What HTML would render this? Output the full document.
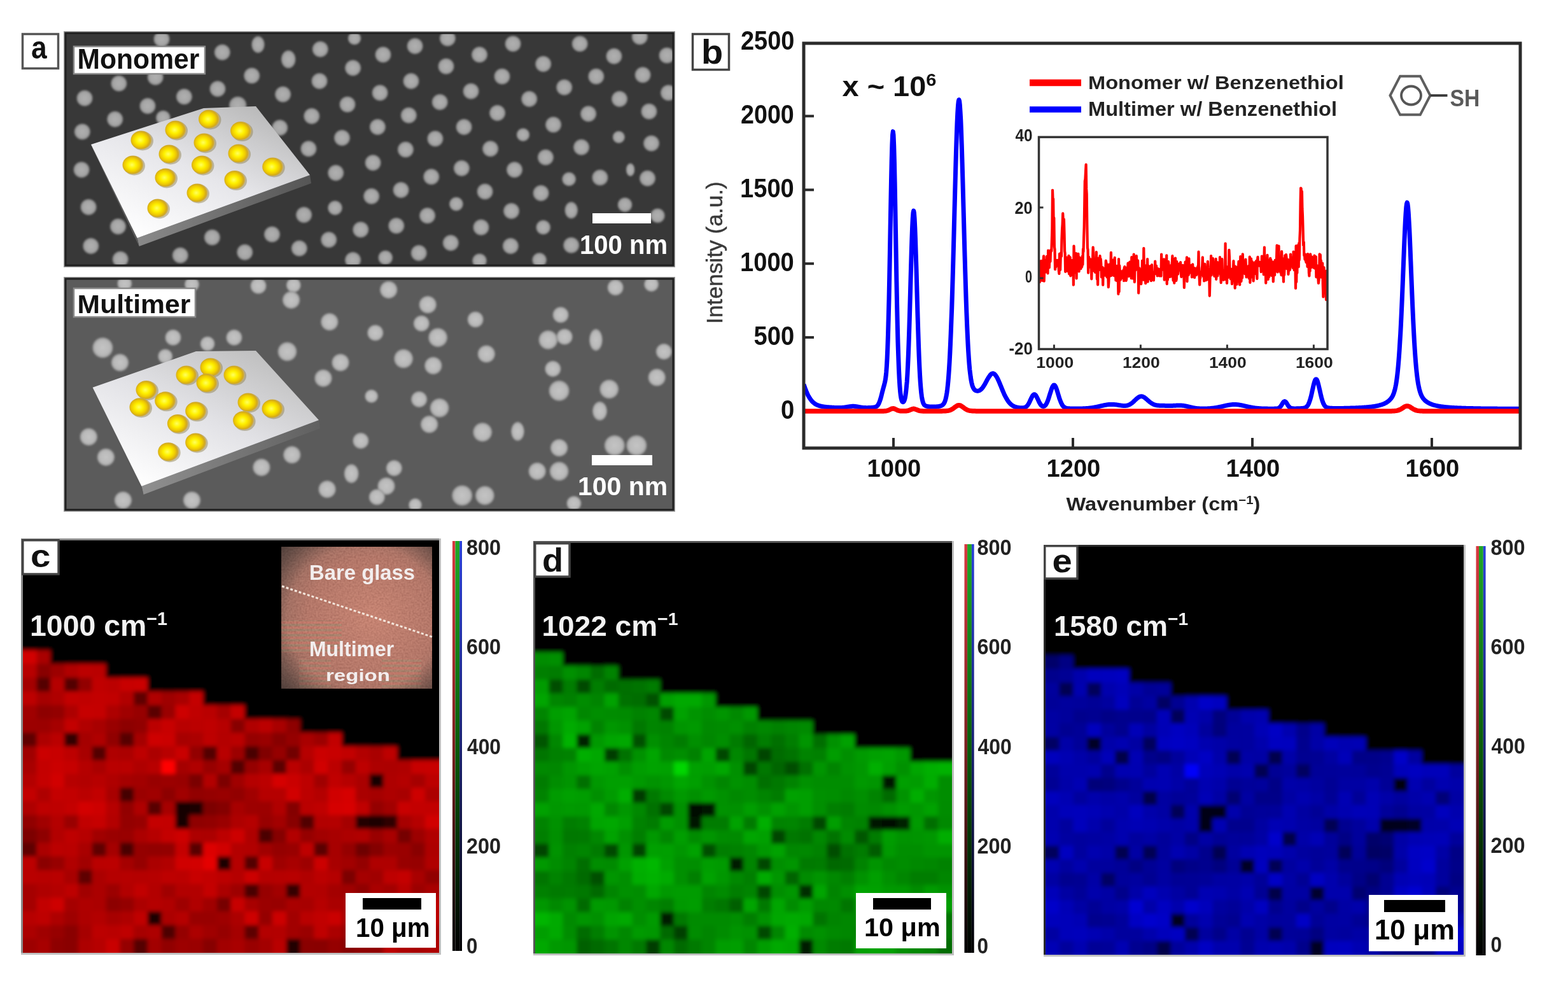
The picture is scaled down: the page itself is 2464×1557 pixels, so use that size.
<!DOCTYPE html>
<html><head><meta charset="utf-8"><title>Figure</title>
<style>html,body{margin:0;padding:0;background:#fff;} svg{display:block;} text{font-family:"Liberation Sans", Arial, sans-serif;}</style>
</head><body>
<svg width="2464" height="1557" viewBox="0 0 2464 1557">
<defs>
<filter id="blur1" x="-5%" y="-5%" width="110%" height="110%"><feGaussianBlur stdDeviation="1.6"/></filter>
<filter id="blur2" x="0" y="0" width="100%" height="100%"><feGaussianBlur stdDeviation="3"/></filter>
<radialGradient id="dotA"><stop offset="0" stop-color="#b0b0b0"/><stop offset="0.7" stop-color="#a4a4a4"/><stop offset="0.9" stop-color="#808080"/><stop offset="1" stop-color="#383838" stop-opacity="0"/></radialGradient>
<radialGradient id="dotB"><stop offset="0" stop-color="#c4c4c4"/><stop offset="0.7" stop-color="#b8b8b8"/><stop offset="0.9" stop-color="#969696"/><stop offset="1" stop-color="#5b5b5b" stop-opacity="0"/></radialGradient>
<radialGradient id="gold" cx="0.45" cy="0.5" r="0.55"><stop offset="0" stop-color="#ffff60"/><stop offset="0.35" stop-color="#fff200"/><stop offset="0.65" stop-color="#f0cc00"/><stop offset="0.85" stop-color="#d0a820"/><stop offset="1" stop-color="#c8b070"/></radialGradient>
<linearGradient id="plateA" x1="0.15" y1="0.95" x2="0.85" y2="0.05"><stop offset="0" stop-color="#ffffff"/><stop offset="0.5" stop-color="#e6e6ea"/><stop offset="1" stop-color="#b8b8b8"/></linearGradient>
<linearGradient id="plateB" x1="0.15" y1="0.95" x2="0.85" y2="0.05"><stop offset="0" stop-color="#ffffff"/><stop offset="0.5" stop-color="#e2e2e6"/><stop offset="1" stop-color="#bdbdbd"/></linearGradient>
<linearGradient id="sideA" x1="0" y1="0" x2="1" y2="0"><stop offset="0" stop-color="#8a8a8a"/><stop offset="1" stop-color="#555"/></linearGradient>
<linearGradient id="sideB" x1="0" y1="0" x2="1" y2="0"><stop offset="0" stop-color="#909090"/><stop offset="1" stop-color="#606060"/></linearGradient>
<linearGradient id="cbR" x1="0" y1="1" x2="0" y2="0"><stop offset="0" stop-color="#000"/><stop offset="0.5" stop-color="#7a2020"/><stop offset="1" stop-color="#d83840"/></linearGradient>
<linearGradient id="cbG" x1="0" y1="1" x2="0" y2="0"><stop offset="0" stop-color="#000"/><stop offset="0.5" stop-color="#0a5a0a"/><stop offset="1" stop-color="#20a828"/></linearGradient>
<linearGradient id="cbB" x1="0" y1="1" x2="0" y2="0"><stop offset="0" stop-color="#000"/><stop offset="0.5" stop-color="#182070"/><stop offset="1" stop-color="#2840d8"/></linearGradient>
<radialGradient id="photo" cx="0.6" cy="0.5" r="0.7"><stop offset="0" stop-color="#c47864"/><stop offset="0.6" stop-color="#aa6656"/><stop offset="1" stop-color="#7c5448"/></radialGradient>
<radialGradient id="vign" cx="0.55" cy="0.5" r="0.75"><stop offset="0.68" stop-color="#202020" stop-opacity="0"/><stop offset="1" stop-color="#202020" stop-opacity="0.6"/></radialGradient>
<pattern id="stripes" width="8" height="8" patternUnits="userSpaceOnUse"><rect width="8" height="4" fill="#c86858"/><rect y="4" width="8" height="4" fill="#8c8060"/></pattern>
<filter id="grain" x="0" y="0" width="100%" height="100%"><feTurbulence type="fractalNoise" baseFrequency="0.35" numOctaves="1" seed="5" result="n"/><feColorMatrix in="n" type="matrix" values="0.9 0 0 0 0.15  0.6 0 0 0 0.05  0.5 0 0 0 0.05  0 0 0 0 1"/></filter>
</defs>
<rect width="2464" height="1557" fill="#fff"/>
<rect x="35.5" y="53.5" width="56" height="54" fill="#fff" stroke="#555" stroke-width="3.5"/>
<text id="t_lab_a" x="49.0" y="92.0" font-size="50.0" font-weight="bold" fill="#111"  textLength="24.7" lengthAdjust="spacingAndGlyphs">a</text>
<g>
<rect x="100" y="49" width="961" height="371" fill="#9a9a9a"/>
<rect x="102" y="51" width="957" height="367" fill="#383838"/>
<svg x="102" y="51" width="957" height="367" overflow="hidden"><g transform="translate(-102,-51)" filter="url(#blur1)">
<ellipse cx="602.0" cy="85.9" rx="13.5" ry="13.5" fill="url(#dotA)"/>
<ellipse cx="652.1" cy="72.4" rx="13.5" ry="13.5" fill="url(#dotA)"/>
<ellipse cx="703.4" cy="60.2" rx="13.5" ry="13.5" fill="url(#dotA)"/>
<ellipse cx="753.5" cy="85.9" rx="13.5" ry="13.5" fill="url(#dotA)"/>
<ellipse cx="806.1" cy="68.8" rx="13.5" ry="13.5" fill="url(#dotA)"/>
<ellipse cx="853.7" cy="100.5" rx="13.5" ry="13.5" fill="url(#dotA)"/>
<ellipse cx="911.2" cy="68.8" rx="13.5" ry="13.5" fill="url(#dotA)"/>
<ellipse cx="964.9" cy="88.3" rx="13.5" ry="13.5" fill="url(#dotA)"/>
<ellipse cx="1005.3" cy="57.8" rx="13.5" ry="13.5" fill="url(#dotA)"/>
<ellipse cx="1048.0" cy="87.1" rx="13.5" ry="13.5" fill="url(#dotA)"/>
<ellipse cx="701.0" cy="104.2" rx="13.5" ry="13.5" fill="url(#dotA)"/>
<ellipse cx="646.0" cy="127.4" rx="13.5" ry="13.5" fill="url(#dotA)"/>
<ellipse cx="789.0" cy="120.1" rx="13.5" ry="13.5" fill="url(#dotA)"/>
<ellipse cx="936.8" cy="120.1" rx="13.5" ry="13.5" fill="url(#dotA)"/>
<ellipse cx="1010.1" cy="117.7" rx="13.5" ry="13.5" fill="url(#dotA)"/>
<ellipse cx="597.1" cy="145.8" rx="13.5" ry="13.5" fill="url(#dotA)"/>
<ellipse cx="740.1" cy="143.3" rx="13.5" ry="13.5" fill="url(#dotA)"/>
<ellipse cx="886.7" cy="137.2" rx="13.5" ry="13.5" fill="url(#dotA)"/>
<ellipse cx="973.5" cy="155.5" rx="13.5" ry="13.5" fill="url(#dotA)"/>
<ellipse cx="1050.5" cy="145.8" rx="13.5" ry="13.5" fill="url(#dotA)"/>
<ellipse cx="691.2" cy="160.4" rx="13.5" ry="13.5" fill="url(#dotA)"/>
<ellipse cx="831.7" cy="155.5" rx="13.5" ry="13.5" fill="url(#dotA)"/>
<ellipse cx="642.3" cy="181.2" rx="13.5" ry="13.5" fill="url(#dotA)"/>
<ellipse cx="781.6" cy="177.5" rx="13.5" ry="13.5" fill="url(#dotA)"/>
<ellipse cx="924.6" cy="178.8" rx="13.5" ry="13.5" fill="url(#dotA)"/>
<ellipse cx="1019.9" cy="175.1" rx="13.5" ry="13.5" fill="url(#dotA)"/>
<ellipse cx="593.4" cy="199.5" rx="13.5" ry="13.5" fill="url(#dotA)"/>
<ellipse cx="729.1" cy="199.5" rx="13.5" ry="13.5" fill="url(#dotA)"/>
<ellipse cx="869.6" cy="195.9" rx="13.5" ry="13.5" fill="url(#dotA)"/>
<ellipse cx="822.0" cy="211.7" rx="11.0" ry="11.0" fill="url(#dotA)"/>
<ellipse cx="972.3" cy="215.4" rx="10.3" ry="10.3" fill="url(#dotA)"/>
<ellipse cx="683.9" cy="217.9" rx="13.5" ry="13.5" fill="url(#dotA)"/>
<ellipse cx="770.6" cy="233.7" rx="13.5" ry="13.5" fill="url(#dotA)"/>
<ellipse cx="913.6" cy="231.3" rx="13.5" ry="13.5" fill="url(#dotA)"/>
<ellipse cx="1023.6" cy="225.2" rx="13.5" ry="13.5" fill="url(#dotA)"/>
<ellipse cx="637.4" cy="235.0" rx="13.5" ry="13.5" fill="url(#dotA)"/>
<ellipse cx="586.1" cy="255.7" rx="13.5" ry="13.5" fill="url(#dotA)"/>
<ellipse cx="725.4" cy="264.3" rx="13.5" ry="13.5" fill="url(#dotA)"/>
<ellipse cx="857.4" cy="247.2" rx="13.5" ry="13.5" fill="url(#dotA)"/>
<ellipse cx="808.5" cy="266.7" rx="13.5" ry="13.5" fill="url(#dotA)"/>
<ellipse cx="990.6" cy="266.7" rx="7.3" ry="11.0" fill="url(#dotA)"/>
<ellipse cx="677.8" cy="277.7" rx="13.5" ry="13.5" fill="url(#dotA)"/>
<ellipse cx="894.1" cy="281.4" rx="11.7" ry="11.7" fill="url(#dotA)"/>
<ellipse cx="942.9" cy="279.0" rx="13.5" ry="13.5" fill="url(#dotA)"/>
<ellipse cx="1017.5" cy="280.2" rx="13.5" ry="13.5" fill="url(#dotA)"/>
<ellipse cx="630.1" cy="298.5" rx="13.5" ry="13.5" fill="url(#dotA)"/>
<ellipse cx="762.1" cy="301.0" rx="13.5" ry="13.5" fill="url(#dotA)"/>
<ellipse cx="850.1" cy="303.4" rx="13.5" ry="13.5" fill="url(#dotA)"/>
<ellipse cx="583.7" cy="308.3" rx="13.5" ry="13.5" fill="url(#dotA)"/>
<ellipse cx="716.9" cy="320.5" rx="11.7" ry="11.7" fill="url(#dotA)"/>
<ellipse cx="803.6" cy="331.5" rx="13.5" ry="13.5" fill="url(#dotA)"/>
<ellipse cx="897.7" cy="330.3" rx="11.0" ry="14.2" fill="url(#dotA)"/>
<ellipse cx="982.0" cy="321.7" rx="12.2" ry="12.2" fill="url(#dotA)"/>
<ellipse cx="671.6" cy="338.8" rx="13.5" ry="13.5" fill="url(#dotA)"/>
<ellipse cx="1033.4" cy="338.8" rx="12.2" ry="12.2" fill="url(#dotA)"/>
<ellipse cx="622.8" cy="354.7" rx="13.5" ry="13.5" fill="url(#dotA)"/>
<ellipse cx="756.0" cy="357.2" rx="13.5" ry="13.5" fill="url(#dotA)"/>
<ellipse cx="853.7" cy="357.2" rx="12.2" ry="12.2" fill="url(#dotA)"/>
<ellipse cx="708.3" cy="381.6" rx="13.5" ry="13.5" fill="url(#dotA)"/>
<ellipse cx="802.4" cy="386.5" rx="13.5" ry="13.5" fill="url(#dotA)"/>
<ellipse cx="897.7" cy="385.3" rx="13.5" ry="13.5" fill="url(#dotA)"/>
<ellipse cx="658.2" cy="397.5" rx="13.5" ry="13.5" fill="url(#dotA)"/>
<ellipse cx="605.7" cy="404.8" rx="12.2" ry="12.2" fill="url(#dotA)"/>
<ellipse cx="753.5" cy="409.7" rx="12.2" ry="12.2" fill="url(#dotA)"/>
<ellipse cx="847.6" cy="408.5" rx="12.2" ry="12.2" fill="url(#dotA)"/>
<ellipse cx="254.0" cy="61.4" rx="13.5" ry="13.5" fill="url(#dotA)"/>
<ellipse cx="349.3" cy="82.2" rx="13.5" ry="13.5" fill="url(#dotA)"/>
<ellipse cx="405.5" cy="70.0" rx="11.0" ry="14.2" fill="url(#dotA)"/>
<ellipse cx="453.2" cy="93.2" rx="12.2" ry="15.2" fill="url(#dotA)"/>
<ellipse cx="503.3" cy="77.3" rx="13.5" ry="13.5" fill="url(#dotA)"/>
<ellipse cx="557.0" cy="60.2" rx="11.0" ry="11.0" fill="url(#dotA)"/>
<ellipse cx="554.6" cy="106.7" rx="13.5" ry="13.5" fill="url(#dotA)"/>
<ellipse cx="186.8" cy="131.1" rx="13.5" ry="13.5" fill="url(#dotA)"/>
<ellipse cx="244.2" cy="121.3" rx="13.5" ry="13.5" fill="url(#dotA)"/>
<ellipse cx="342.0" cy="139.6" rx="13.5" ry="13.5" fill="url(#dotA)"/>
<ellipse cx="395.7" cy="118.9" rx="13.5" ry="13.5" fill="url(#dotA)"/>
<ellipse cx="502.0" cy="127.4" rx="13.5" ry="13.5" fill="url(#dotA)"/>
<ellipse cx="133.0" cy="154.3" rx="13.5" ry="13.5" fill="url(#dotA)"/>
<ellipse cx="289.4" cy="151.9" rx="13.5" ry="13.5" fill="url(#dotA)"/>
<ellipse cx="232.0" cy="166.5" rx="13.5" ry="13.5" fill="url(#dotA)"/>
<ellipse cx="444.6" cy="148.2" rx="13.5" ry="13.5" fill="url(#dotA)"/>
<ellipse cx="546.0" cy="164.1" rx="13.5" ry="13.5" fill="url(#dotA)"/>
<ellipse cx="180.7" cy="187.3" rx="13.5" ry="13.5" fill="url(#dotA)"/>
<ellipse cx="489.8" cy="182.4" rx="13.5" ry="13.5" fill="url(#dotA)"/>
<ellipse cx="129.3" cy="206.9" rx="13.5" ry="13.5" fill="url(#dotA)"/>
<ellipse cx="439.7" cy="200.7" rx="13.5" ry="13.5" fill="url(#dotA)"/>
<ellipse cx="537.5" cy="216.6" rx="13.5" ry="13.5" fill="url(#dotA)"/>
<ellipse cx="484.9" cy="233.7" rx="13.5" ry="13.5" fill="url(#dotA)"/>
<ellipse cx="128.1" cy="266.7" rx="13.5" ry="13.5" fill="url(#dotA)"/>
<ellipse cx="527.7" cy="271.6" rx="13.5" ry="13.5" fill="url(#dotA)"/>
<ellipse cx="139.1" cy="325.4" rx="13.5" ry="13.5" fill="url(#dotA)"/>
<ellipse cx="526.5" cy="326.6" rx="12.2" ry="12.2" fill="url(#dotA)"/>
<ellipse cx="477.6" cy="337.6" rx="13.5" ry="13.5" fill="url(#dotA)"/>
<ellipse cx="185.5" cy="355.9" rx="13.5" ry="13.5" fill="url(#dotA)"/>
<ellipse cx="566.8" cy="360.8" rx="13.5" ry="13.5" fill="url(#dotA)"/>
<ellipse cx="142.8" cy="386.5" rx="13.5" ry="13.5" fill="url(#dotA)"/>
<ellipse cx="333.4" cy="373.0" rx="13.5" ry="13.5" fill="url(#dotA)"/>
<ellipse cx="427.5" cy="368.2" rx="13.5" ry="13.5" fill="url(#dotA)"/>
<ellipse cx="516.7" cy="376.7" rx="13.5" ry="13.5" fill="url(#dotA)"/>
<ellipse cx="189.2" cy="407.3" rx="13.5" ry="13.5" fill="url(#dotA)"/>
<ellipse cx="283.3" cy="401.2" rx="13.5" ry="13.5" fill="url(#dotA)"/>
<ellipse cx="384.7" cy="396.3" rx="13.5" ry="13.5" fill="url(#dotA)"/>
<ellipse cx="470.3" cy="390.2" rx="13.5" ry="13.5" fill="url(#dotA)"/>
<ellipse cx="554.6" cy="408.5" rx="13.5" ry="13.5" fill="url(#dotA)"/>
<ellipse cx="373.7" cy="165.3" rx="14.7" ry="14.7" fill="url(#dotA)"/>
<ellipse cx="256.4" cy="184.9" rx="12.2" ry="12.2" fill="url(#dotA)"/>
</g></svg>
<rect x="103" y="52" width="955" height="365" fill="none" stroke="#1e1e1e" stroke-width="3"/>
</g>
<polygon points="215.6,374 487,275 489,288 218.6,387" fill="url(#sideA)"/>
<polygon points="143,227 215.6,374 218.6,387 144,230" fill="#5a5a5a"/>
<polygon points="143,227 320,170 402,167 487,275 215.6,374" fill="url(#plateA)"/>
<ellipse cx="224.0" cy="221.5" rx="17" ry="15" fill="#8a7a40" opacity="0.45"/>
<ellipse cx="222.0" cy="220.0" rx="16.5" ry="14.5" fill="url(#gold)"/>
<ellipse cx="278.0" cy="205.5" rx="17" ry="15" fill="#8a7a40" opacity="0.45"/>
<ellipse cx="276.0" cy="204.0" rx="16.5" ry="14.5" fill="url(#gold)"/>
<ellipse cx="330.5" cy="188.5" rx="17" ry="15" fill="#8a7a40" opacity="0.45"/>
<ellipse cx="328.5" cy="187.0" rx="16.5" ry="14.5" fill="url(#gold)"/>
<ellipse cx="380.6" cy="207.1" rx="17" ry="15" fill="#8a7a40" opacity="0.45"/>
<ellipse cx="378.6" cy="205.6" rx="16.5" ry="14.5" fill="url(#gold)"/>
<ellipse cx="268.0" cy="243.5" rx="17" ry="15" fill="#8a7a40" opacity="0.45"/>
<ellipse cx="266.0" cy="242.0" rx="16.5" ry="14.5" fill="url(#gold)"/>
<ellipse cx="323.0" cy="225.5" rx="17" ry="15" fill="#8a7a40" opacity="0.45"/>
<ellipse cx="321.0" cy="224.0" rx="16.5" ry="14.5" fill="url(#gold)"/>
<ellipse cx="377.0" cy="242.5" rx="17" ry="15" fill="#8a7a40" opacity="0.45"/>
<ellipse cx="375.0" cy="241.0" rx="16.5" ry="14.5" fill="url(#gold)"/>
<ellipse cx="211.0" cy="260.5" rx="17" ry="15" fill="#8a7a40" opacity="0.45"/>
<ellipse cx="209.0" cy="259.0" rx="16.5" ry="14.5" fill="url(#gold)"/>
<ellipse cx="319.5" cy="260.5" rx="17" ry="15" fill="#8a7a40" opacity="0.45"/>
<ellipse cx="317.5" cy="259.0" rx="16.5" ry="14.5" fill="url(#gold)"/>
<ellipse cx="430.7" cy="263.5" rx="17" ry="15" fill="#8a7a40" opacity="0.45"/>
<ellipse cx="428.7" cy="262.0" rx="16.5" ry="14.5" fill="url(#gold)"/>
<ellipse cx="262.0" cy="280.5" rx="17" ry="15" fill="#8a7a40" opacity="0.45"/>
<ellipse cx="260.0" cy="279.0" rx="16.5" ry="14.5" fill="url(#gold)"/>
<ellipse cx="371.0" cy="284.1" rx="17" ry="15" fill="#8a7a40" opacity="0.45"/>
<ellipse cx="369.0" cy="282.6" rx="16.5" ry="14.5" fill="url(#gold)"/>
<ellipse cx="312.0" cy="304.5" rx="17" ry="15" fill="#8a7a40" opacity="0.45"/>
<ellipse cx="310.0" cy="303.0" rx="16.5" ry="14.5" fill="url(#gold)"/>
<ellipse cx="250.0" cy="328.5" rx="17" ry="15" fill="#8a7a40" opacity="0.45"/>
<ellipse cx="248.0" cy="327.0" rx="16.5" ry="14.5" fill="url(#gold)"/>
<rect x="116" y="73" width="206" height="43" fill="#fff" stroke="#8a8a8a" stroke-width="2.5"/>
<text id="t_monomer" x="121.5" y="108.0" font-size="44.7" font-weight="bold" fill="#111"  textLength="191.9" lengthAdjust="spacingAndGlyphs">Monomer</text>
<rect x="931" y="335" width="92" height="16" fill="#fff"/>
<text id="t_nm1" x="911.0" y="399.0" font-size="42.3" font-weight="bold" fill="#fff"  textLength="138.2" lengthAdjust="spacingAndGlyphs">100 nm</text>
<g>
<rect x="100" y="435" width="961" height="369" fill="#9a9a9a"/>
<rect x="102" y="437" width="957" height="365" fill="#5b5b5b"/>
<svg x="102" y="437" width="957" height="365" overflow="hidden"><g transform="translate(-102,-437)" filter="url(#blur1)">
<ellipse cx="610.7" cy="455.3" rx="14.7" ry="14.7" fill="url(#dotB)"/>
<ellipse cx="672.2" cy="478.7" rx="14.7" ry="14.7" fill="url(#dotB)"/>
<ellipse cx="662.3" cy="508.2" rx="13.5" ry="13.5" fill="url(#dotB)"/>
<ellipse cx="589.8" cy="522.9" rx="13.5" ry="13.5" fill="url(#dotB)"/>
<ellipse cx="688.1" cy="530.3" rx="16.0" ry="16.0" fill="url(#dotB)"/>
<ellipse cx="747.1" cy="502.0" rx="13.5" ry="13.5" fill="url(#dotB)"/>
<ellipse cx="764.3" cy="556.1" rx="14.7" ry="14.7" fill="url(#dotB)"/>
<ellipse cx="634.1" cy="563.5" rx="16.0" ry="16.0" fill="url(#dotB)"/>
<ellipse cx="680.8" cy="574.5" rx="14.7" ry="14.7" fill="url(#dotB)"/>
<ellipse cx="881.1" cy="494.7" rx="13.5" ry="13.5" fill="url(#dotB)"/>
<ellipse cx="861.4" cy="534.0" rx="16.0" ry="16.0" fill="url(#dotB)"/>
<ellipse cx="887.2" cy="529.1" rx="13.5" ry="13.5" fill="url(#dotB)"/>
<ellipse cx="936.4" cy="534.0" rx="11.1" ry="18.4" fill="url(#dotB)"/>
<ellipse cx="1043.3" cy="552.4" rx="13.5" ry="13.5" fill="url(#dotB)"/>
<ellipse cx="868.8" cy="579.5" rx="13.5" ry="13.5" fill="url(#dotB)"/>
<ellipse cx="878.6" cy="613.9" rx="17.2" ry="17.2" fill="url(#dotB)"/>
<ellipse cx="1032.2" cy="593.0" rx="14.7" ry="14.7" fill="url(#dotB)"/>
<ellipse cx="957.2" cy="611.4" rx="16.0" ry="16.0" fill="url(#dotB)"/>
<ellipse cx="942.5" cy="645.8" rx="12.3" ry="16.0" fill="url(#dotB)"/>
<ellipse cx="583.7" cy="622.5" rx="11.1" ry="11.1" fill="url(#dotB)"/>
<ellipse cx="658.6" cy="627.4" rx="13.5" ry="13.5" fill="url(#dotB)"/>
<ellipse cx="690.6" cy="640.9" rx="16.0" ry="16.0" fill="url(#dotB)"/>
<ellipse cx="674.6" cy="666.7" rx="14.7" ry="14.7" fill="url(#dotB)"/>
<ellipse cx="758.2" cy="679.0" rx="16.0" ry="16.0" fill="url(#dotB)"/>
<ellipse cx="813.5" cy="677.8" rx="11.1" ry="16.0" fill="url(#dotB)"/>
<ellipse cx="967.1" cy="451.7" rx="13.5" ry="13.5" fill="url(#dotB)"/>
<ellipse cx="1023.6" cy="446.7" rx="12.3" ry="12.3" fill="url(#dotB)"/>
<ellipse cx="878.6" cy="703.6" rx="14.7" ry="14.7" fill="url(#dotB)"/>
<ellipse cx="965.8" cy="699.9" rx="17.2" ry="17.2" fill="url(#dotB)"/>
<ellipse cx="1000.3" cy="699.9" rx="17.2" ry="17.2" fill="url(#dotB)"/>
<ellipse cx="844.2" cy="740.4" rx="14.7" ry="14.7" fill="url(#dotB)"/>
<ellipse cx="878.6" cy="740.4" rx="16.0" ry="16.0" fill="url(#dotB)"/>
<ellipse cx="619.3" cy="735.5" rx="13.5" ry="13.5" fill="url(#dotB)"/>
<ellipse cx="607.0" cy="763.8" rx="14.7" ry="14.7" fill="url(#dotB)"/>
<ellipse cx="592.3" cy="781.0" rx="13.5" ry="13.5" fill="url(#dotB)"/>
<ellipse cx="726.2" cy="778.5" rx="17.2" ry="17.2" fill="url(#dotB)"/>
<ellipse cx="761.9" cy="778.5" rx="16.0" ry="16.0" fill="url(#dotB)"/>
<ellipse cx="652.5" cy="793.3" rx="11.1" ry="11.1" fill="url(#dotB)"/>
<ellipse cx="901.9" cy="790.8" rx="12.3" ry="12.3" fill="url(#dotB)"/>
<ellipse cx="195.8" cy="445.5" rx="12.3" ry="12.3" fill="url(#dotB)"/>
<ellipse cx="301.5" cy="446.7" rx="12.3" ry="12.3" fill="url(#dotB)"/>
<ellipse cx="406.0" cy="449.2" rx="13.5" ry="13.5" fill="url(#dotB)"/>
<ellipse cx="461.3" cy="448.0" rx="12.3" ry="12.3" fill="url(#dotB)"/>
<ellipse cx="457.6" cy="471.3" rx="14.7" ry="14.7" fill="url(#dotB)"/>
<ellipse cx="517.8" cy="505.7" rx="14.7" ry="14.7" fill="url(#dotB)"/>
<ellipse cx="161.4" cy="546.3" rx="17.2" ry="17.2" fill="url(#dotB)"/>
<ellipse cx="188.5" cy="569.6" rx="14.7" ry="14.7" fill="url(#dotB)"/>
<ellipse cx="272.0" cy="530.3" rx="13.5" ry="13.5" fill="url(#dotB)"/>
<ellipse cx="451.4" cy="552.4" rx="16.0" ry="16.0" fill="url(#dotB)"/>
<ellipse cx="535.0" cy="569.6" rx="14.7" ry="14.7" fill="url(#dotB)"/>
<ellipse cx="508.0" cy="594.2" rx="14.7" ry="14.7" fill="url(#dotB)"/>
<ellipse cx="139.3" cy="686.4" rx="14.7" ry="14.7" fill="url(#dotB)"/>
<ellipse cx="166.4" cy="718.3" rx="14.7" ry="14.7" fill="url(#dotB)"/>
<ellipse cx="458.8" cy="714.6" rx="14.7" ry="14.7" fill="url(#dotB)"/>
<ellipse cx="410.9" cy="734.3" rx="14.7" ry="14.7" fill="url(#dotB)"/>
<ellipse cx="552.2" cy="744.1" rx="12.3" ry="16.0" fill="url(#dotB)"/>
<ellipse cx="566.9" cy="692.5" rx="13.5" ry="13.5" fill="url(#dotB)"/>
<ellipse cx="514.1" cy="768.7" rx="14.7" ry="14.7" fill="url(#dotB)"/>
<ellipse cx="193.4" cy="785.9" rx="14.7" ry="14.7" fill="url(#dotB)"/>
<ellipse cx="301.5" cy="785.9" rx="14.7" ry="14.7" fill="url(#dotB)"/>
<ellipse cx="326.1" cy="540.1" rx="12.3" ry="12.3" fill="url(#dotB)"/>
<ellipse cx="367.9" cy="530.3" rx="13.5" ry="13.5" fill="url(#dotB)"/>
<ellipse cx="259.7" cy="559.8" rx="12.3" ry="12.3" fill="url(#dotB)"/>
</g></svg>
<rect x="103" y="438" width="955" height="363" fill="none" stroke="#1e1e1e" stroke-width="3"/>
</g>
<polygon points="222.5,764 501,660 503,673 225.5,777" fill="url(#sideB)"/>
<polygon points="145.6,608.8 222.5,764 225.5,777 146.6,611.8" fill="#5a5a5a"/>
<polygon points="145.6,608.8 308,552 402,551 501,660 222.5,764" fill="url(#plateB)"/>
<ellipse cx="232.0" cy="614.1" rx="17" ry="15" fill="#8a7a40" opacity="0.45"/>
<ellipse cx="230.0" cy="612.6" rx="16.5" ry="14.5" fill="url(#gold)"/>
<ellipse cx="222.0" cy="641.2" rx="17" ry="15" fill="#8a7a40" opacity="0.45"/>
<ellipse cx="220.0" cy="639.7" rx="16.5" ry="14.5" fill="url(#gold)"/>
<ellipse cx="261.7" cy="631.3" rx="17" ry="15" fill="#8a7a40" opacity="0.45"/>
<ellipse cx="259.7" cy="629.8" rx="16.5" ry="14.5" fill="url(#gold)"/>
<ellipse cx="295.0" cy="590.5" rx="17" ry="15" fill="#8a7a40" opacity="0.45"/>
<ellipse cx="293.0" cy="589.0" rx="16.5" ry="14.5" fill="url(#gold)"/>
<ellipse cx="333.0" cy="578.5" rx="17" ry="15" fill="#8a7a40" opacity="0.45"/>
<ellipse cx="331.0" cy="577.0" rx="16.5" ry="14.5" fill="url(#gold)"/>
<ellipse cx="327.0" cy="603.1" rx="17" ry="15" fill="#8a7a40" opacity="0.45"/>
<ellipse cx="325.0" cy="601.6" rx="16.5" ry="14.5" fill="url(#gold)"/>
<ellipse cx="370.0" cy="590.5" rx="17" ry="15" fill="#8a7a40" opacity="0.45"/>
<ellipse cx="368.0" cy="589.0" rx="16.5" ry="14.5" fill="url(#gold)"/>
<ellipse cx="309.7" cy="647.3" rx="17" ry="15" fill="#8a7a40" opacity="0.45"/>
<ellipse cx="307.7" cy="645.8" rx="16.5" ry="14.5" fill="url(#gold)"/>
<ellipse cx="281.4" cy="667.0" rx="17" ry="15" fill="#8a7a40" opacity="0.45"/>
<ellipse cx="279.4" cy="665.5" rx="16.5" ry="14.5" fill="url(#gold)"/>
<ellipse cx="392.0" cy="633.5" rx="17" ry="15" fill="#8a7a40" opacity="0.45"/>
<ellipse cx="390.0" cy="632.0" rx="16.5" ry="14.5" fill="url(#gold)"/>
<ellipse cx="430.0" cy="643.5" rx="17" ry="15" fill="#8a7a40" opacity="0.45"/>
<ellipse cx="428.0" cy="642.0" rx="16.5" ry="14.5" fill="url(#gold)"/>
<ellipse cx="384.6" cy="662.1" rx="17" ry="15" fill="#8a7a40" opacity="0.45"/>
<ellipse cx="382.6" cy="660.6" rx="16.5" ry="14.5" fill="url(#gold)"/>
<ellipse cx="309.7" cy="696.5" rx="17" ry="15" fill="#8a7a40" opacity="0.45"/>
<ellipse cx="307.7" cy="695.0" rx="16.5" ry="14.5" fill="url(#gold)"/>
<ellipse cx="266.7" cy="711.2" rx="17" ry="15" fill="#8a7a40" opacity="0.45"/>
<ellipse cx="264.7" cy="709.7" rx="16.5" ry="14.5" fill="url(#gold)"/>
<rect x="116" y="453" width="191" height="45" fill="#fff" stroke="#8a8a8a" stroke-width="2.5"/>
<text id="t_multimer" x="121.6" y="491.5" font-size="40.7" font-weight="bold" fill="#111"  textLength="177.8" lengthAdjust="spacingAndGlyphs">Multimer</text>
<rect x="930" y="715" width="95" height="16" fill="#fff"/>
<text id="t_nm2" x="908.0" y="778.0" font-size="41.0" font-weight="bold" fill="#fff"  textLength="141.3" lengthAdjust="spacingAndGlyphs">100 nm</text>
<rect x="1088.5" y="53.5" width="57" height="56" fill="#fff" stroke="#444" stroke-width="3.5"/>
<text id="t_lab_b" x="1102.0" y="100.0" font-size="52.8" font-weight="bold" fill="#111"  textLength="34.2" lengthAdjust="spacingAndGlyphs">b</text>
<clipPath id="clipB"><rect x="1263" y="68" width="1126" height="636"/></clipPath>
<g clip-path="url(#clipB)">
<path d="M1263.0,603.7 L1263.7,605.9 L1264.4,607.9 L1265.1,609.9 L1265.8,611.8 L1266.5,613.6 L1267.2,615.4 L1267.9,617.0 L1268.6,618.6 L1269.3,620.1 L1270.0,621.5 L1270.8,622.8 L1271.5,624.0 L1272.2,625.2 L1272.9,626.3 L1273.6,627.3 L1274.3,628.2 L1275.0,629.1 L1275.7,630.0 L1276.4,630.7 L1277.1,631.5 L1277.8,632.1 L1278.5,632.7 L1279.2,633.3 L1279.9,633.9 L1280.6,634.3 L1281.3,634.8 L1282.0,635.2 L1282.7,635.6 L1283.4,635.9 L1284.2,636.3 L1284.9,636.6 L1285.6,636.9 L1286.3,637.1 L1287.0,637.3 L1287.7,637.6 L1288.4,637.8 L1289.1,637.9 L1289.8,638.1 L1290.5,638.3 L1291.2,638.4 L1291.9,638.6 L1292.6,638.7 L1293.3,638.8 L1294.0,638.9 L1294.7,639.0 L1295.4,639.1 L1296.1,639.2 L1296.8,639.3 L1297.5,639.4 L1298.2,639.5 L1299.0,639.5 L1299.7,639.6 L1300.4,639.7 L1301.1,639.7 L1301.8,639.8 L1302.5,639.8 L1303.2,639.9 L1303.9,639.9 L1304.6,640.0 L1305.3,640.0 L1306.0,640.1 L1306.7,640.1 L1307.4,640.2 L1308.1,640.2 L1308.8,640.3 L1309.5,640.3 L1310.2,640.3 L1310.9,640.4 L1311.6,640.4 L1312.3,640.4 L1313.1,640.4 L1313.8,640.5 L1314.5,640.5 L1315.2,640.5 L1315.9,640.5 L1316.6,640.5 L1317.3,640.5 L1318.0,640.5 L1318.7,640.5 L1319.4,640.5 L1320.1,640.5 L1320.8,640.5 L1321.5,640.5 L1322.2,640.4 L1322.9,640.4 L1323.6,640.4 L1324.3,640.3 L1325.0,640.2 L1325.7,640.2 L1326.5,640.1 L1327.2,640.0 L1327.9,639.9 L1328.6,639.8 L1329.3,639.7 L1330.0,639.6 L1330.7,639.5 L1331.4,639.3 L1332.1,639.2 L1332.8,639.1 L1333.5,639.0 L1334.2,638.9 L1334.9,638.8 L1335.6,638.7 L1336.3,638.6 L1337.0,638.5 L1337.7,638.4 L1338.4,638.4 L1339.1,638.3 L1339.8,638.3 L1340.5,638.3 L1341.3,638.3 L1342.0,638.3 L1342.7,638.4 L1343.4,638.4 L1344.1,638.5 L1344.8,638.6 L1345.5,638.7 L1346.2,638.8 L1346.9,638.9 L1347.6,639.0 L1348.3,639.2 L1349.0,639.3 L1349.7,639.4 L1350.4,639.5 L1351.1,639.7 L1351.8,639.8 L1352.5,639.9 L1353.2,640.0 L1353.9,640.1 L1354.7,640.2 L1355.4,640.3 L1356.1,640.4 L1356.8,640.4 L1357.5,640.5 L1358.2,640.5 L1358.9,640.6 L1359.6,640.6 L1360.3,640.6 L1361.0,640.6 L1361.7,640.7 L1362.4,640.7 L1363.1,640.7 L1363.8,640.6 L1364.5,640.6 L1365.2,640.6 L1365.9,640.6 L1366.6,640.6 L1367.3,640.5 L1368.0,640.5 L1368.8,640.4 L1369.5,640.4 L1370.2,640.3 L1370.9,640.3 L1371.6,640.2 L1372.3,640.1 L1373.0,640.0 L1373.7,639.9 L1374.4,639.8 L1375.1,639.6 L1375.8,639.4 L1376.5,639.1 L1377.2,638.7 L1377.9,638.2 L1378.6,637.6 L1379.3,636.8 L1380.0,635.8 L1380.7,634.5 L1381.4,633.1 L1382.1,631.3 L1382.8,629.3 L1383.6,627.0 L1384.3,624.5 L1385.0,621.8 L1385.7,619.0 L1386.4,616.2 L1387.1,613.5 L1387.8,610.8 L1388.5,608.3 L1389.2,605.8 L1389.9,603.2 L1390.6,600.3 L1391.3,596.7 L1392.0,591.8 L1392.7,585.1 L1393.4,575.7 L1394.1,563.2 L1394.8,546.7 L1395.5,525.8 L1396.2,500.3 L1397.0,470.1 L1397.7,435.9 L1398.4,398.6 L1399.1,359.6 L1399.8,320.8 L1400.5,284.2 L1401.2,252.4 L1401.9,227.6 L1402.6,211.8 L1403.3,206.6 L1404.0,212.3 L1404.7,228.5 L1405.4,253.8 L1406.1,286.3 L1406.8,323.7 L1407.5,363.6 L1408.2,403.8 L1408.9,442.7 L1409.6,478.6 L1410.3,510.7 L1411.0,538.4 L1411.8,561.6 L1412.5,580.4 L1413.2,595.2 L1413.9,606.5 L1414.6,615.0 L1415.3,621.1 L1416.0,625.4 L1416.7,628.3 L1417.4,630.2 L1418.1,631.3 L1418.8,631.7 L1419.5,631.6 L1420.2,630.9 L1420.9,629.6 L1421.6,627.6 L1422.3,624.8 L1423.0,620.8 L1423.7,615.5 L1424.4,608.5 L1425.2,599.7 L1425.9,588.7 L1426.6,575.3 L1427.3,559.5 L1428.0,541.1 L1428.7,520.3 L1429.4,497.4 L1430.1,473.0 L1430.8,447.7 L1431.5,422.4 L1432.2,398.2 L1432.9,376.2 L1433.6,357.5 L1434.3,343.1 L1435.0,334.2 L1435.7,331.1 L1436.4,334.2 L1437.1,343.3 L1437.8,357.7 L1438.5,376.5 L1439.2,398.6 L1440.0,422.9 L1440.7,448.3 L1441.4,473.6 L1442.1,498.2 L1442.8,521.1 L1443.5,542.0 L1444.2,560.5 L1444.9,576.5 L1445.6,590.0 L1446.3,601.2 L1447.0,610.1 L1447.7,617.3 L1448.4,622.8 L1449.1,627.0 L1449.8,630.1 L1450.5,632.4 L1451.2,634.1 L1451.9,635.4 L1452.6,636.3 L1453.3,636.9 L1454.1,637.4 L1454.8,637.7 L1455.5,638.0 L1456.2,638.2 L1456.9,638.4 L1457.6,638.5 L1458.3,638.6 L1459.0,638.7 L1459.7,638.8 L1460.4,638.9 L1461.1,638.9 L1461.8,639.0 L1462.5,639.0 L1463.2,639.0 L1463.9,639.1 L1464.6,639.1 L1465.3,639.1 L1466.0,639.1 L1466.7,639.1 L1467.5,639.1 L1468.2,639.1 L1468.9,639.0 L1469.6,639.0 L1470.3,639.0 L1471.0,638.9 L1471.7,638.9 L1472.4,638.8 L1473.1,638.8 L1473.8,638.7 L1474.5,638.6 L1475.2,638.5 L1475.9,638.4 L1476.6,638.2 L1477.3,638.1 L1478.0,637.9 L1478.7,637.6 L1479.4,637.3 L1480.1,637.0 L1480.8,636.5 L1481.5,635.9 L1482.3,635.2 L1483.0,634.3 L1483.7,633.2 L1484.4,631.7 L1485.1,629.9 L1485.8,627.7 L1486.5,624.9 L1487.2,621.5 L1487.9,617.3 L1488.6,612.2 L1489.3,606.1 L1490.0,598.9 L1490.7,590.3 L1491.4,580.3 L1492.1,568.8 L1492.8,555.5 L1493.5,540.4 L1494.2,523.6 L1494.9,504.9 L1495.7,484.3 L1496.4,462.1 L1497.1,438.3 L1497.8,413.2 L1498.5,387.0 L1499.2,360.1 L1499.9,332.9 L1500.6,305.8 L1501.3,279.5 L1502.0,254.4 L1502.7,231.0 L1503.4,210.0 L1504.1,191.9 L1504.8,177.1 L1505.5,166.1 L1506.2,159.3 L1506.9,156.7 L1507.6,158.6 L1508.3,164.7 L1509.0,174.9 L1509.8,189.0 L1510.5,206.4 L1511.2,226.6 L1511.9,249.2 L1512.6,273.5 L1513.3,299.1 L1514.0,325.3 L1514.7,351.7 L1515.4,377.8 L1516.1,403.1 L1516.8,427.4 L1517.5,450.4 L1518.2,471.8 L1518.9,491.5 L1519.6,509.3 L1520.3,525.4 L1521.0,539.7 L1521.7,552.2 L1522.4,563.0 L1523.1,572.4 L1523.8,580.3 L1524.6,586.9 L1525.3,592.4 L1526.0,597.0 L1526.7,600.7 L1527.4,603.7 L1528.1,606.2 L1528.8,608.1 L1529.5,609.6 L1530.2,610.8 L1530.9,611.8 L1531.6,612.5 L1532.3,613.1 L1533.0,613.5 L1533.7,613.8 L1534.4,614.0 L1535.1,614.1 L1535.8,614.2 L1536.5,614.2 L1537.2,614.1 L1538.0,613.9 L1538.7,613.7 L1539.4,613.4 L1540.1,613.0 L1540.8,612.5 L1541.5,611.9 L1542.2,611.2 L1542.9,610.5 L1543.6,609.7 L1544.3,608.8 L1545.0,607.8 L1545.7,606.7 L1546.4,605.6 L1547.1,604.4 L1547.8,603.2 L1548.5,602.0 L1549.2,600.7 L1549.9,599.4 L1550.6,598.0 L1551.3,596.7 L1552.0,595.5 L1552.8,594.2 L1553.5,593.0 L1554.2,591.9 L1554.9,590.9 L1555.6,589.9 L1556.3,589.0 L1557.0,588.3 L1557.7,587.7 L1558.4,587.2 L1559.1,586.9 L1559.8,586.8 L1560.5,586.7 L1561.2,586.9 L1561.9,587.2 L1562.6,587.6 L1563.3,588.3 L1564.0,589.0 L1564.7,589.9 L1565.4,590.9 L1566.2,592.1 L1566.9,593.4 L1567.6,594.7 L1568.3,596.2 L1569.0,597.7 L1569.7,599.3 L1570.4,600.9 L1571.1,602.6 L1571.8,604.3 L1572.5,606.0 L1573.2,607.7 L1573.9,609.5 L1574.6,611.2 L1575.3,612.9 L1576.0,614.6 L1576.7,616.2 L1577.4,617.8 L1578.1,619.4 L1578.8,620.9 L1579.5,622.3 L1580.2,623.7 L1581.0,625.0 L1581.7,626.3 L1582.4,627.5 L1583.1,628.6 L1583.8,629.7 L1584.5,630.7 L1585.2,631.6 L1585.9,632.5 L1586.6,633.3 L1587.3,634.0 L1588.0,634.7 L1588.7,635.4 L1589.4,636.0 L1590.1,636.5 L1590.8,637.0 L1591.5,637.4 L1592.2,637.8 L1592.9,638.2 L1593.6,638.5 L1594.3,638.8 L1595.1,639.1 L1595.8,639.4 L1596.5,639.6 L1597.2,639.8 L1597.9,639.9 L1598.6,640.1 L1599.3,640.2 L1600.0,640.4 L1600.7,640.5 L1601.4,640.5 L1602.1,640.6 L1602.8,640.7 L1603.5,640.7 L1604.2,640.8 L1604.9,640.8 L1605.6,640.8 L1606.3,640.8 L1607.0,640.8 L1607.7,640.7 L1608.5,640.6 L1609.2,640.5 L1609.9,640.3 L1610.6,640.1 L1611.3,639.8 L1612.0,639.4 L1612.7,638.9 L1613.4,638.3 L1614.1,637.5 L1614.8,636.7 L1615.5,635.7 L1616.2,634.6 L1616.9,633.4 L1617.6,632.0 L1618.3,630.6 L1619.0,629.1 L1619.7,627.6 L1620.4,626.0 L1621.1,624.6 L1621.8,623.2 L1622.5,622.0 L1623.3,621.0 L1624.0,620.3 L1624.7,619.8 L1625.4,619.7 L1626.1,619.8 L1626.8,620.3 L1627.5,621.0 L1628.2,622.0 L1628.9,623.2 L1629.6,624.6 L1630.3,626.1 L1631.0,627.6 L1631.7,629.1 L1632.4,630.6 L1633.1,632.0 L1633.8,633.3 L1634.5,634.5 L1635.2,635.6 L1635.9,636.5 L1636.7,637.2 L1637.4,637.8 L1638.1,638.2 L1638.8,638.4 L1639.5,638.5 L1640.2,638.4 L1640.9,638.2 L1641.6,637.8 L1642.3,637.2 L1643.0,636.4 L1643.7,635.4 L1644.4,634.3 L1645.1,632.9 L1645.8,631.3 L1646.5,629.6 L1647.2,627.7 L1647.9,625.6 L1648.6,623.4 L1649.3,621.1 L1650.0,618.8 L1650.8,616.4 L1651.5,614.2 L1652.2,612.0 L1652.9,610.0 L1653.6,608.3 L1654.3,606.9 L1655.0,605.9 L1655.7,605.2 L1656.4,605.0 L1657.1,605.2 L1657.8,605.9 L1658.5,607.0 L1659.2,608.4 L1659.9,610.1 L1660.6,612.1 L1661.3,614.3 L1662.0,616.6 L1662.7,618.9 L1663.4,621.3 L1664.1,623.6 L1664.8,625.9 L1665.6,628.0 L1666.3,629.9 L1667.0,631.7 L1667.7,633.3 L1668.4,634.7 L1669.1,636.0 L1669.8,637.1 L1670.5,638.0 L1671.2,638.7 L1671.9,639.4 L1672.6,639.9 L1673.3,640.3 L1674.0,640.7 L1674.7,641.0 L1675.4,641.2 L1676.1,641.4 L1676.8,641.5 L1677.5,641.6 L1678.2,641.7 L1679.0,641.8 L1679.7,641.8 L1680.4,641.8 L1681.1,641.9 L1681.8,641.9 L1682.5,641.9 L1683.2,641.9 L1683.9,642.0 L1684.6,642.0 L1685.3,642.0 L1686.0,642.0 L1686.7,642.0 L1687.4,642.0 L1688.1,642.0 L1688.8,642.0 L1689.5,642.0 L1690.2,642.0 L1690.9,642.0 L1691.6,642.0 L1692.3,642.0 L1693.0,642.0 L1693.8,642.0 L1694.5,642.0 L1695.2,642.0 L1695.9,642.0 L1696.6,642.0 L1697.3,642.0 L1698.0,642.0 L1698.7,642.0 L1699.4,641.9 L1700.1,641.9 L1700.8,641.9 L1701.5,641.9 L1702.2,641.8 L1702.9,641.8 L1703.6,641.8 L1704.3,641.8 L1705.0,641.7 L1705.7,641.7 L1706.4,641.6 L1707.2,641.6 L1707.9,641.5 L1708.6,641.5 L1709.3,641.4 L1710.0,641.4 L1710.7,641.3 L1711.4,641.2 L1712.1,641.1 L1712.8,641.1 L1713.5,641.0 L1714.2,640.9 L1714.9,640.8 L1715.6,640.7 L1716.3,640.6 L1717.0,640.5 L1717.7,640.4 L1718.4,640.3 L1719.1,640.1 L1719.8,640.0 L1720.5,639.9 L1721.2,639.7 L1722.0,639.6 L1722.7,639.5 L1723.4,639.3 L1724.1,639.2 L1724.8,639.0 L1725.5,638.9 L1726.2,638.7 L1726.9,638.6 L1727.6,638.4 L1728.3,638.2 L1729.0,638.1 L1729.7,637.9 L1730.4,637.7 L1731.1,637.6 L1731.8,637.4 L1732.5,637.3 L1733.2,637.1 L1733.9,637.0 L1734.6,636.8 L1735.3,636.7 L1736.1,636.5 L1736.8,636.4 L1737.5,636.3 L1738.2,636.1 L1738.9,636.0 L1739.6,635.9 L1740.3,635.8 L1741.0,635.7 L1741.7,635.6 L1742.4,635.6 L1743.1,635.5 L1743.8,635.5 L1744.5,635.4 L1745.2,635.4 L1745.9,635.4 L1746.6,635.4 L1747.3,635.4 L1748.0,635.4 L1748.7,635.4 L1749.5,635.4 L1750.2,635.5 L1750.9,635.5 L1751.6,635.6 L1752.3,635.7 L1753.0,635.7 L1753.7,635.8 L1754.4,635.9 L1755.1,636.0 L1755.8,636.1 L1756.5,636.2 L1757.2,636.4 L1757.9,636.5 L1758.6,636.6 L1759.3,636.7 L1760.0,636.8 L1760.7,636.9 L1761.4,637.0 L1762.1,637.1 L1762.8,637.2 L1763.5,637.3 L1764.3,637.4 L1765.0,637.5 L1765.7,637.5 L1766.4,637.5 L1767.1,637.6 L1767.8,637.5 L1768.5,637.5 L1769.2,637.4 L1769.9,637.3 L1770.6,637.2 L1771.3,637.1 L1772.0,636.9 L1772.7,636.7 L1773.4,636.4 L1774.1,636.1 L1774.8,635.8 L1775.5,635.4 L1776.2,635.0 L1776.9,634.5 L1777.7,634.0 L1778.4,633.5 L1779.1,633.0 L1779.8,632.4 L1780.5,631.8 L1781.2,631.1 L1781.9,630.5 L1782.6,629.8 L1783.3,629.1 L1784.0,628.4 L1784.7,627.8 L1785.4,627.1 L1786.1,626.5 L1786.8,625.9 L1787.5,625.3 L1788.2,624.8 L1788.9,624.3 L1789.6,623.9 L1790.3,623.5 L1791.0,623.2 L1791.8,623.0 L1792.5,622.9 L1793.2,622.8 L1793.9,622.8 L1794.6,622.9 L1795.3,623.0 L1796.0,623.3 L1796.7,623.6 L1797.4,623.9 L1798.1,624.4 L1798.8,624.8 L1799.5,625.3 L1800.2,625.9 L1800.9,626.5 L1801.6,627.1 L1802.3,627.7 L1803.0,628.3 L1803.7,629.0 L1804.4,629.6 L1805.1,630.2 L1805.8,630.8 L1806.6,631.4 L1807.3,632.0 L1808.0,632.5 L1808.7,633.0 L1809.4,633.5 L1810.1,633.9 L1810.8,634.3 L1811.5,634.7 L1812.2,635.1 L1812.9,635.4 L1813.6,635.7 L1814.3,635.9 L1815.0,636.1 L1815.7,636.3 L1816.4,636.5 L1817.1,636.6 L1817.8,636.8 L1818.5,636.9 L1819.2,637.0 L1820.0,637.0 L1820.7,637.1 L1821.4,637.1 L1822.1,637.2 L1822.8,637.2 L1823.5,637.2 L1824.2,637.2 L1824.9,637.3 L1825.6,637.3 L1826.3,637.3 L1827.0,637.3 L1827.7,637.3 L1828.4,637.3 L1829.1,637.3 L1829.8,637.3 L1830.5,637.4 L1831.2,637.4 L1831.9,637.4 L1832.6,637.4 L1833.3,637.4 L1834.0,637.4 L1834.8,637.4 L1835.5,637.4 L1836.2,637.5 L1836.9,637.5 L1837.6,637.5 L1838.3,637.5 L1839.0,637.5 L1839.7,637.5 L1840.4,637.4 L1841.1,637.4 L1841.8,637.4 L1842.5,637.4 L1843.2,637.4 L1843.9,637.3 L1844.6,637.3 L1845.3,637.3 L1846.0,637.2 L1846.7,637.2 L1847.4,637.2 L1848.2,637.1 L1848.9,637.1 L1849.6,637.1 L1850.3,637.0 L1851.0,637.0 L1851.7,637.0 L1852.4,637.0 L1853.1,637.0 L1853.8,637.0 L1854.5,637.0 L1855.2,637.0 L1855.9,637.0 L1856.6,637.0 L1857.3,637.1 L1858.0,637.2 L1858.7,637.2 L1859.4,637.3 L1860.1,637.4 L1860.8,637.5 L1861.5,637.7 L1862.2,637.8 L1863.0,637.9 L1863.7,638.1 L1864.4,638.2 L1865.1,638.4 L1865.8,638.5 L1866.5,638.7 L1867.2,638.9 L1867.9,639.1 L1868.6,639.2 L1869.3,639.4 L1870.0,639.6 L1870.7,639.7 L1871.4,639.9 L1872.1,640.1 L1872.8,640.2 L1873.5,640.4 L1874.2,640.5 L1874.9,640.7 L1875.6,640.8 L1876.3,640.9 L1877.1,641.0 L1877.8,641.2 L1878.5,641.3 L1879.2,641.4 L1879.9,641.4 L1880.6,641.5 L1881.3,641.6 L1882.0,641.7 L1882.7,641.7 L1883.4,641.8 L1884.1,641.8 L1884.8,641.9 L1885.5,641.9 L1886.2,641.9 L1886.9,642.0 L1887.6,642.0 L1888.3,642.0 L1889.0,642.0 L1889.7,642.0 L1890.5,642.0 L1891.2,642.0 L1891.9,642.0 L1892.6,642.0 L1893.3,642.0 L1894.0,642.0 L1894.7,642.0 L1895.4,642.0 L1896.1,641.9 L1896.8,641.9 L1897.5,641.9 L1898.2,641.8 L1898.9,641.8 L1899.6,641.8 L1900.3,641.7 L1901.0,641.7 L1901.7,641.6 L1902.4,641.5 L1903.1,641.5 L1903.8,641.4 L1904.5,641.3 L1905.3,641.3 L1906.0,641.2 L1906.7,641.1 L1907.4,641.0 L1908.1,640.9 L1908.8,640.8 L1909.5,640.7 L1910.2,640.6 L1910.9,640.5 L1911.6,640.4 L1912.3,640.3 L1913.0,640.1 L1913.7,640.0 L1914.4,639.9 L1915.1,639.7 L1915.8,639.6 L1916.5,639.4 L1917.2,639.3 L1917.9,639.1 L1918.7,639.0 L1919.4,638.8 L1920.1,638.7 L1920.8,638.5 L1921.5,638.3 L1922.2,638.2 L1922.9,638.0 L1923.6,637.9 L1924.3,637.7 L1925.0,637.5 L1925.7,637.4 L1926.4,637.2 L1927.1,637.1 L1927.8,636.9 L1928.5,636.8 L1929.2,636.6 L1929.9,636.5 L1930.6,636.4 L1931.3,636.3 L1932.0,636.1 L1932.8,636.0 L1933.5,635.9 L1934.2,635.9 L1934.9,635.8 L1935.6,635.7 L1936.3,635.6 L1937.0,635.6 L1937.7,635.6 L1938.4,635.5 L1939.1,635.5 L1939.8,635.5 L1940.5,635.5 L1941.2,635.5 L1941.9,635.6 L1942.6,635.6 L1943.3,635.6 L1944.0,635.7 L1944.7,635.8 L1945.4,635.8 L1946.1,635.9 L1946.8,636.0 L1947.6,636.1 L1948.3,636.3 L1949.0,636.4 L1949.7,636.5 L1950.4,636.6 L1951.1,636.8 L1951.8,636.9 L1952.5,637.1 L1953.2,637.2 L1953.9,637.4 L1954.6,637.5 L1955.3,637.7 L1956.0,637.8 L1956.7,638.0 L1957.4,638.2 L1958.1,638.3 L1958.8,638.5 L1959.5,638.6 L1960.2,638.8 L1960.9,639.0 L1961.7,639.1 L1962.4,639.3 L1963.1,639.4 L1963.8,639.6 L1964.5,639.7 L1965.2,639.8 L1965.9,640.0 L1966.6,640.1 L1967.3,640.2 L1968.0,640.3 L1968.7,640.5 L1969.4,640.6 L1970.1,640.7 L1970.8,640.8 L1971.5,640.9 L1972.2,641.0 L1972.9,641.1 L1973.6,641.2 L1974.3,641.2 L1975.0,641.3 L1975.8,641.4 L1976.5,641.4 L1977.2,641.5 L1977.9,641.6 L1978.6,641.6 L1979.3,641.7 L1980.0,641.7 L1980.7,641.8 L1981.4,641.8 L1982.1,641.9 L1982.8,641.9 L1983.5,641.9 L1984.2,642.0 L1984.9,642.0 L1985.6,642.0 L1986.3,642.0 L1987.0,642.1 L1987.7,642.1 L1988.4,642.1 L1989.2,642.1 L1989.9,642.1 L1990.6,642.1 L1991.3,642.1 L1992.0,642.1 L1992.7,642.2 L1993.4,642.2 L1994.1,642.2 L1994.8,642.2 L1995.5,642.2 L1996.2,642.2 L1996.9,642.2 L1997.6,642.2 L1998.3,642.2 L1999.0,642.2 L1999.7,642.2 L2000.4,642.2 L2001.1,642.2 L2001.8,642.2 L2002.5,642.1 L2003.2,642.1 L2004.0,642.1 L2004.7,642.1 L2005.4,642.0 L2006.1,642.0 L2006.8,641.9 L2007.5,641.8 L2008.2,641.6 L2008.9,641.4 L2009.6,641.0 L2010.3,640.6 L2011.0,640.0 L2011.7,639.3 L2012.4,638.5 L2013.1,637.5 L2013.8,636.4 L2014.5,635.3 L2015.2,634.1 L2015.9,633.0 L2016.6,632.0 L2017.3,631.3 L2018.1,630.8 L2018.8,630.6 L2019.5,630.8 L2020.2,631.3 L2020.9,632.0 L2021.6,633.0 L2022.3,634.1 L2023.0,635.2 L2023.7,636.4 L2024.4,637.4 L2025.1,638.4 L2025.8,639.2 L2026.5,639.9 L2027.2,640.5 L2027.9,640.9 L2028.6,641.2 L2029.3,641.4 L2030.0,641.6 L2030.7,641.7 L2031.4,641.8 L2032.2,641.8 L2032.9,641.9 L2033.6,641.9 L2034.3,641.9 L2035.0,641.9 L2035.7,641.9 L2036.4,641.9 L2037.1,641.9 L2037.8,641.8 L2038.5,641.8 L2039.2,641.8 L2039.9,641.8 L2040.6,641.8 L2041.3,641.8 L2042.0,641.7 L2042.7,641.7 L2043.4,641.7 L2044.1,641.6 L2044.8,641.6 L2045.5,641.6 L2046.3,641.5 L2047.0,641.4 L2047.7,641.4 L2048.4,641.2 L2049.1,641.1 L2049.8,640.9 L2050.5,640.7 L2051.2,640.4 L2051.9,640.1 L2052.6,639.6 L2053.3,639.0 L2054.0,638.3 L2054.7,637.4 L2055.4,636.4 L2056.1,635.1 L2056.8,633.5 L2057.5,631.7 L2058.2,629.7 L2058.9,627.4 L2059.7,624.8 L2060.4,622.0 L2061.1,619.0 L2061.8,615.8 L2062.5,612.6 L2063.2,609.4 L2063.9,606.3 L2064.6,603.4 L2065.3,600.9 L2066.0,598.7 L2066.7,597.1 L2067.4,596.1 L2068.1,595.7 L2068.8,596.1 L2069.5,597.1 L2070.2,598.7 L2070.9,600.8 L2071.6,603.4 L2072.3,606.3 L2073.0,609.3 L2073.8,612.5 L2074.5,615.7 L2075.2,618.9 L2075.9,621.9 L2076.6,624.7 L2077.3,627.2 L2078.0,629.6 L2078.7,631.6 L2079.4,633.4 L2080.1,634.9 L2080.8,636.2 L2081.5,637.3 L2082.2,638.1 L2082.9,638.8 L2083.6,639.4 L2084.3,639.9 L2085.0,640.2 L2085.7,640.5 L2086.4,640.7 L2087.1,640.8 L2087.8,641.0 L2088.6,641.1 L2089.3,641.1 L2090.0,641.2 L2090.7,641.2 L2091.4,641.3 L2092.1,641.3 L2092.8,641.3 L2093.5,641.4 L2094.2,641.4 L2094.9,641.4 L2095.6,641.4 L2096.3,641.4 L2097.0,641.4 L2097.7,641.4 L2098.4,641.4 L2099.1,641.4 L2099.8,641.4 L2100.5,641.4 L2101.2,641.4 L2101.9,641.4 L2102.7,641.4 L2103.4,641.4 L2104.1,641.4 L2104.8,641.4 L2105.5,641.4 L2106.2,641.4 L2106.9,641.4 L2107.6,641.4 L2108.3,641.4 L2109.0,641.4 L2109.7,641.4 L2110.4,641.4 L2111.1,641.4 L2111.8,641.4 L2112.5,641.3 L2113.2,641.3 L2113.9,641.3 L2114.6,641.3 L2115.3,641.3 L2116.1,641.3 L2116.8,641.3 L2117.5,641.2 L2118.2,641.2 L2118.9,641.2 L2119.6,641.2 L2120.3,641.2 L2121.0,641.2 L2121.7,641.1 L2122.4,641.1 L2123.1,641.1 L2123.8,641.1 L2124.5,641.1 L2125.2,641.0 L2125.9,641.0 L2126.6,641.0 L2127.3,641.0 L2128.0,640.9 L2128.7,640.9 L2129.4,640.9 L2130.2,640.9 L2130.9,640.8 L2131.6,640.8 L2132.3,640.8 L2133.0,640.7 L2133.7,640.7 L2134.4,640.7 L2135.1,640.6 L2135.8,640.6 L2136.5,640.6 L2137.2,640.5 L2137.9,640.5 L2138.6,640.5 L2139.3,640.4 L2140.0,640.4 L2140.7,640.3 L2141.4,640.3 L2142.1,640.2 L2142.8,640.2 L2143.5,640.1 L2144.2,640.1 L2145.0,640.0 L2145.7,640.0 L2146.4,639.9 L2147.1,639.9 L2147.8,639.8 L2148.5,639.8 L2149.2,639.7 L2149.9,639.6 L2150.6,639.6 L2151.3,639.5 L2152.0,639.4 L2152.7,639.3 L2153.4,639.3 L2154.1,639.2 L2154.8,639.1 L2155.5,639.0 L2156.2,638.9 L2156.9,638.8 L2157.6,638.7 L2158.3,638.6 L2159.1,638.5 L2159.8,638.4 L2160.5,638.3 L2161.2,638.2 L2161.9,638.0 L2162.6,637.9 L2163.3,637.8 L2164.0,637.6 L2164.7,637.5 L2165.4,637.3 L2166.1,637.2 L2166.8,637.0 L2167.5,636.8 L2168.2,636.6 L2168.9,636.4 L2169.6,636.2 L2170.3,636.0 L2171.0,635.8 L2171.7,635.6 L2172.4,635.3 L2173.2,635.0 L2173.9,634.8 L2174.6,634.5 L2175.3,634.2 L2176.0,633.8 L2176.7,633.5 L2177.4,633.1 L2178.1,632.8 L2178.8,632.3 L2179.5,631.9 L2180.2,631.4 L2180.9,630.9 L2181.6,630.4 L2182.3,629.8 L2183.0,629.2 L2183.7,628.5 L2184.4,627.8 L2185.1,627.0 L2185.8,626.1 L2186.6,625.2 L2187.3,624.1 L2188.0,622.9 L2188.7,621.5 L2189.4,620.0 L2190.1,618.2 L2190.8,616.1 L2191.5,613.8 L2192.2,611.1 L2192.9,607.9 L2193.6,604.3 L2194.3,600.1 L2195.0,595.3 L2195.7,589.7 L2196.4,583.3 L2197.1,576.1 L2197.8,567.9 L2198.5,558.7 L2199.2,548.4 L2199.9,537.0 L2200.7,524.4 L2201.4,510.8 L2202.1,496.1 L2202.8,480.4 L2203.5,463.9 L2204.2,446.7 L2204.9,429.0 L2205.6,411.1 L2206.3,393.5 L2207.0,376.4 L2207.7,360.6 L2208.4,346.4 L2209.1,334.6 L2209.8,325.7 L2210.5,320.1 L2211.2,318.2 L2211.9,320.1 L2212.6,325.7 L2213.3,334.6 L2214.0,346.4 L2214.8,360.6 L2215.5,376.5 L2216.2,393.5 L2216.9,411.1 L2217.6,429.0 L2218.3,446.7 L2219.0,463.9 L2219.7,480.4 L2220.4,496.1 L2221.1,510.8 L2221.8,524.4 L2222.5,537.0 L2223.2,548.4 L2223.9,558.7 L2224.6,567.9 L2225.3,576.1 L2226.0,583.3 L2226.7,589.7 L2227.4,595.3 L2228.1,600.1 L2228.8,604.3 L2229.6,607.9 L2230.3,611.1 L2231.0,613.8 L2231.7,616.2 L2232.4,618.2 L2233.1,620.0 L2233.8,621.5 L2234.5,622.9 L2235.2,624.1 L2235.9,625.2 L2236.6,626.2 L2237.3,627.0 L2238.0,627.8 L2238.7,628.6 L2239.4,629.2 L2240.1,629.9 L2240.8,630.4 L2241.5,631.0 L2242.2,631.5 L2242.9,631.9 L2243.7,632.4 L2244.4,632.8 L2245.1,633.2 L2245.8,633.5 L2246.5,633.9 L2247.2,634.2 L2247.9,634.5 L2248.6,634.8 L2249.3,635.1 L2250.0,635.3 L2250.7,635.6 L2251.4,635.8 L2252.1,636.1 L2252.8,636.3 L2253.5,636.5 L2254.2,636.7 L2254.9,636.9 L2255.6,637.0 L2256.3,637.2 L2257.1,637.4 L2257.8,637.5 L2258.5,637.7 L2259.2,637.8 L2259.9,638.0 L2260.6,638.1 L2261.3,638.2 L2262.0,638.3 L2262.7,638.4 L2263.4,638.6 L2264.1,638.7 L2264.8,638.8 L2265.5,638.9 L2266.2,639.0 L2266.9,639.1 L2267.6,639.1 L2268.3,639.2 L2269.0,639.3 L2269.7,639.4 L2270.4,639.5 L2271.2,639.5 L2271.9,639.6 L2272.6,639.7 L2273.3,639.8 L2274.0,639.8 L2274.7,639.9 L2275.4,639.9 L2276.1,640.0 L2276.8,640.1 L2277.5,640.1 L2278.2,640.2 L2278.9,640.2 L2279.6,640.3 L2280.3,640.3 L2281.0,640.4 L2281.7,640.4 L2282.4,640.5 L2283.1,640.5 L2283.8,640.5 L2284.5,640.6 L2285.2,640.6 L2286.0,640.7 L2286.7,640.7 L2287.4,640.7 L2288.1,640.8 L2288.8,640.8 L2289.5,640.8 L2290.2,640.9 L2290.9,640.9 L2291.6,640.9 L2292.3,641.0 L2293.0,641.0 L2293.7,641.0 L2294.4,641.1 L2295.1,641.1 L2295.8,641.1 L2296.5,641.1 L2297.2,641.2 L2297.9,641.2 L2298.6,641.2 L2299.3,641.2 L2300.1,641.3 L2300.8,641.3 L2301.5,641.3 L2302.2,641.3 L2302.9,641.3 L2303.6,641.4 L2304.3,641.4 L2305.0,641.4 L2305.7,641.4 L2306.4,641.4 L2307.1,641.5 L2307.8,641.5 L2308.5,641.5 L2309.2,641.5 L2309.9,641.5 L2310.6,641.6 L2311.3,641.6 L2312.0,641.6 L2312.7,641.6 L2313.4,641.6 L2314.2,641.6 L2314.9,641.6 L2315.6,641.7 L2316.3,641.7 L2317.0,641.7 L2317.7,641.7 L2318.4,641.7 L2319.1,641.7 L2319.8,641.7 L2320.5,641.8 L2321.2,641.8 L2321.9,641.8 L2322.6,641.8 L2323.3,641.8 L2324.0,641.8 L2324.7,641.8 L2325.4,641.8 L2326.1,641.8 L2326.8,641.9 L2327.6,641.9 L2328.3,641.9 L2329.0,641.9 L2329.7,641.9 L2330.4,641.9 L2331.1,641.9 L2331.8,641.9 L2332.5,641.9 L2333.2,641.9 L2333.9,642.0 L2334.6,642.0 L2335.3,642.0 L2336.0,642.0 L2336.7,642.0 L2337.4,642.0 L2338.1,642.0 L2338.8,642.0 L2339.5,642.0 L2340.2,642.0 L2340.9,642.0 L2341.7,642.0 L2342.4,642.1 L2343.1,642.1 L2343.8,642.1 L2344.5,642.1 L2345.2,642.1 L2345.9,642.1 L2346.6,642.1 L2347.3,642.1 L2348.0,642.1 L2348.7,642.1 L2349.4,642.1 L2350.1,642.1 L2350.8,642.1 L2351.5,642.1 L2352.2,642.1 L2352.9,642.1 L2353.6,642.2 L2354.3,642.2 L2355.0,642.2 L2355.8,642.2 L2356.5,642.2 L2357.2,642.2 L2357.9,642.2 L2358.6,642.2 L2359.3,642.2 L2360.0,642.2 L2360.7,642.2 L2361.4,642.2 L2362.1,642.2 L2362.8,642.2 L2363.5,642.2 L2364.2,642.2 L2364.9,642.2 L2365.6,642.2 L2366.3,642.2 L2367.0,642.3 L2367.7,642.3 L2368.4,642.3 L2369.1,642.3 L2369.8,642.3 L2370.6,642.3 L2371.3,642.3 L2372.0,642.3 L2372.7,642.3 L2373.4,642.3 L2374.1,642.3 L2374.8,642.3 L2375.5,642.3 L2376.2,642.3 L2376.9,642.3 L2377.6,642.3 L2378.3,642.3 L2379.0,642.3 L2379.7,642.3 L2380.4,642.3 L2381.1,642.3 L2381.8,642.3 L2382.5,642.3 L2383.2,642.3 L2383.9,642.3 L2384.7,642.3 L2385.4,642.3 L2386.1,642.3 L2386.8,642.4 L2387.5,642.4 L2388.2,642.4 L2388.9,642.4 L2389.6,642.4 L2390.3,642.4 L2391.0,642.4" fill="none" stroke="#0000ff" stroke-width="7" stroke-linejoin="round"/>
<path d="M1263.0,646.0 L1264.4,646.0 L1265.8,646.0 L1267.2,646.0 L1268.6,646.0 L1270.0,646.0 L1271.5,646.0 L1272.9,646.0 L1274.3,646.0 L1275.7,646.0 L1277.1,646.0 L1278.5,646.0 L1279.9,646.0 L1281.3,646.0 L1282.7,646.0 L1284.2,646.0 L1285.6,646.0 L1287.0,646.0 L1288.4,646.0 L1289.8,646.0 L1291.2,646.0 L1292.6,646.0 L1294.0,646.0 L1295.4,646.0 L1296.8,646.0 L1298.2,646.0 L1299.7,646.0 L1301.1,646.0 L1302.5,646.0 L1303.9,646.0 L1305.3,646.0 L1306.7,646.0 L1308.1,646.0 L1309.5,646.0 L1310.9,646.0 L1312.3,646.0 L1313.8,646.0 L1315.2,646.0 L1316.6,646.0 L1318.0,646.0 L1319.4,646.0 L1320.8,646.0 L1322.2,646.0 L1323.6,646.0 L1325.0,646.0 L1326.5,646.0 L1327.9,646.0 L1329.3,646.0 L1330.7,646.0 L1332.1,646.0 L1333.5,646.0 L1334.9,646.0 L1336.3,646.0 L1337.7,646.0 L1339.1,646.0 L1340.5,646.0 L1342.0,646.0 L1343.4,646.0 L1344.8,646.0 L1346.2,646.0 L1347.6,646.0 L1349.0,646.0 L1350.4,646.0 L1351.8,646.0 L1353.2,646.0 L1354.7,646.0 L1356.1,646.0 L1357.5,646.0 L1358.9,646.0 L1360.3,646.0 L1361.7,646.0 L1363.1,646.0 L1364.5,646.0 L1365.9,646.0 L1367.3,646.0 L1368.8,646.0 L1370.2,646.0 L1371.6,646.0 L1373.0,646.0 L1374.4,646.0 L1375.8,646.0 L1377.2,646.0 L1378.6,646.0 L1380.0,646.0 L1381.4,645.9 L1382.8,645.9 L1384.3,645.9 L1385.7,645.9 L1387.1,645.9 L1388.5,645.9 L1389.9,645.8 L1391.3,645.7 L1392.7,645.5 L1394.1,645.2 L1395.5,644.8 L1397.0,644.2 L1398.4,643.5 L1399.8,642.8 L1401.2,642.2 L1402.6,641.9 L1404.0,641.8 L1405.4,642.2 L1406.8,642.8 L1408.2,643.5 L1409.6,644.2 L1411.0,644.8 L1412.5,645.2 L1413.9,645.5 L1415.3,645.7 L1416.7,645.8 L1418.1,645.8 L1419.5,645.8 L1420.9,645.8 L1422.3,645.8 L1423.7,645.7 L1425.2,645.5 L1426.6,645.3 L1428.0,644.9 L1429.4,644.4 L1430.8,643.8 L1432.2,643.2 L1433.6,642.6 L1435.0,642.3 L1436.4,642.3 L1437.8,642.6 L1439.2,643.2 L1440.7,643.8 L1442.1,644.4 L1443.5,644.9 L1444.9,645.3 L1446.3,645.6 L1447.7,645.7 L1449.1,645.8 L1450.5,645.9 L1451.9,645.9 L1453.3,645.9 L1454.8,645.9 L1456.2,645.9 L1457.6,645.9 L1459.0,645.9 L1460.4,645.9 L1461.8,645.9 L1463.2,645.9 L1464.6,645.9 L1466.0,645.9 L1467.5,645.9 L1468.9,645.9 L1470.3,645.9 L1471.7,645.9 L1473.1,645.9 L1474.5,645.9 L1475.9,645.9 L1477.3,645.9 L1478.7,645.9 L1480.1,645.9 L1481.5,645.8 L1483.0,645.8 L1484.4,645.8 L1485.8,645.7 L1487.2,645.6 L1488.6,645.4 L1490.0,645.2 L1491.4,644.9 L1492.8,644.5 L1494.2,643.9 L1495.7,643.2 L1497.1,642.3 L1498.5,641.4 L1499.9,640.3 L1501.3,639.2 L1502.7,638.3 L1504.1,637.4 L1505.5,636.9 L1506.9,636.7 L1508.3,636.9 L1509.8,637.4 L1511.2,638.3 L1512.6,639.2 L1514.0,640.3 L1515.4,641.4 L1516.8,642.3 L1518.2,643.2 L1519.6,643.9 L1521.0,644.5 L1522.4,644.9 L1523.8,645.2 L1525.3,645.4 L1526.7,645.6 L1528.1,645.7 L1529.5,645.8 L1530.9,645.8 L1532.3,645.8 L1533.7,645.9 L1535.1,645.9 L1536.5,645.9 L1538.0,645.9 L1539.4,645.9 L1540.8,645.9 L1542.2,645.9 L1543.6,645.9 L1545.0,645.9 L1546.4,645.9 L1547.8,645.9 L1549.2,645.9 L1550.6,645.9 L1552.0,646.0 L1553.5,646.0 L1554.9,646.0 L1556.3,646.0 L1557.7,646.0 L1559.1,646.0 L1560.5,646.0 L1561.9,646.0 L1563.3,646.0 L1564.7,646.0 L1566.2,646.0 L1567.6,646.0 L1569.0,646.0 L1570.4,646.0 L1571.8,646.0 L1573.2,646.0 L1574.6,646.0 L1576.0,646.0 L1577.4,646.0 L1578.8,646.0 L1580.2,646.0 L1581.7,646.0 L1583.1,646.0 L1584.5,646.0 L1585.9,646.0 L1587.3,646.0 L1588.7,646.0 L1590.1,646.0 L1591.5,646.0 L1592.9,646.0 L1594.3,646.0 L1595.8,646.0 L1597.2,646.0 L1598.6,646.0 L1600.0,646.0 L1601.4,646.0 L1602.8,646.0 L1604.2,646.0 L1605.6,646.0 L1607.0,646.0 L1608.5,646.0 L1609.9,646.0 L1611.3,646.0 L1612.7,646.0 L1614.1,646.0 L1615.5,646.0 L1616.9,646.0 L1618.3,646.0 L1619.7,646.0 L1621.1,646.0 L1622.5,646.0 L1624.0,646.0 L1625.4,646.0 L1626.8,646.0 L1628.2,646.0 L1629.6,646.0 L1631.0,646.0 L1632.4,646.0 L1633.8,646.0 L1635.2,646.0 L1636.7,646.0 L1638.1,646.0 L1639.5,646.0 L1640.9,646.0 L1642.3,646.0 L1643.7,646.0 L1645.1,646.0 L1646.5,646.0 L1647.9,646.0 L1649.3,646.0 L1650.8,646.0 L1652.2,646.0 L1653.6,646.0 L1655.0,646.0 L1656.4,646.0 L1657.8,646.0 L1659.2,646.0 L1660.6,646.0 L1662.0,646.0 L1663.4,646.0 L1664.8,646.0 L1666.3,646.0 L1667.7,646.0 L1669.1,646.0 L1670.5,646.0 L1671.9,646.0 L1673.3,646.0 L1674.7,646.0 L1676.1,646.0 L1677.5,646.0 L1679.0,646.0 L1680.4,646.0 L1681.8,646.0 L1683.2,646.0 L1684.6,646.0 L1686.0,646.0 L1687.4,646.0 L1688.8,646.0 L1690.2,646.0 L1691.6,646.0 L1693.0,646.0 L1694.5,646.0 L1695.9,646.0 L1697.3,646.0 L1698.7,646.0 L1700.1,646.0 L1701.5,646.0 L1702.9,646.0 L1704.3,646.0 L1705.7,646.0 L1707.2,646.0 L1708.6,646.0 L1710.0,646.0 L1711.4,646.0 L1712.8,646.0 L1714.2,646.0 L1715.6,646.0 L1717.0,646.0 L1718.4,646.0 L1719.8,646.0 L1721.2,646.0 L1722.7,646.0 L1724.1,646.0 L1725.5,646.0 L1726.9,646.0 L1728.3,646.0 L1729.7,646.0 L1731.1,646.0 L1732.5,646.0 L1733.9,646.0 L1735.3,646.0 L1736.8,646.0 L1738.2,646.0 L1739.6,646.0 L1741.0,646.0 L1742.4,646.0 L1743.8,646.0 L1745.2,646.0 L1746.6,646.0 L1748.0,646.0 L1749.5,646.0 L1750.9,646.0 L1752.3,646.0 L1753.7,646.0 L1755.1,646.0 L1756.5,646.0 L1757.9,646.0 L1759.3,646.0 L1760.7,646.0 L1762.1,646.0 L1763.5,646.0 L1765.0,646.0 L1766.4,646.0 L1767.8,646.0 L1769.2,646.0 L1770.6,646.0 L1772.0,646.0 L1773.4,646.0 L1774.8,646.0 L1776.2,646.0 L1777.7,646.0 L1779.1,646.0 L1780.5,646.0 L1781.9,646.0 L1783.3,646.0 L1784.7,646.0 L1786.1,646.0 L1787.5,646.0 L1788.9,646.0 L1790.3,646.0 L1791.8,646.0 L1793.2,646.0 L1794.6,646.0 L1796.0,646.0 L1797.4,646.0 L1798.8,646.0 L1800.2,646.0 L1801.6,646.0 L1803.0,646.0 L1804.4,646.0 L1805.8,646.0 L1807.3,646.0 L1808.7,646.0 L1810.1,646.0 L1811.5,646.0 L1812.9,646.0 L1814.3,646.0 L1815.7,646.0 L1817.1,646.0 L1818.5,646.0 L1820.0,646.0 L1821.4,646.0 L1822.8,646.0 L1824.2,646.0 L1825.6,646.0 L1827.0,646.0 L1828.4,646.0 L1829.8,646.0 L1831.2,646.0 L1832.6,646.0 L1834.0,646.0 L1835.5,646.0 L1836.9,646.0 L1838.3,646.0 L1839.7,646.0 L1841.1,646.0 L1842.5,646.0 L1843.9,646.0 L1845.3,646.0 L1846.7,646.0 L1848.2,646.0 L1849.6,646.0 L1851.0,646.0 L1852.4,646.0 L1853.8,646.0 L1855.2,646.0 L1856.6,646.0 L1858.0,646.0 L1859.4,646.0 L1860.8,646.0 L1862.2,646.0 L1863.7,646.0 L1865.1,646.0 L1866.5,646.0 L1867.9,646.0 L1869.3,646.0 L1870.7,646.0 L1872.1,646.0 L1873.5,646.0 L1874.9,646.0 L1876.3,646.0 L1877.8,646.0 L1879.2,646.0 L1880.6,646.0 L1882.0,646.0 L1883.4,646.0 L1884.8,646.0 L1886.2,646.0 L1887.6,646.0 L1889.0,646.0 L1890.5,646.0 L1891.9,646.0 L1893.3,646.0 L1894.7,646.0 L1896.1,646.0 L1897.5,646.0 L1898.9,646.0 L1900.3,646.0 L1901.7,646.0 L1903.1,646.0 L1904.5,646.0 L1906.0,646.0 L1907.4,646.0 L1908.8,646.0 L1910.2,646.0 L1911.6,646.0 L1913.0,646.0 L1914.4,646.0 L1915.8,646.0 L1917.2,646.0 L1918.7,646.0 L1920.1,646.0 L1921.5,646.0 L1922.9,646.0 L1924.3,646.0 L1925.7,646.0 L1927.1,646.0 L1928.5,646.0 L1929.9,646.0 L1931.3,646.0 L1932.8,646.0 L1934.2,646.0 L1935.6,646.0 L1937.0,646.0 L1938.4,646.0 L1939.8,646.0 L1941.2,646.0 L1942.6,646.0 L1944.0,646.0 L1945.4,646.0 L1946.8,646.0 L1948.3,646.0 L1949.7,646.0 L1951.1,646.0 L1952.5,646.0 L1953.9,646.0 L1955.3,646.0 L1956.7,646.0 L1958.1,646.0 L1959.5,646.0 L1960.9,646.0 L1962.4,646.0 L1963.8,646.0 L1965.2,646.0 L1966.6,646.0 L1968.0,646.0 L1969.4,646.0 L1970.8,646.0 L1972.2,646.0 L1973.6,646.0 L1975.0,646.0 L1976.5,646.0 L1977.9,646.0 L1979.3,646.0 L1980.7,646.0 L1982.1,646.0 L1983.5,646.0 L1984.9,646.0 L1986.3,646.0 L1987.7,646.0 L1989.2,646.0 L1990.6,646.0 L1992.0,646.0 L1993.4,646.0 L1994.8,646.0 L1996.2,646.0 L1997.6,646.0 L1999.0,646.0 L2000.4,646.0 L2001.8,646.0 L2003.2,646.0 L2004.7,646.0 L2006.1,646.0 L2007.5,646.0 L2008.9,646.0 L2010.3,646.0 L2011.7,646.0 L2013.1,646.0 L2014.5,646.0 L2015.9,646.0 L2017.3,646.0 L2018.8,646.0 L2020.2,646.0 L2021.6,646.0 L2023.0,646.0 L2024.4,646.0 L2025.8,646.0 L2027.2,646.0 L2028.6,646.0 L2030.0,646.0 L2031.4,646.0 L2032.9,646.0 L2034.3,646.0 L2035.7,646.0 L2037.1,646.0 L2038.5,646.0 L2039.9,646.0 L2041.3,646.0 L2042.7,646.0 L2044.1,646.0 L2045.5,646.0 L2047.0,646.0 L2048.4,646.0 L2049.8,646.0 L2051.2,646.0 L2052.6,646.0 L2054.0,646.0 L2055.4,646.0 L2056.8,646.0 L2058.2,646.0 L2059.7,646.0 L2061.1,646.0 L2062.5,646.0 L2063.9,646.0 L2065.3,646.0 L2066.7,646.0 L2068.1,646.0 L2069.5,646.0 L2070.9,646.0 L2072.3,646.0 L2073.8,646.0 L2075.2,646.0 L2076.6,646.0 L2078.0,646.0 L2079.4,646.0 L2080.8,646.0 L2082.2,646.0 L2083.6,646.0 L2085.0,646.0 L2086.4,646.0 L2087.8,646.0 L2089.3,646.0 L2090.7,646.0 L2092.1,646.0 L2093.5,646.0 L2094.9,646.0 L2096.3,646.0 L2097.7,646.0 L2099.1,646.0 L2100.5,646.0 L2101.9,646.0 L2103.4,646.0 L2104.8,646.0 L2106.2,646.0 L2107.6,646.0 L2109.0,646.0 L2110.4,646.0 L2111.8,646.0 L2113.2,646.0 L2114.6,646.0 L2116.1,646.0 L2117.5,646.0 L2118.9,646.0 L2120.3,646.0 L2121.7,646.0 L2123.1,646.0 L2124.5,646.0 L2125.9,646.0 L2127.3,646.0 L2128.7,646.0 L2130.2,646.0 L2131.6,646.0 L2133.0,646.0 L2134.4,646.0 L2135.8,646.0 L2137.2,646.0 L2138.6,646.0 L2140.0,646.0 L2141.4,646.0 L2142.8,646.0 L2144.2,646.0 L2145.7,646.0 L2147.1,646.0 L2148.5,646.0 L2149.9,646.0 L2151.3,646.0 L2152.7,646.0 L2154.1,646.0 L2155.5,646.0 L2156.9,646.0 L2158.3,646.0 L2159.8,646.0 L2161.2,646.0 L2162.6,646.0 L2164.0,646.0 L2165.4,646.0 L2166.8,646.0 L2168.2,646.0 L2169.6,646.0 L2171.0,645.9 L2172.4,645.9 L2173.9,645.9 L2175.3,645.9 L2176.7,645.9 L2178.1,645.9 L2179.5,645.9 L2180.9,645.9 L2182.3,645.9 L2183.7,645.9 L2185.1,645.9 L2186.6,645.9 L2188.0,645.8 L2189.4,645.8 L2190.8,645.7 L2192.2,645.6 L2193.6,645.4 L2195.0,645.2 L2196.4,644.9 L2197.8,644.4 L2199.2,643.9 L2200.7,643.2 L2202.1,642.4 L2203.5,641.5 L2204.9,640.6 L2206.3,639.6 L2207.7,638.8 L2209.1,638.3 L2210.5,637.9 L2211.9,637.9 L2213.3,638.3 L2214.8,638.8 L2216.2,639.6 L2217.6,640.6 L2219.0,641.5 L2220.4,642.4 L2221.8,643.2 L2223.2,643.9 L2224.6,644.4 L2226.0,644.9 L2227.4,645.2 L2228.8,645.4 L2230.3,645.6 L2231.7,645.7 L2233.1,645.8 L2234.5,645.8 L2235.9,645.9 L2237.3,645.9 L2238.7,645.9 L2240.1,645.9 L2241.5,645.9 L2242.9,645.9 L2244.4,645.9 L2245.8,645.9 L2247.2,645.9 L2248.6,645.9 L2250.0,645.9 L2251.4,645.9 L2252.8,646.0 L2254.2,646.0 L2255.6,646.0 L2257.1,646.0 L2258.5,646.0 L2259.9,646.0 L2261.3,646.0 L2262.7,646.0 L2264.1,646.0 L2265.5,646.0 L2266.9,646.0 L2268.3,646.0 L2269.7,646.0 L2271.2,646.0 L2272.6,646.0 L2274.0,646.0 L2275.4,646.0 L2276.8,646.0 L2278.2,646.0 L2279.6,646.0 L2281.0,646.0 L2282.4,646.0 L2283.8,646.0 L2285.2,646.0 L2286.7,646.0 L2288.1,646.0 L2289.5,646.0 L2290.9,646.0 L2292.3,646.0 L2293.7,646.0 L2295.1,646.0 L2296.5,646.0 L2297.9,646.0 L2299.3,646.0 L2300.8,646.0 L2302.2,646.0 L2303.6,646.0 L2305.0,646.0 L2306.4,646.0 L2307.8,646.0 L2309.2,646.0 L2310.6,646.0 L2312.0,646.0 L2313.4,646.0 L2314.9,646.0 L2316.3,646.0 L2317.7,646.0 L2319.1,646.0 L2320.5,646.0 L2321.9,646.0 L2323.3,646.0 L2324.7,646.0 L2326.1,646.0 L2327.6,646.0 L2329.0,646.0 L2330.4,646.0 L2331.8,646.0 L2333.2,646.0 L2334.6,646.0 L2336.0,646.0 L2337.4,646.0 L2338.8,646.0 L2340.2,646.0 L2341.7,646.0 L2343.1,646.0 L2344.5,646.0 L2345.9,646.0 L2347.3,646.0 L2348.7,646.0 L2350.1,646.0 L2351.5,646.0 L2352.9,646.0 L2354.3,646.0 L2355.8,646.0 L2357.2,646.0 L2358.6,646.0 L2360.0,646.0 L2361.4,646.0 L2362.8,646.0 L2364.2,646.0 L2365.6,646.0 L2367.0,646.0 L2368.4,646.0 L2369.8,646.0 L2371.3,646.0 L2372.7,646.0 L2374.1,646.0 L2375.5,646.0 L2376.9,646.0 L2378.3,646.0 L2379.7,646.0 L2381.1,646.0 L2382.5,646.0 L2383.9,646.0 L2385.4,646.0 L2386.8,646.0 L2388.2,646.0 L2389.6,646.0 L2391.0,646.0" fill="none" stroke="#ff0000" stroke-width="7.5" stroke-linejoin="round"/>
</g>
<rect x="1263" y="68" width="1126" height="636" fill="none" stroke="#2a2a2a" stroke-width="5"/>
<line x1="1263" y1="530.1" x2="1279" y2="530.1" stroke="#2a2a2a" stroke-width="4"/>
<line x1="1263" y1="414.2" x2="1279" y2="414.2" stroke="#2a2a2a" stroke-width="4"/>
<line x1="1263" y1="298.3" x2="1279" y2="298.3" stroke="#2a2a2a" stroke-width="4"/>
<line x1="1263" y1="182.4" x2="1279" y2="182.4" stroke="#2a2a2a" stroke-width="4"/>
<text id="t_yt0" x="1227.0" y="657.5" font-size="42.8" font-weight="bold" fill="#111"  textLength="21.3" lengthAdjust="spacingAndGlyphs">0</text>
<text id="t_yt500" x="1184.5" y="541.6" font-size="42.7" font-weight="bold" fill="#111"  textLength="63.7" lengthAdjust="spacingAndGlyphs">500</text>
<text id="t_yt1000" x="1163.0" y="425.7" font-size="42.7" font-weight="bold" fill="#111"  textLength="84.8" lengthAdjust="spacingAndGlyphs">1000</text>
<text id="t_yt1500" x="1163.0" y="309.8" font-size="42.7" font-weight="bold" fill="#111"  textLength="84.8" lengthAdjust="spacingAndGlyphs">1500</text>
<text id="t_yt2000" x="1164.0" y="193.9" font-size="42.7" font-weight="bold" fill="#111"  textLength="83.8" lengthAdjust="spacingAndGlyphs">2000</text>
<text id="t_yt2500" x="1164.0" y="78.0" font-size="41.7" font-weight="bold" fill="#111"  textLength="84.5" lengthAdjust="spacingAndGlyphs">2500</text>
<line x1="1404.0" y1="704" x2="1404.0" y2="688" stroke="#2a2a2a" stroke-width="4"/>
<text id="t_xt1000" x="1362.5" y="748.5" font-size="39.1" font-weight="bold" fill="#111"  textLength="84.8" lengthAdjust="spacingAndGlyphs">1000</text>
<line x1="1686.0" y1="704" x2="1686.0" y2="688" stroke="#2a2a2a" stroke-width="4"/>
<text id="t_xt1200" x="1644.5" y="748.5" font-size="39.1" font-weight="bold" fill="#111"  textLength="84.8" lengthAdjust="spacingAndGlyphs">1200</text>
<line x1="1968.0" y1="704" x2="1968.0" y2="688" stroke="#2a2a2a" stroke-width="4"/>
<text id="t_xt1400" x="1926.5" y="748.5" font-size="39.1" font-weight="bold" fill="#111"  textLength="84.8" lengthAdjust="spacingAndGlyphs">1400</text>
<line x1="2250.0" y1="704" x2="2250.0" y2="688" stroke="#2a2a2a" stroke-width="4"/>
<text id="t_xt1600" x="2208.5" y="748.5" font-size="39.1" font-weight="bold" fill="#111"  textLength="84.8" lengthAdjust="spacingAndGlyphs">1600</text>
<text id="t_wavenumber" x="1675.5" y="802.0" font-size="29.3" font-weight="bold" fill="#222"  textLength="304.8" lengthAdjust="spacingAndGlyphs">Wavenumber (cm<tspan dy="-10.5" font-size="18.2">−1</tspan><tspan dy="10.5">)</tspan></text>
<text transform="translate(1135,397) rotate(-90)" font-size="35.3" font-weight="normal" fill="#3a3a3a" stroke="#3a3a3a" stroke-width="0.5" text-anchor="middle">Intensity (a.u.)</text>
<text id="t_xsix" x="1323.5" y="150.5" font-size="44.3" font-weight="bold" fill="#111"  textLength="148.0" lengthAdjust="spacingAndGlyphs">x ~ 10<tspan dy="-15.9" font-size="27.4">6</tspan></text>
<line x1="1618" y1="130" x2="1699" y2="130" stroke="#ff0000" stroke-width="10.5"/>
<line x1="1618" y1="172" x2="1699" y2="172" stroke="#0000ff" stroke-width="9.5"/>
<text id="t_leg1" x="1710.0" y="140.0" font-size="30.0" font-weight="bold" fill="#222"  textLength="401.8" lengthAdjust="spacingAndGlyphs">Monomer w/ Benzenethiol</text>
<text id="t_leg2" x="1710.0" y="182.0" font-size="32.1" font-weight="bold" fill="#222"  textLength="391.1" lengthAdjust="spacingAndGlyphs">Multimer w/ Benzenethiol</text>
<polygon points="2247.5,150.0 2231.8,180.3 2200.2,180.3 2184.5,150.0 2200.2,119.7 2231.8,119.7" fill="none" stroke="#5e5e5e" stroke-width="4"/>
<ellipse cx="2217.5" cy="150" rx="15.5" ry="14.5" fill="none" stroke="#555" stroke-width="3.8"/>
<line x1="2247.5" y1="150" x2="2274.5" y2="150" stroke="#3a3a3a" stroke-width="3.8"/>
<text id="t_sh" x="2278.5" y="166.5" font-size="37.3" font-weight="bold" fill="#5a5a5a"  textLength="46.8" lengthAdjust="spacingAndGlyphs">SH</text>
<rect x="1632.5" y="215.4" width="453.5" height="333.1" fill="#fff"/>
<clipPath id="clipI"><rect x="1632.5" y="215.4" width="453.5" height="333.1"/></clipPath>
<path d="M1632.6,418.7 L1633.2,410.1 L1633.8,443.2 L1634.3,418.2 L1634.9,411.4 L1635.5,413.7 L1636.1,410.2 L1636.6,410.2 L1637.2,425.6 L1637.8,440.8 L1638.4,412.3 L1639.0,411.4 L1639.5,409.6 L1640.1,402.4 L1640.7,441.7 L1641.3,416.9 L1641.8,413.6 L1642.4,427.9 L1643.0,415.6 L1643.6,408.6 L1644.2,419.6 L1644.7,403.2 L1645.3,418.9 L1645.9,418.2 L1646.5,429.5 L1647.1,393.7 L1647.6,402.7 L1648.2,408.5 L1648.8,420.5 L1649.4,406.0 L1649.9,409.7 L1650.5,410.8 L1651.1,393.0 L1651.7,395.2 L1652.3,394.2 L1652.8,379.8 L1653.4,358.8 L1654.0,298.8 L1654.6,315.8 L1655.1,312.4 L1655.7,351.8 L1656.3,342.4 L1656.9,387.7 L1657.5,391.8 L1658.0,423.2 L1658.6,416.9 L1659.2,419.4 L1659.8,408.9 L1660.3,415.6 L1660.9,416.3 L1661.5,416.2 L1662.1,408.9 L1662.7,417.4 L1663.2,409.8 L1663.8,425.2 L1664.4,430.0 L1665.0,398.8 L1665.5,419.6 L1666.1,424.0 L1666.7,404.6 L1667.3,397.0 L1667.9,402.6 L1668.4,377.1 L1669.0,361.5 L1669.6,352.5 L1670.2,335.3 L1670.7,345.4 L1671.3,356.4 L1671.9,344.5 L1672.5,366.4 L1673.1,394.6 L1673.6,398.0 L1674.2,427.0 L1674.8,410.8 L1675.4,404.3 L1676.0,417.9 L1676.5,414.6 L1677.1,424.5 L1677.7,407.7 L1678.3,426.4 L1678.8,413.0 L1679.4,401.8 L1680.0,430.3 L1680.6,428.3 L1681.2,414.8 L1681.7,404.3 L1682.3,433.5 L1682.9,414.8 L1683.5,422.8 L1684.0,414.3 L1684.6,409.2 L1685.2,432.2 L1685.8,411.1 L1686.4,413.1 L1686.9,447.6 L1687.5,386.6 L1688.1,401.5 L1688.7,407.3 L1689.2,415.6 L1689.8,428.2 L1690.4,425.4 L1691.0,398.2 L1691.6,437.4 L1692.1,399.9 L1692.7,411.0 L1693.3,410.9 L1693.9,402.8 L1694.4,398.8 L1695.0,423.6 L1695.6,426.4 L1696.2,404.4 L1696.8,419.9 L1697.3,413.0 L1697.9,406.7 L1698.5,422.1 L1699.1,419.0 L1699.6,405.4 L1700.2,419.1 L1700.8,402.6 L1701.4,415.8 L1702.0,391.4 L1702.5,395.3 L1703.1,374.0 L1703.7,356.1 L1704.3,316.1 L1704.8,284.5 L1705.4,281.5 L1706.0,269.8 L1706.6,258.5 L1707.2,296.9 L1707.7,304.9 L1708.3,352.8 L1708.9,389.5 L1709.5,392.2 L1710.1,428.6 L1710.6,405.1 L1711.2,403.9 L1711.8,416.5 L1712.4,410.9 L1712.9,419.6 L1713.5,407.3 L1714.1,411.3 L1714.7,410.0 L1715.3,438.3 L1715.8,418.5 L1716.4,420.5 L1717.0,410.1 L1717.6,388.5 L1718.1,394.5 L1718.7,416.8 L1719.3,425.6 L1719.9,416.5 L1720.5,416.0 L1721.0,427.8 L1721.6,415.7 L1722.2,424.5 L1722.8,396.0 L1723.3,413.0 L1723.9,438.4 L1724.5,420.4 L1725.1,447.3 L1725.7,414.2 L1726.2,411.0 L1726.8,405.6 L1727.4,422.5 L1728.0,423.7 L1728.5,402.2 L1729.1,414.2 L1729.7,406.9 L1730.3,414.8 L1730.9,435.5 L1731.4,422.9 L1732.0,426.4 L1732.6,420.0 L1733.2,447.7 L1733.7,421.6 L1734.3,433.2 L1734.9,427.3 L1735.5,428.4 L1736.1,430.7 L1736.6,432.6 L1737.2,428.1 L1737.8,409.7 L1738.4,413.1 L1739.0,420.2 L1739.5,435.4 L1740.1,415.7 L1740.7,427.0 L1741.3,433.3 L1741.8,451.2 L1742.4,442.0 L1743.0,415.7 L1743.6,430.2 L1744.2,433.8 L1744.7,432.1 L1745.3,424.2 L1745.9,396.9 L1746.5,432.9 L1747.0,416.5 L1747.6,410.3 L1748.2,428.8 L1748.8,409.9 L1749.4,408.6 L1749.9,414.8 L1750.5,433.2 L1751.1,420.1 L1751.7,404.9 L1752.2,431.6 L1752.8,422.7 L1753.4,440.5 L1754.0,434.9 L1754.6,425.5 L1755.1,417.9 L1755.7,441.5 L1756.3,429.9 L1756.9,438.4 L1757.4,461.9 L1758.0,407.0 L1758.6,458.2 L1759.2,417.4 L1759.8,426.8 L1760.3,425.8 L1760.9,439.6 L1761.5,426.1 L1762.1,426.6 L1762.6,434.3 L1763.2,426.8 L1763.8,433.3 L1764.4,436.8 L1765.0,425.5 L1765.5,424.2 L1766.1,441.2 L1766.7,420.8 L1767.3,419.1 L1767.9,427.5 L1768.4,426.6 L1769.0,433.9 L1769.6,440.9 L1770.2,438.2 L1770.7,427.2 L1771.3,420.1 L1771.9,430.5 L1772.5,413.7 L1773.1,424.5 L1773.6,434.2 L1774.2,423.1 L1774.8,422.3 L1775.4,411.7 L1775.9,420.2 L1776.5,427.6 L1777.1,412.8 L1777.7,437.2 L1778.3,404.1 L1778.8,425.7 L1779.4,427.5 L1780.0,437.3 L1780.6,430.7 L1781.1,417.3 L1781.7,399.6 L1782.3,428.6 L1782.9,443.2 L1783.5,411.6 L1784.0,425.1 L1784.6,424.0 L1785.2,408.4 L1785.8,402.1 L1786.3,423.1 L1786.9,418.4 L1787.5,412.8 L1788.1,409.3 L1788.7,425.6 L1789.2,460.4 L1789.8,433.7 L1790.4,421.3 L1791.0,432.4 L1791.5,435.2 L1792.1,428.6 L1792.7,430.8 L1793.3,446.2 L1793.9,426.0 L1794.4,435.2 L1795.0,409.6 L1795.6,425.6 L1796.2,419.0 L1796.8,439.6 L1797.3,390.1 L1797.9,426.1 L1798.5,433.5 L1799.1,440.4 L1799.6,425.7 L1800.2,445.2 L1800.8,429.5 L1801.4,417.2 L1802.0,432.5 L1802.5,433.6 L1803.1,407.0 L1803.7,442.7 L1804.3,417.4 L1804.8,430.2 L1805.4,425.6 L1806.0,438.2 L1806.6,428.1 L1807.2,424.8 L1807.7,419.6 L1808.3,418.0 L1808.9,441.2 L1809.5,428.6 L1810.0,416.1 L1810.6,431.7 L1811.2,433.4 L1811.8,437.2 L1812.4,438.9 L1812.9,440.4 L1813.5,428.1 L1814.1,427.2 L1814.7,426.8 L1815.2,410.5 L1815.8,430.0 L1816.4,425.1 L1817.0,417.6 L1817.6,426.7 L1818.1,423.7 L1818.7,433.4 L1819.3,421.8 L1819.9,425.5 L1820.4,423.0 L1821.0,428.9 L1821.6,432.6 L1822.2,433.4 L1822.8,426.1 L1823.3,422.5 L1823.9,433.2 L1824.5,433.5 L1825.1,399.6 L1825.7,424.0 L1826.2,414.5 L1826.8,419.2 L1827.4,417.1 L1828.0,423.6 L1828.5,423.1 L1829.1,407.4 L1829.7,439.6 L1830.3,416.9 L1830.9,430.0 L1831.4,426.0 L1832.0,428.7 L1832.6,432.9 L1833.2,401.3 L1833.7,446.1 L1834.3,414.8 L1834.9,439.7 L1835.5,412.9 L1836.1,411.1 L1836.6,416.8 L1837.2,435.2 L1837.8,422.6 L1838.4,431.6 L1838.9,432.1 L1839.5,434.7 L1840.1,417.2 L1840.7,424.5 L1841.3,422.1 L1841.8,413.0 L1842.4,402.2 L1843.0,428.5 L1843.6,440.6 L1844.1,406.9 L1844.7,417.6 L1845.3,444.7 L1845.9,421.8 L1846.5,423.5 L1847.0,405.5 L1847.6,423.7 L1848.2,440.9 L1848.8,438.4 L1849.3,411.1 L1849.9,425.7 L1850.5,415.8 L1851.1,430.6 L1851.7,423.6 L1852.2,422.9 L1852.8,414.7 L1853.4,423.1 L1854.0,420.6 L1854.6,424.6 L1855.1,412.2 L1855.7,424.2 L1856.3,435.0 L1856.9,426.1 L1857.4,417.3 L1858.0,425.1 L1858.6,416.9 L1859.2,418.1 L1859.8,422.5 L1860.3,428.9 L1860.9,451.9 L1861.5,416.9 L1862.1,426.0 L1862.6,411.6 L1863.2,421.2 L1863.8,414.0 L1864.4,419.8 L1865.0,404.3 L1865.5,442.1 L1866.1,421.2 L1866.7,420.1 L1867.3,409.0 L1867.8,432.0 L1868.4,406.4 L1869.0,429.0 L1869.6,416.9 L1870.2,419.3 L1870.7,420.3 L1871.3,422.3 L1871.9,427.9 L1872.5,416.6 L1873.0,435.4 L1873.6,430.1 L1874.2,415.3 L1874.8,426.1 L1875.4,425.5 L1875.9,424.7 L1876.5,421.0 L1877.1,436.1 L1877.7,424.9 L1878.2,424.3 L1878.8,421.9 L1879.4,428.5 L1880.0,432.1 L1880.6,426.1 L1881.1,421.1 L1881.7,428.3 L1882.3,418.7 L1882.9,427.4 L1883.5,395.7 L1884.0,427.8 L1884.6,434.7 L1885.2,447.5 L1885.8,437.0 L1886.3,436.5 L1886.9,428.9 L1887.5,427.2 L1888.1,429.9 L1888.7,421.0 L1889.2,417.8 L1889.8,404.3 L1890.4,430.7 L1891.0,434.4 L1891.5,414.7 L1892.1,441.5 L1892.7,425.8 L1893.3,414.9 L1893.9,425.5 L1894.4,425.1 L1895.0,440.5 L1895.6,420.8 L1896.2,421.7 L1896.7,436.3 L1897.3,439.1 L1897.9,410.9 L1898.5,420.2 L1899.1,424.4 L1899.6,426.7 L1900.2,430.3 L1900.8,464.8 L1901.4,441.8 L1901.9,423.0 L1902.5,432.6 L1903.1,402.1 L1903.7,432.5 L1904.3,422.2 L1904.8,427.6 L1905.4,413.1 L1906.0,406.0 L1906.6,417.8 L1907.1,415.6 L1907.7,427.0 L1908.3,433.9 L1908.9,431.8 L1909.5,432.7 L1910.0,423.6 L1910.6,406.9 L1911.2,438.8 L1911.8,422.0 L1912.4,426.1 L1912.9,412.1 L1913.5,433.3 L1914.1,418.1 L1914.7,428.1 L1915.2,421.9 L1915.8,416.9 L1916.4,428.3 L1917.0,404.0 L1917.6,430.7 L1918.1,427.9 L1918.7,444.2 L1919.3,434.0 L1919.9,414.9 L1920.4,407.2 L1921.0,427.8 L1921.6,437.1 L1922.2,428.3 L1922.8,439.8 L1923.3,434.9 L1923.9,429.7 L1924.5,424.7 L1925.1,428.4 L1925.6,382.5 L1926.2,439.2 L1926.8,433.0 L1927.4,425.7 L1928.0,444.9 L1928.5,426.1 L1929.1,419.0 L1929.7,436.2 L1930.3,434.2 L1930.8,421.5 L1931.4,392.8 L1932.0,404.5 L1932.6,425.0 L1933.2,426.5 L1933.7,438.1 L1934.3,425.5 L1934.9,422.8 L1935.5,433.1 L1936.0,446.1 L1936.6,437.1 L1937.2,429.8 L1937.8,427.4 L1938.4,410.1 L1938.9,424.5 L1939.5,427.2 L1940.1,426.9 L1940.7,452.6 L1941.3,418.7 L1941.8,432.7 L1942.4,437.5 L1943.0,438.4 L1943.6,446.7 L1944.1,421.8 L1944.7,442.4 L1945.3,419.0 L1945.9,422.2 L1946.5,410.8 L1947.0,424.3 L1947.6,423.8 L1948.2,447.5 L1948.8,420.8 L1949.3,403.0 L1949.9,424.8 L1950.5,441.9 L1951.1,429.4 L1951.7,428.5 L1952.2,436.5 L1952.8,399.4 L1953.4,420.2 L1954.0,410.1 L1954.5,416.2 L1955.1,412.7 L1955.7,411.3 L1956.3,430.2 L1956.9,418.2 L1957.4,407.6 L1958.0,419.8 L1958.6,435.4 L1959.2,432.7 L1959.7,424.4 L1960.3,427.6 L1960.9,428.2 L1961.5,424.0 L1962.1,417.8 L1962.6,437.3 L1963.2,433.4 L1963.8,403.5 L1964.4,443.9 L1964.9,422.9 L1965.5,435.9 L1966.1,406.6 L1966.7,425.3 L1967.3,416.0 L1967.8,411.2 L1968.4,413.2 L1969.0,429.5 L1969.6,441.5 L1970.2,432.0 L1970.7,416.3 L1971.3,420.8 L1971.9,424.2 L1972.5,411.8 L1973.0,429.9 L1973.6,420.9 L1974.2,409.8 L1974.8,421.7 L1975.4,437.9 L1975.9,409.8 L1976.5,403.9 L1977.1,415.7 L1977.7,410.9 L1978.2,412.6 L1978.8,412.4 L1979.4,417.7 L1980.0,412.1 L1980.6,417.1 L1981.1,415.3 L1981.7,427.1 L1982.3,421.4 L1982.9,402.6 L1983.4,423.0 L1984.0,411.3 L1984.6,413.5 L1985.2,421.1 L1985.8,431.5 L1986.3,413.7 L1986.9,388.7 L1987.5,426.6 L1988.1,416.2 L1988.6,410.7 L1989.2,444.6 L1989.8,432.0 L1990.4,412.6 L1991.0,416.3 L1991.5,400.9 L1992.1,425.1 L1992.7,439.0 L1993.3,427.4 L1993.8,415.3 L1994.4,434.9 L1995.0,408.5 L1995.6,417.7 L1996.2,405.9 L1996.7,431.5 L1997.3,408.4 L1997.9,428.1 L1998.5,433.0 L1999.1,414.0 L1999.6,417.4 L2000.2,411.5 L2000.8,442.5 L2001.4,428.9 L2001.9,422.7 L2002.5,429.7 L2003.1,432.2 L2003.7,408.8 L2004.3,418.4 L2004.8,415.4 L2005.4,421.4 L2006.0,407.2 L2006.6,385.6 L2007.1,426.8 L2007.7,427.3 L2008.3,418.8 L2008.9,404.4 L2009.5,386.6 L2010.0,415.8 L2010.6,410.8 L2011.2,416.3 L2011.8,425.5 L2012.3,428.1 L2012.9,424.7 L2013.5,432.1 L2014.1,395.2 L2014.7,414.2 L2015.2,432.7 L2015.8,409.8 L2016.4,425.6 L2017.0,442.6 L2017.5,406.4 L2018.1,431.8 L2018.7,418.4 L2019.3,401.3 L2019.9,407.6 L2020.4,416.4 L2021.0,400.1 L2021.6,405.0 L2022.2,422.2 L2022.7,414.0 L2023.3,410.9 L2023.9,407.7 L2024.5,430.9 L2025.1,421.9 L2025.6,409.8 L2026.2,418.7 L2026.8,424.3 L2027.4,421.8 L2028.0,399.5 L2028.5,418.9 L2029.1,418.4 L2029.7,410.3 L2030.3,413.0 L2030.8,415.2 L2031.4,404.3 L2032.0,421.1 L2032.6,395.6 L2033.2,419.3 L2033.7,424.2 L2034.3,420.0 L2034.9,413.6 L2035.5,421.3 L2036.0,453.0 L2036.6,386.4 L2037.2,442.9 L2037.8,401.5 L2038.4,428.8 L2038.9,385.8 L2039.5,410.1 L2040.1,412.6 L2040.7,419.1 L2041.2,382.2 L2041.8,408.4 L2042.4,375.4 L2043.0,362.0 L2043.6,317.3 L2044.1,295.5 L2044.7,296.4 L2045.3,316.2 L2045.9,300.8 L2046.4,327.2 L2047.0,339.6 L2047.6,361.4 L2048.2,385.5 L2048.8,380.6 L2049.3,401.2 L2049.9,398.5 L2050.5,407.6 L2051.1,403.2 L2051.6,400.3 L2052.2,411.1 L2052.8,412.4 L2053.4,406.5 L2054.0,399.6 L2054.5,418.9 L2055.1,399.1 L2055.7,414.8 L2056.3,405.0 L2056.9,428.8 L2057.4,433.5 L2058.0,412.8 L2058.6,426.0 L2059.2,399.3 L2059.7,407.7 L2060.3,418.0 L2060.9,420.0 L2061.5,403.7 L2062.1,408.4 L2062.6,416.0 L2063.2,414.0 L2063.8,409.7 L2064.4,420.7 L2064.9,417.5 L2065.5,401.6 L2066.1,407.0 L2066.7,421.9 L2067.3,406.1 L2067.8,403.4 L2068.4,435.3 L2069.0,419.2 L2069.6,417.3 L2070.1,419.7 L2070.7,427.1 L2071.3,436.0 L2071.9,444.9 L2072.5,439.4 L2073.0,434.5 L2073.6,399.4 L2074.2,410.2 L2074.8,400.3 L2075.3,415.6 L2075.9,409.4 L2076.5,435.6 L2077.1,425.1 L2077.7,431.2 L2078.2,413.7 L2078.8,447.6 L2079.4,466.5 L2080.0,434.9 L2080.5,420.3 L2081.1,437.8 L2081.7,446.2 L2082.3,433.1 L2082.9,433.0 L2083.4,451.7 L2084.0,471.0 L2084.6,425.7 L2085.2,446.7 L2085.8,430.6" fill="none" stroke="#ff0000" stroke-width="4.2" stroke-linejoin="round" clip-path="url(#clipI)"/>
<rect x="1632.5" y="215.4" width="453.5" height="333.1" fill="none" stroke="#333" stroke-width="3.5"/>
<text id="t_iy40" x="1595.5" y="221.8" font-size="27.6" font-weight="bold" fill="#222"  textLength="27.0" lengthAdjust="spacingAndGlyphs">40</text>
<line x1="1632.5" y1="326.0" x2="1639.5" y2="326.0" stroke="#333" stroke-width="3"/>
<text id="t_iy20" x="1594.5" y="335.8" font-size="27.6" font-weight="bold" fill="#222"  textLength="28.0" lengthAdjust="spacingAndGlyphs">20</text>
<line x1="1632.5" y1="437.0" x2="1639.5" y2="437.0" stroke="#333" stroke-width="3"/>
<text id="t_iy0" x="1611.0" y="443.5" font-size="27.6" font-weight="bold" fill="#222"  textLength="11.0" lengthAdjust="spacingAndGlyphs">0</text>
<text id="t_iy-20" x="1585.5" y="556.6" font-size="27.6" font-weight="bold" fill="#222"  textLength="37.4" lengthAdjust="spacingAndGlyphs">-20</text>
<line x1="1656.4" y1="548.5" x2="1656.4" y2="541.5" stroke="#333" stroke-width="3"/>
<text id="t_ix1000" x="1628.3" y="577.5" font-size="23.8" font-weight="bold" fill="#222"  textLength="58.8" lengthAdjust="spacingAndGlyphs">1000</text>
<line x1="1792.4" y1="548.5" x2="1792.4" y2="541.5" stroke="#333" stroke-width="3"/>
<text id="t_ix1200" x="1763.9" y="577.5" font-size="23.8" font-weight="bold" fill="#222"  textLength="58.8" lengthAdjust="spacingAndGlyphs">1200</text>
<line x1="1928.4" y1="548.5" x2="1928.4" y2="541.5" stroke="#333" stroke-width="3"/>
<text id="t_ix1400" x="1899.9" y="577.5" font-size="23.8" font-weight="bold" fill="#222"  textLength="58.8" lengthAdjust="spacingAndGlyphs">1400</text>
<line x1="2064.4" y1="548.5" x2="2064.4" y2="541.5" stroke="#333" stroke-width="3"/>
<text id="t_ix1600" x="2035.9" y="577.5" font-size="23.8" font-weight="bold" fill="#222"  textLength="58.8" lengthAdjust="spacingAndGlyphs">1600</text>
<rect x="33" y="846" width="660" height="654" fill="#c0c0c0"/>
<rect x="33" y="846" width="657" height="651" fill="#8a8a8a"/>
<rect x="36" y="849" width="654" height="648" fill="#000"/>
<svg x="36" y="849" width="654" height="648" overflow="hidden"><g filter="url(#blur2)">
<rect x="-22.1" y="-21.9" width="22.4" height="22.2" fill="#000"/>
<rect x="-0.3" y="-21.9" width="22.4" height="22.2" fill="#000"/>
<rect x="21.5" y="-21.9" width="22.4" height="22.2" fill="#000"/>
<rect x="43.3" y="-21.9" width="22.4" height="22.2" fill="#000"/>
<rect x="65.1" y="-21.9" width="22.4" height="22.2" fill="#000"/>
<rect x="86.9" y="-21.9" width="22.4" height="22.2" fill="#000"/>
<rect x="108.7" y="-21.9" width="22.4" height="22.2" fill="#000"/>
<rect x="130.5" y="-21.9" width="22.4" height="22.2" fill="#000"/>
<rect x="152.3" y="-21.9" width="22.4" height="22.2" fill="#000"/>
<rect x="174.1" y="-21.9" width="22.4" height="22.2" fill="#000"/>
<rect x="195.9" y="-21.9" width="22.4" height="22.2" fill="#000"/>
<rect x="217.7" y="-21.9" width="22.4" height="22.2" fill="#000"/>
<rect x="239.5" y="-21.9" width="22.4" height="22.2" fill="#000"/>
<rect x="261.3" y="-21.9" width="22.4" height="22.2" fill="#000"/>
<rect x="283.1" y="-21.9" width="22.4" height="22.2" fill="#000"/>
<rect x="304.9" y="-21.9" width="22.4" height="22.2" fill="#000"/>
<rect x="326.7" y="-21.9" width="22.4" height="22.2" fill="#000"/>
<rect x="348.5" y="-21.9" width="22.4" height="22.2" fill="#000"/>
<rect x="370.3" y="-21.9" width="22.4" height="22.2" fill="#000"/>
<rect x="392.1" y="-21.9" width="22.4" height="22.2" fill="#000"/>
<rect x="413.9" y="-21.9" width="22.4" height="22.2" fill="#000"/>
<rect x="435.7" y="-21.9" width="22.4" height="22.2" fill="#000"/>
<rect x="457.5" y="-21.9" width="22.4" height="22.2" fill="#000"/>
<rect x="479.3" y="-21.9" width="22.4" height="22.2" fill="#000"/>
<rect x="501.1" y="-21.9" width="22.4" height="22.2" fill="#000"/>
<rect x="522.9" y="-21.9" width="22.4" height="22.2" fill="#000"/>
<rect x="544.7" y="-21.9" width="22.4" height="22.2" fill="#000"/>
<rect x="566.5" y="-21.9" width="22.4" height="22.2" fill="#000"/>
<rect x="588.3" y="-21.9" width="22.4" height="22.2" fill="#000"/>
<rect x="610.1" y="-21.9" width="22.4" height="22.2" fill="#000"/>
<rect x="631.9" y="-21.9" width="22.4" height="22.2" fill="#000"/>
<rect x="653.7" y="-21.9" width="22.4" height="22.2" fill="#000"/>
<rect x="-22.1" y="-0.3" width="22.4" height="22.2" fill="#000"/>
<rect x="-0.3" y="-0.3" width="22.4" height="22.2" fill="#000"/>
<rect x="21.5" y="-0.3" width="22.4" height="22.2" fill="#000"/>
<rect x="43.3" y="-0.3" width="22.4" height="22.2" fill="#000"/>
<rect x="65.1" y="-0.3" width="22.4" height="22.2" fill="#000"/>
<rect x="86.9" y="-0.3" width="22.4" height="22.2" fill="#000"/>
<rect x="108.7" y="-0.3" width="22.4" height="22.2" fill="#000"/>
<rect x="130.5" y="-0.3" width="22.4" height="22.2" fill="#000"/>
<rect x="152.3" y="-0.3" width="22.4" height="22.2" fill="#000"/>
<rect x="174.1" y="-0.3" width="22.4" height="22.2" fill="#000"/>
<rect x="195.9" y="-0.3" width="22.4" height="22.2" fill="#000"/>
<rect x="217.7" y="-0.3" width="22.4" height="22.2" fill="#000"/>
<rect x="239.5" y="-0.3" width="22.4" height="22.2" fill="#000"/>
<rect x="261.3" y="-0.3" width="22.4" height="22.2" fill="#000"/>
<rect x="283.1" y="-0.3" width="22.4" height="22.2" fill="#000"/>
<rect x="304.9" y="-0.3" width="22.4" height="22.2" fill="#000"/>
<rect x="326.7" y="-0.3" width="22.4" height="22.2" fill="#000"/>
<rect x="348.5" y="-0.3" width="22.4" height="22.2" fill="#000"/>
<rect x="370.3" y="-0.3" width="22.4" height="22.2" fill="#000"/>
<rect x="392.1" y="-0.3" width="22.4" height="22.2" fill="#000"/>
<rect x="413.9" y="-0.3" width="22.4" height="22.2" fill="#000"/>
<rect x="435.7" y="-0.3" width="22.4" height="22.2" fill="#000"/>
<rect x="457.5" y="-0.3" width="22.4" height="22.2" fill="#000"/>
<rect x="479.3" y="-0.3" width="22.4" height="22.2" fill="#000"/>
<rect x="501.1" y="-0.3" width="22.4" height="22.2" fill="#000"/>
<rect x="522.9" y="-0.3" width="22.4" height="22.2" fill="#000"/>
<rect x="544.7" y="-0.3" width="22.4" height="22.2" fill="#000"/>
<rect x="566.5" y="-0.3" width="22.4" height="22.2" fill="#000"/>
<rect x="588.3" y="-0.3" width="22.4" height="22.2" fill="#000"/>
<rect x="610.1" y="-0.3" width="22.4" height="22.2" fill="#000"/>
<rect x="631.9" y="-0.3" width="22.4" height="22.2" fill="#000"/>
<rect x="653.7" y="-0.3" width="22.4" height="22.2" fill="#000"/>
<rect x="-22.1" y="21.3" width="22.4" height="22.2" fill="#000"/>
<rect x="-0.3" y="21.3" width="22.4" height="22.2" fill="#000"/>
<rect x="21.5" y="21.3" width="22.4" height="22.2" fill="#000"/>
<rect x="43.3" y="21.3" width="22.4" height="22.2" fill="#000"/>
<rect x="65.1" y="21.3" width="22.4" height="22.2" fill="#000"/>
<rect x="86.9" y="21.3" width="22.4" height="22.2" fill="#000"/>
<rect x="108.7" y="21.3" width="22.4" height="22.2" fill="#000"/>
<rect x="130.5" y="21.3" width="22.4" height="22.2" fill="#000"/>
<rect x="152.3" y="21.3" width="22.4" height="22.2" fill="#000"/>
<rect x="174.1" y="21.3" width="22.4" height="22.2" fill="#000"/>
<rect x="195.9" y="21.3" width="22.4" height="22.2" fill="#000"/>
<rect x="217.7" y="21.3" width="22.4" height="22.2" fill="#000"/>
<rect x="239.5" y="21.3" width="22.4" height="22.2" fill="#000"/>
<rect x="261.3" y="21.3" width="22.4" height="22.2" fill="#000"/>
<rect x="283.1" y="21.3" width="22.4" height="22.2" fill="#000"/>
<rect x="304.9" y="21.3" width="22.4" height="22.2" fill="#000"/>
<rect x="326.7" y="21.3" width="22.4" height="22.2" fill="#000"/>
<rect x="348.5" y="21.3" width="22.4" height="22.2" fill="#000"/>
<rect x="370.3" y="21.3" width="22.4" height="22.2" fill="#000"/>
<rect x="392.1" y="21.3" width="22.4" height="22.2" fill="#000"/>
<rect x="413.9" y="21.3" width="22.4" height="22.2" fill="#000"/>
<rect x="435.7" y="21.3" width="22.4" height="22.2" fill="#000"/>
<rect x="457.5" y="21.3" width="22.4" height="22.2" fill="#000"/>
<rect x="479.3" y="21.3" width="22.4" height="22.2" fill="#000"/>
<rect x="501.1" y="21.3" width="22.4" height="22.2" fill="#000"/>
<rect x="522.9" y="21.3" width="22.4" height="22.2" fill="#000"/>
<rect x="544.7" y="21.3" width="22.4" height="22.2" fill="#000"/>
<rect x="566.5" y="21.3" width="22.4" height="22.2" fill="#000"/>
<rect x="588.3" y="21.3" width="22.4" height="22.2" fill="#000"/>
<rect x="610.1" y="21.3" width="22.4" height="22.2" fill="#000"/>
<rect x="631.9" y="21.3" width="22.4" height="22.2" fill="#000"/>
<rect x="653.7" y="21.3" width="22.4" height="22.2" fill="#000"/>
<rect x="-22.1" y="42.9" width="22.4" height="22.2" fill="#000"/>
<rect x="-0.3" y="42.9" width="22.4" height="22.2" fill="#000"/>
<rect x="21.5" y="42.9" width="22.4" height="22.2" fill="#000"/>
<rect x="43.3" y="42.9" width="22.4" height="22.2" fill="#000"/>
<rect x="65.1" y="42.9" width="22.4" height="22.2" fill="#000"/>
<rect x="86.9" y="42.9" width="22.4" height="22.2" fill="#000"/>
<rect x="108.7" y="42.9" width="22.4" height="22.2" fill="#000"/>
<rect x="130.5" y="42.9" width="22.4" height="22.2" fill="#000"/>
<rect x="152.3" y="42.9" width="22.4" height="22.2" fill="#000"/>
<rect x="174.1" y="42.9" width="22.4" height="22.2" fill="#000"/>
<rect x="195.9" y="42.9" width="22.4" height="22.2" fill="#000"/>
<rect x="217.7" y="42.9" width="22.4" height="22.2" fill="#000"/>
<rect x="239.5" y="42.9" width="22.4" height="22.2" fill="#000"/>
<rect x="261.3" y="42.9" width="22.4" height="22.2" fill="#000"/>
<rect x="283.1" y="42.9" width="22.4" height="22.2" fill="#000"/>
<rect x="304.9" y="42.9" width="22.4" height="22.2" fill="#000"/>
<rect x="326.7" y="42.9" width="22.4" height="22.2" fill="#000"/>
<rect x="348.5" y="42.9" width="22.4" height="22.2" fill="#000"/>
<rect x="370.3" y="42.9" width="22.4" height="22.2" fill="#000"/>
<rect x="392.1" y="42.9" width="22.4" height="22.2" fill="#000"/>
<rect x="413.9" y="42.9" width="22.4" height="22.2" fill="#000"/>
<rect x="435.7" y="42.9" width="22.4" height="22.2" fill="#000"/>
<rect x="457.5" y="42.9" width="22.4" height="22.2" fill="#000"/>
<rect x="479.3" y="42.9" width="22.4" height="22.2" fill="#000"/>
<rect x="501.1" y="42.9" width="22.4" height="22.2" fill="#000"/>
<rect x="522.9" y="42.9" width="22.4" height="22.2" fill="#000"/>
<rect x="544.7" y="42.9" width="22.4" height="22.2" fill="#000"/>
<rect x="566.5" y="42.9" width="22.4" height="22.2" fill="#000"/>
<rect x="588.3" y="42.9" width="22.4" height="22.2" fill="#000"/>
<rect x="610.1" y="42.9" width="22.4" height="22.2" fill="#000"/>
<rect x="631.9" y="42.9" width="22.4" height="22.2" fill="#000"/>
<rect x="653.7" y="42.9" width="22.4" height="22.2" fill="#000"/>
<rect x="-22.1" y="64.5" width="22.4" height="22.2" fill="#000"/>
<rect x="-0.3" y="64.5" width="22.4" height="22.2" fill="#000"/>
<rect x="21.5" y="64.5" width="22.4" height="22.2" fill="#000"/>
<rect x="43.3" y="64.5" width="22.4" height="22.2" fill="#000"/>
<rect x="65.1" y="64.5" width="22.4" height="22.2" fill="#000"/>
<rect x="86.9" y="64.5" width="22.4" height="22.2" fill="#000"/>
<rect x="108.7" y="64.5" width="22.4" height="22.2" fill="#000"/>
<rect x="130.5" y="64.5" width="22.4" height="22.2" fill="#000"/>
<rect x="152.3" y="64.5" width="22.4" height="22.2" fill="#000"/>
<rect x="174.1" y="64.5" width="22.4" height="22.2" fill="#000"/>
<rect x="195.9" y="64.5" width="22.4" height="22.2" fill="#000"/>
<rect x="217.7" y="64.5" width="22.4" height="22.2" fill="#000"/>
<rect x="239.5" y="64.5" width="22.4" height="22.2" fill="#000"/>
<rect x="261.3" y="64.5" width="22.4" height="22.2" fill="#000"/>
<rect x="283.1" y="64.5" width="22.4" height="22.2" fill="#000"/>
<rect x="304.9" y="64.5" width="22.4" height="22.2" fill="#000"/>
<rect x="326.7" y="64.5" width="22.4" height="22.2" fill="#000"/>
<rect x="348.5" y="64.5" width="22.4" height="22.2" fill="#000"/>
<rect x="370.3" y="64.5" width="22.4" height="22.2" fill="#000"/>
<rect x="392.1" y="64.5" width="22.4" height="22.2" fill="#000"/>
<rect x="413.9" y="64.5" width="22.4" height="22.2" fill="#000"/>
<rect x="435.7" y="64.5" width="22.4" height="22.2" fill="#000"/>
<rect x="457.5" y="64.5" width="22.4" height="22.2" fill="#000"/>
<rect x="479.3" y="64.5" width="22.4" height="22.2" fill="#000"/>
<rect x="501.1" y="64.5" width="22.4" height="22.2" fill="#000"/>
<rect x="522.9" y="64.5" width="22.4" height="22.2" fill="#000"/>
<rect x="544.7" y="64.5" width="22.4" height="22.2" fill="#000"/>
<rect x="566.5" y="64.5" width="22.4" height="22.2" fill="#000"/>
<rect x="588.3" y="64.5" width="22.4" height="22.2" fill="#000"/>
<rect x="610.1" y="64.5" width="22.4" height="22.2" fill="#000"/>
<rect x="631.9" y="64.5" width="22.4" height="22.2" fill="#000"/>
<rect x="653.7" y="64.5" width="22.4" height="22.2" fill="#000"/>
<rect x="-22.1" y="86.1" width="22.4" height="22.2" fill="#000"/>
<rect x="-0.3" y="86.1" width="22.4" height="22.2" fill="#000"/>
<rect x="21.5" y="86.1" width="22.4" height="22.2" fill="#000"/>
<rect x="43.3" y="86.1" width="22.4" height="22.2" fill="#000"/>
<rect x="65.1" y="86.1" width="22.4" height="22.2" fill="#000"/>
<rect x="86.9" y="86.1" width="22.4" height="22.2" fill="#000"/>
<rect x="108.7" y="86.1" width="22.4" height="22.2" fill="#000"/>
<rect x="130.5" y="86.1" width="22.4" height="22.2" fill="#000"/>
<rect x="152.3" y="86.1" width="22.4" height="22.2" fill="#000"/>
<rect x="174.1" y="86.1" width="22.4" height="22.2" fill="#000"/>
<rect x="195.9" y="86.1" width="22.4" height="22.2" fill="#000"/>
<rect x="217.7" y="86.1" width="22.4" height="22.2" fill="#000"/>
<rect x="239.5" y="86.1" width="22.4" height="22.2" fill="#000"/>
<rect x="261.3" y="86.1" width="22.4" height="22.2" fill="#000"/>
<rect x="283.1" y="86.1" width="22.4" height="22.2" fill="#000"/>
<rect x="304.9" y="86.1" width="22.4" height="22.2" fill="#000"/>
<rect x="326.7" y="86.1" width="22.4" height="22.2" fill="#000"/>
<rect x="348.5" y="86.1" width="22.4" height="22.2" fill="#000"/>
<rect x="370.3" y="86.1" width="22.4" height="22.2" fill="#000"/>
<rect x="392.1" y="86.1" width="22.4" height="22.2" fill="#000"/>
<rect x="413.9" y="86.1" width="22.4" height="22.2" fill="#000"/>
<rect x="435.7" y="86.1" width="22.4" height="22.2" fill="#000"/>
<rect x="457.5" y="86.1" width="22.4" height="22.2" fill="#000"/>
<rect x="479.3" y="86.1" width="22.4" height="22.2" fill="#000"/>
<rect x="501.1" y="86.1" width="22.4" height="22.2" fill="#000"/>
<rect x="522.9" y="86.1" width="22.4" height="22.2" fill="#000"/>
<rect x="544.7" y="86.1" width="22.4" height="22.2" fill="#000"/>
<rect x="566.5" y="86.1" width="22.4" height="22.2" fill="#000"/>
<rect x="588.3" y="86.1" width="22.4" height="22.2" fill="#000"/>
<rect x="610.1" y="86.1" width="22.4" height="22.2" fill="#000"/>
<rect x="631.9" y="86.1" width="22.4" height="22.2" fill="#000"/>
<rect x="653.7" y="86.1" width="22.4" height="22.2" fill="#000"/>
<rect x="-22.1" y="107.7" width="22.4" height="22.2" fill="#000"/>
<rect x="-0.3" y="107.7" width="22.4" height="22.2" fill="#000"/>
<rect x="21.5" y="107.7" width="22.4" height="22.2" fill="#000"/>
<rect x="43.3" y="107.7" width="22.4" height="22.2" fill="#000"/>
<rect x="65.1" y="107.7" width="22.4" height="22.2" fill="#000"/>
<rect x="86.9" y="107.7" width="22.4" height="22.2" fill="#000"/>
<rect x="108.7" y="107.7" width="22.4" height="22.2" fill="#000"/>
<rect x="130.5" y="107.7" width="22.4" height="22.2" fill="#000"/>
<rect x="152.3" y="107.7" width="22.4" height="22.2" fill="#000"/>
<rect x="174.1" y="107.7" width="22.4" height="22.2" fill="#000"/>
<rect x="195.9" y="107.7" width="22.4" height="22.2" fill="#000"/>
<rect x="217.7" y="107.7" width="22.4" height="22.2" fill="#000"/>
<rect x="239.5" y="107.7" width="22.4" height="22.2" fill="#000"/>
<rect x="261.3" y="107.7" width="22.4" height="22.2" fill="#000"/>
<rect x="283.1" y="107.7" width="22.4" height="22.2" fill="#000"/>
<rect x="304.9" y="107.7" width="22.4" height="22.2" fill="#000"/>
<rect x="326.7" y="107.7" width="22.4" height="22.2" fill="#000"/>
<rect x="348.5" y="107.7" width="22.4" height="22.2" fill="#000"/>
<rect x="370.3" y="107.7" width="22.4" height="22.2" fill="#000"/>
<rect x="392.1" y="107.7" width="22.4" height="22.2" fill="#000"/>
<rect x="413.9" y="107.7" width="22.4" height="22.2" fill="#000"/>
<rect x="435.7" y="107.7" width="22.4" height="22.2" fill="#000"/>
<rect x="457.5" y="107.7" width="22.4" height="22.2" fill="#000"/>
<rect x="479.3" y="107.7" width="22.4" height="22.2" fill="#000"/>
<rect x="501.1" y="107.7" width="22.4" height="22.2" fill="#000"/>
<rect x="522.9" y="107.7" width="22.4" height="22.2" fill="#000"/>
<rect x="544.7" y="107.7" width="22.4" height="22.2" fill="#000"/>
<rect x="566.5" y="107.7" width="22.4" height="22.2" fill="#000"/>
<rect x="588.3" y="107.7" width="22.4" height="22.2" fill="#000"/>
<rect x="610.1" y="107.7" width="22.4" height="22.2" fill="#000"/>
<rect x="631.9" y="107.7" width="22.4" height="22.2" fill="#000"/>
<rect x="653.7" y="107.7" width="22.4" height="22.2" fill="#000"/>
<rect x="-22.1" y="129.3" width="22.4" height="22.2" fill="#000"/>
<rect x="-0.3" y="129.3" width="22.4" height="22.2" fill="#000"/>
<rect x="21.5" y="129.3" width="22.4" height="22.2" fill="#000"/>
<rect x="43.3" y="129.3" width="22.4" height="22.2" fill="#000"/>
<rect x="65.1" y="129.3" width="22.4" height="22.2" fill="#000"/>
<rect x="86.9" y="129.3" width="22.4" height="22.2" fill="#000"/>
<rect x="108.7" y="129.3" width="22.4" height="22.2" fill="#000"/>
<rect x="130.5" y="129.3" width="22.4" height="22.2" fill="#000"/>
<rect x="152.3" y="129.3" width="22.4" height="22.2" fill="#000"/>
<rect x="174.1" y="129.3" width="22.4" height="22.2" fill="#000"/>
<rect x="195.9" y="129.3" width="22.4" height="22.2" fill="#000"/>
<rect x="217.7" y="129.3" width="22.4" height="22.2" fill="#000"/>
<rect x="239.5" y="129.3" width="22.4" height="22.2" fill="#000"/>
<rect x="261.3" y="129.3" width="22.4" height="22.2" fill="#000"/>
<rect x="283.1" y="129.3" width="22.4" height="22.2" fill="#000"/>
<rect x="304.9" y="129.3" width="22.4" height="22.2" fill="#000"/>
<rect x="326.7" y="129.3" width="22.4" height="22.2" fill="#000"/>
<rect x="348.5" y="129.3" width="22.4" height="22.2" fill="#000"/>
<rect x="370.3" y="129.3" width="22.4" height="22.2" fill="#000"/>
<rect x="392.1" y="129.3" width="22.4" height="22.2" fill="#000"/>
<rect x="413.9" y="129.3" width="22.4" height="22.2" fill="#000"/>
<rect x="435.7" y="129.3" width="22.4" height="22.2" fill="#000"/>
<rect x="457.5" y="129.3" width="22.4" height="22.2" fill="#000"/>
<rect x="479.3" y="129.3" width="22.4" height="22.2" fill="#000"/>
<rect x="501.1" y="129.3" width="22.4" height="22.2" fill="#000"/>
<rect x="522.9" y="129.3" width="22.4" height="22.2" fill="#000"/>
<rect x="544.7" y="129.3" width="22.4" height="22.2" fill="#000"/>
<rect x="566.5" y="129.3" width="22.4" height="22.2" fill="#000"/>
<rect x="588.3" y="129.3" width="22.4" height="22.2" fill="#000"/>
<rect x="610.1" y="129.3" width="22.4" height="22.2" fill="#000"/>
<rect x="631.9" y="129.3" width="22.4" height="22.2" fill="#000"/>
<rect x="653.7" y="129.3" width="22.4" height="22.2" fill="#000"/>
<rect x="-22.1" y="150.9" width="22.4" height="22.2" fill="#000"/>
<rect x="-0.3" y="150.9" width="22.4" height="22.2" fill="#000"/>
<rect x="21.5" y="150.9" width="22.4" height="22.2" fill="#000"/>
<rect x="43.3" y="150.9" width="22.4" height="22.2" fill="#000"/>
<rect x="65.1" y="150.9" width="22.4" height="22.2" fill="#000"/>
<rect x="86.9" y="150.9" width="22.4" height="22.2" fill="#000"/>
<rect x="108.7" y="150.9" width="22.4" height="22.2" fill="#000"/>
<rect x="130.5" y="150.9" width="22.4" height="22.2" fill="#000"/>
<rect x="152.3" y="150.9" width="22.4" height="22.2" fill="#000"/>
<rect x="174.1" y="150.9" width="22.4" height="22.2" fill="#000"/>
<rect x="195.9" y="150.9" width="22.4" height="22.2" fill="#000"/>
<rect x="217.7" y="150.9" width="22.4" height="22.2" fill="#000"/>
<rect x="239.5" y="150.9" width="22.4" height="22.2" fill="#000"/>
<rect x="261.3" y="150.9" width="22.4" height="22.2" fill="#000"/>
<rect x="283.1" y="150.9" width="22.4" height="22.2" fill="#000"/>
<rect x="304.9" y="150.9" width="22.4" height="22.2" fill="#000"/>
<rect x="326.7" y="150.9" width="22.4" height="22.2" fill="#000"/>
<rect x="348.5" y="150.9" width="22.4" height="22.2" fill="#000"/>
<rect x="370.3" y="150.9" width="22.4" height="22.2" fill="#000"/>
<rect x="392.1" y="150.9" width="22.4" height="22.2" fill="#000"/>
<rect x="413.9" y="150.9" width="22.4" height="22.2" fill="#000"/>
<rect x="435.7" y="150.9" width="22.4" height="22.2" fill="#000"/>
<rect x="457.5" y="150.9" width="22.4" height="22.2" fill="#000"/>
<rect x="479.3" y="150.9" width="22.4" height="22.2" fill="#000"/>
<rect x="501.1" y="150.9" width="22.4" height="22.2" fill="#000"/>
<rect x="522.9" y="150.9" width="22.4" height="22.2" fill="#000"/>
<rect x="544.7" y="150.9" width="22.4" height="22.2" fill="#000"/>
<rect x="566.5" y="150.9" width="22.4" height="22.2" fill="#000"/>
<rect x="588.3" y="150.9" width="22.4" height="22.2" fill="#000"/>
<rect x="610.1" y="150.9" width="22.4" height="22.2" fill="#000"/>
<rect x="631.9" y="150.9" width="22.4" height="22.2" fill="#000"/>
<rect x="653.7" y="150.9" width="22.4" height="22.2" fill="#000"/>
<rect x="-22.1" y="172.5" width="22.4" height="22.2" fill="rgb(209,0,0)"/>
<rect x="-0.3" y="172.5" width="22.4" height="22.2" fill="rgb(209,0,0)"/>
<rect x="21.5" y="172.5" width="22.4" height="22.2" fill="rgb(169,0,0)"/>
<rect x="43.3" y="172.5" width="22.4" height="22.2" fill="#000"/>
<rect x="65.1" y="172.5" width="22.4" height="22.2" fill="#000"/>
<rect x="86.9" y="172.5" width="22.4" height="22.2" fill="#000"/>
<rect x="108.7" y="172.5" width="22.4" height="22.2" fill="#000"/>
<rect x="130.5" y="172.5" width="22.4" height="22.2" fill="#000"/>
<rect x="152.3" y="172.5" width="22.4" height="22.2" fill="#000"/>
<rect x="174.1" y="172.5" width="22.4" height="22.2" fill="#000"/>
<rect x="195.9" y="172.5" width="22.4" height="22.2" fill="#000"/>
<rect x="217.7" y="172.5" width="22.4" height="22.2" fill="#000"/>
<rect x="239.5" y="172.5" width="22.4" height="22.2" fill="#000"/>
<rect x="261.3" y="172.5" width="22.4" height="22.2" fill="#000"/>
<rect x="283.1" y="172.5" width="22.4" height="22.2" fill="#000"/>
<rect x="304.9" y="172.5" width="22.4" height="22.2" fill="#000"/>
<rect x="326.7" y="172.5" width="22.4" height="22.2" fill="#000"/>
<rect x="348.5" y="172.5" width="22.4" height="22.2" fill="#000"/>
<rect x="370.3" y="172.5" width="22.4" height="22.2" fill="#000"/>
<rect x="392.1" y="172.5" width="22.4" height="22.2" fill="#000"/>
<rect x="413.9" y="172.5" width="22.4" height="22.2" fill="#000"/>
<rect x="435.7" y="172.5" width="22.4" height="22.2" fill="#000"/>
<rect x="457.5" y="172.5" width="22.4" height="22.2" fill="#000"/>
<rect x="479.3" y="172.5" width="22.4" height="22.2" fill="#000"/>
<rect x="501.1" y="172.5" width="22.4" height="22.2" fill="#000"/>
<rect x="522.9" y="172.5" width="22.4" height="22.2" fill="#000"/>
<rect x="544.7" y="172.5" width="22.4" height="22.2" fill="#000"/>
<rect x="566.5" y="172.5" width="22.4" height="22.2" fill="#000"/>
<rect x="588.3" y="172.5" width="22.4" height="22.2" fill="#000"/>
<rect x="610.1" y="172.5" width="22.4" height="22.2" fill="#000"/>
<rect x="631.9" y="172.5" width="22.4" height="22.2" fill="#000"/>
<rect x="653.7" y="172.5" width="22.4" height="22.2" fill="#000"/>
<rect x="-22.1" y="194.1" width="22.4" height="22.2" fill="rgb(184,0,0)"/>
<rect x="-0.3" y="194.1" width="22.4" height="22.2" fill="rgb(184,0,0)"/>
<rect x="21.5" y="194.1" width="22.4" height="22.2" fill="rgb(137,0,0)"/>
<rect x="43.3" y="194.1" width="22.4" height="22.2" fill="rgb(156,0,0)"/>
<rect x="65.1" y="194.1" width="22.4" height="22.2" fill="rgb(176,0,0)"/>
<rect x="86.9" y="194.1" width="22.4" height="22.2" fill="rgb(187,0,0)"/>
<rect x="108.7" y="194.1" width="22.4" height="22.2" fill="rgb(185,0,0)"/>
<rect x="130.5" y="194.1" width="22.4" height="22.2" fill="#000"/>
<rect x="152.3" y="194.1" width="22.4" height="22.2" fill="#000"/>
<rect x="174.1" y="194.1" width="22.4" height="22.2" fill="#000"/>
<rect x="195.9" y="194.1" width="22.4" height="22.2" fill="#000"/>
<rect x="217.7" y="194.1" width="22.4" height="22.2" fill="#000"/>
<rect x="239.5" y="194.1" width="22.4" height="22.2" fill="#000"/>
<rect x="261.3" y="194.1" width="22.4" height="22.2" fill="#000"/>
<rect x="283.1" y="194.1" width="22.4" height="22.2" fill="#000"/>
<rect x="304.9" y="194.1" width="22.4" height="22.2" fill="#000"/>
<rect x="326.7" y="194.1" width="22.4" height="22.2" fill="#000"/>
<rect x="348.5" y="194.1" width="22.4" height="22.2" fill="#000"/>
<rect x="370.3" y="194.1" width="22.4" height="22.2" fill="#000"/>
<rect x="392.1" y="194.1" width="22.4" height="22.2" fill="#000"/>
<rect x="413.9" y="194.1" width="22.4" height="22.2" fill="#000"/>
<rect x="435.7" y="194.1" width="22.4" height="22.2" fill="#000"/>
<rect x="457.5" y="194.1" width="22.4" height="22.2" fill="#000"/>
<rect x="479.3" y="194.1" width="22.4" height="22.2" fill="#000"/>
<rect x="501.1" y="194.1" width="22.4" height="22.2" fill="#000"/>
<rect x="522.9" y="194.1" width="22.4" height="22.2" fill="#000"/>
<rect x="544.7" y="194.1" width="22.4" height="22.2" fill="#000"/>
<rect x="566.5" y="194.1" width="22.4" height="22.2" fill="#000"/>
<rect x="588.3" y="194.1" width="22.4" height="22.2" fill="#000"/>
<rect x="610.1" y="194.1" width="22.4" height="22.2" fill="#000"/>
<rect x="631.9" y="194.1" width="22.4" height="22.2" fill="#000"/>
<rect x="653.7" y="194.1" width="22.4" height="22.2" fill="#000"/>
<rect x="-22.1" y="215.7" width="22.4" height="22.2" fill="rgb(164,0,0)"/>
<rect x="-0.3" y="215.7" width="22.4" height="22.2" fill="rgb(164,0,0)"/>
<rect x="21.5" y="215.7" width="22.4" height="22.2" fill="rgb(84,0,0)"/>
<rect x="43.3" y="215.7" width="22.4" height="22.2" fill="rgb(181,0,0)"/>
<rect x="65.1" y="215.7" width="22.4" height="22.2" fill="rgb(83,0,0)"/>
<rect x="86.9" y="215.7" width="22.4" height="22.2" fill="rgb(146,0,0)"/>
<rect x="108.7" y="215.7" width="22.4" height="22.2" fill="rgb(192,0,0)"/>
<rect x="130.5" y="215.7" width="22.4" height="22.2" fill="rgb(187,0,0)"/>
<rect x="152.3" y="215.7" width="22.4" height="22.2" fill="rgb(200,0,0)"/>
<rect x="174.1" y="215.7" width="22.4" height="22.2" fill="rgb(202,0,0)"/>
<rect x="195.9" y="215.7" width="22.4" height="22.2" fill="#000"/>
<rect x="217.7" y="215.7" width="22.4" height="22.2" fill="#000"/>
<rect x="239.5" y="215.7" width="22.4" height="22.2" fill="#000"/>
<rect x="261.3" y="215.7" width="22.4" height="22.2" fill="#000"/>
<rect x="283.1" y="215.7" width="22.4" height="22.2" fill="#000"/>
<rect x="304.9" y="215.7" width="22.4" height="22.2" fill="#000"/>
<rect x="326.7" y="215.7" width="22.4" height="22.2" fill="#000"/>
<rect x="348.5" y="215.7" width="22.4" height="22.2" fill="#000"/>
<rect x="370.3" y="215.7" width="22.4" height="22.2" fill="#000"/>
<rect x="392.1" y="215.7" width="22.4" height="22.2" fill="#000"/>
<rect x="413.9" y="215.7" width="22.4" height="22.2" fill="#000"/>
<rect x="435.7" y="215.7" width="22.4" height="22.2" fill="#000"/>
<rect x="457.5" y="215.7" width="22.4" height="22.2" fill="#000"/>
<rect x="479.3" y="215.7" width="22.4" height="22.2" fill="#000"/>
<rect x="501.1" y="215.7" width="22.4" height="22.2" fill="#000"/>
<rect x="522.9" y="215.7" width="22.4" height="22.2" fill="#000"/>
<rect x="544.7" y="215.7" width="22.4" height="22.2" fill="#000"/>
<rect x="566.5" y="215.7" width="22.4" height="22.2" fill="#000"/>
<rect x="588.3" y="215.7" width="22.4" height="22.2" fill="#000"/>
<rect x="610.1" y="215.7" width="22.4" height="22.2" fill="#000"/>
<rect x="631.9" y="215.7" width="22.4" height="22.2" fill="#000"/>
<rect x="653.7" y="215.7" width="22.4" height="22.2" fill="#000"/>
<rect x="-22.1" y="237.3" width="22.4" height="22.2" fill="rgb(189,0,0)"/>
<rect x="-0.3" y="237.3" width="22.4" height="22.2" fill="rgb(189,0,0)"/>
<rect x="21.5" y="237.3" width="22.4" height="22.2" fill="rgb(166,0,0)"/>
<rect x="43.3" y="237.3" width="22.4" height="22.2" fill="rgb(175,0,0)"/>
<rect x="65.1" y="237.3" width="22.4" height="22.2" fill="rgb(194,0,0)"/>
<rect x="86.9" y="237.3" width="22.4" height="22.2" fill="rgb(192,0,0)"/>
<rect x="108.7" y="237.3" width="22.4" height="22.2" fill="rgb(195,0,0)"/>
<rect x="130.5" y="237.3" width="22.4" height="22.2" fill="rgb(193,0,0)"/>
<rect x="152.3" y="237.3" width="22.4" height="22.2" fill="rgb(177,0,0)"/>
<rect x="174.1" y="237.3" width="22.4" height="22.2" fill="rgb(95,0,0)"/>
<rect x="195.9" y="237.3" width="22.4" height="22.2" fill="rgb(175,0,0)"/>
<rect x="217.7" y="237.3" width="22.4" height="22.2" fill="rgb(159,0,0)"/>
<rect x="239.5" y="237.3" width="22.4" height="22.2" fill="rgb(169,0,0)"/>
<rect x="261.3" y="237.3" width="22.4" height="22.2" fill="rgb(196,0,0)"/>
<rect x="283.1" y="237.3" width="22.4" height="22.2" fill="#000"/>
<rect x="304.9" y="237.3" width="22.4" height="22.2" fill="#000"/>
<rect x="326.7" y="237.3" width="22.4" height="22.2" fill="#000"/>
<rect x="348.5" y="237.3" width="22.4" height="22.2" fill="#000"/>
<rect x="370.3" y="237.3" width="22.4" height="22.2" fill="#000"/>
<rect x="392.1" y="237.3" width="22.4" height="22.2" fill="#000"/>
<rect x="413.9" y="237.3" width="22.4" height="22.2" fill="#000"/>
<rect x="435.7" y="237.3" width="22.4" height="22.2" fill="#000"/>
<rect x="457.5" y="237.3" width="22.4" height="22.2" fill="#000"/>
<rect x="479.3" y="237.3" width="22.4" height="22.2" fill="#000"/>
<rect x="501.1" y="237.3" width="22.4" height="22.2" fill="#000"/>
<rect x="522.9" y="237.3" width="22.4" height="22.2" fill="#000"/>
<rect x="544.7" y="237.3" width="22.4" height="22.2" fill="#000"/>
<rect x="566.5" y="237.3" width="22.4" height="22.2" fill="#000"/>
<rect x="588.3" y="237.3" width="22.4" height="22.2" fill="#000"/>
<rect x="610.1" y="237.3" width="22.4" height="22.2" fill="#000"/>
<rect x="631.9" y="237.3" width="22.4" height="22.2" fill="#000"/>
<rect x="653.7" y="237.3" width="22.4" height="22.2" fill="#000"/>
<rect x="-22.1" y="258.9" width="22.4" height="22.2" fill="rgb(160,0,0)"/>
<rect x="-0.3" y="258.9" width="22.4" height="22.2" fill="rgb(160,0,0)"/>
<rect x="21.5" y="258.9" width="22.4" height="22.2" fill="rgb(142,0,0)"/>
<rect x="43.3" y="258.9" width="22.4" height="22.2" fill="rgb(147,0,0)"/>
<rect x="65.1" y="258.9" width="22.4" height="22.2" fill="rgb(173,0,0)"/>
<rect x="86.9" y="258.9" width="22.4" height="22.2" fill="rgb(198,0,0)"/>
<rect x="108.7" y="258.9" width="22.4" height="22.2" fill="rgb(196,0,0)"/>
<rect x="130.5" y="258.9" width="22.4" height="22.2" fill="rgb(173,0,0)"/>
<rect x="152.3" y="258.9" width="22.4" height="22.2" fill="rgb(160,0,0)"/>
<rect x="174.1" y="258.9" width="22.4" height="22.2" fill="rgb(151,0,0)"/>
<rect x="195.9" y="258.9" width="22.4" height="22.2" fill="rgb(90,0,0)"/>
<rect x="217.7" y="258.9" width="22.4" height="22.2" fill="rgb(154,0,0)"/>
<rect x="239.5" y="258.9" width="22.4" height="22.2" fill="rgb(205,0,0)"/>
<rect x="261.3" y="258.9" width="22.4" height="22.2" fill="rgb(192,0,0)"/>
<rect x="283.1" y="258.9" width="22.4" height="22.2" fill="rgb(185,0,0)"/>
<rect x="304.9" y="258.9" width="22.4" height="22.2" fill="rgb(165,0,0)"/>
<rect x="326.7" y="258.9" width="22.4" height="22.2" fill="rgb(196,0,0)"/>
<rect x="348.5" y="258.9" width="22.4" height="22.2" fill="#000"/>
<rect x="370.3" y="258.9" width="22.4" height="22.2" fill="#000"/>
<rect x="392.1" y="258.9" width="22.4" height="22.2" fill="#000"/>
<rect x="413.9" y="258.9" width="22.4" height="22.2" fill="#000"/>
<rect x="435.7" y="258.9" width="22.4" height="22.2" fill="#000"/>
<rect x="457.5" y="258.9" width="22.4" height="22.2" fill="#000"/>
<rect x="479.3" y="258.9" width="22.4" height="22.2" fill="#000"/>
<rect x="501.1" y="258.9" width="22.4" height="22.2" fill="#000"/>
<rect x="522.9" y="258.9" width="22.4" height="22.2" fill="#000"/>
<rect x="544.7" y="258.9" width="22.4" height="22.2" fill="#000"/>
<rect x="566.5" y="258.9" width="22.4" height="22.2" fill="#000"/>
<rect x="588.3" y="258.9" width="22.4" height="22.2" fill="#000"/>
<rect x="610.1" y="258.9" width="22.4" height="22.2" fill="#000"/>
<rect x="631.9" y="258.9" width="22.4" height="22.2" fill="#000"/>
<rect x="653.7" y="258.9" width="22.4" height="22.2" fill="#000"/>
<rect x="-22.1" y="280.5" width="22.4" height="22.2" fill="rgb(156,0,0)"/>
<rect x="-0.3" y="280.5" width="22.4" height="22.2" fill="rgb(156,0,0)"/>
<rect x="21.5" y="280.5" width="22.4" height="22.2" fill="rgb(155,0,0)"/>
<rect x="43.3" y="280.5" width="22.4" height="22.2" fill="rgb(166,0,0)"/>
<rect x="65.1" y="280.5" width="22.4" height="22.2" fill="rgb(195,0,0)"/>
<rect x="86.9" y="280.5" width="22.4" height="22.2" fill="rgb(177,0,0)"/>
<rect x="108.7" y="280.5" width="22.4" height="22.2" fill="rgb(168,0,0)"/>
<rect x="130.5" y="280.5" width="22.4" height="22.2" fill="rgb(153,0,0)"/>
<rect x="152.3" y="280.5" width="22.4" height="22.2" fill="rgb(141,0,0)"/>
<rect x="174.1" y="280.5" width="22.4" height="22.2" fill="rgb(146,0,0)"/>
<rect x="195.9" y="280.5" width="22.4" height="22.2" fill="rgb(187,0,0)"/>
<rect x="217.7" y="280.5" width="22.4" height="22.2" fill="rgb(199,0,0)"/>
<rect x="239.5" y="280.5" width="22.4" height="22.2" fill="rgb(184,0,0)"/>
<rect x="261.3" y="280.5" width="22.4" height="22.2" fill="rgb(187,0,0)"/>
<rect x="283.1" y="280.5" width="22.4" height="22.2" fill="rgb(191,0,0)"/>
<rect x="304.9" y="280.5" width="22.4" height="22.2" fill="rgb(182,0,0)"/>
<rect x="326.7" y="280.5" width="22.4" height="22.2" fill="rgb(135,0,0)"/>
<rect x="348.5" y="280.5" width="22.4" height="22.2" fill="rgb(176,0,0)"/>
<rect x="370.3" y="280.5" width="22.4" height="22.2" fill="rgb(187,0,0)"/>
<rect x="392.1" y="280.5" width="22.4" height="22.2" fill="rgb(169,0,0)"/>
<rect x="413.9" y="280.5" width="22.4" height="22.2" fill="rgb(142,0,0)"/>
<rect x="435.7" y="280.5" width="22.4" height="22.2" fill="#000"/>
<rect x="457.5" y="280.5" width="22.4" height="22.2" fill="#000"/>
<rect x="479.3" y="280.5" width="22.4" height="22.2" fill="#000"/>
<rect x="501.1" y="280.5" width="22.4" height="22.2" fill="#000"/>
<rect x="522.9" y="280.5" width="22.4" height="22.2" fill="#000"/>
<rect x="544.7" y="280.5" width="22.4" height="22.2" fill="#000"/>
<rect x="566.5" y="280.5" width="22.4" height="22.2" fill="#000"/>
<rect x="588.3" y="280.5" width="22.4" height="22.2" fill="#000"/>
<rect x="610.1" y="280.5" width="22.4" height="22.2" fill="#000"/>
<rect x="631.9" y="280.5" width="22.4" height="22.2" fill="#000"/>
<rect x="653.7" y="280.5" width="22.4" height="22.2" fill="#000"/>
<rect x="-22.1" y="302.1" width="22.4" height="22.2" fill="rgb(95,0,0)"/>
<rect x="-0.3" y="302.1" width="22.4" height="22.2" fill="rgb(95,0,0)"/>
<rect x="21.5" y="302.1" width="22.4" height="22.2" fill="rgb(173,0,0)"/>
<rect x="43.3" y="302.1" width="22.4" height="22.2" fill="rgb(186,0,0)"/>
<rect x="65.1" y="302.1" width="22.4" height="22.2" fill="rgb(49,0,0)"/>
<rect x="86.9" y="302.1" width="22.4" height="22.2" fill="rgb(165,0,0)"/>
<rect x="108.7" y="302.1" width="22.4" height="22.2" fill="rgb(175,0,0)"/>
<rect x="130.5" y="302.1" width="22.4" height="22.2" fill="rgb(145,0,0)"/>
<rect x="152.3" y="302.1" width="22.4" height="22.2" fill="rgb(87,0,0)"/>
<rect x="174.1" y="302.1" width="22.4" height="22.2" fill="rgb(165,0,0)"/>
<rect x="195.9" y="302.1" width="22.4" height="22.2" fill="rgb(206,0,0)"/>
<rect x="217.7" y="302.1" width="22.4" height="22.2" fill="rgb(203,0,0)"/>
<rect x="239.5" y="302.1" width="22.4" height="22.2" fill="rgb(167,0,0)"/>
<rect x="261.3" y="302.1" width="22.4" height="22.2" fill="rgb(171,0,0)"/>
<rect x="283.1" y="302.1" width="22.4" height="22.2" fill="rgb(190,0,0)"/>
<rect x="304.9" y="302.1" width="22.4" height="22.2" fill="rgb(180,0,0)"/>
<rect x="326.7" y="302.1" width="22.4" height="22.2" fill="rgb(185,0,0)"/>
<rect x="348.5" y="302.1" width="22.4" height="22.2" fill="rgb(149,0,0)"/>
<rect x="370.3" y="302.1" width="22.4" height="22.2" fill="rgb(154,0,0)"/>
<rect x="392.1" y="302.1" width="22.4" height="22.2" fill="rgb(135,0,0)"/>
<rect x="413.9" y="302.1" width="22.4" height="22.2" fill="rgb(149,0,0)"/>
<rect x="435.7" y="302.1" width="22.4" height="22.2" fill="rgb(169,0,0)"/>
<rect x="457.5" y="302.1" width="22.4" height="22.2" fill="rgb(156,0,0)"/>
<rect x="479.3" y="302.1" width="22.4" height="22.2" fill="rgb(194,0,0)"/>
<rect x="501.1" y="302.1" width="22.4" height="22.2" fill="#000"/>
<rect x="522.9" y="302.1" width="22.4" height="22.2" fill="#000"/>
<rect x="544.7" y="302.1" width="22.4" height="22.2" fill="#000"/>
<rect x="566.5" y="302.1" width="22.4" height="22.2" fill="#000"/>
<rect x="588.3" y="302.1" width="22.4" height="22.2" fill="#000"/>
<rect x="610.1" y="302.1" width="22.4" height="22.2" fill="#000"/>
<rect x="631.9" y="302.1" width="22.4" height="22.2" fill="#000"/>
<rect x="653.7" y="302.1" width="22.4" height="22.2" fill="#000"/>
<rect x="-22.1" y="323.7" width="22.4" height="22.2" fill="rgb(160,0,0)"/>
<rect x="-0.3" y="323.7" width="22.4" height="22.2" fill="rgb(160,0,0)"/>
<rect x="21.5" y="323.7" width="22.4" height="22.2" fill="rgb(203,0,0)"/>
<rect x="43.3" y="323.7" width="22.4" height="22.2" fill="rgb(200,0,0)"/>
<rect x="65.1" y="323.7" width="22.4" height="22.2" fill="rgb(189,0,0)"/>
<rect x="86.9" y="323.7" width="22.4" height="22.2" fill="rgb(168,0,0)"/>
<rect x="108.7" y="323.7" width="22.4" height="22.2" fill="rgb(82,0,0)"/>
<rect x="130.5" y="323.7" width="22.4" height="22.2" fill="rgb(175,0,0)"/>
<rect x="152.3" y="323.7" width="22.4" height="22.2" fill="rgb(171,0,0)"/>
<rect x="174.1" y="323.7" width="22.4" height="22.2" fill="rgb(189,0,0)"/>
<rect x="195.9" y="323.7" width="22.4" height="22.2" fill="rgb(172,0,0)"/>
<rect x="217.7" y="323.7" width="22.4" height="22.2" fill="rgb(184,0,0)"/>
<rect x="239.5" y="323.7" width="22.4" height="22.2" fill="rgb(201,0,0)"/>
<rect x="261.3" y="323.7" width="22.4" height="22.2" fill="rgb(147,0,0)"/>
<rect x="283.1" y="323.7" width="22.4" height="22.2" fill="rgb(83,0,0)"/>
<rect x="304.9" y="323.7" width="22.4" height="22.2" fill="rgb(184,0,0)"/>
<rect x="326.7" y="323.7" width="22.4" height="22.2" fill="rgb(156,0,0)"/>
<rect x="348.5" y="323.7" width="22.4" height="22.2" fill="rgb(74,0,0)"/>
<rect x="370.3" y="323.7" width="22.4" height="22.2" fill="rgb(129,0,0)"/>
<rect x="392.1" y="323.7" width="22.4" height="22.2" fill="rgb(150,0,0)"/>
<rect x="413.9" y="323.7" width="22.4" height="22.2" fill="rgb(114,0,0)"/>
<rect x="435.7" y="323.7" width="22.4" height="22.2" fill="rgb(182,0,0)"/>
<rect x="457.5" y="323.7" width="22.4" height="22.2" fill="rgb(203,0,0)"/>
<rect x="479.3" y="323.7" width="22.4" height="22.2" fill="rgb(200,0,0)"/>
<rect x="501.1" y="323.7" width="22.4" height="22.2" fill="rgb(194,0,0)"/>
<rect x="522.9" y="323.7" width="22.4" height="22.2" fill="rgb(178,0,0)"/>
<rect x="544.7" y="323.7" width="22.4" height="22.2" fill="rgb(169,0,0)"/>
<rect x="566.5" y="323.7" width="22.4" height="22.2" fill="rgb(189,0,0)"/>
<rect x="588.3" y="323.7" width="22.4" height="22.2" fill="#000"/>
<rect x="610.1" y="323.7" width="22.4" height="22.2" fill="#000"/>
<rect x="631.9" y="323.7" width="22.4" height="22.2" fill="#000"/>
<rect x="653.7" y="323.7" width="22.4" height="22.2" fill="#000"/>
<rect x="-22.1" y="345.3" width="22.4" height="22.2" fill="rgb(168,0,0)"/>
<rect x="-0.3" y="345.3" width="22.4" height="22.2" fill="rgb(168,0,0)"/>
<rect x="21.5" y="345.3" width="22.4" height="22.2" fill="rgb(196,0,0)"/>
<rect x="43.3" y="345.3" width="22.4" height="22.2" fill="rgb(203,0,0)"/>
<rect x="65.1" y="345.3" width="22.4" height="22.2" fill="rgb(198,0,0)"/>
<rect x="86.9" y="345.3" width="22.4" height="22.2" fill="rgb(181,0,0)"/>
<rect x="108.7" y="345.3" width="22.4" height="22.2" fill="rgb(169,0,0)"/>
<rect x="130.5" y="345.3" width="22.4" height="22.2" fill="rgb(185,0,0)"/>
<rect x="152.3" y="345.3" width="22.4" height="22.2" fill="rgb(185,0,0)"/>
<rect x="174.1" y="345.3" width="22.4" height="22.2" fill="rgb(175,0,0)"/>
<rect x="195.9" y="345.3" width="22.4" height="22.2" fill="rgb(184,0,0)"/>
<rect x="217.7" y="345.3" width="22.4" height="22.2" fill="rgb(255,0,0)"/>
<rect x="239.5" y="345.3" width="22.4" height="22.2" fill="rgb(165,0,0)"/>
<rect x="261.3" y="345.3" width="22.4" height="22.2" fill="rgb(176,0,0)"/>
<rect x="283.1" y="345.3" width="22.4" height="22.2" fill="rgb(152,0,0)"/>
<rect x="304.9" y="345.3" width="22.4" height="22.2" fill="rgb(166,0,0)"/>
<rect x="326.7" y="345.3" width="22.4" height="22.2" fill="rgb(82,0,0)"/>
<rect x="348.5" y="345.3" width="22.4" height="22.2" fill="rgb(150,0,0)"/>
<rect x="370.3" y="345.3" width="22.4" height="22.2" fill="rgb(167,0,0)"/>
<rect x="392.1" y="345.3" width="22.4" height="22.2" fill="rgb(92,0,0)"/>
<rect x="413.9" y="345.3" width="22.4" height="22.2" fill="rgb(186,0,0)"/>
<rect x="435.7" y="345.3" width="22.4" height="22.2" fill="rgb(171,0,0)"/>
<rect x="457.5" y="345.3" width="22.4" height="22.2" fill="rgb(209,0,0)"/>
<rect x="479.3" y="345.3" width="22.4" height="22.2" fill="rgb(187,0,0)"/>
<rect x="501.1" y="345.3" width="22.4" height="22.2" fill="rgb(149,0,0)"/>
<rect x="522.9" y="345.3" width="22.4" height="22.2" fill="rgb(189,0,0)"/>
<rect x="544.7" y="345.3" width="22.4" height="22.2" fill="rgb(173,0,0)"/>
<rect x="566.5" y="345.3" width="22.4" height="22.2" fill="rgb(172,0,0)"/>
<rect x="588.3" y="345.3" width="22.4" height="22.2" fill="rgb(175,0,0)"/>
<rect x="610.1" y="345.3" width="22.4" height="22.2" fill="rgb(199,0,0)"/>
<rect x="631.9" y="345.3" width="22.4" height="22.2" fill="rgb(200,0,0)"/>
<rect x="653.7" y="345.3" width="22.4" height="22.2" fill="rgb(200,0,0)"/>
<rect x="-22.1" y="366.9" width="22.4" height="22.2" fill="rgb(179,0,0)"/>
<rect x="-0.3" y="366.9" width="22.4" height="22.2" fill="rgb(179,0,0)"/>
<rect x="21.5" y="366.9" width="22.4" height="22.2" fill="rgb(197,0,0)"/>
<rect x="43.3" y="366.9" width="22.4" height="22.2" fill="rgb(209,0,0)"/>
<rect x="65.1" y="366.9" width="22.4" height="22.2" fill="rgb(182,0,0)"/>
<rect x="86.9" y="366.9" width="22.4" height="22.2" fill="rgb(178,0,0)"/>
<rect x="108.7" y="366.9" width="22.4" height="22.2" fill="rgb(183,0,0)"/>
<rect x="130.5" y="366.9" width="22.4" height="22.2" fill="rgb(175,0,0)"/>
<rect x="152.3" y="366.9" width="22.4" height="22.2" fill="rgb(165,0,0)"/>
<rect x="174.1" y="366.9" width="22.4" height="22.2" fill="rgb(162,0,0)"/>
<rect x="195.9" y="366.9" width="22.4" height="22.2" fill="rgb(152,0,0)"/>
<rect x="217.7" y="366.9" width="22.4" height="22.2" fill="rgb(155,0,0)"/>
<rect x="239.5" y="366.9" width="22.4" height="22.2" fill="rgb(152,0,0)"/>
<rect x="261.3" y="366.9" width="22.4" height="22.2" fill="rgb(122,0,0)"/>
<rect x="283.1" y="366.9" width="22.4" height="22.2" fill="rgb(178,0,0)"/>
<rect x="304.9" y="366.9" width="22.4" height="22.2" fill="rgb(125,0,0)"/>
<rect x="326.7" y="366.9" width="22.4" height="22.2" fill="rgb(160,0,0)"/>
<rect x="348.5" y="366.9" width="22.4" height="22.2" fill="rgb(181,0,0)"/>
<rect x="370.3" y="366.9" width="22.4" height="22.2" fill="rgb(187,0,0)"/>
<rect x="392.1" y="366.9" width="22.4" height="22.2" fill="rgb(213,0,0)"/>
<rect x="413.9" y="366.9" width="22.4" height="22.2" fill="rgb(202,0,0)"/>
<rect x="435.7" y="366.9" width="22.4" height="22.2" fill="rgb(189,0,0)"/>
<rect x="457.5" y="366.9" width="22.4" height="22.2" fill="rgb(160,0,0)"/>
<rect x="479.3" y="366.9" width="22.4" height="22.2" fill="rgb(192,0,0)"/>
<rect x="501.1" y="366.9" width="22.4" height="22.2" fill="rgb(182,0,0)"/>
<rect x="522.9" y="366.9" width="22.4" height="22.2" fill="rgb(170,0,0)"/>
<rect x="544.7" y="366.9" width="22.4" height="22.2" fill="rgb(18,0,0)"/>
<rect x="566.5" y="366.9" width="22.4" height="22.2" fill="rgb(174,0,0)"/>
<rect x="588.3" y="366.9" width="22.4" height="22.2" fill="rgb(180,0,0)"/>
<rect x="610.1" y="366.9" width="22.4" height="22.2" fill="rgb(165,0,0)"/>
<rect x="631.9" y="366.9" width="22.4" height="22.2" fill="rgb(188,0,0)"/>
<rect x="653.7" y="366.9" width="22.4" height="22.2" fill="rgb(188,0,0)"/>
<rect x="-22.1" y="388.5" width="22.4" height="22.2" fill="rgb(195,0,0)"/>
<rect x="-0.3" y="388.5" width="22.4" height="22.2" fill="rgb(195,0,0)"/>
<rect x="21.5" y="388.5" width="22.4" height="22.2" fill="rgb(174,0,0)"/>
<rect x="43.3" y="388.5" width="22.4" height="22.2" fill="rgb(196,0,0)"/>
<rect x="65.1" y="388.5" width="22.4" height="22.2" fill="rgb(194,0,0)"/>
<rect x="86.9" y="388.5" width="22.4" height="22.2" fill="rgb(186,0,0)"/>
<rect x="108.7" y="388.5" width="22.4" height="22.2" fill="rgb(194,0,0)"/>
<rect x="130.5" y="388.5" width="22.4" height="22.2" fill="rgb(168,0,0)"/>
<rect x="152.3" y="388.5" width="22.4" height="22.2" fill="rgb(69,0,0)"/>
<rect x="174.1" y="388.5" width="22.4" height="22.2" fill="rgb(155,0,0)"/>
<rect x="195.9" y="388.5" width="22.4" height="22.2" fill="rgb(160,0,0)"/>
<rect x="217.7" y="388.5" width="22.4" height="22.2" fill="rgb(141,0,0)"/>
<rect x="239.5" y="388.5" width="22.4" height="22.2" fill="rgb(161,0,0)"/>
<rect x="261.3" y="388.5" width="22.4" height="22.2" fill="rgb(146,0,0)"/>
<rect x="283.1" y="388.5" width="22.4" height="22.2" fill="rgb(149,0,0)"/>
<rect x="304.9" y="388.5" width="22.4" height="22.2" fill="rgb(153,0,0)"/>
<rect x="326.7" y="388.5" width="22.4" height="22.2" fill="rgb(146,0,0)"/>
<rect x="348.5" y="388.5" width="22.4" height="22.2" fill="rgb(161,0,0)"/>
<rect x="370.3" y="388.5" width="22.4" height="22.2" fill="rgb(182,0,0)"/>
<rect x="392.1" y="388.5" width="22.4" height="22.2" fill="rgb(181,0,0)"/>
<rect x="413.9" y="388.5" width="22.4" height="22.2" fill="rgb(209,0,0)"/>
<rect x="435.7" y="388.5" width="22.4" height="22.2" fill="rgb(188,0,0)"/>
<rect x="457.5" y="388.5" width="22.4" height="22.2" fill="rgb(180,0,0)"/>
<rect x="479.3" y="388.5" width="22.4" height="22.2" fill="rgb(208,0,0)"/>
<rect x="501.1" y="388.5" width="22.4" height="22.2" fill="rgb(214,0,0)"/>
<rect x="522.9" y="388.5" width="22.4" height="22.2" fill="rgb(170,0,0)"/>
<rect x="544.7" y="388.5" width="22.4" height="22.2" fill="rgb(165,0,0)"/>
<rect x="566.5" y="388.5" width="22.4" height="22.2" fill="rgb(173,0,0)"/>
<rect x="588.3" y="388.5" width="22.4" height="22.2" fill="rgb(168,0,0)"/>
<rect x="610.1" y="388.5" width="22.4" height="22.2" fill="rgb(205,0,0)"/>
<rect x="631.9" y="388.5" width="22.4" height="22.2" fill="rgb(172,0,0)"/>
<rect x="653.7" y="388.5" width="22.4" height="22.2" fill="rgb(172,0,0)"/>
<rect x="-22.1" y="410.1" width="22.4" height="22.2" fill="rgb(174,0,0)"/>
<rect x="-0.3" y="410.1" width="22.4" height="22.2" fill="rgb(174,0,0)"/>
<rect x="21.5" y="410.1" width="22.4" height="22.2" fill="rgb(190,0,0)"/>
<rect x="43.3" y="410.1" width="22.4" height="22.2" fill="rgb(190,0,0)"/>
<rect x="65.1" y="410.1" width="22.4" height="22.2" fill="rgb(196,0,0)"/>
<rect x="86.9" y="410.1" width="22.4" height="22.2" fill="rgb(211,0,0)"/>
<rect x="108.7" y="410.1" width="22.4" height="22.2" fill="rgb(205,0,0)"/>
<rect x="130.5" y="410.1" width="22.4" height="22.2" fill="rgb(182,0,0)"/>
<rect x="152.3" y="410.1" width="22.4" height="22.2" fill="rgb(146,0,0)"/>
<rect x="174.1" y="410.1" width="22.4" height="22.2" fill="rgb(175,0,0)"/>
<rect x="195.9" y="410.1" width="22.4" height="22.2" fill="rgb(89,0,0)"/>
<rect x="217.7" y="410.1" width="22.4" height="22.2" fill="rgb(166,0,0)"/>
<rect x="239.5" y="410.1" width="22.4" height="22.2" fill="rgb(21,0,0)"/>
<rect x="261.3" y="410.1" width="22.4" height="22.2" fill="rgb(28,0,0)"/>
<rect x="283.1" y="410.1" width="22.4" height="22.2" fill="rgb(125,0,0)"/>
<rect x="304.9" y="410.1" width="22.4" height="22.2" fill="rgb(133,0,0)"/>
<rect x="326.7" y="410.1" width="22.4" height="22.2" fill="rgb(167,0,0)"/>
<rect x="348.5" y="410.1" width="22.4" height="22.2" fill="rgb(157,0,0)"/>
<rect x="370.3" y="410.1" width="22.4" height="22.2" fill="rgb(156,0,0)"/>
<rect x="392.1" y="410.1" width="22.4" height="22.2" fill="rgb(176,0,0)"/>
<rect x="413.9" y="410.1" width="22.4" height="22.2" fill="rgb(132,0,0)"/>
<rect x="435.7" y="410.1" width="22.4" height="22.2" fill="rgb(186,0,0)"/>
<rect x="457.5" y="410.1" width="22.4" height="22.2" fill="rgb(191,0,0)"/>
<rect x="479.3" y="410.1" width="22.4" height="22.2" fill="rgb(213,0,0)"/>
<rect x="501.1" y="410.1" width="22.4" height="22.2" fill="rgb(216,0,0)"/>
<rect x="522.9" y="410.1" width="22.4" height="22.2" fill="rgb(192,0,0)"/>
<rect x="544.7" y="410.1" width="22.4" height="22.2" fill="rgb(148,0,0)"/>
<rect x="566.5" y="410.1" width="22.4" height="22.2" fill="rgb(162,0,0)"/>
<rect x="588.3" y="410.1" width="22.4" height="22.2" fill="rgb(200,0,0)"/>
<rect x="610.1" y="410.1" width="22.4" height="22.2" fill="rgb(195,0,0)"/>
<rect x="631.9" y="410.1" width="22.4" height="22.2" fill="rgb(194,0,0)"/>
<rect x="653.7" y="410.1" width="22.4" height="22.2" fill="rgb(194,0,0)"/>
<rect x="-22.1" y="431.7" width="22.4" height="22.2" fill="rgb(145,0,0)"/>
<rect x="-0.3" y="431.7" width="22.4" height="22.2" fill="rgb(145,0,0)"/>
<rect x="21.5" y="431.7" width="22.4" height="22.2" fill="rgb(161,0,0)"/>
<rect x="43.3" y="431.7" width="22.4" height="22.2" fill="rgb(180,0,0)"/>
<rect x="65.1" y="431.7" width="22.4" height="22.2" fill="rgb(153,0,0)"/>
<rect x="86.9" y="431.7" width="22.4" height="22.2" fill="rgb(193,0,0)"/>
<rect x="108.7" y="431.7" width="22.4" height="22.2" fill="rgb(198,0,0)"/>
<rect x="130.5" y="431.7" width="22.4" height="22.2" fill="rgb(179,0,0)"/>
<rect x="152.3" y="431.7" width="22.4" height="22.2" fill="rgb(148,0,0)"/>
<rect x="174.1" y="431.7" width="22.4" height="22.2" fill="rgb(152,0,0)"/>
<rect x="195.9" y="431.7" width="22.4" height="22.2" fill="rgb(196,0,0)"/>
<rect x="217.7" y="431.7" width="22.4" height="22.2" fill="rgb(195,0,0)"/>
<rect x="239.5" y="431.7" width="22.4" height="22.2" fill="rgb(20,0,0)"/>
<rect x="261.3" y="431.7" width="22.4" height="22.2" fill="rgb(143,0,0)"/>
<rect x="283.1" y="431.7" width="22.4" height="22.2" fill="rgb(146,0,0)"/>
<rect x="304.9" y="431.7" width="22.4" height="22.2" fill="rgb(154,0,0)"/>
<rect x="326.7" y="431.7" width="22.4" height="22.2" fill="rgb(174,0,0)"/>
<rect x="348.5" y="431.7" width="22.4" height="22.2" fill="rgb(181,0,0)"/>
<rect x="370.3" y="431.7" width="22.4" height="22.2" fill="rgb(152,0,0)"/>
<rect x="392.1" y="431.7" width="22.4" height="22.2" fill="rgb(163,0,0)"/>
<rect x="413.9" y="431.7" width="22.4" height="22.2" fill="rgb(136,0,0)"/>
<rect x="435.7" y="431.7" width="22.4" height="22.2" fill="rgb(81,0,0)"/>
<rect x="457.5" y="431.7" width="22.4" height="22.2" fill="rgb(178,0,0)"/>
<rect x="479.3" y="431.7" width="22.4" height="22.2" fill="rgb(180,0,0)"/>
<rect x="501.1" y="431.7" width="22.4" height="22.2" fill="rgb(164,0,0)"/>
<rect x="522.9" y="431.7" width="22.4" height="22.2" fill="rgb(33,0,0)"/>
<rect x="544.7" y="431.7" width="22.4" height="22.2" fill="rgb(26,0,0)"/>
<rect x="566.5" y="431.7" width="22.4" height="22.2" fill="rgb(45,0,0)"/>
<rect x="588.3" y="431.7" width="22.4" height="22.2" fill="rgb(167,0,0)"/>
<rect x="610.1" y="431.7" width="22.4" height="22.2" fill="rgb(181,0,0)"/>
<rect x="631.9" y="431.7" width="22.4" height="22.2" fill="rgb(209,0,0)"/>
<rect x="653.7" y="431.7" width="22.4" height="22.2" fill="rgb(209,0,0)"/>
<rect x="-22.1" y="453.3" width="22.4" height="22.2" fill="rgb(125,0,0)"/>
<rect x="-0.3" y="453.3" width="22.4" height="22.2" fill="rgb(125,0,0)"/>
<rect x="21.5" y="453.3" width="22.4" height="22.2" fill="rgb(142,0,0)"/>
<rect x="43.3" y="453.3" width="22.4" height="22.2" fill="rgb(178,0,0)"/>
<rect x="65.1" y="453.3" width="22.4" height="22.2" fill="rgb(190,0,0)"/>
<rect x="86.9" y="453.3" width="22.4" height="22.2" fill="rgb(182,0,0)"/>
<rect x="108.7" y="453.3" width="22.4" height="22.2" fill="rgb(161,0,0)"/>
<rect x="130.5" y="453.3" width="22.4" height="22.2" fill="rgb(154,0,0)"/>
<rect x="152.3" y="453.3" width="22.4" height="22.2" fill="rgb(153,0,0)"/>
<rect x="174.1" y="453.3" width="22.4" height="22.2" fill="rgb(172,0,0)"/>
<rect x="195.9" y="453.3" width="22.4" height="22.2" fill="rgb(182,0,0)"/>
<rect x="217.7" y="453.3" width="22.4" height="22.2" fill="rgb(196,0,0)"/>
<rect x="239.5" y="453.3" width="22.4" height="22.2" fill="rgb(205,0,0)"/>
<rect x="261.3" y="453.3" width="22.4" height="22.2" fill="rgb(173,0,0)"/>
<rect x="283.1" y="453.3" width="22.4" height="22.2" fill="rgb(172,0,0)"/>
<rect x="304.9" y="453.3" width="22.4" height="22.2" fill="rgb(188,0,0)"/>
<rect x="326.7" y="453.3" width="22.4" height="22.2" fill="rgb(205,0,0)"/>
<rect x="348.5" y="453.3" width="22.4" height="22.2" fill="rgb(174,0,0)"/>
<rect x="370.3" y="453.3" width="22.4" height="22.2" fill="rgb(76,0,0)"/>
<rect x="392.1" y="453.3" width="22.4" height="22.2" fill="rgb(134,0,0)"/>
<rect x="413.9" y="453.3" width="22.4" height="22.2" fill="rgb(178,0,0)"/>
<rect x="435.7" y="453.3" width="22.4" height="22.2" fill="rgb(150,0,0)"/>
<rect x="457.5" y="453.3" width="22.4" height="22.2" fill="rgb(162,0,0)"/>
<rect x="479.3" y="453.3" width="22.4" height="22.2" fill="rgb(168,0,0)"/>
<rect x="501.1" y="453.3" width="22.4" height="22.2" fill="rgb(173,0,0)"/>
<rect x="522.9" y="453.3" width="22.4" height="22.2" fill="rgb(177,0,0)"/>
<rect x="544.7" y="453.3" width="22.4" height="22.2" fill="rgb(154,0,0)"/>
<rect x="566.5" y="453.3" width="22.4" height="22.2" fill="rgb(169,0,0)"/>
<rect x="588.3" y="453.3" width="22.4" height="22.2" fill="rgb(118,0,0)"/>
<rect x="610.1" y="453.3" width="22.4" height="22.2" fill="rgb(156,0,0)"/>
<rect x="631.9" y="453.3" width="22.4" height="22.2" fill="rgb(176,0,0)"/>
<rect x="653.7" y="453.3" width="22.4" height="22.2" fill="rgb(176,0,0)"/>
<rect x="-22.1" y="474.9" width="22.4" height="22.2" fill="rgb(94,0,0)"/>
<rect x="-0.3" y="474.9" width="22.4" height="22.2" fill="rgb(94,0,0)"/>
<rect x="21.5" y="474.9" width="22.4" height="22.2" fill="rgb(171,0,0)"/>
<rect x="43.3" y="474.9" width="22.4" height="22.2" fill="rgb(187,0,0)"/>
<rect x="65.1" y="474.9" width="22.4" height="22.2" fill="rgb(186,0,0)"/>
<rect x="86.9" y="474.9" width="22.4" height="22.2" fill="rgb(169,0,0)"/>
<rect x="108.7" y="474.9" width="22.4" height="22.2" fill="rgb(94,0,0)"/>
<rect x="130.5" y="474.9" width="22.4" height="22.2" fill="rgb(165,0,0)"/>
<rect x="152.3" y="474.9" width="22.4" height="22.2" fill="rgb(74,0,0)"/>
<rect x="174.1" y="474.9" width="22.4" height="22.2" fill="rgb(149,0,0)"/>
<rect x="195.9" y="474.9" width="22.4" height="22.2" fill="rgb(146,0,0)"/>
<rect x="217.7" y="474.9" width="22.4" height="22.2" fill="rgb(147,0,0)"/>
<rect x="239.5" y="474.9" width="22.4" height="22.2" fill="rgb(196,0,0)"/>
<rect x="261.3" y="474.9" width="22.4" height="22.2" fill="rgb(89,0,0)"/>
<rect x="283.1" y="474.9" width="22.4" height="22.2" fill="rgb(221,0,0)"/>
<rect x="304.9" y="474.9" width="22.4" height="22.2" fill="rgb(208,0,0)"/>
<rect x="326.7" y="474.9" width="22.4" height="22.2" fill="rgb(179,0,0)"/>
<rect x="348.5" y="474.9" width="22.4" height="22.2" fill="rgb(177,0,0)"/>
<rect x="370.3" y="474.9" width="22.4" height="22.2" fill="rgb(160,0,0)"/>
<rect x="392.1" y="474.9" width="22.4" height="22.2" fill="rgb(149,0,0)"/>
<rect x="413.9" y="474.9" width="22.4" height="22.2" fill="rgb(153,0,0)"/>
<rect x="435.7" y="474.9" width="22.4" height="22.2" fill="rgb(190,0,0)"/>
<rect x="457.5" y="474.9" width="22.4" height="22.2" fill="rgb(90,0,0)"/>
<rect x="479.3" y="474.9" width="22.4" height="22.2" fill="rgb(167,0,0)"/>
<rect x="501.1" y="474.9" width="22.4" height="22.2" fill="rgb(149,0,0)"/>
<rect x="522.9" y="474.9" width="22.4" height="22.2" fill="rgb(110,0,0)"/>
<rect x="544.7" y="474.9" width="22.4" height="22.2" fill="rgb(132,0,0)"/>
<rect x="566.5" y="474.9" width="22.4" height="22.2" fill="rgb(155,0,0)"/>
<rect x="588.3" y="474.9" width="22.4" height="22.2" fill="rgb(154,0,0)"/>
<rect x="610.1" y="474.9" width="22.4" height="22.2" fill="rgb(137,0,0)"/>
<rect x="631.9" y="474.9" width="22.4" height="22.2" fill="rgb(173,0,0)"/>
<rect x="653.7" y="474.9" width="22.4" height="22.2" fill="rgb(173,0,0)"/>
<rect x="-22.1" y="496.5" width="22.4" height="22.2" fill="rgb(188,0,0)"/>
<rect x="-0.3" y="496.5" width="22.4" height="22.2" fill="rgb(188,0,0)"/>
<rect x="21.5" y="496.5" width="22.4" height="22.2" fill="rgb(139,0,0)"/>
<rect x="43.3" y="496.5" width="22.4" height="22.2" fill="rgb(151,0,0)"/>
<rect x="65.1" y="496.5" width="22.4" height="22.2" fill="rgb(177,0,0)"/>
<rect x="86.9" y="496.5" width="22.4" height="22.2" fill="rgb(161,0,0)"/>
<rect x="108.7" y="496.5" width="22.4" height="22.2" fill="rgb(186,0,0)"/>
<rect x="130.5" y="496.5" width="22.4" height="22.2" fill="rgb(187,0,0)"/>
<rect x="152.3" y="496.5" width="22.4" height="22.2" fill="rgb(165,0,0)"/>
<rect x="174.1" y="496.5" width="22.4" height="22.2" fill="rgb(150,0,0)"/>
<rect x="195.9" y="496.5" width="22.4" height="22.2" fill="rgb(171,0,0)"/>
<rect x="217.7" y="496.5" width="22.4" height="22.2" fill="rgb(177,0,0)"/>
<rect x="239.5" y="496.5" width="22.4" height="22.2" fill="rgb(208,0,0)"/>
<rect x="261.3" y="496.5" width="22.4" height="22.2" fill="rgb(210,0,0)"/>
<rect x="283.1" y="496.5" width="22.4" height="22.2" fill="rgb(229,0,0)"/>
<rect x="304.9" y="496.5" width="22.4" height="22.2" fill="rgb(31,0,0)"/>
<rect x="326.7" y="496.5" width="22.4" height="22.2" fill="rgb(181,0,0)"/>
<rect x="348.5" y="496.5" width="22.4" height="22.2" fill="rgb(83,0,0)"/>
<rect x="370.3" y="496.5" width="22.4" height="22.2" fill="rgb(199,0,0)"/>
<rect x="392.1" y="496.5" width="22.4" height="22.2" fill="rgb(159,0,0)"/>
<rect x="413.9" y="496.5" width="22.4" height="22.2" fill="rgb(168,0,0)"/>
<rect x="435.7" y="496.5" width="22.4" height="22.2" fill="rgb(157,0,0)"/>
<rect x="457.5" y="496.5" width="22.4" height="22.2" fill="rgb(204,0,0)"/>
<rect x="479.3" y="496.5" width="22.4" height="22.2" fill="rgb(168,0,0)"/>
<rect x="501.1" y="496.5" width="22.4" height="22.2" fill="rgb(162,0,0)"/>
<rect x="522.9" y="496.5" width="22.4" height="22.2" fill="rgb(148,0,0)"/>
<rect x="544.7" y="496.5" width="22.4" height="22.2" fill="rgb(175,0,0)"/>
<rect x="566.5" y="496.5" width="22.4" height="22.2" fill="rgb(175,0,0)"/>
<rect x="588.3" y="496.5" width="22.4" height="22.2" fill="rgb(152,0,0)"/>
<rect x="610.1" y="496.5" width="22.4" height="22.2" fill="rgb(150,0,0)"/>
<rect x="631.9" y="496.5" width="22.4" height="22.2" fill="rgb(176,0,0)"/>
<rect x="653.7" y="496.5" width="22.4" height="22.2" fill="rgb(176,0,0)"/>
<rect x="-22.1" y="518.1" width="22.4" height="22.2" fill="rgb(185,0,0)"/>
<rect x="-0.3" y="518.1" width="22.4" height="22.2" fill="rgb(185,0,0)"/>
<rect x="21.5" y="518.1" width="22.4" height="22.2" fill="rgb(183,0,0)"/>
<rect x="43.3" y="518.1" width="22.4" height="22.2" fill="rgb(185,0,0)"/>
<rect x="65.1" y="518.1" width="22.4" height="22.2" fill="rgb(168,0,0)"/>
<rect x="86.9" y="518.1" width="22.4" height="22.2" fill="rgb(95,0,0)"/>
<rect x="108.7" y="518.1" width="22.4" height="22.2" fill="rgb(171,0,0)"/>
<rect x="130.5" y="518.1" width="22.4" height="22.2" fill="rgb(181,0,0)"/>
<rect x="152.3" y="518.1" width="22.4" height="22.2" fill="rgb(182,0,0)"/>
<rect x="174.1" y="518.1" width="22.4" height="22.2" fill="rgb(181,0,0)"/>
<rect x="195.9" y="518.1" width="22.4" height="22.2" fill="rgb(182,0,0)"/>
<rect x="217.7" y="518.1" width="22.4" height="22.2" fill="rgb(189,0,0)"/>
<rect x="239.5" y="518.1" width="22.4" height="22.2" fill="rgb(187,0,0)"/>
<rect x="261.3" y="518.1" width="22.4" height="22.2" fill="rgb(200,0,0)"/>
<rect x="283.1" y="518.1" width="22.4" height="22.2" fill="rgb(195,0,0)"/>
<rect x="304.9" y="518.1" width="22.4" height="22.2" fill="rgb(187,0,0)"/>
<rect x="326.7" y="518.1" width="22.4" height="22.2" fill="rgb(181,0,0)"/>
<rect x="348.5" y="518.1" width="22.4" height="22.2" fill="rgb(204,0,0)"/>
<rect x="370.3" y="518.1" width="22.4" height="22.2" fill="rgb(181,0,0)"/>
<rect x="392.1" y="518.1" width="22.4" height="22.2" fill="rgb(182,0,0)"/>
<rect x="413.9" y="518.1" width="22.4" height="22.2" fill="rgb(184,0,0)"/>
<rect x="435.7" y="518.1" width="22.4" height="22.2" fill="rgb(176,0,0)"/>
<rect x="457.5" y="518.1" width="22.4" height="22.2" fill="rgb(187,0,0)"/>
<rect x="479.3" y="518.1" width="22.4" height="22.2" fill="rgb(181,0,0)"/>
<rect x="501.1" y="518.1" width="22.4" height="22.2" fill="rgb(123,0,0)"/>
<rect x="522.9" y="518.1" width="22.4" height="22.2" fill="rgb(165,0,0)"/>
<rect x="544.7" y="518.1" width="22.4" height="22.2" fill="rgb(160,0,0)"/>
<rect x="566.5" y="518.1" width="22.4" height="22.2" fill="rgb(190,0,0)"/>
<rect x="588.3" y="518.1" width="22.4" height="22.2" fill="rgb(196,0,0)"/>
<rect x="610.1" y="518.1" width="22.4" height="22.2" fill="rgb(168,0,0)"/>
<rect x="631.9" y="518.1" width="22.4" height="22.2" fill="rgb(145,0,0)"/>
<rect x="653.7" y="518.1" width="22.4" height="22.2" fill="rgb(145,0,0)"/>
<rect x="-22.1" y="539.7" width="22.4" height="22.2" fill="rgb(165,0,0)"/>
<rect x="-0.3" y="539.7" width="22.4" height="22.2" fill="rgb(165,0,0)"/>
<rect x="21.5" y="539.7" width="22.4" height="22.2" fill="rgb(175,0,0)"/>
<rect x="43.3" y="539.7" width="22.4" height="22.2" fill="rgb(180,0,0)"/>
<rect x="65.1" y="539.7" width="22.4" height="22.2" fill="rgb(189,0,0)"/>
<rect x="86.9" y="539.7" width="22.4" height="22.2" fill="rgb(161,0,0)"/>
<rect x="108.7" y="539.7" width="22.4" height="22.2" fill="rgb(171,0,0)"/>
<rect x="130.5" y="539.7" width="22.4" height="22.2" fill="rgb(156,0,0)"/>
<rect x="152.3" y="539.7" width="22.4" height="22.2" fill="rgb(178,0,0)"/>
<rect x="174.1" y="539.7" width="22.4" height="22.2" fill="rgb(193,0,0)"/>
<rect x="195.9" y="539.7" width="22.4" height="22.2" fill="rgb(179,0,0)"/>
<rect x="217.7" y="539.7" width="22.4" height="22.2" fill="rgb(160,0,0)"/>
<rect x="239.5" y="539.7" width="22.4" height="22.2" fill="rgb(178,0,0)"/>
<rect x="261.3" y="539.7" width="22.4" height="22.2" fill="rgb(178,0,0)"/>
<rect x="283.1" y="539.7" width="22.4" height="22.2" fill="rgb(196,0,0)"/>
<rect x="304.9" y="539.7" width="22.4" height="22.2" fill="rgb(171,0,0)"/>
<rect x="326.7" y="539.7" width="22.4" height="22.2" fill="rgb(157,0,0)"/>
<rect x="348.5" y="539.7" width="22.4" height="22.2" fill="rgb(73,0,0)"/>
<rect x="370.3" y="539.7" width="22.4" height="22.2" fill="rgb(151,0,0)"/>
<rect x="392.1" y="539.7" width="22.4" height="22.2" fill="rgb(162,0,0)"/>
<rect x="413.9" y="539.7" width="22.4" height="22.2" fill="rgb(52,0,0)"/>
<rect x="435.7" y="539.7" width="22.4" height="22.2" fill="rgb(178,0,0)"/>
<rect x="457.5" y="539.7" width="22.4" height="22.2" fill="rgb(177,0,0)"/>
<rect x="479.3" y="539.7" width="22.4" height="22.2" fill="rgb(164,0,0)"/>
<rect x="501.1" y="539.7" width="22.4" height="22.2" fill="rgb(159,0,0)"/>
<rect x="522.9" y="539.7" width="22.4" height="22.2" fill="rgb(144,0,0)"/>
<rect x="544.7" y="539.7" width="22.4" height="22.2" fill="rgb(169,0,0)"/>
<rect x="566.5" y="539.7" width="22.4" height="22.2" fill="rgb(163,0,0)"/>
<rect x="588.3" y="539.7" width="22.4" height="22.2" fill="rgb(185,0,0)"/>
<rect x="610.1" y="539.7" width="22.4" height="22.2" fill="rgb(156,0,0)"/>
<rect x="631.9" y="539.7" width="22.4" height="22.2" fill="rgb(169,0,0)"/>
<rect x="653.7" y="539.7" width="22.4" height="22.2" fill="rgb(169,0,0)"/>
<rect x="-22.1" y="561.3" width="22.4" height="22.2" fill="rgb(165,0,0)"/>
<rect x="-0.3" y="561.3" width="22.4" height="22.2" fill="rgb(165,0,0)"/>
<rect x="21.5" y="561.3" width="22.4" height="22.2" fill="rgb(194,0,0)"/>
<rect x="43.3" y="561.3" width="22.4" height="22.2" fill="rgb(206,0,0)"/>
<rect x="65.1" y="561.3" width="22.4" height="22.2" fill="rgb(165,0,0)"/>
<rect x="86.9" y="561.3" width="22.4" height="22.2" fill="rgb(174,0,0)"/>
<rect x="108.7" y="561.3" width="22.4" height="22.2" fill="rgb(171,0,0)"/>
<rect x="130.5" y="561.3" width="22.4" height="22.2" fill="rgb(141,0,0)"/>
<rect x="152.3" y="561.3" width="22.4" height="22.2" fill="rgb(148,0,0)"/>
<rect x="174.1" y="561.3" width="22.4" height="22.2" fill="rgb(172,0,0)"/>
<rect x="195.9" y="561.3" width="22.4" height="22.2" fill="rgb(181,0,0)"/>
<rect x="217.7" y="561.3" width="22.4" height="22.2" fill="rgb(176,0,0)"/>
<rect x="239.5" y="561.3" width="22.4" height="22.2" fill="rgb(158,0,0)"/>
<rect x="261.3" y="561.3" width="22.4" height="22.2" fill="rgb(176,0,0)"/>
<rect x="283.1" y="561.3" width="22.4" height="22.2" fill="rgb(160,0,0)"/>
<rect x="304.9" y="561.3" width="22.4" height="22.2" fill="rgb(119,0,0)"/>
<rect x="326.7" y="561.3" width="22.4" height="22.2" fill="rgb(199,0,0)"/>
<rect x="348.5" y="561.3" width="22.4" height="22.2" fill="rgb(168,0,0)"/>
<rect x="370.3" y="561.3" width="22.4" height="22.2" fill="rgb(155,0,0)"/>
<rect x="392.1" y="561.3" width="22.4" height="22.2" fill="rgb(152,0,0)"/>
<rect x="413.9" y="561.3" width="22.4" height="22.2" fill="rgb(169,0,0)"/>
<rect x="435.7" y="561.3" width="22.4" height="22.2" fill="rgb(167,0,0)"/>
<rect x="457.5" y="561.3" width="22.4" height="22.2" fill="rgb(182,0,0)"/>
<rect x="479.3" y="561.3" width="22.4" height="22.2" fill="rgb(170,0,0)"/>
<rect x="501.1" y="561.3" width="22.4" height="22.2" fill="rgb(168,0,0)"/>
<rect x="522.9" y="561.3" width="22.4" height="22.2" fill="rgb(141,0,0)"/>
<rect x="544.7" y="561.3" width="22.4" height="22.2" fill="rgb(142,0,0)"/>
<rect x="566.5" y="561.3" width="22.4" height="22.2" fill="rgb(158,0,0)"/>
<rect x="588.3" y="561.3" width="22.4" height="22.2" fill="rgb(160,0,0)"/>
<rect x="610.1" y="561.3" width="22.4" height="22.2" fill="rgb(191,0,0)"/>
<rect x="631.9" y="561.3" width="22.4" height="22.2" fill="rgb(188,0,0)"/>
<rect x="653.7" y="561.3" width="22.4" height="22.2" fill="rgb(188,0,0)"/>
<rect x="-22.1" y="582.9" width="22.4" height="22.2" fill="rgb(183,0,0)"/>
<rect x="-0.3" y="582.9" width="22.4" height="22.2" fill="rgb(183,0,0)"/>
<rect x="21.5" y="582.9" width="22.4" height="22.2" fill="rgb(190,0,0)"/>
<rect x="43.3" y="582.9" width="22.4" height="22.2" fill="rgb(173,0,0)"/>
<rect x="65.1" y="582.9" width="22.4" height="22.2" fill="rgb(158,0,0)"/>
<rect x="86.9" y="582.9" width="22.4" height="22.2" fill="rgb(173,0,0)"/>
<rect x="108.7" y="582.9" width="22.4" height="22.2" fill="rgb(179,0,0)"/>
<rect x="130.5" y="582.9" width="22.4" height="22.2" fill="rgb(167,0,0)"/>
<rect x="152.3" y="582.9" width="22.4" height="22.2" fill="rgb(174,0,0)"/>
<rect x="174.1" y="582.9" width="22.4" height="22.2" fill="rgb(192,0,0)"/>
<rect x="195.9" y="582.9" width="22.4" height="22.2" fill="rgb(31,0,0)"/>
<rect x="217.7" y="582.9" width="22.4" height="22.2" fill="rgb(172,0,0)"/>
<rect x="239.5" y="582.9" width="22.4" height="22.2" fill="rgb(181,0,0)"/>
<rect x="261.3" y="582.9" width="22.4" height="22.2" fill="rgb(152,0,0)"/>
<rect x="283.1" y="582.9" width="22.4" height="22.2" fill="rgb(152,0,0)"/>
<rect x="304.9" y="582.9" width="22.4" height="22.2" fill="rgb(158,0,0)"/>
<rect x="326.7" y="582.9" width="22.4" height="22.2" fill="rgb(172,0,0)"/>
<rect x="348.5" y="582.9" width="22.4" height="22.2" fill="rgb(206,0,0)"/>
<rect x="370.3" y="582.9" width="22.4" height="22.2" fill="rgb(149,0,0)"/>
<rect x="392.1" y="582.9" width="22.4" height="22.2" fill="rgb(204,0,0)"/>
<rect x="413.9" y="582.9" width="22.4" height="22.2" fill="rgb(162,0,0)"/>
<rect x="435.7" y="582.9" width="22.4" height="22.2" fill="rgb(185,0,0)"/>
<rect x="457.5" y="582.9" width="22.4" height="22.2" fill="rgb(193,0,0)"/>
<rect x="479.3" y="582.9" width="22.4" height="22.2" fill="rgb(202,0,0)"/>
<rect x="501.1" y="582.9" width="22.4" height="22.2" fill="rgb(168,0,0)"/>
<rect x="522.9" y="582.9" width="22.4" height="22.2" fill="rgb(165,0,0)"/>
<rect x="544.7" y="582.9" width="22.4" height="22.2" fill="rgb(142,0,0)"/>
<rect x="566.5" y="582.9" width="22.4" height="22.2" fill="rgb(152,0,0)"/>
<rect x="588.3" y="582.9" width="22.4" height="22.2" fill="rgb(172,0,0)"/>
<rect x="610.1" y="582.9" width="22.4" height="22.2" fill="rgb(160,0,0)"/>
<rect x="631.9" y="582.9" width="22.4" height="22.2" fill="rgb(187,0,0)"/>
<rect x="653.7" y="582.9" width="22.4" height="22.2" fill="rgb(187,0,0)"/>
<rect x="-22.1" y="604.5" width="22.4" height="22.2" fill="rgb(172,0,0)"/>
<rect x="-0.3" y="604.5" width="22.4" height="22.2" fill="rgb(172,0,0)"/>
<rect x="21.5" y="604.5" width="22.4" height="22.2" fill="rgb(160,0,0)"/>
<rect x="43.3" y="604.5" width="22.4" height="22.2" fill="rgb(151,0,0)"/>
<rect x="65.1" y="604.5" width="22.4" height="22.2" fill="rgb(138,0,0)"/>
<rect x="86.9" y="604.5" width="22.4" height="22.2" fill="rgb(166,0,0)"/>
<rect x="108.7" y="604.5" width="22.4" height="22.2" fill="rgb(188,0,0)"/>
<rect x="130.5" y="604.5" width="22.4" height="22.2" fill="rgb(185,0,0)"/>
<rect x="152.3" y="604.5" width="22.4" height="22.2" fill="rgb(191,0,0)"/>
<rect x="174.1" y="604.5" width="22.4" height="22.2" fill="rgb(167,0,0)"/>
<rect x="195.9" y="604.5" width="22.4" height="22.2" fill="rgb(173,0,0)"/>
<rect x="217.7" y="604.5" width="22.4" height="22.2" fill="rgb(78,0,0)"/>
<rect x="239.5" y="604.5" width="22.4" height="22.2" fill="rgb(149,0,0)"/>
<rect x="261.3" y="604.5" width="22.4" height="22.2" fill="rgb(172,0,0)"/>
<rect x="283.1" y="604.5" width="22.4" height="22.2" fill="rgb(160,0,0)"/>
<rect x="304.9" y="604.5" width="22.4" height="22.2" fill="rgb(150,0,0)"/>
<rect x="326.7" y="604.5" width="22.4" height="22.2" fill="rgb(165,0,0)"/>
<rect x="348.5" y="604.5" width="22.4" height="22.2" fill="rgb(93,0,0)"/>
<rect x="370.3" y="604.5" width="22.4" height="22.2" fill="rgb(179,0,0)"/>
<rect x="392.1" y="604.5" width="22.4" height="22.2" fill="rgb(179,0,0)"/>
<rect x="413.9" y="604.5" width="22.4" height="22.2" fill="rgb(162,0,0)"/>
<rect x="435.7" y="604.5" width="22.4" height="22.2" fill="rgb(154,0,0)"/>
<rect x="457.5" y="604.5" width="22.4" height="22.2" fill="rgb(191,0,0)"/>
<rect x="479.3" y="604.5" width="22.4" height="22.2" fill="rgb(171,0,0)"/>
<rect x="501.1" y="604.5" width="22.4" height="22.2" fill="rgb(152,0,0)"/>
<rect x="522.9" y="604.5" width="22.4" height="22.2" fill="rgb(149,0,0)"/>
<rect x="544.7" y="604.5" width="22.4" height="22.2" fill="rgb(167,0,0)"/>
<rect x="566.5" y="604.5" width="22.4" height="22.2" fill="rgb(162,0,0)"/>
<rect x="588.3" y="604.5" width="22.4" height="22.2" fill="rgb(166,0,0)"/>
<rect x="610.1" y="604.5" width="22.4" height="22.2" fill="rgb(164,0,0)"/>
<rect x="631.9" y="604.5" width="22.4" height="22.2" fill="rgb(169,0,0)"/>
<rect x="653.7" y="604.5" width="22.4" height="22.2" fill="rgb(169,0,0)"/>
<rect x="-22.1" y="626.1" width="22.4" height="22.2" fill="rgb(157,0,0)"/>
<rect x="-0.3" y="626.1" width="22.4" height="22.2" fill="rgb(157,0,0)"/>
<rect x="21.5" y="626.1" width="22.4" height="22.2" fill="rgb(167,0,0)"/>
<rect x="43.3" y="626.1" width="22.4" height="22.2" fill="rgb(142,0,0)"/>
<rect x="65.1" y="626.1" width="22.4" height="22.2" fill="rgb(138,0,0)"/>
<rect x="86.9" y="626.1" width="22.4" height="22.2" fill="rgb(173,0,0)"/>
<rect x="108.7" y="626.1" width="22.4" height="22.2" fill="rgb(182,0,0)"/>
<rect x="130.5" y="626.1" width="22.4" height="22.2" fill="rgb(201,0,0)"/>
<rect x="152.3" y="626.1" width="22.4" height="22.2" fill="rgb(149,0,0)"/>
<rect x="174.1" y="626.1" width="22.4" height="22.2" fill="rgb(84,0,0)"/>
<rect x="195.9" y="626.1" width="22.4" height="22.2" fill="rgb(162,0,0)"/>
<rect x="217.7" y="626.1" width="22.4" height="22.2" fill="rgb(145,0,0)"/>
<rect x="239.5" y="626.1" width="22.4" height="22.2" fill="rgb(157,0,0)"/>
<rect x="261.3" y="626.1" width="22.4" height="22.2" fill="rgb(154,0,0)"/>
<rect x="283.1" y="626.1" width="22.4" height="22.2" fill="rgb(135,0,0)"/>
<rect x="304.9" y="626.1" width="22.4" height="22.2" fill="rgb(162,0,0)"/>
<rect x="326.7" y="626.1" width="22.4" height="22.2" fill="rgb(169,0,0)"/>
<rect x="348.5" y="626.1" width="22.4" height="22.2" fill="rgb(153,0,0)"/>
<rect x="370.3" y="626.1" width="22.4" height="22.2" fill="rgb(163,0,0)"/>
<rect x="392.1" y="626.1" width="22.4" height="22.2" fill="rgb(185,0,0)"/>
<rect x="413.9" y="626.1" width="22.4" height="22.2" fill="rgb(32,0,0)"/>
<rect x="435.7" y="626.1" width="22.4" height="22.2" fill="rgb(138,0,0)"/>
<rect x="457.5" y="626.1" width="22.4" height="22.2" fill="rgb(137,0,0)"/>
<rect x="479.3" y="626.1" width="22.4" height="22.2" fill="rgb(149,0,0)"/>
<rect x="501.1" y="626.1" width="22.4" height="22.2" fill="rgb(135,0,0)"/>
<rect x="522.9" y="626.1" width="22.4" height="22.2" fill="rgb(143,0,0)"/>
<rect x="544.7" y="626.1" width="22.4" height="22.2" fill="rgb(144,0,0)"/>
<rect x="566.5" y="626.1" width="22.4" height="22.2" fill="rgb(188,0,0)"/>
<rect x="588.3" y="626.1" width="22.4" height="22.2" fill="rgb(173,0,0)"/>
<rect x="610.1" y="626.1" width="22.4" height="22.2" fill="rgb(168,0,0)"/>
<rect x="631.9" y="626.1" width="22.4" height="22.2" fill="rgb(174,0,0)"/>
<rect x="653.7" y="626.1" width="22.4" height="22.2" fill="rgb(174,0,0)"/>
<rect x="-22.1" y="647.7" width="22.4" height="22.2" fill="rgb(157,0,0)"/>
<rect x="-0.3" y="647.7" width="22.4" height="22.2" fill="rgb(157,0,0)"/>
<rect x="21.5" y="647.7" width="22.4" height="22.2" fill="rgb(167,0,0)"/>
<rect x="43.3" y="647.7" width="22.4" height="22.2" fill="rgb(142,0,0)"/>
<rect x="65.1" y="647.7" width="22.4" height="22.2" fill="rgb(138,0,0)"/>
<rect x="86.9" y="647.7" width="22.4" height="22.2" fill="rgb(173,0,0)"/>
<rect x="108.7" y="647.7" width="22.4" height="22.2" fill="rgb(182,0,0)"/>
<rect x="130.5" y="647.7" width="22.4" height="22.2" fill="rgb(201,0,0)"/>
<rect x="152.3" y="647.7" width="22.4" height="22.2" fill="rgb(149,0,0)"/>
<rect x="174.1" y="647.7" width="22.4" height="22.2" fill="rgb(84,0,0)"/>
<rect x="195.9" y="647.7" width="22.4" height="22.2" fill="rgb(162,0,0)"/>
<rect x="217.7" y="647.7" width="22.4" height="22.2" fill="rgb(145,0,0)"/>
<rect x="239.5" y="647.7" width="22.4" height="22.2" fill="rgb(157,0,0)"/>
<rect x="261.3" y="647.7" width="22.4" height="22.2" fill="rgb(154,0,0)"/>
<rect x="283.1" y="647.7" width="22.4" height="22.2" fill="rgb(135,0,0)"/>
<rect x="304.9" y="647.7" width="22.4" height="22.2" fill="rgb(162,0,0)"/>
<rect x="326.7" y="647.7" width="22.4" height="22.2" fill="rgb(169,0,0)"/>
<rect x="348.5" y="647.7" width="22.4" height="22.2" fill="rgb(153,0,0)"/>
<rect x="370.3" y="647.7" width="22.4" height="22.2" fill="rgb(163,0,0)"/>
<rect x="392.1" y="647.7" width="22.4" height="22.2" fill="rgb(185,0,0)"/>
<rect x="413.9" y="647.7" width="22.4" height="22.2" fill="rgb(32,0,0)"/>
<rect x="435.7" y="647.7" width="22.4" height="22.2" fill="rgb(138,0,0)"/>
<rect x="457.5" y="647.7" width="22.4" height="22.2" fill="rgb(137,0,0)"/>
<rect x="479.3" y="647.7" width="22.4" height="22.2" fill="rgb(149,0,0)"/>
<rect x="501.1" y="647.7" width="22.4" height="22.2" fill="rgb(135,0,0)"/>
<rect x="522.9" y="647.7" width="22.4" height="22.2" fill="rgb(143,0,0)"/>
<rect x="544.7" y="647.7" width="22.4" height="22.2" fill="rgb(144,0,0)"/>
<rect x="566.5" y="647.7" width="22.4" height="22.2" fill="rgb(188,0,0)"/>
<rect x="588.3" y="647.7" width="22.4" height="22.2" fill="rgb(173,0,0)"/>
<rect x="610.1" y="647.7" width="22.4" height="22.2" fill="rgb(168,0,0)"/>
<rect x="631.9" y="647.7" width="22.4" height="22.2" fill="rgb(174,0,0)"/>
<rect x="653.7" y="647.7" width="22.4" height="22.2" fill="rgb(174,0,0)"/>
</g></svg>
<rect x="35.75" y="848.75" width="56.25" height="53.25" fill="#fff" stroke="#444" stroke-width="3.5"/>
<text id="t_lab_c" x="48.0" y="890.5" font-size="50.5" font-weight="bold" fill="#111"  textLength="31.4" lengthAdjust="spacingAndGlyphs">c</text>
<text id="t_wn_c" x="47.0" y="999.0" font-size="46.7" font-weight="bold" fill="#f2f2f2"  textLength="216.1" lengthAdjust="spacingAndGlyphs">1000 cm<tspan dy="-16.8" font-size="28.9">−1</tspan></text>
<rect x="543" y="1403" width="142" height="86" fill="#fff"/>
<rect x="570" y="1411" width="92" height="18" fill="#000"/>
<text id="t_sb_c" x="559.0" y="1471.5" font-size="42.2" font-weight="bold" fill="#000"  textLength="116.6" lengthAdjust="spacingAndGlyphs">10 μm</text>
<rect x="711.0" y="850" width="4.5" height="644" fill="url(#cbR)"/>
<rect x="715.5" y="850" width="6.8" height="644" fill="url(#cbG)"/>
<rect x="722.2" y="850" width="3.8" height="644" fill="url(#cbB)"/>
<text id="t_cb_c0" x="733.0" y="1497.5" font-size="34.3" font-weight="bold" fill="#222"  textLength="17.4" lengthAdjust="spacingAndGlyphs">0</text>
<text id="t_cb_c200" x="733.0" y="1341.0" font-size="34.3" font-weight="bold" fill="#222"  textLength="54.0" lengthAdjust="spacingAndGlyphs">200</text>
<text id="t_cb_c400" x="734.0" y="1184.6" font-size="34.3" font-weight="bold" fill="#222"  textLength="53.0" lengthAdjust="spacingAndGlyphs">400</text>
<text id="t_cb_c600" x="733.0" y="1028.2" font-size="34.3" font-weight="bold" fill="#222"  textLength="54.0" lengthAdjust="spacingAndGlyphs">600</text>
<text id="t_cb_c800" x="733.0" y="871.7" font-size="34.3" font-weight="bold" fill="#222"  textLength="54.0" lengthAdjust="spacingAndGlyphs">800</text>
<rect x="442" y="859" width="237" height="223" fill="url(#photo)"/>
<rect x="442" y="975" width="95" height="50" fill="url(#stripes)" opacity="0.55"/>
<rect x="600" y="1035" width="62" height="45" fill="url(#stripes)" opacity="0.5"/>
<rect x="470" y="1035" width="50" height="45" fill="url(#stripes)" opacity="0.45"/>
<rect x="442" y="859" width="237" height="223" filter="url(#grain)" opacity="0.3"/>
<rect x="442" y="859" width="237" height="223" fill="url(#vign)"/>
<line x1="443" y1="921" x2="680" y2="1001" stroke="#f4e6dc" stroke-width="3" stroke-dasharray="4,3"/>
<text id="t_bare" x="486.0" y="911.0" font-size="32.9" font-weight="bold" fill="#f3eeee"  textLength="166.1" lengthAdjust="spacingAndGlyphs">Bare glass</text>
<text id="t_multi_in" x="486.0" y="1031.0" font-size="32.9" font-weight="bold" fill="#f3eeee"  textLength="133.1" lengthAdjust="spacingAndGlyphs">Multimer</text>
<text id="t_region" x="512.0" y="1069.5" font-size="26.4" font-weight="bold" fill="#f3eeee"  textLength="101.0" lengthAdjust="spacingAndGlyphs">region</text>
<rect x="838" y="850" width="661" height="651" fill="#c0c0c0"/>
<rect x="838" y="850" width="658" height="648" fill="#555555"/>
<rect x="841" y="853" width="655" height="645" fill="#000"/>
<svg x="841" y="853" width="655" height="645" overflow="hidden"><g filter="url(#blur2)">
<rect x="-22.1" y="-21.8" width="22.4" height="22.1" fill="#000"/>
<rect x="-0.3" y="-21.8" width="22.4" height="22.1" fill="#000"/>
<rect x="21.5" y="-21.8" width="22.4" height="22.1" fill="#000"/>
<rect x="43.4" y="-21.8" width="22.4" height="22.1" fill="#000"/>
<rect x="65.2" y="-21.8" width="22.4" height="22.1" fill="#000"/>
<rect x="87.0" y="-21.8" width="22.4" height="22.1" fill="#000"/>
<rect x="108.9" y="-21.8" width="22.4" height="22.1" fill="#000"/>
<rect x="130.7" y="-21.8" width="22.4" height="22.1" fill="#000"/>
<rect x="152.5" y="-21.8" width="22.4" height="22.1" fill="#000"/>
<rect x="174.4" y="-21.8" width="22.4" height="22.1" fill="#000"/>
<rect x="196.2" y="-21.8" width="22.4" height="22.1" fill="#000"/>
<rect x="218.0" y="-21.8" width="22.4" height="22.1" fill="#000"/>
<rect x="239.9" y="-21.8" width="22.4" height="22.1" fill="#000"/>
<rect x="261.7" y="-21.8" width="22.4" height="22.1" fill="#000"/>
<rect x="283.5" y="-21.8" width="22.4" height="22.1" fill="#000"/>
<rect x="305.4" y="-21.8" width="22.4" height="22.1" fill="#000"/>
<rect x="327.2" y="-21.8" width="22.4" height="22.1" fill="#000"/>
<rect x="349.0" y="-21.8" width="22.4" height="22.1" fill="#000"/>
<rect x="370.9" y="-21.8" width="22.4" height="22.1" fill="#000"/>
<rect x="392.7" y="-21.8" width="22.4" height="22.1" fill="#000"/>
<rect x="414.5" y="-21.8" width="22.4" height="22.1" fill="#000"/>
<rect x="436.4" y="-21.8" width="22.4" height="22.1" fill="#000"/>
<rect x="458.2" y="-21.8" width="22.4" height="22.1" fill="#000"/>
<rect x="480.0" y="-21.8" width="22.4" height="22.1" fill="#000"/>
<rect x="501.9" y="-21.8" width="22.4" height="22.1" fill="#000"/>
<rect x="523.7" y="-21.8" width="22.4" height="22.1" fill="#000"/>
<rect x="545.5" y="-21.8" width="22.4" height="22.1" fill="#000"/>
<rect x="567.4" y="-21.8" width="22.4" height="22.1" fill="#000"/>
<rect x="589.2" y="-21.8" width="22.4" height="22.1" fill="#000"/>
<rect x="611.0" y="-21.8" width="22.4" height="22.1" fill="#000"/>
<rect x="632.9" y="-21.8" width="22.4" height="22.1" fill="#000"/>
<rect x="654.7" y="-21.8" width="22.4" height="22.1" fill="#000"/>
<rect x="-22.1" y="-0.3" width="22.4" height="22.1" fill="#000"/>
<rect x="-0.3" y="-0.3" width="22.4" height="22.1" fill="#000"/>
<rect x="21.5" y="-0.3" width="22.4" height="22.1" fill="#000"/>
<rect x="43.4" y="-0.3" width="22.4" height="22.1" fill="#000"/>
<rect x="65.2" y="-0.3" width="22.4" height="22.1" fill="#000"/>
<rect x="87.0" y="-0.3" width="22.4" height="22.1" fill="#000"/>
<rect x="108.9" y="-0.3" width="22.4" height="22.1" fill="#000"/>
<rect x="130.7" y="-0.3" width="22.4" height="22.1" fill="#000"/>
<rect x="152.5" y="-0.3" width="22.4" height="22.1" fill="#000"/>
<rect x="174.4" y="-0.3" width="22.4" height="22.1" fill="#000"/>
<rect x="196.2" y="-0.3" width="22.4" height="22.1" fill="#000"/>
<rect x="218.0" y="-0.3" width="22.4" height="22.1" fill="#000"/>
<rect x="239.9" y="-0.3" width="22.4" height="22.1" fill="#000"/>
<rect x="261.7" y="-0.3" width="22.4" height="22.1" fill="#000"/>
<rect x="283.5" y="-0.3" width="22.4" height="22.1" fill="#000"/>
<rect x="305.4" y="-0.3" width="22.4" height="22.1" fill="#000"/>
<rect x="327.2" y="-0.3" width="22.4" height="22.1" fill="#000"/>
<rect x="349.0" y="-0.3" width="22.4" height="22.1" fill="#000"/>
<rect x="370.9" y="-0.3" width="22.4" height="22.1" fill="#000"/>
<rect x="392.7" y="-0.3" width="22.4" height="22.1" fill="#000"/>
<rect x="414.5" y="-0.3" width="22.4" height="22.1" fill="#000"/>
<rect x="436.4" y="-0.3" width="22.4" height="22.1" fill="#000"/>
<rect x="458.2" y="-0.3" width="22.4" height="22.1" fill="#000"/>
<rect x="480.0" y="-0.3" width="22.4" height="22.1" fill="#000"/>
<rect x="501.9" y="-0.3" width="22.4" height="22.1" fill="#000"/>
<rect x="523.7" y="-0.3" width="22.4" height="22.1" fill="#000"/>
<rect x="545.5" y="-0.3" width="22.4" height="22.1" fill="#000"/>
<rect x="567.4" y="-0.3" width="22.4" height="22.1" fill="#000"/>
<rect x="589.2" y="-0.3" width="22.4" height="22.1" fill="#000"/>
<rect x="611.0" y="-0.3" width="22.4" height="22.1" fill="#000"/>
<rect x="632.9" y="-0.3" width="22.4" height="22.1" fill="#000"/>
<rect x="654.7" y="-0.3" width="22.4" height="22.1" fill="#000"/>
<rect x="-22.1" y="21.2" width="22.4" height="22.1" fill="#000"/>
<rect x="-0.3" y="21.2" width="22.4" height="22.1" fill="#000"/>
<rect x="21.5" y="21.2" width="22.4" height="22.1" fill="#000"/>
<rect x="43.4" y="21.2" width="22.4" height="22.1" fill="#000"/>
<rect x="65.2" y="21.2" width="22.4" height="22.1" fill="#000"/>
<rect x="87.0" y="21.2" width="22.4" height="22.1" fill="#000"/>
<rect x="108.9" y="21.2" width="22.4" height="22.1" fill="#000"/>
<rect x="130.7" y="21.2" width="22.4" height="22.1" fill="#000"/>
<rect x="152.5" y="21.2" width="22.4" height="22.1" fill="#000"/>
<rect x="174.4" y="21.2" width="22.4" height="22.1" fill="#000"/>
<rect x="196.2" y="21.2" width="22.4" height="22.1" fill="#000"/>
<rect x="218.0" y="21.2" width="22.4" height="22.1" fill="#000"/>
<rect x="239.9" y="21.2" width="22.4" height="22.1" fill="#000"/>
<rect x="261.7" y="21.2" width="22.4" height="22.1" fill="#000"/>
<rect x="283.5" y="21.2" width="22.4" height="22.1" fill="#000"/>
<rect x="305.4" y="21.2" width="22.4" height="22.1" fill="#000"/>
<rect x="327.2" y="21.2" width="22.4" height="22.1" fill="#000"/>
<rect x="349.0" y="21.2" width="22.4" height="22.1" fill="#000"/>
<rect x="370.9" y="21.2" width="22.4" height="22.1" fill="#000"/>
<rect x="392.7" y="21.2" width="22.4" height="22.1" fill="#000"/>
<rect x="414.5" y="21.2" width="22.4" height="22.1" fill="#000"/>
<rect x="436.4" y="21.2" width="22.4" height="22.1" fill="#000"/>
<rect x="458.2" y="21.2" width="22.4" height="22.1" fill="#000"/>
<rect x="480.0" y="21.2" width="22.4" height="22.1" fill="#000"/>
<rect x="501.9" y="21.2" width="22.4" height="22.1" fill="#000"/>
<rect x="523.7" y="21.2" width="22.4" height="22.1" fill="#000"/>
<rect x="545.5" y="21.2" width="22.4" height="22.1" fill="#000"/>
<rect x="567.4" y="21.2" width="22.4" height="22.1" fill="#000"/>
<rect x="589.2" y="21.2" width="22.4" height="22.1" fill="#000"/>
<rect x="611.0" y="21.2" width="22.4" height="22.1" fill="#000"/>
<rect x="632.9" y="21.2" width="22.4" height="22.1" fill="#000"/>
<rect x="654.7" y="21.2" width="22.4" height="22.1" fill="#000"/>
<rect x="-22.1" y="42.7" width="22.4" height="22.1" fill="#000"/>
<rect x="-0.3" y="42.7" width="22.4" height="22.1" fill="#000"/>
<rect x="21.5" y="42.7" width="22.4" height="22.1" fill="#000"/>
<rect x="43.4" y="42.7" width="22.4" height="22.1" fill="#000"/>
<rect x="65.2" y="42.7" width="22.4" height="22.1" fill="#000"/>
<rect x="87.0" y="42.7" width="22.4" height="22.1" fill="#000"/>
<rect x="108.9" y="42.7" width="22.4" height="22.1" fill="#000"/>
<rect x="130.7" y="42.7" width="22.4" height="22.1" fill="#000"/>
<rect x="152.5" y="42.7" width="22.4" height="22.1" fill="#000"/>
<rect x="174.4" y="42.7" width="22.4" height="22.1" fill="#000"/>
<rect x="196.2" y="42.7" width="22.4" height="22.1" fill="#000"/>
<rect x="218.0" y="42.7" width="22.4" height="22.1" fill="#000"/>
<rect x="239.9" y="42.7" width="22.4" height="22.1" fill="#000"/>
<rect x="261.7" y="42.7" width="22.4" height="22.1" fill="#000"/>
<rect x="283.5" y="42.7" width="22.4" height="22.1" fill="#000"/>
<rect x="305.4" y="42.7" width="22.4" height="22.1" fill="#000"/>
<rect x="327.2" y="42.7" width="22.4" height="22.1" fill="#000"/>
<rect x="349.0" y="42.7" width="22.4" height="22.1" fill="#000"/>
<rect x="370.9" y="42.7" width="22.4" height="22.1" fill="#000"/>
<rect x="392.7" y="42.7" width="22.4" height="22.1" fill="#000"/>
<rect x="414.5" y="42.7" width="22.4" height="22.1" fill="#000"/>
<rect x="436.4" y="42.7" width="22.4" height="22.1" fill="#000"/>
<rect x="458.2" y="42.7" width="22.4" height="22.1" fill="#000"/>
<rect x="480.0" y="42.7" width="22.4" height="22.1" fill="#000"/>
<rect x="501.9" y="42.7" width="22.4" height="22.1" fill="#000"/>
<rect x="523.7" y="42.7" width="22.4" height="22.1" fill="#000"/>
<rect x="545.5" y="42.7" width="22.4" height="22.1" fill="#000"/>
<rect x="567.4" y="42.7" width="22.4" height="22.1" fill="#000"/>
<rect x="589.2" y="42.7" width="22.4" height="22.1" fill="#000"/>
<rect x="611.0" y="42.7" width="22.4" height="22.1" fill="#000"/>
<rect x="632.9" y="42.7" width="22.4" height="22.1" fill="#000"/>
<rect x="654.7" y="42.7" width="22.4" height="22.1" fill="#000"/>
<rect x="-22.1" y="64.2" width="22.4" height="22.1" fill="#000"/>
<rect x="-0.3" y="64.2" width="22.4" height="22.1" fill="#000"/>
<rect x="21.5" y="64.2" width="22.4" height="22.1" fill="#000"/>
<rect x="43.4" y="64.2" width="22.4" height="22.1" fill="#000"/>
<rect x="65.2" y="64.2" width="22.4" height="22.1" fill="#000"/>
<rect x="87.0" y="64.2" width="22.4" height="22.1" fill="#000"/>
<rect x="108.9" y="64.2" width="22.4" height="22.1" fill="#000"/>
<rect x="130.7" y="64.2" width="22.4" height="22.1" fill="#000"/>
<rect x="152.5" y="64.2" width="22.4" height="22.1" fill="#000"/>
<rect x="174.4" y="64.2" width="22.4" height="22.1" fill="#000"/>
<rect x="196.2" y="64.2" width="22.4" height="22.1" fill="#000"/>
<rect x="218.0" y="64.2" width="22.4" height="22.1" fill="#000"/>
<rect x="239.9" y="64.2" width="22.4" height="22.1" fill="#000"/>
<rect x="261.7" y="64.2" width="22.4" height="22.1" fill="#000"/>
<rect x="283.5" y="64.2" width="22.4" height="22.1" fill="#000"/>
<rect x="305.4" y="64.2" width="22.4" height="22.1" fill="#000"/>
<rect x="327.2" y="64.2" width="22.4" height="22.1" fill="#000"/>
<rect x="349.0" y="64.2" width="22.4" height="22.1" fill="#000"/>
<rect x="370.9" y="64.2" width="22.4" height="22.1" fill="#000"/>
<rect x="392.7" y="64.2" width="22.4" height="22.1" fill="#000"/>
<rect x="414.5" y="64.2" width="22.4" height="22.1" fill="#000"/>
<rect x="436.4" y="64.2" width="22.4" height="22.1" fill="#000"/>
<rect x="458.2" y="64.2" width="22.4" height="22.1" fill="#000"/>
<rect x="480.0" y="64.2" width="22.4" height="22.1" fill="#000"/>
<rect x="501.9" y="64.2" width="22.4" height="22.1" fill="#000"/>
<rect x="523.7" y="64.2" width="22.4" height="22.1" fill="#000"/>
<rect x="545.5" y="64.2" width="22.4" height="22.1" fill="#000"/>
<rect x="567.4" y="64.2" width="22.4" height="22.1" fill="#000"/>
<rect x="589.2" y="64.2" width="22.4" height="22.1" fill="#000"/>
<rect x="611.0" y="64.2" width="22.4" height="22.1" fill="#000"/>
<rect x="632.9" y="64.2" width="22.4" height="22.1" fill="#000"/>
<rect x="654.7" y="64.2" width="22.4" height="22.1" fill="#000"/>
<rect x="-22.1" y="85.7" width="22.4" height="22.1" fill="#000"/>
<rect x="-0.3" y="85.7" width="22.4" height="22.1" fill="#000"/>
<rect x="21.5" y="85.7" width="22.4" height="22.1" fill="#000"/>
<rect x="43.4" y="85.7" width="22.4" height="22.1" fill="#000"/>
<rect x="65.2" y="85.7" width="22.4" height="22.1" fill="#000"/>
<rect x="87.0" y="85.7" width="22.4" height="22.1" fill="#000"/>
<rect x="108.9" y="85.7" width="22.4" height="22.1" fill="#000"/>
<rect x="130.7" y="85.7" width="22.4" height="22.1" fill="#000"/>
<rect x="152.5" y="85.7" width="22.4" height="22.1" fill="#000"/>
<rect x="174.4" y="85.7" width="22.4" height="22.1" fill="#000"/>
<rect x="196.2" y="85.7" width="22.4" height="22.1" fill="#000"/>
<rect x="218.0" y="85.7" width="22.4" height="22.1" fill="#000"/>
<rect x="239.9" y="85.7" width="22.4" height="22.1" fill="#000"/>
<rect x="261.7" y="85.7" width="22.4" height="22.1" fill="#000"/>
<rect x="283.5" y="85.7" width="22.4" height="22.1" fill="#000"/>
<rect x="305.4" y="85.7" width="22.4" height="22.1" fill="#000"/>
<rect x="327.2" y="85.7" width="22.4" height="22.1" fill="#000"/>
<rect x="349.0" y="85.7" width="22.4" height="22.1" fill="#000"/>
<rect x="370.9" y="85.7" width="22.4" height="22.1" fill="#000"/>
<rect x="392.7" y="85.7" width="22.4" height="22.1" fill="#000"/>
<rect x="414.5" y="85.7" width="22.4" height="22.1" fill="#000"/>
<rect x="436.4" y="85.7" width="22.4" height="22.1" fill="#000"/>
<rect x="458.2" y="85.7" width="22.4" height="22.1" fill="#000"/>
<rect x="480.0" y="85.7" width="22.4" height="22.1" fill="#000"/>
<rect x="501.9" y="85.7" width="22.4" height="22.1" fill="#000"/>
<rect x="523.7" y="85.7" width="22.4" height="22.1" fill="#000"/>
<rect x="545.5" y="85.7" width="22.4" height="22.1" fill="#000"/>
<rect x="567.4" y="85.7" width="22.4" height="22.1" fill="#000"/>
<rect x="589.2" y="85.7" width="22.4" height="22.1" fill="#000"/>
<rect x="611.0" y="85.7" width="22.4" height="22.1" fill="#000"/>
<rect x="632.9" y="85.7" width="22.4" height="22.1" fill="#000"/>
<rect x="654.7" y="85.7" width="22.4" height="22.1" fill="#000"/>
<rect x="-22.1" y="107.2" width="22.4" height="22.1" fill="#000"/>
<rect x="-0.3" y="107.2" width="22.4" height="22.1" fill="#000"/>
<rect x="21.5" y="107.2" width="22.4" height="22.1" fill="#000"/>
<rect x="43.4" y="107.2" width="22.4" height="22.1" fill="#000"/>
<rect x="65.2" y="107.2" width="22.4" height="22.1" fill="#000"/>
<rect x="87.0" y="107.2" width="22.4" height="22.1" fill="#000"/>
<rect x="108.9" y="107.2" width="22.4" height="22.1" fill="#000"/>
<rect x="130.7" y="107.2" width="22.4" height="22.1" fill="#000"/>
<rect x="152.5" y="107.2" width="22.4" height="22.1" fill="#000"/>
<rect x="174.4" y="107.2" width="22.4" height="22.1" fill="#000"/>
<rect x="196.2" y="107.2" width="22.4" height="22.1" fill="#000"/>
<rect x="218.0" y="107.2" width="22.4" height="22.1" fill="#000"/>
<rect x="239.9" y="107.2" width="22.4" height="22.1" fill="#000"/>
<rect x="261.7" y="107.2" width="22.4" height="22.1" fill="#000"/>
<rect x="283.5" y="107.2" width="22.4" height="22.1" fill="#000"/>
<rect x="305.4" y="107.2" width="22.4" height="22.1" fill="#000"/>
<rect x="327.2" y="107.2" width="22.4" height="22.1" fill="#000"/>
<rect x="349.0" y="107.2" width="22.4" height="22.1" fill="#000"/>
<rect x="370.9" y="107.2" width="22.4" height="22.1" fill="#000"/>
<rect x="392.7" y="107.2" width="22.4" height="22.1" fill="#000"/>
<rect x="414.5" y="107.2" width="22.4" height="22.1" fill="#000"/>
<rect x="436.4" y="107.2" width="22.4" height="22.1" fill="#000"/>
<rect x="458.2" y="107.2" width="22.4" height="22.1" fill="#000"/>
<rect x="480.0" y="107.2" width="22.4" height="22.1" fill="#000"/>
<rect x="501.9" y="107.2" width="22.4" height="22.1" fill="#000"/>
<rect x="523.7" y="107.2" width="22.4" height="22.1" fill="#000"/>
<rect x="545.5" y="107.2" width="22.4" height="22.1" fill="#000"/>
<rect x="567.4" y="107.2" width="22.4" height="22.1" fill="#000"/>
<rect x="589.2" y="107.2" width="22.4" height="22.1" fill="#000"/>
<rect x="611.0" y="107.2" width="22.4" height="22.1" fill="#000"/>
<rect x="632.9" y="107.2" width="22.4" height="22.1" fill="#000"/>
<rect x="654.7" y="107.2" width="22.4" height="22.1" fill="#000"/>
<rect x="-22.1" y="128.7" width="22.4" height="22.1" fill="#000"/>
<rect x="-0.3" y="128.7" width="22.4" height="22.1" fill="#000"/>
<rect x="21.5" y="128.7" width="22.4" height="22.1" fill="#000"/>
<rect x="43.4" y="128.7" width="22.4" height="22.1" fill="#000"/>
<rect x="65.2" y="128.7" width="22.4" height="22.1" fill="#000"/>
<rect x="87.0" y="128.7" width="22.4" height="22.1" fill="#000"/>
<rect x="108.9" y="128.7" width="22.4" height="22.1" fill="#000"/>
<rect x="130.7" y="128.7" width="22.4" height="22.1" fill="#000"/>
<rect x="152.5" y="128.7" width="22.4" height="22.1" fill="#000"/>
<rect x="174.4" y="128.7" width="22.4" height="22.1" fill="#000"/>
<rect x="196.2" y="128.7" width="22.4" height="22.1" fill="#000"/>
<rect x="218.0" y="128.7" width="22.4" height="22.1" fill="#000"/>
<rect x="239.9" y="128.7" width="22.4" height="22.1" fill="#000"/>
<rect x="261.7" y="128.7" width="22.4" height="22.1" fill="#000"/>
<rect x="283.5" y="128.7" width="22.4" height="22.1" fill="#000"/>
<rect x="305.4" y="128.7" width="22.4" height="22.1" fill="#000"/>
<rect x="327.2" y="128.7" width="22.4" height="22.1" fill="#000"/>
<rect x="349.0" y="128.7" width="22.4" height="22.1" fill="#000"/>
<rect x="370.9" y="128.7" width="22.4" height="22.1" fill="#000"/>
<rect x="392.7" y="128.7" width="22.4" height="22.1" fill="#000"/>
<rect x="414.5" y="128.7" width="22.4" height="22.1" fill="#000"/>
<rect x="436.4" y="128.7" width="22.4" height="22.1" fill="#000"/>
<rect x="458.2" y="128.7" width="22.4" height="22.1" fill="#000"/>
<rect x="480.0" y="128.7" width="22.4" height="22.1" fill="#000"/>
<rect x="501.9" y="128.7" width="22.4" height="22.1" fill="#000"/>
<rect x="523.7" y="128.7" width="22.4" height="22.1" fill="#000"/>
<rect x="545.5" y="128.7" width="22.4" height="22.1" fill="#000"/>
<rect x="567.4" y="128.7" width="22.4" height="22.1" fill="#000"/>
<rect x="589.2" y="128.7" width="22.4" height="22.1" fill="#000"/>
<rect x="611.0" y="128.7" width="22.4" height="22.1" fill="#000"/>
<rect x="632.9" y="128.7" width="22.4" height="22.1" fill="#000"/>
<rect x="654.7" y="128.7" width="22.4" height="22.1" fill="#000"/>
<rect x="-22.1" y="150.2" width="22.4" height="22.1" fill="#000"/>
<rect x="-0.3" y="150.2" width="22.4" height="22.1" fill="#000"/>
<rect x="21.5" y="150.2" width="22.4" height="22.1" fill="#000"/>
<rect x="43.4" y="150.2" width="22.4" height="22.1" fill="#000"/>
<rect x="65.2" y="150.2" width="22.4" height="22.1" fill="#000"/>
<rect x="87.0" y="150.2" width="22.4" height="22.1" fill="#000"/>
<rect x="108.9" y="150.2" width="22.4" height="22.1" fill="#000"/>
<rect x="130.7" y="150.2" width="22.4" height="22.1" fill="#000"/>
<rect x="152.5" y="150.2" width="22.4" height="22.1" fill="#000"/>
<rect x="174.4" y="150.2" width="22.4" height="22.1" fill="#000"/>
<rect x="196.2" y="150.2" width="22.4" height="22.1" fill="#000"/>
<rect x="218.0" y="150.2" width="22.4" height="22.1" fill="#000"/>
<rect x="239.9" y="150.2" width="22.4" height="22.1" fill="#000"/>
<rect x="261.7" y="150.2" width="22.4" height="22.1" fill="#000"/>
<rect x="283.5" y="150.2" width="22.4" height="22.1" fill="#000"/>
<rect x="305.4" y="150.2" width="22.4" height="22.1" fill="#000"/>
<rect x="327.2" y="150.2" width="22.4" height="22.1" fill="#000"/>
<rect x="349.0" y="150.2" width="22.4" height="22.1" fill="#000"/>
<rect x="370.9" y="150.2" width="22.4" height="22.1" fill="#000"/>
<rect x="392.7" y="150.2" width="22.4" height="22.1" fill="#000"/>
<rect x="414.5" y="150.2" width="22.4" height="22.1" fill="#000"/>
<rect x="436.4" y="150.2" width="22.4" height="22.1" fill="#000"/>
<rect x="458.2" y="150.2" width="22.4" height="22.1" fill="#000"/>
<rect x="480.0" y="150.2" width="22.4" height="22.1" fill="#000"/>
<rect x="501.9" y="150.2" width="22.4" height="22.1" fill="#000"/>
<rect x="523.7" y="150.2" width="22.4" height="22.1" fill="#000"/>
<rect x="545.5" y="150.2" width="22.4" height="22.1" fill="#000"/>
<rect x="567.4" y="150.2" width="22.4" height="22.1" fill="#000"/>
<rect x="589.2" y="150.2" width="22.4" height="22.1" fill="#000"/>
<rect x="611.0" y="150.2" width="22.4" height="22.1" fill="#000"/>
<rect x="632.9" y="150.2" width="22.4" height="22.1" fill="#000"/>
<rect x="654.7" y="150.2" width="22.4" height="22.1" fill="#000"/>
<rect x="-22.1" y="171.7" width="22.4" height="22.1" fill="rgb(0,140,0)"/>
<rect x="-0.3" y="171.7" width="22.4" height="22.1" fill="rgb(0,140,0)"/>
<rect x="21.5" y="171.7" width="22.4" height="22.1" fill="rgb(0,143,0)"/>
<rect x="43.4" y="171.7" width="22.4" height="22.1" fill="#000"/>
<rect x="65.2" y="171.7" width="22.4" height="22.1" fill="#000"/>
<rect x="87.0" y="171.7" width="22.4" height="22.1" fill="#000"/>
<rect x="108.9" y="171.7" width="22.4" height="22.1" fill="#000"/>
<rect x="130.7" y="171.7" width="22.4" height="22.1" fill="#000"/>
<rect x="152.5" y="171.7" width="22.4" height="22.1" fill="#000"/>
<rect x="174.4" y="171.7" width="22.4" height="22.1" fill="#000"/>
<rect x="196.2" y="171.7" width="22.4" height="22.1" fill="#000"/>
<rect x="218.0" y="171.7" width="22.4" height="22.1" fill="#000"/>
<rect x="239.9" y="171.7" width="22.4" height="22.1" fill="#000"/>
<rect x="261.7" y="171.7" width="22.4" height="22.1" fill="#000"/>
<rect x="283.5" y="171.7" width="22.4" height="22.1" fill="#000"/>
<rect x="305.4" y="171.7" width="22.4" height="22.1" fill="#000"/>
<rect x="327.2" y="171.7" width="22.4" height="22.1" fill="#000"/>
<rect x="349.0" y="171.7" width="22.4" height="22.1" fill="#000"/>
<rect x="370.9" y="171.7" width="22.4" height="22.1" fill="#000"/>
<rect x="392.7" y="171.7" width="22.4" height="22.1" fill="#000"/>
<rect x="414.5" y="171.7" width="22.4" height="22.1" fill="#000"/>
<rect x="436.4" y="171.7" width="22.4" height="22.1" fill="#000"/>
<rect x="458.2" y="171.7" width="22.4" height="22.1" fill="#000"/>
<rect x="480.0" y="171.7" width="22.4" height="22.1" fill="#000"/>
<rect x="501.9" y="171.7" width="22.4" height="22.1" fill="#000"/>
<rect x="523.7" y="171.7" width="22.4" height="22.1" fill="#000"/>
<rect x="545.5" y="171.7" width="22.4" height="22.1" fill="#000"/>
<rect x="567.4" y="171.7" width="22.4" height="22.1" fill="#000"/>
<rect x="589.2" y="171.7" width="22.4" height="22.1" fill="#000"/>
<rect x="611.0" y="171.7" width="22.4" height="22.1" fill="#000"/>
<rect x="632.9" y="171.7" width="22.4" height="22.1" fill="#000"/>
<rect x="654.7" y="171.7" width="22.4" height="22.1" fill="#000"/>
<rect x="-22.1" y="193.2" width="22.4" height="22.1" fill="rgb(0,127,0)"/>
<rect x="-0.3" y="193.2" width="22.4" height="22.1" fill="rgb(0,127,0)"/>
<rect x="21.5" y="193.2" width="22.4" height="22.1" fill="rgb(0,124,0)"/>
<rect x="43.4" y="193.2" width="22.4" height="22.1" fill="rgb(0,144,0)"/>
<rect x="65.2" y="193.2" width="22.4" height="22.1" fill="rgb(0,134,0)"/>
<rect x="87.0" y="193.2" width="22.4" height="22.1" fill="rgb(0,108,0)"/>
<rect x="108.9" y="193.2" width="22.4" height="22.1" fill="rgb(0,131,0)"/>
<rect x="130.7" y="193.2" width="22.4" height="22.1" fill="#000"/>
<rect x="152.5" y="193.2" width="22.4" height="22.1" fill="#000"/>
<rect x="174.4" y="193.2" width="22.4" height="22.1" fill="#000"/>
<rect x="196.2" y="193.2" width="22.4" height="22.1" fill="#000"/>
<rect x="218.0" y="193.2" width="22.4" height="22.1" fill="#000"/>
<rect x="239.9" y="193.2" width="22.4" height="22.1" fill="#000"/>
<rect x="261.7" y="193.2" width="22.4" height="22.1" fill="#000"/>
<rect x="283.5" y="193.2" width="22.4" height="22.1" fill="#000"/>
<rect x="305.4" y="193.2" width="22.4" height="22.1" fill="#000"/>
<rect x="327.2" y="193.2" width="22.4" height="22.1" fill="#000"/>
<rect x="349.0" y="193.2" width="22.4" height="22.1" fill="#000"/>
<rect x="370.9" y="193.2" width="22.4" height="22.1" fill="#000"/>
<rect x="392.7" y="193.2" width="22.4" height="22.1" fill="#000"/>
<rect x="414.5" y="193.2" width="22.4" height="22.1" fill="#000"/>
<rect x="436.4" y="193.2" width="22.4" height="22.1" fill="#000"/>
<rect x="458.2" y="193.2" width="22.4" height="22.1" fill="#000"/>
<rect x="480.0" y="193.2" width="22.4" height="22.1" fill="#000"/>
<rect x="501.9" y="193.2" width="22.4" height="22.1" fill="#000"/>
<rect x="523.7" y="193.2" width="22.4" height="22.1" fill="#000"/>
<rect x="545.5" y="193.2" width="22.4" height="22.1" fill="#000"/>
<rect x="567.4" y="193.2" width="22.4" height="22.1" fill="#000"/>
<rect x="589.2" y="193.2" width="22.4" height="22.1" fill="#000"/>
<rect x="611.0" y="193.2" width="22.4" height="22.1" fill="#000"/>
<rect x="632.9" y="193.2" width="22.4" height="22.1" fill="#000"/>
<rect x="654.7" y="193.2" width="22.4" height="22.1" fill="#000"/>
<rect x="-22.1" y="214.7" width="22.4" height="22.1" fill="rgb(0,155,0)"/>
<rect x="-0.3" y="214.7" width="22.4" height="22.1" fill="rgb(0,155,0)"/>
<rect x="21.5" y="214.7" width="22.4" height="22.1" fill="rgb(0,77,0)"/>
<rect x="43.4" y="214.7" width="22.4" height="22.1" fill="rgb(0,125,0)"/>
<rect x="65.2" y="214.7" width="22.4" height="22.1" fill="rgb(0,72,0)"/>
<rect x="87.0" y="214.7" width="22.4" height="22.1" fill="rgb(0,125,0)"/>
<rect x="108.9" y="214.7" width="22.4" height="22.1" fill="rgb(0,107,0)"/>
<rect x="130.7" y="214.7" width="22.4" height="22.1" fill="rgb(0,112,0)"/>
<rect x="152.5" y="214.7" width="22.4" height="22.1" fill="rgb(0,115,0)"/>
<rect x="174.4" y="214.7" width="22.4" height="22.1" fill="rgb(0,124,0)"/>
<rect x="196.2" y="214.7" width="22.4" height="22.1" fill="#000"/>
<rect x="218.0" y="214.7" width="22.4" height="22.1" fill="#000"/>
<rect x="239.9" y="214.7" width="22.4" height="22.1" fill="#000"/>
<rect x="261.7" y="214.7" width="22.4" height="22.1" fill="#000"/>
<rect x="283.5" y="214.7" width="22.4" height="22.1" fill="#000"/>
<rect x="305.4" y="214.7" width="22.4" height="22.1" fill="#000"/>
<rect x="327.2" y="214.7" width="22.4" height="22.1" fill="#000"/>
<rect x="349.0" y="214.7" width="22.4" height="22.1" fill="#000"/>
<rect x="370.9" y="214.7" width="22.4" height="22.1" fill="#000"/>
<rect x="392.7" y="214.7" width="22.4" height="22.1" fill="#000"/>
<rect x="414.5" y="214.7" width="22.4" height="22.1" fill="#000"/>
<rect x="436.4" y="214.7" width="22.4" height="22.1" fill="#000"/>
<rect x="458.2" y="214.7" width="22.4" height="22.1" fill="#000"/>
<rect x="480.0" y="214.7" width="22.4" height="22.1" fill="#000"/>
<rect x="501.9" y="214.7" width="22.4" height="22.1" fill="#000"/>
<rect x="523.7" y="214.7" width="22.4" height="22.1" fill="#000"/>
<rect x="545.5" y="214.7" width="22.4" height="22.1" fill="#000"/>
<rect x="567.4" y="214.7" width="22.4" height="22.1" fill="#000"/>
<rect x="589.2" y="214.7" width="22.4" height="22.1" fill="#000"/>
<rect x="611.0" y="214.7" width="22.4" height="22.1" fill="#000"/>
<rect x="632.9" y="214.7" width="22.4" height="22.1" fill="#000"/>
<rect x="654.7" y="214.7" width="22.4" height="22.1" fill="#000"/>
<rect x="-22.1" y="236.2" width="22.4" height="22.1" fill="rgb(0,165,0)"/>
<rect x="-0.3" y="236.2" width="22.4" height="22.1" fill="rgb(0,165,0)"/>
<rect x="21.5" y="236.2" width="22.4" height="22.1" fill="rgb(0,133,0)"/>
<rect x="43.4" y="236.2" width="22.4" height="22.1" fill="rgb(0,128,0)"/>
<rect x="65.2" y="236.2" width="22.4" height="22.1" fill="rgb(0,140,0)"/>
<rect x="87.0" y="236.2" width="22.4" height="22.1" fill="rgb(0,132,0)"/>
<rect x="108.9" y="236.2" width="22.4" height="22.1" fill="rgb(0,162,0)"/>
<rect x="130.7" y="236.2" width="22.4" height="22.1" fill="rgb(0,113,0)"/>
<rect x="152.5" y="236.2" width="22.4" height="22.1" fill="rgb(0,109,0)"/>
<rect x="174.4" y="236.2" width="22.4" height="22.1" fill="rgb(0,81,0)"/>
<rect x="196.2" y="236.2" width="22.4" height="22.1" fill="rgb(0,160,0)"/>
<rect x="218.0" y="236.2" width="22.4" height="22.1" fill="rgb(0,169,0)"/>
<rect x="239.9" y="236.2" width="22.4" height="22.1" fill="rgb(0,169,0)"/>
<rect x="261.7" y="236.2" width="22.4" height="22.1" fill="rgb(0,151,0)"/>
<rect x="283.5" y="236.2" width="22.4" height="22.1" fill="#000"/>
<rect x="305.4" y="236.2" width="22.4" height="22.1" fill="#000"/>
<rect x="327.2" y="236.2" width="22.4" height="22.1" fill="#000"/>
<rect x="349.0" y="236.2" width="22.4" height="22.1" fill="#000"/>
<rect x="370.9" y="236.2" width="22.4" height="22.1" fill="#000"/>
<rect x="392.7" y="236.2" width="22.4" height="22.1" fill="#000"/>
<rect x="414.5" y="236.2" width="22.4" height="22.1" fill="#000"/>
<rect x="436.4" y="236.2" width="22.4" height="22.1" fill="#000"/>
<rect x="458.2" y="236.2" width="22.4" height="22.1" fill="#000"/>
<rect x="480.0" y="236.2" width="22.4" height="22.1" fill="#000"/>
<rect x="501.9" y="236.2" width="22.4" height="22.1" fill="#000"/>
<rect x="523.7" y="236.2" width="22.4" height="22.1" fill="#000"/>
<rect x="545.5" y="236.2" width="22.4" height="22.1" fill="#000"/>
<rect x="567.4" y="236.2" width="22.4" height="22.1" fill="#000"/>
<rect x="589.2" y="236.2" width="22.4" height="22.1" fill="#000"/>
<rect x="611.0" y="236.2" width="22.4" height="22.1" fill="#000"/>
<rect x="632.9" y="236.2" width="22.4" height="22.1" fill="#000"/>
<rect x="654.7" y="236.2" width="22.4" height="22.1" fill="#000"/>
<rect x="-22.1" y="257.7" width="22.4" height="22.1" fill="rgb(0,133,0)"/>
<rect x="-0.3" y="257.7" width="22.4" height="22.1" fill="rgb(0,133,0)"/>
<rect x="21.5" y="257.7" width="22.4" height="22.1" fill="rgb(0,158,0)"/>
<rect x="43.4" y="257.7" width="22.4" height="22.1" fill="rgb(0,164,0)"/>
<rect x="65.2" y="257.7" width="22.4" height="22.1" fill="rgb(0,135,0)"/>
<rect x="87.0" y="257.7" width="22.4" height="22.1" fill="rgb(0,142,0)"/>
<rect x="108.9" y="257.7" width="22.4" height="22.1" fill="rgb(0,140,0)"/>
<rect x="130.7" y="257.7" width="22.4" height="22.1" fill="rgb(0,138,0)"/>
<rect x="152.5" y="257.7" width="22.4" height="22.1" fill="rgb(0,130,0)"/>
<rect x="174.4" y="257.7" width="22.4" height="22.1" fill="rgb(0,135,0)"/>
<rect x="196.2" y="257.7" width="22.4" height="22.1" fill="rgb(0,72,0)"/>
<rect x="218.0" y="257.7" width="22.4" height="22.1" fill="rgb(0,162,0)"/>
<rect x="239.9" y="257.7" width="22.4" height="22.1" fill="rgb(0,148,0)"/>
<rect x="261.7" y="257.7" width="22.4" height="22.1" fill="rgb(0,141,0)"/>
<rect x="283.5" y="257.7" width="22.4" height="22.1" fill="rgb(0,149,0)"/>
<rect x="305.4" y="257.7" width="22.4" height="22.1" fill="rgb(0,137,0)"/>
<rect x="327.2" y="257.7" width="22.4" height="22.1" fill="rgb(0,152,0)"/>
<rect x="349.0" y="257.7" width="22.4" height="22.1" fill="#000"/>
<rect x="370.9" y="257.7" width="22.4" height="22.1" fill="#000"/>
<rect x="392.7" y="257.7" width="22.4" height="22.1" fill="#000"/>
<rect x="414.5" y="257.7" width="22.4" height="22.1" fill="#000"/>
<rect x="436.4" y="257.7" width="22.4" height="22.1" fill="#000"/>
<rect x="458.2" y="257.7" width="22.4" height="22.1" fill="#000"/>
<rect x="480.0" y="257.7" width="22.4" height="22.1" fill="#000"/>
<rect x="501.9" y="257.7" width="22.4" height="22.1" fill="#000"/>
<rect x="523.7" y="257.7" width="22.4" height="22.1" fill="#000"/>
<rect x="545.5" y="257.7" width="22.4" height="22.1" fill="#000"/>
<rect x="567.4" y="257.7" width="22.4" height="22.1" fill="#000"/>
<rect x="589.2" y="257.7" width="22.4" height="22.1" fill="#000"/>
<rect x="611.0" y="257.7" width="22.4" height="22.1" fill="#000"/>
<rect x="632.9" y="257.7" width="22.4" height="22.1" fill="#000"/>
<rect x="654.7" y="257.7" width="22.4" height="22.1" fill="#000"/>
<rect x="-22.1" y="279.2" width="22.4" height="22.1" fill="rgb(0,119,0)"/>
<rect x="-0.3" y="279.2" width="22.4" height="22.1" fill="rgb(0,119,0)"/>
<rect x="21.5" y="279.2" width="22.4" height="22.1" fill="rgb(0,150,0)"/>
<rect x="43.4" y="279.2" width="22.4" height="22.1" fill="rgb(0,171,0)"/>
<rect x="65.2" y="279.2" width="22.4" height="22.1" fill="rgb(0,162,0)"/>
<rect x="87.0" y="279.2" width="22.4" height="22.1" fill="rgb(0,131,0)"/>
<rect x="108.9" y="279.2" width="22.4" height="22.1" fill="rgb(0,151,0)"/>
<rect x="130.7" y="279.2" width="22.4" height="22.1" fill="rgb(0,145,0)"/>
<rect x="152.5" y="279.2" width="22.4" height="22.1" fill="rgb(0,120,0)"/>
<rect x="174.4" y="279.2" width="22.4" height="22.1" fill="rgb(0,133,0)"/>
<rect x="196.2" y="279.2" width="22.4" height="22.1" fill="rgb(0,130,0)"/>
<rect x="218.0" y="279.2" width="22.4" height="22.1" fill="rgb(0,149,0)"/>
<rect x="239.9" y="279.2" width="22.4" height="22.1" fill="rgb(0,153,0)"/>
<rect x="261.7" y="279.2" width="22.4" height="22.1" fill="rgb(0,137,0)"/>
<rect x="283.5" y="279.2" width="22.4" height="22.1" fill="rgb(0,139,0)"/>
<rect x="305.4" y="279.2" width="22.4" height="22.1" fill="rgb(0,143,0)"/>
<rect x="327.2" y="279.2" width="22.4" height="22.1" fill="rgb(0,129,0)"/>
<rect x="349.0" y="279.2" width="22.4" height="22.1" fill="rgb(0,135,0)"/>
<rect x="370.9" y="279.2" width="22.4" height="22.1" fill="rgb(0,129,0)"/>
<rect x="392.7" y="279.2" width="22.4" height="22.1" fill="rgb(0,134,0)"/>
<rect x="414.5" y="279.2" width="22.4" height="22.1" fill="rgb(0,138,0)"/>
<rect x="436.4" y="279.2" width="22.4" height="22.1" fill="#000"/>
<rect x="458.2" y="279.2" width="22.4" height="22.1" fill="#000"/>
<rect x="480.0" y="279.2" width="22.4" height="22.1" fill="#000"/>
<rect x="501.9" y="279.2" width="22.4" height="22.1" fill="#000"/>
<rect x="523.7" y="279.2" width="22.4" height="22.1" fill="#000"/>
<rect x="545.5" y="279.2" width="22.4" height="22.1" fill="#000"/>
<rect x="567.4" y="279.2" width="22.4" height="22.1" fill="#000"/>
<rect x="589.2" y="279.2" width="22.4" height="22.1" fill="#000"/>
<rect x="611.0" y="279.2" width="22.4" height="22.1" fill="#000"/>
<rect x="632.9" y="279.2" width="22.4" height="22.1" fill="#000"/>
<rect x="654.7" y="279.2" width="22.4" height="22.1" fill="#000"/>
<rect x="-22.1" y="300.7" width="22.4" height="22.1" fill="rgb(0,85,0)"/>
<rect x="-0.3" y="300.7" width="22.4" height="22.1" fill="rgb(0,85,0)"/>
<rect x="21.5" y="300.7" width="22.4" height="22.1" fill="rgb(0,135,0)"/>
<rect x="43.4" y="300.7" width="22.4" height="22.1" fill="rgb(0,179,0)"/>
<rect x="65.2" y="300.7" width="22.4" height="22.1" fill="rgb(0,36,0)"/>
<rect x="87.0" y="300.7" width="22.4" height="22.1" fill="rgb(0,153,0)"/>
<rect x="108.9" y="300.7" width="22.4" height="22.1" fill="rgb(0,165,0)"/>
<rect x="130.7" y="300.7" width="22.4" height="22.1" fill="rgb(0,168,0)"/>
<rect x="152.5" y="300.7" width="22.4" height="22.1" fill="rgb(0,79,0)"/>
<rect x="174.4" y="300.7" width="22.4" height="22.1" fill="rgb(0,143,0)"/>
<rect x="196.2" y="300.7" width="22.4" height="22.1" fill="rgb(0,133,0)"/>
<rect x="218.0" y="300.7" width="22.4" height="22.1" fill="rgb(0,124,0)"/>
<rect x="239.9" y="300.7" width="22.4" height="22.1" fill="rgb(0,143,0)"/>
<rect x="261.7" y="300.7" width="22.4" height="22.1" fill="rgb(0,135,0)"/>
<rect x="283.5" y="300.7" width="22.4" height="22.1" fill="rgb(0,142,0)"/>
<rect x="305.4" y="300.7" width="22.4" height="22.1" fill="rgb(0,124,0)"/>
<rect x="327.2" y="300.7" width="22.4" height="22.1" fill="rgb(0,101,0)"/>
<rect x="349.0" y="300.7" width="22.4" height="22.1" fill="rgb(0,125,0)"/>
<rect x="370.9" y="300.7" width="22.4" height="22.1" fill="rgb(0,112,0)"/>
<rect x="392.7" y="300.7" width="22.4" height="22.1" fill="rgb(0,126,0)"/>
<rect x="414.5" y="300.7" width="22.4" height="22.1" fill="rgb(0,149,0)"/>
<rect x="436.4" y="300.7" width="22.4" height="22.1" fill="rgb(0,110,0)"/>
<rect x="458.2" y="300.7" width="22.4" height="22.1" fill="rgb(0,145,0)"/>
<rect x="480.0" y="300.7" width="22.4" height="22.1" fill="rgb(0,161,0)"/>
<rect x="501.9" y="300.7" width="22.4" height="22.1" fill="#000"/>
<rect x="523.7" y="300.7" width="22.4" height="22.1" fill="#000"/>
<rect x="545.5" y="300.7" width="22.4" height="22.1" fill="#000"/>
<rect x="567.4" y="300.7" width="22.4" height="22.1" fill="#000"/>
<rect x="589.2" y="300.7" width="22.4" height="22.1" fill="#000"/>
<rect x="611.0" y="300.7" width="22.4" height="22.1" fill="#000"/>
<rect x="632.9" y="300.7" width="22.4" height="22.1" fill="#000"/>
<rect x="654.7" y="300.7" width="22.4" height="22.1" fill="#000"/>
<rect x="-22.1" y="322.2" width="22.4" height="22.1" fill="rgb(0,117,0)"/>
<rect x="-0.3" y="322.2" width="22.4" height="22.1" fill="rgb(0,117,0)"/>
<rect x="21.5" y="322.2" width="22.4" height="22.1" fill="rgb(0,128,0)"/>
<rect x="43.4" y="322.2" width="22.4" height="22.1" fill="rgb(0,130,0)"/>
<rect x="65.2" y="322.2" width="22.4" height="22.1" fill="rgb(0,174,0)"/>
<rect x="87.0" y="322.2" width="22.4" height="22.1" fill="rgb(0,167,0)"/>
<rect x="108.9" y="322.2" width="22.4" height="22.1" fill="rgb(0,61,0)"/>
<rect x="130.7" y="322.2" width="22.4" height="22.1" fill="rgb(0,114,0)"/>
<rect x="152.5" y="322.2" width="22.4" height="22.1" fill="rgb(0,145,0)"/>
<rect x="174.4" y="322.2" width="22.4" height="22.1" fill="rgb(0,165,0)"/>
<rect x="196.2" y="322.2" width="22.4" height="22.1" fill="rgb(0,137,0)"/>
<rect x="218.0" y="322.2" width="22.4" height="22.1" fill="rgb(0,142,0)"/>
<rect x="239.9" y="322.2" width="22.4" height="22.1" fill="rgb(0,129,0)"/>
<rect x="261.7" y="322.2" width="22.4" height="22.1" fill="rgb(0,164,0)"/>
<rect x="283.5" y="322.2" width="22.4" height="22.1" fill="rgb(0,70,0)"/>
<rect x="305.4" y="322.2" width="22.4" height="22.1" fill="rgb(0,135,0)"/>
<rect x="327.2" y="322.2" width="22.4" height="22.1" fill="rgb(0,118,0)"/>
<rect x="349.0" y="322.2" width="22.4" height="22.1" fill="rgb(0,68,0)"/>
<rect x="370.9" y="322.2" width="22.4" height="22.1" fill="rgb(0,108,0)"/>
<rect x="392.7" y="322.2" width="22.4" height="22.1" fill="rgb(0,115,0)"/>
<rect x="414.5" y="322.2" width="22.4" height="22.1" fill="rgb(0,131,0)"/>
<rect x="436.4" y="322.2" width="22.4" height="22.1" fill="rgb(0,128,0)"/>
<rect x="458.2" y="322.2" width="22.4" height="22.1" fill="rgb(0,157,0)"/>
<rect x="480.0" y="322.2" width="22.4" height="22.1" fill="rgb(0,143,0)"/>
<rect x="501.9" y="322.2" width="22.4" height="22.1" fill="rgb(0,154,0)"/>
<rect x="523.7" y="322.2" width="22.4" height="22.1" fill="rgb(0,160,0)"/>
<rect x="545.5" y="322.2" width="22.4" height="22.1" fill="rgb(0,163,0)"/>
<rect x="567.4" y="322.2" width="22.4" height="22.1" fill="rgb(0,152,0)"/>
<rect x="589.2" y="322.2" width="22.4" height="22.1" fill="#000"/>
<rect x="611.0" y="322.2" width="22.4" height="22.1" fill="#000"/>
<rect x="632.9" y="322.2" width="22.4" height="22.1" fill="#000"/>
<rect x="654.7" y="322.2" width="22.4" height="22.1" fill="#000"/>
<rect x="-22.1" y="343.7" width="22.4" height="22.1" fill="rgb(0,137,0)"/>
<rect x="-0.3" y="343.7" width="22.4" height="22.1" fill="rgb(0,137,0)"/>
<rect x="21.5" y="343.7" width="22.4" height="22.1" fill="rgb(0,135,0)"/>
<rect x="43.4" y="343.7" width="22.4" height="22.1" fill="rgb(0,150,0)"/>
<rect x="65.2" y="343.7" width="22.4" height="22.1" fill="rgb(0,159,0)"/>
<rect x="87.0" y="343.7" width="22.4" height="22.1" fill="rgb(0,165,0)"/>
<rect x="108.9" y="343.7" width="22.4" height="22.1" fill="rgb(0,161,0)"/>
<rect x="130.7" y="343.7" width="22.4" height="22.1" fill="rgb(0,143,0)"/>
<rect x="152.5" y="343.7" width="22.4" height="22.1" fill="rgb(0,157,0)"/>
<rect x="174.4" y="343.7" width="22.4" height="22.1" fill="rgb(0,163,0)"/>
<rect x="196.2" y="343.7" width="22.4" height="22.1" fill="rgb(0,161,0)"/>
<rect x="218.0" y="343.7" width="22.4" height="22.1" fill="rgb(0,214,0)"/>
<rect x="239.9" y="343.7" width="22.4" height="22.1" fill="rgb(0,160,0)"/>
<rect x="261.7" y="343.7" width="22.4" height="22.1" fill="rgb(0,158,0)"/>
<rect x="283.5" y="343.7" width="22.4" height="22.1" fill="rgb(0,167,0)"/>
<rect x="305.4" y="343.7" width="22.4" height="22.1" fill="rgb(0,144,0)"/>
<rect x="327.2" y="343.7" width="22.4" height="22.1" fill="rgb(0,68,0)"/>
<rect x="349.0" y="343.7" width="22.4" height="22.1" fill="rgb(0,119,0)"/>
<rect x="370.9" y="343.7" width="22.4" height="22.1" fill="rgb(0,101,0)"/>
<rect x="392.7" y="343.7" width="22.4" height="22.1" fill="rgb(0,78,0)"/>
<rect x="414.5" y="343.7" width="22.4" height="22.1" fill="rgb(0,112,0)"/>
<rect x="436.4" y="343.7" width="22.4" height="22.1" fill="rgb(0,149,0)"/>
<rect x="458.2" y="343.7" width="22.4" height="22.1" fill="rgb(0,132,0)"/>
<rect x="480.0" y="343.7" width="22.4" height="22.1" fill="rgb(0,146,0)"/>
<rect x="501.9" y="343.7" width="22.4" height="22.1" fill="rgb(0,151,0)"/>
<rect x="523.7" y="343.7" width="22.4" height="22.1" fill="rgb(0,175,0)"/>
<rect x="545.5" y="343.7" width="22.4" height="22.1" fill="rgb(0,160,0)"/>
<rect x="567.4" y="343.7" width="22.4" height="22.1" fill="rgb(0,145,0)"/>
<rect x="589.2" y="343.7" width="22.4" height="22.1" fill="rgb(0,166,0)"/>
<rect x="611.0" y="343.7" width="22.4" height="22.1" fill="rgb(0,175,0)"/>
<rect x="632.9" y="343.7" width="22.4" height="22.1" fill="rgb(0,178,0)"/>
<rect x="654.7" y="343.7" width="22.4" height="22.1" fill="rgb(0,178,0)"/>
<rect x="-22.1" y="365.2" width="22.4" height="22.1" fill="rgb(0,123,0)"/>
<rect x="-0.3" y="365.2" width="22.4" height="22.1" fill="rgb(0,123,0)"/>
<rect x="21.5" y="365.2" width="22.4" height="22.1" fill="rgb(0,141,0)"/>
<rect x="43.4" y="365.2" width="22.4" height="22.1" fill="rgb(0,148,0)"/>
<rect x="65.2" y="365.2" width="22.4" height="22.1" fill="rgb(0,112,0)"/>
<rect x="87.0" y="365.2" width="22.4" height="22.1" fill="rgb(0,152,0)"/>
<rect x="108.9" y="365.2" width="22.4" height="22.1" fill="rgb(0,159,0)"/>
<rect x="130.7" y="365.2" width="22.4" height="22.1" fill="rgb(0,160,0)"/>
<rect x="152.5" y="365.2" width="22.4" height="22.1" fill="rgb(0,153,0)"/>
<rect x="174.4" y="365.2" width="22.4" height="22.1" fill="rgb(0,147,0)"/>
<rect x="196.2" y="365.2" width="22.4" height="22.1" fill="rgb(0,151,0)"/>
<rect x="218.0" y="365.2" width="22.4" height="22.1" fill="rgb(0,166,0)"/>
<rect x="239.9" y="365.2" width="22.4" height="22.1" fill="rgb(0,159,0)"/>
<rect x="261.7" y="365.2" width="22.4" height="22.1" fill="rgb(0,146,0)"/>
<rect x="283.5" y="365.2" width="22.4" height="22.1" fill="rgb(0,134,0)"/>
<rect x="305.4" y="365.2" width="22.4" height="22.1" fill="rgb(0,146,0)"/>
<rect x="327.2" y="365.2" width="22.4" height="22.1" fill="rgb(0,141,0)"/>
<rect x="349.0" y="365.2" width="22.4" height="22.1" fill="rgb(0,111,0)"/>
<rect x="370.9" y="365.2" width="22.4" height="22.1" fill="rgb(0,120,0)"/>
<rect x="392.7" y="365.2" width="22.4" height="22.1" fill="rgb(0,131,0)"/>
<rect x="414.5" y="365.2" width="22.4" height="22.1" fill="rgb(0,145,0)"/>
<rect x="436.4" y="365.2" width="22.4" height="22.1" fill="rgb(0,141,0)"/>
<rect x="458.2" y="365.2" width="22.4" height="22.1" fill="rgb(0,141,0)"/>
<rect x="480.0" y="365.2" width="22.4" height="22.1" fill="rgb(0,141,0)"/>
<rect x="501.9" y="365.2" width="22.4" height="22.1" fill="rgb(0,153,0)"/>
<rect x="523.7" y="365.2" width="22.4" height="22.1" fill="rgb(0,149,0)"/>
<rect x="545.5" y="365.2" width="22.4" height="22.1" fill="rgb(0,18,0)"/>
<rect x="567.4" y="365.2" width="22.4" height="22.1" fill="rgb(0,159,0)"/>
<rect x="589.2" y="365.2" width="22.4" height="22.1" fill="rgb(0,156,0)"/>
<rect x="611.0" y="365.2" width="22.4" height="22.1" fill="rgb(0,173,0)"/>
<rect x="632.9" y="365.2" width="22.4" height="22.1" fill="rgb(0,141,0)"/>
<rect x="654.7" y="365.2" width="22.4" height="22.1" fill="rgb(0,141,0)"/>
<rect x="-22.1" y="386.7" width="22.4" height="22.1" fill="rgb(0,131,0)"/>
<rect x="-0.3" y="386.7" width="22.4" height="22.1" fill="rgb(0,131,0)"/>
<rect x="21.5" y="386.7" width="22.4" height="22.1" fill="rgb(0,155,0)"/>
<rect x="43.4" y="386.7" width="22.4" height="22.1" fill="rgb(0,160,0)"/>
<rect x="65.2" y="386.7" width="22.4" height="22.1" fill="rgb(0,157,0)"/>
<rect x="87.0" y="386.7" width="22.4" height="22.1" fill="rgb(0,143,0)"/>
<rect x="108.9" y="386.7" width="22.4" height="22.1" fill="rgb(0,155,0)"/>
<rect x="130.7" y="386.7" width="22.4" height="22.1" fill="rgb(0,173,0)"/>
<rect x="152.5" y="386.7" width="22.4" height="22.1" fill="rgb(0,59,0)"/>
<rect x="174.4" y="386.7" width="22.4" height="22.1" fill="rgb(0,121,0)"/>
<rect x="196.2" y="386.7" width="22.4" height="22.1" fill="rgb(0,138,0)"/>
<rect x="218.0" y="386.7" width="22.4" height="22.1" fill="rgb(0,153,0)"/>
<rect x="239.9" y="386.7" width="22.4" height="22.1" fill="rgb(0,144,0)"/>
<rect x="261.7" y="386.7" width="22.4" height="22.1" fill="rgb(0,153,0)"/>
<rect x="283.5" y="386.7" width="22.4" height="22.1" fill="rgb(0,145,0)"/>
<rect x="305.4" y="386.7" width="22.4" height="22.1" fill="rgb(0,137,0)"/>
<rect x="327.2" y="386.7" width="22.4" height="22.1" fill="rgb(0,141,0)"/>
<rect x="349.0" y="386.7" width="22.4" height="22.1" fill="rgb(0,132,0)"/>
<rect x="370.9" y="386.7" width="22.4" height="22.1" fill="rgb(0,124,0)"/>
<rect x="392.7" y="386.7" width="22.4" height="22.1" fill="rgb(0,161,0)"/>
<rect x="414.5" y="386.7" width="22.4" height="22.1" fill="rgb(0,159,0)"/>
<rect x="436.4" y="386.7" width="22.4" height="22.1" fill="rgb(0,144,0)"/>
<rect x="458.2" y="386.7" width="22.4" height="22.1" fill="rgb(0,142,0)"/>
<rect x="480.0" y="386.7" width="22.4" height="22.1" fill="rgb(0,137,0)"/>
<rect x="501.9" y="386.7" width="22.4" height="22.1" fill="rgb(0,143,0)"/>
<rect x="523.7" y="386.7" width="22.4" height="22.1" fill="rgb(0,131,0)"/>
<rect x="545.5" y="386.7" width="22.4" height="22.1" fill="rgb(0,106,0)"/>
<rect x="567.4" y="386.7" width="22.4" height="22.1" fill="rgb(0,147,0)"/>
<rect x="589.2" y="386.7" width="22.4" height="22.1" fill="rgb(0,173,0)"/>
<rect x="611.0" y="386.7" width="22.4" height="22.1" fill="rgb(0,150,0)"/>
<rect x="632.9" y="386.7" width="22.4" height="22.1" fill="rgb(0,141,0)"/>
<rect x="654.7" y="386.7" width="22.4" height="22.1" fill="rgb(0,141,0)"/>
<rect x="-22.1" y="408.2" width="22.4" height="22.1" fill="rgb(0,161,0)"/>
<rect x="-0.3" y="408.2" width="22.4" height="22.1" fill="rgb(0,161,0)"/>
<rect x="21.5" y="408.2" width="22.4" height="22.1" fill="rgb(0,151,0)"/>
<rect x="43.4" y="408.2" width="22.4" height="22.1" fill="rgb(0,154,0)"/>
<rect x="65.2" y="408.2" width="22.4" height="22.1" fill="rgb(0,153,0)"/>
<rect x="87.0" y="408.2" width="22.4" height="22.1" fill="rgb(0,168,0)"/>
<rect x="108.9" y="408.2" width="22.4" height="22.1" fill="rgb(0,135,0)"/>
<rect x="130.7" y="408.2" width="22.4" height="22.1" fill="rgb(0,151,0)"/>
<rect x="152.5" y="408.2" width="22.4" height="22.1" fill="rgb(0,136,0)"/>
<rect x="174.4" y="408.2" width="22.4" height="22.1" fill="rgb(0,113,0)"/>
<rect x="196.2" y="408.2" width="22.4" height="22.1" fill="rgb(0,70,0)"/>
<rect x="218.0" y="408.2" width="22.4" height="22.1" fill="rgb(0,144,0)"/>
<rect x="239.9" y="408.2" width="22.4" height="22.1" fill="rgb(0,13,0)"/>
<rect x="261.7" y="408.2" width="22.4" height="22.1" fill="rgb(0,21,0)"/>
<rect x="283.5" y="408.2" width="22.4" height="22.1" fill="rgb(0,146,0)"/>
<rect x="305.4" y="408.2" width="22.4" height="22.1" fill="rgb(0,144,0)"/>
<rect x="327.2" y="408.2" width="22.4" height="22.1" fill="rgb(0,158,0)"/>
<rect x="349.0" y="408.2" width="22.4" height="22.1" fill="rgb(0,145,0)"/>
<rect x="370.9" y="408.2" width="22.4" height="22.1" fill="rgb(0,161,0)"/>
<rect x="392.7" y="408.2" width="22.4" height="22.1" fill="rgb(0,149,0)"/>
<rect x="414.5" y="408.2" width="22.4" height="22.1" fill="rgb(0,158,0)"/>
<rect x="436.4" y="408.2" width="22.4" height="22.1" fill="rgb(0,143,0)"/>
<rect x="458.2" y="408.2" width="22.4" height="22.1" fill="rgb(0,127,0)"/>
<rect x="480.0" y="408.2" width="22.4" height="22.1" fill="rgb(0,123,0)"/>
<rect x="501.9" y="408.2" width="22.4" height="22.1" fill="rgb(0,140,0)"/>
<rect x="523.7" y="408.2" width="22.4" height="22.1" fill="rgb(0,137,0)"/>
<rect x="545.5" y="408.2" width="22.4" height="22.1" fill="rgb(0,146,0)"/>
<rect x="567.4" y="408.2" width="22.4" height="22.1" fill="rgb(0,155,0)"/>
<rect x="589.2" y="408.2" width="22.4" height="22.1" fill="rgb(0,151,0)"/>
<rect x="611.0" y="408.2" width="22.4" height="22.1" fill="rgb(0,162,0)"/>
<rect x="632.9" y="408.2" width="22.4" height="22.1" fill="rgb(0,140,0)"/>
<rect x="654.7" y="408.2" width="22.4" height="22.1" fill="rgb(0,140,0)"/>
<rect x="-22.1" y="429.7" width="22.4" height="22.1" fill="rgb(0,131,0)"/>
<rect x="-0.3" y="429.7" width="22.4" height="22.1" fill="rgb(0,131,0)"/>
<rect x="21.5" y="429.7" width="22.4" height="22.1" fill="rgb(0,145,0)"/>
<rect x="43.4" y="429.7" width="22.4" height="22.1" fill="rgb(0,125,0)"/>
<rect x="65.2" y="429.7" width="22.4" height="22.1" fill="rgb(0,130,0)"/>
<rect x="87.0" y="429.7" width="22.4" height="22.1" fill="rgb(0,165,0)"/>
<rect x="108.9" y="429.7" width="22.4" height="22.1" fill="rgb(0,168,0)"/>
<rect x="130.7" y="429.7" width="22.4" height="22.1" fill="rgb(0,159,0)"/>
<rect x="152.5" y="429.7" width="22.4" height="22.1" fill="rgb(0,130,0)"/>
<rect x="174.4" y="429.7" width="22.4" height="22.1" fill="rgb(0,123,0)"/>
<rect x="196.2" y="429.7" width="22.4" height="22.1" fill="rgb(0,155,0)"/>
<rect x="218.0" y="429.7" width="22.4" height="22.1" fill="rgb(0,144,0)"/>
<rect x="239.9" y="429.7" width="22.4" height="22.1" fill="rgb(0,19,0)"/>
<rect x="261.7" y="429.7" width="22.4" height="22.1" fill="rgb(0,124,0)"/>
<rect x="283.5" y="429.7" width="22.4" height="22.1" fill="rgb(0,124,0)"/>
<rect x="305.4" y="429.7" width="22.4" height="22.1" fill="rgb(0,162,0)"/>
<rect x="327.2" y="429.7" width="22.4" height="22.1" fill="rgb(0,122,0)"/>
<rect x="349.0" y="429.7" width="22.4" height="22.1" fill="rgb(0,175,0)"/>
<rect x="370.9" y="429.7" width="22.4" height="22.1" fill="rgb(0,131,0)"/>
<rect x="392.7" y="429.7" width="22.4" height="22.1" fill="rgb(0,133,0)"/>
<rect x="414.5" y="429.7" width="22.4" height="22.1" fill="rgb(0,123,0)"/>
<rect x="436.4" y="429.7" width="22.4" height="22.1" fill="rgb(0,71,0)"/>
<rect x="458.2" y="429.7" width="22.4" height="22.1" fill="rgb(0,158,0)"/>
<rect x="480.0" y="429.7" width="22.4" height="22.1" fill="rgb(0,133,0)"/>
<rect x="501.9" y="429.7" width="22.4" height="22.1" fill="rgb(0,130,0)"/>
<rect x="523.7" y="429.7" width="22.4" height="22.1" fill="rgb(0,20,0)"/>
<rect x="545.5" y="429.7" width="22.4" height="22.1" fill="rgb(0,13,0)"/>
<rect x="567.4" y="429.7" width="22.4" height="22.1" fill="rgb(0,34,0)"/>
<rect x="589.2" y="429.7" width="22.4" height="22.1" fill="rgb(0,154,0)"/>
<rect x="611.0" y="429.7" width="22.4" height="22.1" fill="rgb(0,110,0)"/>
<rect x="632.9" y="429.7" width="22.4" height="22.1" fill="rgb(0,137,0)"/>
<rect x="654.7" y="429.7" width="22.4" height="22.1" fill="rgb(0,137,0)"/>
<rect x="-22.1" y="451.2" width="22.4" height="22.1" fill="rgb(0,127,0)"/>
<rect x="-0.3" y="451.2" width="22.4" height="22.1" fill="rgb(0,127,0)"/>
<rect x="21.5" y="451.2" width="22.4" height="22.1" fill="rgb(0,143,0)"/>
<rect x="43.4" y="451.2" width="22.4" height="22.1" fill="rgb(0,120,0)"/>
<rect x="65.2" y="451.2" width="22.4" height="22.1" fill="rgb(0,121,0)"/>
<rect x="87.0" y="451.2" width="22.4" height="22.1" fill="rgb(0,135,0)"/>
<rect x="108.9" y="451.2" width="22.4" height="22.1" fill="rgb(0,163,0)"/>
<rect x="130.7" y="451.2" width="22.4" height="22.1" fill="rgb(0,144,0)"/>
<rect x="152.5" y="451.2" width="22.4" height="22.1" fill="rgb(0,126,0)"/>
<rect x="174.4" y="451.2" width="22.4" height="22.1" fill="rgb(0,152,0)"/>
<rect x="196.2" y="451.2" width="22.4" height="22.1" fill="rgb(0,134,0)"/>
<rect x="218.0" y="451.2" width="22.4" height="22.1" fill="rgb(0,158,0)"/>
<rect x="239.9" y="451.2" width="22.4" height="22.1" fill="rgb(0,139,0)"/>
<rect x="261.7" y="451.2" width="22.4" height="22.1" fill="rgb(0,149,0)"/>
<rect x="283.5" y="451.2" width="22.4" height="22.1" fill="rgb(0,140,0)"/>
<rect x="305.4" y="451.2" width="22.4" height="22.1" fill="rgb(0,138,0)"/>
<rect x="327.2" y="451.2" width="22.4" height="22.1" fill="rgb(0,165,0)"/>
<rect x="349.0" y="451.2" width="22.4" height="22.1" fill="rgb(0,160,0)"/>
<rect x="370.9" y="451.2" width="22.4" height="22.1" fill="rgb(0,68,0)"/>
<rect x="392.7" y="451.2" width="22.4" height="22.1" fill="rgb(0,120,0)"/>
<rect x="414.5" y="451.2" width="22.4" height="22.1" fill="rgb(0,114,0)"/>
<rect x="436.4" y="451.2" width="22.4" height="22.1" fill="rgb(0,136,0)"/>
<rect x="458.2" y="451.2" width="22.4" height="22.1" fill="rgb(0,115,0)"/>
<rect x="480.0" y="451.2" width="22.4" height="22.1" fill="rgb(0,139,0)"/>
<rect x="501.9" y="451.2" width="22.4" height="22.1" fill="rgb(0,87,0)"/>
<rect x="523.7" y="451.2" width="22.4" height="22.1" fill="rgb(0,123,0)"/>
<rect x="545.5" y="451.2" width="22.4" height="22.1" fill="rgb(0,156,0)"/>
<rect x="567.4" y="451.2" width="22.4" height="22.1" fill="rgb(0,147,0)"/>
<rect x="589.2" y="451.2" width="22.4" height="22.1" fill="rgb(0,148,0)"/>
<rect x="611.0" y="451.2" width="22.4" height="22.1" fill="rgb(0,151,0)"/>
<rect x="632.9" y="451.2" width="22.4" height="22.1" fill="rgb(0,173,0)"/>
<rect x="654.7" y="451.2" width="22.4" height="22.1" fill="rgb(0,173,0)"/>
<rect x="-22.1" y="472.7" width="22.4" height="22.1" fill="rgb(0,69,0)"/>
<rect x="-0.3" y="472.7" width="22.4" height="22.1" fill="rgb(0,69,0)"/>
<rect x="21.5" y="472.7" width="22.4" height="22.1" fill="rgb(0,147,0)"/>
<rect x="43.4" y="472.7" width="22.4" height="22.1" fill="rgb(0,128,0)"/>
<rect x="65.2" y="472.7" width="22.4" height="22.1" fill="rgb(0,133,0)"/>
<rect x="87.0" y="472.7" width="22.4" height="22.1" fill="rgb(0,122,0)"/>
<rect x="108.9" y="472.7" width="22.4" height="22.1" fill="rgb(0,73,0)"/>
<rect x="130.7" y="472.7" width="22.4" height="22.1" fill="rgb(0,150,0)"/>
<rect x="152.5" y="472.7" width="22.4" height="22.1" fill="rgb(0,67,0)"/>
<rect x="174.4" y="472.7" width="22.4" height="22.1" fill="rgb(0,160,0)"/>
<rect x="196.2" y="472.7" width="22.4" height="22.1" fill="rgb(0,159,0)"/>
<rect x="218.0" y="472.7" width="22.4" height="22.1" fill="rgb(0,150,0)"/>
<rect x="239.9" y="472.7" width="22.4" height="22.1" fill="rgb(0,162,0)"/>
<rect x="261.7" y="472.7" width="22.4" height="22.1" fill="rgb(0,78,0)"/>
<rect x="283.5" y="472.7" width="22.4" height="22.1" fill="rgb(0,126,0)"/>
<rect x="305.4" y="472.7" width="22.4" height="22.1" fill="rgb(0,129,0)"/>
<rect x="327.2" y="472.7" width="22.4" height="22.1" fill="rgb(0,135,0)"/>
<rect x="349.0" y="472.7" width="22.4" height="22.1" fill="rgb(0,152,0)"/>
<rect x="370.9" y="472.7" width="22.4" height="22.1" fill="rgb(0,162,0)"/>
<rect x="392.7" y="472.7" width="22.4" height="22.1" fill="rgb(0,135,0)"/>
<rect x="414.5" y="472.7" width="22.4" height="22.1" fill="rgb(0,136,0)"/>
<rect x="436.4" y="472.7" width="22.4" height="22.1" fill="rgb(0,130,0)"/>
<rect x="458.2" y="472.7" width="22.4" height="22.1" fill="rgb(0,77,0)"/>
<rect x="480.0" y="472.7" width="22.4" height="22.1" fill="rgb(0,114,0)"/>
<rect x="501.9" y="472.7" width="22.4" height="22.1" fill="rgb(0,123,0)"/>
<rect x="523.7" y="472.7" width="22.4" height="22.1" fill="rgb(0,92,0)"/>
<rect x="545.5" y="472.7" width="22.4" height="22.1" fill="rgb(0,153,0)"/>
<rect x="567.4" y="472.7" width="22.4" height="22.1" fill="rgb(0,142,0)"/>
<rect x="589.2" y="472.7" width="22.4" height="22.1" fill="rgb(0,142,0)"/>
<rect x="611.0" y="472.7" width="22.4" height="22.1" fill="rgb(0,148,0)"/>
<rect x="632.9" y="472.7" width="22.4" height="22.1" fill="rgb(0,148,0)"/>
<rect x="654.7" y="472.7" width="22.4" height="22.1" fill="rgb(0,148,0)"/>
<rect x="-22.1" y="494.2" width="22.4" height="22.1" fill="rgb(0,153,0)"/>
<rect x="-0.3" y="494.2" width="22.4" height="22.1" fill="rgb(0,153,0)"/>
<rect x="21.5" y="494.2" width="22.4" height="22.1" fill="rgb(0,141,0)"/>
<rect x="43.4" y="494.2" width="22.4" height="22.1" fill="rgb(0,132,0)"/>
<rect x="65.2" y="494.2" width="22.4" height="22.1" fill="rgb(0,110,0)"/>
<rect x="87.0" y="494.2" width="22.4" height="22.1" fill="rgb(0,141,0)"/>
<rect x="108.9" y="494.2" width="22.4" height="22.1" fill="rgb(0,139,0)"/>
<rect x="130.7" y="494.2" width="22.4" height="22.1" fill="rgb(0,160,0)"/>
<rect x="152.5" y="494.2" width="22.4" height="22.1" fill="rgb(0,176,0)"/>
<rect x="174.4" y="494.2" width="22.4" height="22.1" fill="rgb(0,183,0)"/>
<rect x="196.2" y="494.2" width="22.4" height="22.1" fill="rgb(0,161,0)"/>
<rect x="218.0" y="494.2" width="22.4" height="22.1" fill="rgb(0,143,0)"/>
<rect x="239.9" y="494.2" width="22.4" height="22.1" fill="rgb(0,142,0)"/>
<rect x="261.7" y="494.2" width="22.4" height="22.1" fill="rgb(0,157,0)"/>
<rect x="283.5" y="494.2" width="22.4" height="22.1" fill="rgb(0,154,0)"/>
<rect x="305.4" y="494.2" width="22.4" height="22.1" fill="rgb(0,27,0)"/>
<rect x="327.2" y="494.2" width="22.4" height="22.1" fill="rgb(0,133,0)"/>
<rect x="349.0" y="494.2" width="22.4" height="22.1" fill="rgb(0,70,0)"/>
<rect x="370.9" y="494.2" width="22.4" height="22.1" fill="rgb(0,143,0)"/>
<rect x="392.7" y="494.2" width="22.4" height="22.1" fill="rgb(0,149,0)"/>
<rect x="414.5" y="494.2" width="22.4" height="22.1" fill="rgb(0,122,0)"/>
<rect x="436.4" y="494.2" width="22.4" height="22.1" fill="rgb(0,123,0)"/>
<rect x="458.2" y="494.2" width="22.4" height="22.1" fill="rgb(0,103,0)"/>
<rect x="480.0" y="494.2" width="22.4" height="22.1" fill="rgb(0,106,0)"/>
<rect x="501.9" y="494.2" width="22.4" height="22.1" fill="rgb(0,131,0)"/>
<rect x="523.7" y="494.2" width="22.4" height="22.1" fill="rgb(0,148,0)"/>
<rect x="545.5" y="494.2" width="22.4" height="22.1" fill="rgb(0,137,0)"/>
<rect x="567.4" y="494.2" width="22.4" height="22.1" fill="rgb(0,141,0)"/>
<rect x="589.2" y="494.2" width="22.4" height="22.1" fill="rgb(0,137,0)"/>
<rect x="611.0" y="494.2" width="22.4" height="22.1" fill="rgb(0,135,0)"/>
<rect x="632.9" y="494.2" width="22.4" height="22.1" fill="rgb(0,130,0)"/>
<rect x="654.7" y="494.2" width="22.4" height="22.1" fill="rgb(0,130,0)"/>
<rect x="-22.1" y="515.7" width="22.4" height="22.1" fill="rgb(0,116,0)"/>
<rect x="-0.3" y="515.7" width="22.4" height="22.1" fill="rgb(0,116,0)"/>
<rect x="21.5" y="515.7" width="22.4" height="22.1" fill="rgb(0,131,0)"/>
<rect x="43.4" y="515.7" width="22.4" height="22.1" fill="rgb(0,121,0)"/>
<rect x="65.2" y="515.7" width="22.4" height="22.1" fill="rgb(0,107,0)"/>
<rect x="87.0" y="515.7" width="22.4" height="22.1" fill="rgb(0,80,0)"/>
<rect x="108.9" y="515.7" width="22.4" height="22.1" fill="rgb(0,150,0)"/>
<rect x="130.7" y="515.7" width="22.4" height="22.1" fill="rgb(0,143,0)"/>
<rect x="152.5" y="515.7" width="22.4" height="22.1" fill="rgb(0,173,0)"/>
<rect x="174.4" y="515.7" width="22.4" height="22.1" fill="rgb(0,178,0)"/>
<rect x="196.2" y="515.7" width="22.4" height="22.1" fill="rgb(0,171,0)"/>
<rect x="218.0" y="515.7" width="22.4" height="22.1" fill="rgb(0,143,0)"/>
<rect x="239.9" y="515.7" width="22.4" height="22.1" fill="rgb(0,127,0)"/>
<rect x="261.7" y="515.7" width="22.4" height="22.1" fill="rgb(0,162,0)"/>
<rect x="283.5" y="515.7" width="22.4" height="22.1" fill="rgb(0,151,0)"/>
<rect x="305.4" y="515.7" width="22.4" height="22.1" fill="rgb(0,136,0)"/>
<rect x="327.2" y="515.7" width="22.4" height="22.1" fill="rgb(0,127,0)"/>
<rect x="349.0" y="515.7" width="22.4" height="22.1" fill="rgb(0,170,0)"/>
<rect x="370.9" y="515.7" width="22.4" height="22.1" fill="rgb(0,150,0)"/>
<rect x="392.7" y="515.7" width="22.4" height="22.1" fill="rgb(0,99,0)"/>
<rect x="414.5" y="515.7" width="22.4" height="22.1" fill="rgb(0,139,0)"/>
<rect x="436.4" y="515.7" width="22.4" height="22.1" fill="rgb(0,148,0)"/>
<rect x="458.2" y="515.7" width="22.4" height="22.1" fill="rgb(0,136,0)"/>
<rect x="480.0" y="515.7" width="22.4" height="22.1" fill="rgb(0,127,0)"/>
<rect x="501.9" y="515.7" width="22.4" height="22.1" fill="rgb(0,146,0)"/>
<rect x="523.7" y="515.7" width="22.4" height="22.1" fill="rgb(0,159,0)"/>
<rect x="545.5" y="515.7" width="22.4" height="22.1" fill="rgb(0,144,0)"/>
<rect x="567.4" y="515.7" width="22.4" height="22.1" fill="rgb(0,134,0)"/>
<rect x="589.2" y="515.7" width="22.4" height="22.1" fill="rgb(0,125,0)"/>
<rect x="611.0" y="515.7" width="22.4" height="22.1" fill="rgb(0,125,0)"/>
<rect x="632.9" y="515.7" width="22.4" height="22.1" fill="rgb(0,134,0)"/>
<rect x="654.7" y="515.7" width="22.4" height="22.1" fill="rgb(0,134,0)"/>
<rect x="-22.1" y="537.2" width="22.4" height="22.1" fill="rgb(0,128,0)"/>
<rect x="-0.3" y="537.2" width="22.4" height="22.1" fill="rgb(0,128,0)"/>
<rect x="21.5" y="537.2" width="22.4" height="22.1" fill="rgb(0,122,0)"/>
<rect x="43.4" y="537.2" width="22.4" height="22.1" fill="rgb(0,124,0)"/>
<rect x="65.2" y="537.2" width="22.4" height="22.1" fill="rgb(0,120,0)"/>
<rect x="87.0" y="537.2" width="22.4" height="22.1" fill="rgb(0,105,0)"/>
<rect x="108.9" y="537.2" width="22.4" height="22.1" fill="rgb(0,133,0)"/>
<rect x="130.7" y="537.2" width="22.4" height="22.1" fill="rgb(0,144,0)"/>
<rect x="152.5" y="537.2" width="22.4" height="22.1" fill="rgb(0,141,0)"/>
<rect x="174.4" y="537.2" width="22.4" height="22.1" fill="rgb(0,168,0)"/>
<rect x="196.2" y="537.2" width="22.4" height="22.1" fill="rgb(0,153,0)"/>
<rect x="218.0" y="537.2" width="22.4" height="22.1" fill="rgb(0,156,0)"/>
<rect x="239.9" y="537.2" width="22.4" height="22.1" fill="rgb(0,156,0)"/>
<rect x="261.7" y="537.2" width="22.4" height="22.1" fill="rgb(0,133,0)"/>
<rect x="283.5" y="537.2" width="22.4" height="22.1" fill="rgb(0,139,0)"/>
<rect x="305.4" y="537.2" width="22.4" height="22.1" fill="rgb(0,126,0)"/>
<rect x="327.2" y="537.2" width="22.4" height="22.1" fill="rgb(0,132,0)"/>
<rect x="349.0" y="537.2" width="22.4" height="22.1" fill="rgb(0,70,0)"/>
<rect x="370.9" y="537.2" width="22.4" height="22.1" fill="rgb(0,142,0)"/>
<rect x="392.7" y="537.2" width="22.4" height="22.1" fill="rgb(0,150,0)"/>
<rect x="414.5" y="537.2" width="22.4" height="22.1" fill="rgb(0,45,0)"/>
<rect x="436.4" y="537.2" width="22.4" height="22.1" fill="rgb(0,165,0)"/>
<rect x="458.2" y="537.2" width="22.4" height="22.1" fill="rgb(0,132,0)"/>
<rect x="480.0" y="537.2" width="22.4" height="22.1" fill="rgb(0,143,0)"/>
<rect x="501.9" y="537.2" width="22.4" height="22.1" fill="rgb(0,163,0)"/>
<rect x="523.7" y="537.2" width="22.4" height="22.1" fill="rgb(0,161,0)"/>
<rect x="545.5" y="537.2" width="22.4" height="22.1" fill="rgb(0,153,0)"/>
<rect x="567.4" y="537.2" width="22.4" height="22.1" fill="rgb(0,152,0)"/>
<rect x="589.2" y="537.2" width="22.4" height="22.1" fill="rgb(0,140,0)"/>
<rect x="611.0" y="537.2" width="22.4" height="22.1" fill="rgb(0,155,0)"/>
<rect x="632.9" y="537.2" width="22.4" height="22.1" fill="rgb(0,147,0)"/>
<rect x="654.7" y="537.2" width="22.4" height="22.1" fill="rgb(0,147,0)"/>
<rect x="-22.1" y="558.7" width="22.4" height="22.1" fill="rgb(0,151,0)"/>
<rect x="-0.3" y="558.7" width="22.4" height="22.1" fill="rgb(0,151,0)"/>
<rect x="21.5" y="558.7" width="22.4" height="22.1" fill="rgb(0,137,0)"/>
<rect x="43.4" y="558.7" width="22.4" height="22.1" fill="rgb(0,147,0)"/>
<rect x="65.2" y="558.7" width="22.4" height="22.1" fill="rgb(0,106,0)"/>
<rect x="87.0" y="558.7" width="22.4" height="22.1" fill="rgb(0,154,0)"/>
<rect x="108.9" y="558.7" width="22.4" height="22.1" fill="rgb(0,152,0)"/>
<rect x="130.7" y="558.7" width="22.4" height="22.1" fill="rgb(0,130,0)"/>
<rect x="152.5" y="558.7" width="22.4" height="22.1" fill="rgb(0,143,0)"/>
<rect x="174.4" y="558.7" width="22.4" height="22.1" fill="rgb(0,134,0)"/>
<rect x="196.2" y="558.7" width="22.4" height="22.1" fill="rgb(0,126,0)"/>
<rect x="218.0" y="558.7" width="22.4" height="22.1" fill="rgb(0,153,0)"/>
<rect x="239.9" y="558.7" width="22.4" height="22.1" fill="rgb(0,157,0)"/>
<rect x="261.7" y="558.7" width="22.4" height="22.1" fill="rgb(0,125,0)"/>
<rect x="283.5" y="558.7" width="22.4" height="22.1" fill="rgb(0,118,0)"/>
<rect x="305.4" y="558.7" width="22.4" height="22.1" fill="rgb(0,95,0)"/>
<rect x="327.2" y="558.7" width="22.4" height="22.1" fill="rgb(0,165,0)"/>
<rect x="349.0" y="558.7" width="22.4" height="22.1" fill="rgb(0,121,0)"/>
<rect x="370.9" y="558.7" width="22.4" height="22.1" fill="rgb(0,166,0)"/>
<rect x="392.7" y="558.7" width="22.4" height="22.1" fill="rgb(0,140,0)"/>
<rect x="414.5" y="558.7" width="22.4" height="22.1" fill="rgb(0,157,0)"/>
<rect x="436.4" y="558.7" width="22.4" height="22.1" fill="rgb(0,136,0)"/>
<rect x="458.2" y="558.7" width="22.4" height="22.1" fill="rgb(0,137,0)"/>
<rect x="480.0" y="558.7" width="22.4" height="22.1" fill="rgb(0,116,0)"/>
<rect x="501.9" y="558.7" width="22.4" height="22.1" fill="rgb(0,148,0)"/>
<rect x="523.7" y="558.7" width="22.4" height="22.1" fill="rgb(0,152,0)"/>
<rect x="545.5" y="558.7" width="22.4" height="22.1" fill="rgb(0,116,0)"/>
<rect x="567.4" y="558.7" width="22.4" height="22.1" fill="rgb(0,139,0)"/>
<rect x="589.2" y="558.7" width="22.4" height="22.1" fill="rgb(0,165,0)"/>
<rect x="611.0" y="558.7" width="22.4" height="22.1" fill="rgb(0,151,0)"/>
<rect x="632.9" y="558.7" width="22.4" height="22.1" fill="rgb(0,158,0)"/>
<rect x="654.7" y="558.7" width="22.4" height="22.1" fill="rgb(0,158,0)"/>
<rect x="-22.1" y="580.2" width="22.4" height="22.1" fill="rgb(0,181,0)"/>
<rect x="-0.3" y="580.2" width="22.4" height="22.1" fill="rgb(0,181,0)"/>
<rect x="21.5" y="580.2" width="22.4" height="22.1" fill="rgb(0,170,0)"/>
<rect x="43.4" y="580.2" width="22.4" height="22.1" fill="rgb(0,138,0)"/>
<rect x="65.2" y="580.2" width="22.4" height="22.1" fill="rgb(0,149,0)"/>
<rect x="87.0" y="580.2" width="22.4" height="22.1" fill="rgb(0,144,0)"/>
<rect x="108.9" y="580.2" width="22.4" height="22.1" fill="rgb(0,164,0)"/>
<rect x="130.7" y="580.2" width="22.4" height="22.1" fill="rgb(0,169,0)"/>
<rect x="152.5" y="580.2" width="22.4" height="22.1" fill="rgb(0,142,0)"/>
<rect x="174.4" y="580.2" width="22.4" height="22.1" fill="rgb(0,154,0)"/>
<rect x="196.2" y="580.2" width="22.4" height="22.1" fill="rgb(0,30,0)"/>
<rect x="218.0" y="580.2" width="22.4" height="22.1" fill="rgb(0,121,0)"/>
<rect x="239.9" y="580.2" width="22.4" height="22.1" fill="rgb(0,139,0)"/>
<rect x="261.7" y="580.2" width="22.4" height="22.1" fill="rgb(0,139,0)"/>
<rect x="283.5" y="580.2" width="22.4" height="22.1" fill="rgb(0,139,0)"/>
<rect x="305.4" y="580.2" width="22.4" height="22.1" fill="rgb(0,142,0)"/>
<rect x="327.2" y="580.2" width="22.4" height="22.1" fill="rgb(0,126,0)"/>
<rect x="349.0" y="580.2" width="22.4" height="22.1" fill="rgb(0,146,0)"/>
<rect x="370.9" y="580.2" width="22.4" height="22.1" fill="rgb(0,167,0)"/>
<rect x="392.7" y="580.2" width="22.4" height="22.1" fill="rgb(0,170,0)"/>
<rect x="414.5" y="580.2" width="22.4" height="22.1" fill="rgb(0,167,0)"/>
<rect x="436.4" y="580.2" width="22.4" height="22.1" fill="rgb(0,115,0)"/>
<rect x="458.2" y="580.2" width="22.4" height="22.1" fill="rgb(0,132,0)"/>
<rect x="480.0" y="580.2" width="22.4" height="22.1" fill="rgb(0,135,0)"/>
<rect x="501.9" y="580.2" width="22.4" height="22.1" fill="rgb(0,135,0)"/>
<rect x="523.7" y="580.2" width="22.4" height="22.1" fill="rgb(0,103,0)"/>
<rect x="545.5" y="580.2" width="22.4" height="22.1" fill="rgb(0,155,0)"/>
<rect x="567.4" y="580.2" width="22.4" height="22.1" fill="rgb(0,137,0)"/>
<rect x="589.2" y="580.2" width="22.4" height="22.1" fill="rgb(0,140,0)"/>
<rect x="611.0" y="580.2" width="22.4" height="22.1" fill="rgb(0,137,0)"/>
<rect x="632.9" y="580.2" width="22.4" height="22.1" fill="rgb(0,116,0)"/>
<rect x="654.7" y="580.2" width="22.4" height="22.1" fill="rgb(0,116,0)"/>
<rect x="-22.1" y="601.7" width="22.4" height="22.1" fill="rgb(0,158,0)"/>
<rect x="-0.3" y="601.7" width="22.4" height="22.1" fill="rgb(0,158,0)"/>
<rect x="21.5" y="601.7" width="22.4" height="22.1" fill="rgb(0,169,0)"/>
<rect x="43.4" y="601.7" width="22.4" height="22.1" fill="rgb(0,140,0)"/>
<rect x="65.2" y="601.7" width="22.4" height="22.1" fill="rgb(0,108,0)"/>
<rect x="87.0" y="601.7" width="22.4" height="22.1" fill="rgb(0,126,0)"/>
<rect x="108.9" y="601.7" width="22.4" height="22.1" fill="rgb(0,148,0)"/>
<rect x="130.7" y="601.7" width="22.4" height="22.1" fill="rgb(0,136,0)"/>
<rect x="152.5" y="601.7" width="22.4" height="22.1" fill="rgb(0,154,0)"/>
<rect x="174.4" y="601.7" width="22.4" height="22.1" fill="rgb(0,151,0)"/>
<rect x="196.2" y="601.7" width="22.4" height="22.1" fill="rgb(0,105,0)"/>
<rect x="218.0" y="601.7" width="22.4" height="22.1" fill="rgb(0,64,0)"/>
<rect x="239.9" y="601.7" width="22.4" height="22.1" fill="rgb(0,140,0)"/>
<rect x="261.7" y="601.7" width="22.4" height="22.1" fill="rgb(0,133,0)"/>
<rect x="283.5" y="601.7" width="22.4" height="22.1" fill="rgb(0,140,0)"/>
<rect x="305.4" y="601.7" width="22.4" height="22.1" fill="rgb(0,148,0)"/>
<rect x="327.2" y="601.7" width="22.4" height="22.1" fill="rgb(0,145,0)"/>
<rect x="349.0" y="601.7" width="22.4" height="22.1" fill="rgb(0,73,0)"/>
<rect x="370.9" y="601.7" width="22.4" height="22.1" fill="rgb(0,134,0)"/>
<rect x="392.7" y="601.7" width="22.4" height="22.1" fill="rgb(0,175,0)"/>
<rect x="414.5" y="601.7" width="22.4" height="22.1" fill="rgb(0,139,0)"/>
<rect x="436.4" y="601.7" width="22.4" height="22.1" fill="rgb(0,145,0)"/>
<rect x="458.2" y="601.7" width="22.4" height="22.1" fill="rgb(0,137,0)"/>
<rect x="480.0" y="601.7" width="22.4" height="22.1" fill="rgb(0,135,0)"/>
<rect x="501.9" y="601.7" width="22.4" height="22.1" fill="rgb(0,128,0)"/>
<rect x="523.7" y="601.7" width="22.4" height="22.1" fill="rgb(0,148,0)"/>
<rect x="545.5" y="601.7" width="22.4" height="22.1" fill="rgb(0,152,0)"/>
<rect x="567.4" y="601.7" width="22.4" height="22.1" fill="rgb(0,143,0)"/>
<rect x="589.2" y="601.7" width="22.4" height="22.1" fill="rgb(0,129,0)"/>
<rect x="611.0" y="601.7" width="22.4" height="22.1" fill="rgb(0,111,0)"/>
<rect x="632.9" y="601.7" width="22.4" height="22.1" fill="rgb(0,120,0)"/>
<rect x="654.7" y="601.7" width="22.4" height="22.1" fill="rgb(0,120,0)"/>
<rect x="-22.1" y="623.2" width="22.4" height="22.1" fill="rgb(0,168,0)"/>
<rect x="-0.3" y="623.2" width="22.4" height="22.1" fill="rgb(0,168,0)"/>
<rect x="21.5" y="623.2" width="22.4" height="22.1" fill="rgb(0,153,0)"/>
<rect x="43.4" y="623.2" width="22.4" height="22.1" fill="rgb(0,150,0)"/>
<rect x="65.2" y="623.2" width="22.4" height="22.1" fill="rgb(0,97,0)"/>
<rect x="87.0" y="623.2" width="22.4" height="22.1" fill="rgb(0,106,0)"/>
<rect x="108.9" y="623.2" width="22.4" height="22.1" fill="rgb(0,117,0)"/>
<rect x="130.7" y="623.2" width="22.4" height="22.1" fill="rgb(0,135,0)"/>
<rect x="152.5" y="623.2" width="22.4" height="22.1" fill="rgb(0,121,0)"/>
<rect x="174.4" y="623.2" width="22.4" height="22.1" fill="rgb(0,61,0)"/>
<rect x="196.2" y="623.2" width="22.4" height="22.1" fill="rgb(0,135,0)"/>
<rect x="218.0" y="623.2" width="22.4" height="22.1" fill="rgb(0,106,0)"/>
<rect x="239.9" y="623.2" width="22.4" height="22.1" fill="rgb(0,122,0)"/>
<rect x="261.7" y="623.2" width="22.4" height="22.1" fill="rgb(0,133,0)"/>
<rect x="283.5" y="623.2" width="22.4" height="22.1" fill="rgb(0,157,0)"/>
<rect x="305.4" y="623.2" width="22.4" height="22.1" fill="rgb(0,158,0)"/>
<rect x="327.2" y="623.2" width="22.4" height="22.1" fill="rgb(0,134,0)"/>
<rect x="349.0" y="623.2" width="22.4" height="22.1" fill="rgb(0,157,0)"/>
<rect x="370.9" y="623.2" width="22.4" height="22.1" fill="rgb(0,169,0)"/>
<rect x="392.7" y="623.2" width="22.4" height="22.1" fill="rgb(0,164,0)"/>
<rect x="414.5" y="623.2" width="22.4" height="22.1" fill="rgb(0,26,0)"/>
<rect x="436.4" y="623.2" width="22.4" height="22.1" fill="rgb(0,138,0)"/>
<rect x="458.2" y="623.2" width="22.4" height="22.1" fill="rgb(0,124,0)"/>
<rect x="480.0" y="623.2" width="22.4" height="22.1" fill="rgb(0,121,0)"/>
<rect x="501.9" y="623.2" width="22.4" height="22.1" fill="rgb(0,159,0)"/>
<rect x="523.7" y="623.2" width="22.4" height="22.1" fill="rgb(0,163,0)"/>
<rect x="545.5" y="623.2" width="22.4" height="22.1" fill="rgb(0,159,0)"/>
<rect x="567.4" y="623.2" width="22.4" height="22.1" fill="rgb(0,142,0)"/>
<rect x="589.2" y="623.2" width="22.4" height="22.1" fill="rgb(0,136,0)"/>
<rect x="611.0" y="623.2" width="22.4" height="22.1" fill="rgb(0,130,0)"/>
<rect x="632.9" y="623.2" width="22.4" height="22.1" fill="rgb(0,108,0)"/>
<rect x="654.7" y="623.2" width="22.4" height="22.1" fill="rgb(0,108,0)"/>
<rect x="-22.1" y="644.7" width="22.4" height="22.1" fill="rgb(0,168,0)"/>
<rect x="-0.3" y="644.7" width="22.4" height="22.1" fill="rgb(0,168,0)"/>
<rect x="21.5" y="644.7" width="22.4" height="22.1" fill="rgb(0,153,0)"/>
<rect x="43.4" y="644.7" width="22.4" height="22.1" fill="rgb(0,150,0)"/>
<rect x="65.2" y="644.7" width="22.4" height="22.1" fill="rgb(0,97,0)"/>
<rect x="87.0" y="644.7" width="22.4" height="22.1" fill="rgb(0,106,0)"/>
<rect x="108.9" y="644.7" width="22.4" height="22.1" fill="rgb(0,117,0)"/>
<rect x="130.7" y="644.7" width="22.4" height="22.1" fill="rgb(0,135,0)"/>
<rect x="152.5" y="644.7" width="22.4" height="22.1" fill="rgb(0,121,0)"/>
<rect x="174.4" y="644.7" width="22.4" height="22.1" fill="rgb(0,61,0)"/>
<rect x="196.2" y="644.7" width="22.4" height="22.1" fill="rgb(0,135,0)"/>
<rect x="218.0" y="644.7" width="22.4" height="22.1" fill="rgb(0,106,0)"/>
<rect x="239.9" y="644.7" width="22.4" height="22.1" fill="rgb(0,122,0)"/>
<rect x="261.7" y="644.7" width="22.4" height="22.1" fill="rgb(0,133,0)"/>
<rect x="283.5" y="644.7" width="22.4" height="22.1" fill="rgb(0,157,0)"/>
<rect x="305.4" y="644.7" width="22.4" height="22.1" fill="rgb(0,158,0)"/>
<rect x="327.2" y="644.7" width="22.4" height="22.1" fill="rgb(0,134,0)"/>
<rect x="349.0" y="644.7" width="22.4" height="22.1" fill="rgb(0,157,0)"/>
<rect x="370.9" y="644.7" width="22.4" height="22.1" fill="rgb(0,169,0)"/>
<rect x="392.7" y="644.7" width="22.4" height="22.1" fill="rgb(0,164,0)"/>
<rect x="414.5" y="644.7" width="22.4" height="22.1" fill="rgb(0,26,0)"/>
<rect x="436.4" y="644.7" width="22.4" height="22.1" fill="rgb(0,138,0)"/>
<rect x="458.2" y="644.7" width="22.4" height="22.1" fill="rgb(0,124,0)"/>
<rect x="480.0" y="644.7" width="22.4" height="22.1" fill="rgb(0,121,0)"/>
<rect x="501.9" y="644.7" width="22.4" height="22.1" fill="rgb(0,159,0)"/>
<rect x="523.7" y="644.7" width="22.4" height="22.1" fill="rgb(0,163,0)"/>
<rect x="545.5" y="644.7" width="22.4" height="22.1" fill="rgb(0,159,0)"/>
<rect x="567.4" y="644.7" width="22.4" height="22.1" fill="rgb(0,142,0)"/>
<rect x="589.2" y="644.7" width="22.4" height="22.1" fill="rgb(0,136,0)"/>
<rect x="611.0" y="644.7" width="22.4" height="22.1" fill="rgb(0,130,0)"/>
<rect x="632.9" y="644.7" width="22.4" height="22.1" fill="rgb(0,108,0)"/>
<rect x="654.7" y="644.7" width="22.4" height="22.1" fill="rgb(0,108,0)"/>
</g></svg>
<rect x="840.75" y="853.75" width="54.25" height="52.25" fill="#fff" stroke="#444" stroke-width="3.5"/>
<text id="t_lab_d" x="852.0" y="897.5" font-size="52.0" font-weight="bold" fill="#111"  textLength="33.1" lengthAdjust="spacingAndGlyphs">d</text>
<text id="t_wn_d" x="851.5" y="998.5" font-size="45.0" font-weight="bold" fill="#f2f2f2"  textLength="214.1" lengthAdjust="spacingAndGlyphs">1022 cm<tspan dy="-16.2" font-size="27.9">−1</tspan></text>
<rect x="1345" y="1403" width="142" height="87" fill="#fff"/>
<rect x="1372" y="1411" width="91" height="18" fill="#000"/>
<text id="t_sb_d" x="1358.0" y="1471.4" font-size="41.2" font-weight="bold" fill="#000"  textLength="119.7" lengthAdjust="spacingAndGlyphs">10 μm</text>
<rect x="1515.5" y="855" width="4.6" height="642" fill="url(#cbR)"/>
<rect x="1520.1" y="855" width="6.8" height="642" fill="url(#cbG)"/>
<rect x="1526.9" y="855" width="3.8" height="642" fill="url(#cbB)"/>
<text id="t_cb_d0" x="1535.5" y="1497.5" font-size="34.3" font-weight="bold" fill="#222"  textLength="17.5" lengthAdjust="spacingAndGlyphs">0</text>
<text id="t_cb_d200" x="1535.5" y="1341.0" font-size="34.3" font-weight="bold" fill="#222"  textLength="54.1" lengthAdjust="spacingAndGlyphs">200</text>
<text id="t_cb_d400" x="1536.5" y="1184.6" font-size="34.3" font-weight="bold" fill="#222"  textLength="53.1" lengthAdjust="spacingAndGlyphs">400</text>
<text id="t_cb_d600" x="1535.5" y="1028.2" font-size="34.3" font-weight="bold" fill="#222"  textLength="54.1" lengthAdjust="spacingAndGlyphs">600</text>
<text id="t_cb_d800" x="1535.5" y="871.7" font-size="34.3" font-weight="bold" fill="#222"  textLength="54.1" lengthAdjust="spacingAndGlyphs">800</text>
<rect x="1640" y="856" width="663" height="647" fill="#c0c0c0"/>
<rect x="1640" y="856" width="660" height="644" fill="#2a2a2a"/>
<rect x="1643" y="859" width="657" height="641" fill="#000"/>
<svg x="1643" y="859" width="657" height="641" overflow="hidden"><g filter="url(#blur2)">
<rect x="-22.2" y="-21.7" width="22.5" height="22.0" fill="#000"/>
<rect x="-0.3" y="-21.7" width="22.5" height="22.0" fill="#000"/>
<rect x="21.6" y="-21.7" width="22.5" height="22.0" fill="#000"/>
<rect x="43.5" y="-21.7" width="22.5" height="22.0" fill="#000"/>
<rect x="65.4" y="-21.7" width="22.5" height="22.0" fill="#000"/>
<rect x="87.3" y="-21.7" width="22.5" height="22.0" fill="#000"/>
<rect x="109.2" y="-21.7" width="22.5" height="22.0" fill="#000"/>
<rect x="131.1" y="-21.7" width="22.5" height="22.0" fill="#000"/>
<rect x="153.0" y="-21.7" width="22.5" height="22.0" fill="#000"/>
<rect x="174.9" y="-21.7" width="22.5" height="22.0" fill="#000"/>
<rect x="196.8" y="-21.7" width="22.5" height="22.0" fill="#000"/>
<rect x="218.7" y="-21.7" width="22.5" height="22.0" fill="#000"/>
<rect x="240.6" y="-21.7" width="22.5" height="22.0" fill="#000"/>
<rect x="262.5" y="-21.7" width="22.5" height="22.0" fill="#000"/>
<rect x="284.4" y="-21.7" width="22.5" height="22.0" fill="#000"/>
<rect x="306.3" y="-21.7" width="22.5" height="22.0" fill="#000"/>
<rect x="328.2" y="-21.7" width="22.5" height="22.0" fill="#000"/>
<rect x="350.1" y="-21.7" width="22.5" height="22.0" fill="#000"/>
<rect x="372.0" y="-21.7" width="22.5" height="22.0" fill="#000"/>
<rect x="393.9" y="-21.7" width="22.5" height="22.0" fill="#000"/>
<rect x="415.8" y="-21.7" width="22.5" height="22.0" fill="#000"/>
<rect x="437.7" y="-21.7" width="22.5" height="22.0" fill="#000"/>
<rect x="459.6" y="-21.7" width="22.5" height="22.0" fill="#000"/>
<rect x="481.5" y="-21.7" width="22.5" height="22.0" fill="#000"/>
<rect x="503.4" y="-21.7" width="22.5" height="22.0" fill="#000"/>
<rect x="525.3" y="-21.7" width="22.5" height="22.0" fill="#000"/>
<rect x="547.2" y="-21.7" width="22.5" height="22.0" fill="#000"/>
<rect x="569.1" y="-21.7" width="22.5" height="22.0" fill="#000"/>
<rect x="591.0" y="-21.7" width="22.5" height="22.0" fill="#000"/>
<rect x="612.9" y="-21.7" width="22.5" height="22.0" fill="#000"/>
<rect x="634.8" y="-21.7" width="22.5" height="22.0" fill="#000"/>
<rect x="656.7" y="-21.7" width="22.5" height="22.0" fill="#000"/>
<rect x="-22.2" y="-0.3" width="22.5" height="22.0" fill="#000"/>
<rect x="-0.3" y="-0.3" width="22.5" height="22.0" fill="#000"/>
<rect x="21.6" y="-0.3" width="22.5" height="22.0" fill="#000"/>
<rect x="43.5" y="-0.3" width="22.5" height="22.0" fill="#000"/>
<rect x="65.4" y="-0.3" width="22.5" height="22.0" fill="#000"/>
<rect x="87.3" y="-0.3" width="22.5" height="22.0" fill="#000"/>
<rect x="109.2" y="-0.3" width="22.5" height="22.0" fill="#000"/>
<rect x="131.1" y="-0.3" width="22.5" height="22.0" fill="#000"/>
<rect x="153.0" y="-0.3" width="22.5" height="22.0" fill="#000"/>
<rect x="174.9" y="-0.3" width="22.5" height="22.0" fill="#000"/>
<rect x="196.8" y="-0.3" width="22.5" height="22.0" fill="#000"/>
<rect x="218.7" y="-0.3" width="22.5" height="22.0" fill="#000"/>
<rect x="240.6" y="-0.3" width="22.5" height="22.0" fill="#000"/>
<rect x="262.5" y="-0.3" width="22.5" height="22.0" fill="#000"/>
<rect x="284.4" y="-0.3" width="22.5" height="22.0" fill="#000"/>
<rect x="306.3" y="-0.3" width="22.5" height="22.0" fill="#000"/>
<rect x="328.2" y="-0.3" width="22.5" height="22.0" fill="#000"/>
<rect x="350.1" y="-0.3" width="22.5" height="22.0" fill="#000"/>
<rect x="372.0" y="-0.3" width="22.5" height="22.0" fill="#000"/>
<rect x="393.9" y="-0.3" width="22.5" height="22.0" fill="#000"/>
<rect x="415.8" y="-0.3" width="22.5" height="22.0" fill="#000"/>
<rect x="437.7" y="-0.3" width="22.5" height="22.0" fill="#000"/>
<rect x="459.6" y="-0.3" width="22.5" height="22.0" fill="#000"/>
<rect x="481.5" y="-0.3" width="22.5" height="22.0" fill="#000"/>
<rect x="503.4" y="-0.3" width="22.5" height="22.0" fill="#000"/>
<rect x="525.3" y="-0.3" width="22.5" height="22.0" fill="#000"/>
<rect x="547.2" y="-0.3" width="22.5" height="22.0" fill="#000"/>
<rect x="569.1" y="-0.3" width="22.5" height="22.0" fill="#000"/>
<rect x="591.0" y="-0.3" width="22.5" height="22.0" fill="#000"/>
<rect x="612.9" y="-0.3" width="22.5" height="22.0" fill="#000"/>
<rect x="634.8" y="-0.3" width="22.5" height="22.0" fill="#000"/>
<rect x="656.7" y="-0.3" width="22.5" height="22.0" fill="#000"/>
<rect x="-22.2" y="21.1" width="22.5" height="22.0" fill="#000"/>
<rect x="-0.3" y="21.1" width="22.5" height="22.0" fill="#000"/>
<rect x="21.6" y="21.1" width="22.5" height="22.0" fill="#000"/>
<rect x="43.5" y="21.1" width="22.5" height="22.0" fill="#000"/>
<rect x="65.4" y="21.1" width="22.5" height="22.0" fill="#000"/>
<rect x="87.3" y="21.1" width="22.5" height="22.0" fill="#000"/>
<rect x="109.2" y="21.1" width="22.5" height="22.0" fill="#000"/>
<rect x="131.1" y="21.1" width="22.5" height="22.0" fill="#000"/>
<rect x="153.0" y="21.1" width="22.5" height="22.0" fill="#000"/>
<rect x="174.9" y="21.1" width="22.5" height="22.0" fill="#000"/>
<rect x="196.8" y="21.1" width="22.5" height="22.0" fill="#000"/>
<rect x="218.7" y="21.1" width="22.5" height="22.0" fill="#000"/>
<rect x="240.6" y="21.1" width="22.5" height="22.0" fill="#000"/>
<rect x="262.5" y="21.1" width="22.5" height="22.0" fill="#000"/>
<rect x="284.4" y="21.1" width="22.5" height="22.0" fill="#000"/>
<rect x="306.3" y="21.1" width="22.5" height="22.0" fill="#000"/>
<rect x="328.2" y="21.1" width="22.5" height="22.0" fill="#000"/>
<rect x="350.1" y="21.1" width="22.5" height="22.0" fill="#000"/>
<rect x="372.0" y="21.1" width="22.5" height="22.0" fill="#000"/>
<rect x="393.9" y="21.1" width="22.5" height="22.0" fill="#000"/>
<rect x="415.8" y="21.1" width="22.5" height="22.0" fill="#000"/>
<rect x="437.7" y="21.1" width="22.5" height="22.0" fill="#000"/>
<rect x="459.6" y="21.1" width="22.5" height="22.0" fill="#000"/>
<rect x="481.5" y="21.1" width="22.5" height="22.0" fill="#000"/>
<rect x="503.4" y="21.1" width="22.5" height="22.0" fill="#000"/>
<rect x="525.3" y="21.1" width="22.5" height="22.0" fill="#000"/>
<rect x="547.2" y="21.1" width="22.5" height="22.0" fill="#000"/>
<rect x="569.1" y="21.1" width="22.5" height="22.0" fill="#000"/>
<rect x="591.0" y="21.1" width="22.5" height="22.0" fill="#000"/>
<rect x="612.9" y="21.1" width="22.5" height="22.0" fill="#000"/>
<rect x="634.8" y="21.1" width="22.5" height="22.0" fill="#000"/>
<rect x="656.7" y="21.1" width="22.5" height="22.0" fill="#000"/>
<rect x="-22.2" y="42.4" width="22.5" height="22.0" fill="#000"/>
<rect x="-0.3" y="42.4" width="22.5" height="22.0" fill="#000"/>
<rect x="21.6" y="42.4" width="22.5" height="22.0" fill="#000"/>
<rect x="43.5" y="42.4" width="22.5" height="22.0" fill="#000"/>
<rect x="65.4" y="42.4" width="22.5" height="22.0" fill="#000"/>
<rect x="87.3" y="42.4" width="22.5" height="22.0" fill="#000"/>
<rect x="109.2" y="42.4" width="22.5" height="22.0" fill="#000"/>
<rect x="131.1" y="42.4" width="22.5" height="22.0" fill="#000"/>
<rect x="153.0" y="42.4" width="22.5" height="22.0" fill="#000"/>
<rect x="174.9" y="42.4" width="22.5" height="22.0" fill="#000"/>
<rect x="196.8" y="42.4" width="22.5" height="22.0" fill="#000"/>
<rect x="218.7" y="42.4" width="22.5" height="22.0" fill="#000"/>
<rect x="240.6" y="42.4" width="22.5" height="22.0" fill="#000"/>
<rect x="262.5" y="42.4" width="22.5" height="22.0" fill="#000"/>
<rect x="284.4" y="42.4" width="22.5" height="22.0" fill="#000"/>
<rect x="306.3" y="42.4" width="22.5" height="22.0" fill="#000"/>
<rect x="328.2" y="42.4" width="22.5" height="22.0" fill="#000"/>
<rect x="350.1" y="42.4" width="22.5" height="22.0" fill="#000"/>
<rect x="372.0" y="42.4" width="22.5" height="22.0" fill="#000"/>
<rect x="393.9" y="42.4" width="22.5" height="22.0" fill="#000"/>
<rect x="415.8" y="42.4" width="22.5" height="22.0" fill="#000"/>
<rect x="437.7" y="42.4" width="22.5" height="22.0" fill="#000"/>
<rect x="459.6" y="42.4" width="22.5" height="22.0" fill="#000"/>
<rect x="481.5" y="42.4" width="22.5" height="22.0" fill="#000"/>
<rect x="503.4" y="42.4" width="22.5" height="22.0" fill="#000"/>
<rect x="525.3" y="42.4" width="22.5" height="22.0" fill="#000"/>
<rect x="547.2" y="42.4" width="22.5" height="22.0" fill="#000"/>
<rect x="569.1" y="42.4" width="22.5" height="22.0" fill="#000"/>
<rect x="591.0" y="42.4" width="22.5" height="22.0" fill="#000"/>
<rect x="612.9" y="42.4" width="22.5" height="22.0" fill="#000"/>
<rect x="634.8" y="42.4" width="22.5" height="22.0" fill="#000"/>
<rect x="656.7" y="42.4" width="22.5" height="22.0" fill="#000"/>
<rect x="-22.2" y="63.8" width="22.5" height="22.0" fill="#000"/>
<rect x="-0.3" y="63.8" width="22.5" height="22.0" fill="#000"/>
<rect x="21.6" y="63.8" width="22.5" height="22.0" fill="#000"/>
<rect x="43.5" y="63.8" width="22.5" height="22.0" fill="#000"/>
<rect x="65.4" y="63.8" width="22.5" height="22.0" fill="#000"/>
<rect x="87.3" y="63.8" width="22.5" height="22.0" fill="#000"/>
<rect x="109.2" y="63.8" width="22.5" height="22.0" fill="#000"/>
<rect x="131.1" y="63.8" width="22.5" height="22.0" fill="#000"/>
<rect x="153.0" y="63.8" width="22.5" height="22.0" fill="#000"/>
<rect x="174.9" y="63.8" width="22.5" height="22.0" fill="#000"/>
<rect x="196.8" y="63.8" width="22.5" height="22.0" fill="#000"/>
<rect x="218.7" y="63.8" width="22.5" height="22.0" fill="#000"/>
<rect x="240.6" y="63.8" width="22.5" height="22.0" fill="#000"/>
<rect x="262.5" y="63.8" width="22.5" height="22.0" fill="#000"/>
<rect x="284.4" y="63.8" width="22.5" height="22.0" fill="#000"/>
<rect x="306.3" y="63.8" width="22.5" height="22.0" fill="#000"/>
<rect x="328.2" y="63.8" width="22.5" height="22.0" fill="#000"/>
<rect x="350.1" y="63.8" width="22.5" height="22.0" fill="#000"/>
<rect x="372.0" y="63.8" width="22.5" height="22.0" fill="#000"/>
<rect x="393.9" y="63.8" width="22.5" height="22.0" fill="#000"/>
<rect x="415.8" y="63.8" width="22.5" height="22.0" fill="#000"/>
<rect x="437.7" y="63.8" width="22.5" height="22.0" fill="#000"/>
<rect x="459.6" y="63.8" width="22.5" height="22.0" fill="#000"/>
<rect x="481.5" y="63.8" width="22.5" height="22.0" fill="#000"/>
<rect x="503.4" y="63.8" width="22.5" height="22.0" fill="#000"/>
<rect x="525.3" y="63.8" width="22.5" height="22.0" fill="#000"/>
<rect x="547.2" y="63.8" width="22.5" height="22.0" fill="#000"/>
<rect x="569.1" y="63.8" width="22.5" height="22.0" fill="#000"/>
<rect x="591.0" y="63.8" width="22.5" height="22.0" fill="#000"/>
<rect x="612.9" y="63.8" width="22.5" height="22.0" fill="#000"/>
<rect x="634.8" y="63.8" width="22.5" height="22.0" fill="#000"/>
<rect x="656.7" y="63.8" width="22.5" height="22.0" fill="#000"/>
<rect x="-22.2" y="85.2" width="22.5" height="22.0" fill="#000"/>
<rect x="-0.3" y="85.2" width="22.5" height="22.0" fill="#000"/>
<rect x="21.6" y="85.2" width="22.5" height="22.0" fill="#000"/>
<rect x="43.5" y="85.2" width="22.5" height="22.0" fill="#000"/>
<rect x="65.4" y="85.2" width="22.5" height="22.0" fill="#000"/>
<rect x="87.3" y="85.2" width="22.5" height="22.0" fill="#000"/>
<rect x="109.2" y="85.2" width="22.5" height="22.0" fill="#000"/>
<rect x="131.1" y="85.2" width="22.5" height="22.0" fill="#000"/>
<rect x="153.0" y="85.2" width="22.5" height="22.0" fill="#000"/>
<rect x="174.9" y="85.2" width="22.5" height="22.0" fill="#000"/>
<rect x="196.8" y="85.2" width="22.5" height="22.0" fill="#000"/>
<rect x="218.7" y="85.2" width="22.5" height="22.0" fill="#000"/>
<rect x="240.6" y="85.2" width="22.5" height="22.0" fill="#000"/>
<rect x="262.5" y="85.2" width="22.5" height="22.0" fill="#000"/>
<rect x="284.4" y="85.2" width="22.5" height="22.0" fill="#000"/>
<rect x="306.3" y="85.2" width="22.5" height="22.0" fill="#000"/>
<rect x="328.2" y="85.2" width="22.5" height="22.0" fill="#000"/>
<rect x="350.1" y="85.2" width="22.5" height="22.0" fill="#000"/>
<rect x="372.0" y="85.2" width="22.5" height="22.0" fill="#000"/>
<rect x="393.9" y="85.2" width="22.5" height="22.0" fill="#000"/>
<rect x="415.8" y="85.2" width="22.5" height="22.0" fill="#000"/>
<rect x="437.7" y="85.2" width="22.5" height="22.0" fill="#000"/>
<rect x="459.6" y="85.2" width="22.5" height="22.0" fill="#000"/>
<rect x="481.5" y="85.2" width="22.5" height="22.0" fill="#000"/>
<rect x="503.4" y="85.2" width="22.5" height="22.0" fill="#000"/>
<rect x="525.3" y="85.2" width="22.5" height="22.0" fill="#000"/>
<rect x="547.2" y="85.2" width="22.5" height="22.0" fill="#000"/>
<rect x="569.1" y="85.2" width="22.5" height="22.0" fill="#000"/>
<rect x="591.0" y="85.2" width="22.5" height="22.0" fill="#000"/>
<rect x="612.9" y="85.2" width="22.5" height="22.0" fill="#000"/>
<rect x="634.8" y="85.2" width="22.5" height="22.0" fill="#000"/>
<rect x="656.7" y="85.2" width="22.5" height="22.0" fill="#000"/>
<rect x="-22.2" y="106.5" width="22.5" height="22.0" fill="#000"/>
<rect x="-0.3" y="106.5" width="22.5" height="22.0" fill="#000"/>
<rect x="21.6" y="106.5" width="22.5" height="22.0" fill="#000"/>
<rect x="43.5" y="106.5" width="22.5" height="22.0" fill="#000"/>
<rect x="65.4" y="106.5" width="22.5" height="22.0" fill="#000"/>
<rect x="87.3" y="106.5" width="22.5" height="22.0" fill="#000"/>
<rect x="109.2" y="106.5" width="22.5" height="22.0" fill="#000"/>
<rect x="131.1" y="106.5" width="22.5" height="22.0" fill="#000"/>
<rect x="153.0" y="106.5" width="22.5" height="22.0" fill="#000"/>
<rect x="174.9" y="106.5" width="22.5" height="22.0" fill="#000"/>
<rect x="196.8" y="106.5" width="22.5" height="22.0" fill="#000"/>
<rect x="218.7" y="106.5" width="22.5" height="22.0" fill="#000"/>
<rect x="240.6" y="106.5" width="22.5" height="22.0" fill="#000"/>
<rect x="262.5" y="106.5" width="22.5" height="22.0" fill="#000"/>
<rect x="284.4" y="106.5" width="22.5" height="22.0" fill="#000"/>
<rect x="306.3" y="106.5" width="22.5" height="22.0" fill="#000"/>
<rect x="328.2" y="106.5" width="22.5" height="22.0" fill="#000"/>
<rect x="350.1" y="106.5" width="22.5" height="22.0" fill="#000"/>
<rect x="372.0" y="106.5" width="22.5" height="22.0" fill="#000"/>
<rect x="393.9" y="106.5" width="22.5" height="22.0" fill="#000"/>
<rect x="415.8" y="106.5" width="22.5" height="22.0" fill="#000"/>
<rect x="437.7" y="106.5" width="22.5" height="22.0" fill="#000"/>
<rect x="459.6" y="106.5" width="22.5" height="22.0" fill="#000"/>
<rect x="481.5" y="106.5" width="22.5" height="22.0" fill="#000"/>
<rect x="503.4" y="106.5" width="22.5" height="22.0" fill="#000"/>
<rect x="525.3" y="106.5" width="22.5" height="22.0" fill="#000"/>
<rect x="547.2" y="106.5" width="22.5" height="22.0" fill="#000"/>
<rect x="569.1" y="106.5" width="22.5" height="22.0" fill="#000"/>
<rect x="591.0" y="106.5" width="22.5" height="22.0" fill="#000"/>
<rect x="612.9" y="106.5" width="22.5" height="22.0" fill="#000"/>
<rect x="634.8" y="106.5" width="22.5" height="22.0" fill="#000"/>
<rect x="656.7" y="106.5" width="22.5" height="22.0" fill="#000"/>
<rect x="-22.2" y="127.9" width="22.5" height="22.0" fill="#000"/>
<rect x="-0.3" y="127.9" width="22.5" height="22.0" fill="#000"/>
<rect x="21.6" y="127.9" width="22.5" height="22.0" fill="#000"/>
<rect x="43.5" y="127.9" width="22.5" height="22.0" fill="#000"/>
<rect x="65.4" y="127.9" width="22.5" height="22.0" fill="#000"/>
<rect x="87.3" y="127.9" width="22.5" height="22.0" fill="#000"/>
<rect x="109.2" y="127.9" width="22.5" height="22.0" fill="#000"/>
<rect x="131.1" y="127.9" width="22.5" height="22.0" fill="#000"/>
<rect x="153.0" y="127.9" width="22.5" height="22.0" fill="#000"/>
<rect x="174.9" y="127.9" width="22.5" height="22.0" fill="#000"/>
<rect x="196.8" y="127.9" width="22.5" height="22.0" fill="#000"/>
<rect x="218.7" y="127.9" width="22.5" height="22.0" fill="#000"/>
<rect x="240.6" y="127.9" width="22.5" height="22.0" fill="#000"/>
<rect x="262.5" y="127.9" width="22.5" height="22.0" fill="#000"/>
<rect x="284.4" y="127.9" width="22.5" height="22.0" fill="#000"/>
<rect x="306.3" y="127.9" width="22.5" height="22.0" fill="#000"/>
<rect x="328.2" y="127.9" width="22.5" height="22.0" fill="#000"/>
<rect x="350.1" y="127.9" width="22.5" height="22.0" fill="#000"/>
<rect x="372.0" y="127.9" width="22.5" height="22.0" fill="#000"/>
<rect x="393.9" y="127.9" width="22.5" height="22.0" fill="#000"/>
<rect x="415.8" y="127.9" width="22.5" height="22.0" fill="#000"/>
<rect x="437.7" y="127.9" width="22.5" height="22.0" fill="#000"/>
<rect x="459.6" y="127.9" width="22.5" height="22.0" fill="#000"/>
<rect x="481.5" y="127.9" width="22.5" height="22.0" fill="#000"/>
<rect x="503.4" y="127.9" width="22.5" height="22.0" fill="#000"/>
<rect x="525.3" y="127.9" width="22.5" height="22.0" fill="#000"/>
<rect x="547.2" y="127.9" width="22.5" height="22.0" fill="#000"/>
<rect x="569.1" y="127.9" width="22.5" height="22.0" fill="#000"/>
<rect x="591.0" y="127.9" width="22.5" height="22.0" fill="#000"/>
<rect x="612.9" y="127.9" width="22.5" height="22.0" fill="#000"/>
<rect x="634.8" y="127.9" width="22.5" height="22.0" fill="#000"/>
<rect x="656.7" y="127.9" width="22.5" height="22.0" fill="#000"/>
<rect x="-22.2" y="149.3" width="22.5" height="22.0" fill="#000"/>
<rect x="-0.3" y="149.3" width="22.5" height="22.0" fill="#000"/>
<rect x="21.6" y="149.3" width="22.5" height="22.0" fill="#000"/>
<rect x="43.5" y="149.3" width="22.5" height="22.0" fill="#000"/>
<rect x="65.4" y="149.3" width="22.5" height="22.0" fill="#000"/>
<rect x="87.3" y="149.3" width="22.5" height="22.0" fill="#000"/>
<rect x="109.2" y="149.3" width="22.5" height="22.0" fill="#000"/>
<rect x="131.1" y="149.3" width="22.5" height="22.0" fill="#000"/>
<rect x="153.0" y="149.3" width="22.5" height="22.0" fill="#000"/>
<rect x="174.9" y="149.3" width="22.5" height="22.0" fill="#000"/>
<rect x="196.8" y="149.3" width="22.5" height="22.0" fill="#000"/>
<rect x="218.7" y="149.3" width="22.5" height="22.0" fill="#000"/>
<rect x="240.6" y="149.3" width="22.5" height="22.0" fill="#000"/>
<rect x="262.5" y="149.3" width="22.5" height="22.0" fill="#000"/>
<rect x="284.4" y="149.3" width="22.5" height="22.0" fill="#000"/>
<rect x="306.3" y="149.3" width="22.5" height="22.0" fill="#000"/>
<rect x="328.2" y="149.3" width="22.5" height="22.0" fill="#000"/>
<rect x="350.1" y="149.3" width="22.5" height="22.0" fill="#000"/>
<rect x="372.0" y="149.3" width="22.5" height="22.0" fill="#000"/>
<rect x="393.9" y="149.3" width="22.5" height="22.0" fill="#000"/>
<rect x="415.8" y="149.3" width="22.5" height="22.0" fill="#000"/>
<rect x="437.7" y="149.3" width="22.5" height="22.0" fill="#000"/>
<rect x="459.6" y="149.3" width="22.5" height="22.0" fill="#000"/>
<rect x="481.5" y="149.3" width="22.5" height="22.0" fill="#000"/>
<rect x="503.4" y="149.3" width="22.5" height="22.0" fill="#000"/>
<rect x="525.3" y="149.3" width="22.5" height="22.0" fill="#000"/>
<rect x="547.2" y="149.3" width="22.5" height="22.0" fill="#000"/>
<rect x="569.1" y="149.3" width="22.5" height="22.0" fill="#000"/>
<rect x="591.0" y="149.3" width="22.5" height="22.0" fill="#000"/>
<rect x="612.9" y="149.3" width="22.5" height="22.0" fill="#000"/>
<rect x="634.8" y="149.3" width="22.5" height="22.0" fill="#000"/>
<rect x="656.7" y="149.3" width="22.5" height="22.0" fill="#000"/>
<rect x="-22.2" y="170.6" width="22.5" height="22.0" fill="rgb(0,0,107)"/>
<rect x="-0.3" y="170.6" width="22.5" height="22.0" fill="rgb(0,0,107)"/>
<rect x="21.6" y="170.6" width="22.5" height="22.0" fill="rgb(0,0,131)"/>
<rect x="43.5" y="170.6" width="22.5" height="22.0" fill="#000"/>
<rect x="65.4" y="170.6" width="22.5" height="22.0" fill="#000"/>
<rect x="87.3" y="170.6" width="22.5" height="22.0" fill="#000"/>
<rect x="109.2" y="170.6" width="22.5" height="22.0" fill="#000"/>
<rect x="131.1" y="170.6" width="22.5" height="22.0" fill="#000"/>
<rect x="153.0" y="170.6" width="22.5" height="22.0" fill="#000"/>
<rect x="174.9" y="170.6" width="22.5" height="22.0" fill="#000"/>
<rect x="196.8" y="170.6" width="22.5" height="22.0" fill="#000"/>
<rect x="218.7" y="170.6" width="22.5" height="22.0" fill="#000"/>
<rect x="240.6" y="170.6" width="22.5" height="22.0" fill="#000"/>
<rect x="262.5" y="170.6" width="22.5" height="22.0" fill="#000"/>
<rect x="284.4" y="170.6" width="22.5" height="22.0" fill="#000"/>
<rect x="306.3" y="170.6" width="22.5" height="22.0" fill="#000"/>
<rect x="328.2" y="170.6" width="22.5" height="22.0" fill="#000"/>
<rect x="350.1" y="170.6" width="22.5" height="22.0" fill="#000"/>
<rect x="372.0" y="170.6" width="22.5" height="22.0" fill="#000"/>
<rect x="393.9" y="170.6" width="22.5" height="22.0" fill="#000"/>
<rect x="415.8" y="170.6" width="22.5" height="22.0" fill="#000"/>
<rect x="437.7" y="170.6" width="22.5" height="22.0" fill="#000"/>
<rect x="459.6" y="170.6" width="22.5" height="22.0" fill="#000"/>
<rect x="481.5" y="170.6" width="22.5" height="22.0" fill="#000"/>
<rect x="503.4" y="170.6" width="22.5" height="22.0" fill="#000"/>
<rect x="525.3" y="170.6" width="22.5" height="22.0" fill="#000"/>
<rect x="547.2" y="170.6" width="22.5" height="22.0" fill="#000"/>
<rect x="569.1" y="170.6" width="22.5" height="22.0" fill="#000"/>
<rect x="591.0" y="170.6" width="22.5" height="22.0" fill="#000"/>
<rect x="612.9" y="170.6" width="22.5" height="22.0" fill="#000"/>
<rect x="634.8" y="170.6" width="22.5" height="22.0" fill="#000"/>
<rect x="656.7" y="170.6" width="22.5" height="22.0" fill="#000"/>
<rect x="-22.2" y="192.0" width="22.5" height="22.0" fill="rgb(0,0,141)"/>
<rect x="-0.3" y="192.0" width="22.5" height="22.0" fill="rgb(0,0,141)"/>
<rect x="21.6" y="192.0" width="22.5" height="22.0" fill="rgb(0,0,148)"/>
<rect x="43.5" y="192.0" width="22.5" height="22.0" fill="rgb(0,0,172)"/>
<rect x="65.4" y="192.0" width="22.5" height="22.0" fill="rgb(0,0,189)"/>
<rect x="87.3" y="192.0" width="22.5" height="22.0" fill="rgb(0,0,189)"/>
<rect x="109.2" y="192.0" width="22.5" height="22.0" fill="rgb(0,0,193)"/>
<rect x="131.1" y="192.0" width="22.5" height="22.0" fill="#000"/>
<rect x="153.0" y="192.0" width="22.5" height="22.0" fill="#000"/>
<rect x="174.9" y="192.0" width="22.5" height="22.0" fill="#000"/>
<rect x="196.8" y="192.0" width="22.5" height="22.0" fill="#000"/>
<rect x="218.7" y="192.0" width="22.5" height="22.0" fill="#000"/>
<rect x="240.6" y="192.0" width="22.5" height="22.0" fill="#000"/>
<rect x="262.5" y="192.0" width="22.5" height="22.0" fill="#000"/>
<rect x="284.4" y="192.0" width="22.5" height="22.0" fill="#000"/>
<rect x="306.3" y="192.0" width="22.5" height="22.0" fill="#000"/>
<rect x="328.2" y="192.0" width="22.5" height="22.0" fill="#000"/>
<rect x="350.1" y="192.0" width="22.5" height="22.0" fill="#000"/>
<rect x="372.0" y="192.0" width="22.5" height="22.0" fill="#000"/>
<rect x="393.9" y="192.0" width="22.5" height="22.0" fill="#000"/>
<rect x="415.8" y="192.0" width="22.5" height="22.0" fill="#000"/>
<rect x="437.7" y="192.0" width="22.5" height="22.0" fill="#000"/>
<rect x="459.6" y="192.0" width="22.5" height="22.0" fill="#000"/>
<rect x="481.5" y="192.0" width="22.5" height="22.0" fill="#000"/>
<rect x="503.4" y="192.0" width="22.5" height="22.0" fill="#000"/>
<rect x="525.3" y="192.0" width="22.5" height="22.0" fill="#000"/>
<rect x="547.2" y="192.0" width="22.5" height="22.0" fill="#000"/>
<rect x="569.1" y="192.0" width="22.5" height="22.0" fill="#000"/>
<rect x="591.0" y="192.0" width="22.5" height="22.0" fill="#000"/>
<rect x="612.9" y="192.0" width="22.5" height="22.0" fill="#000"/>
<rect x="634.8" y="192.0" width="22.5" height="22.0" fill="#000"/>
<rect x="656.7" y="192.0" width="22.5" height="22.0" fill="#000"/>
<rect x="-22.2" y="213.4" width="22.5" height="22.0" fill="rgb(0,0,157)"/>
<rect x="-0.3" y="213.4" width="22.5" height="22.0" fill="rgb(0,0,157)"/>
<rect x="21.6" y="213.4" width="22.5" height="22.0" fill="rgb(0,0,81)"/>
<rect x="43.5" y="213.4" width="22.5" height="22.0" fill="rgb(0,0,175)"/>
<rect x="65.4" y="213.4" width="22.5" height="22.0" fill="rgb(0,0,90)"/>
<rect x="87.3" y="213.4" width="22.5" height="22.0" fill="rgb(0,0,173)"/>
<rect x="109.2" y="213.4" width="22.5" height="22.0" fill="rgb(0,0,183)"/>
<rect x="131.1" y="213.4" width="22.5" height="22.0" fill="rgb(0,0,166)"/>
<rect x="153.0" y="213.4" width="22.5" height="22.0" fill="rgb(0,0,149)"/>
<rect x="174.9" y="213.4" width="22.5" height="22.0" fill="rgb(0,0,153)"/>
<rect x="196.8" y="213.4" width="22.5" height="22.0" fill="#000"/>
<rect x="218.7" y="213.4" width="22.5" height="22.0" fill="#000"/>
<rect x="240.6" y="213.4" width="22.5" height="22.0" fill="#000"/>
<rect x="262.5" y="213.4" width="22.5" height="22.0" fill="#000"/>
<rect x="284.4" y="213.4" width="22.5" height="22.0" fill="#000"/>
<rect x="306.3" y="213.4" width="22.5" height="22.0" fill="#000"/>
<rect x="328.2" y="213.4" width="22.5" height="22.0" fill="#000"/>
<rect x="350.1" y="213.4" width="22.5" height="22.0" fill="#000"/>
<rect x="372.0" y="213.4" width="22.5" height="22.0" fill="#000"/>
<rect x="393.9" y="213.4" width="22.5" height="22.0" fill="#000"/>
<rect x="415.8" y="213.4" width="22.5" height="22.0" fill="#000"/>
<rect x="437.7" y="213.4" width="22.5" height="22.0" fill="#000"/>
<rect x="459.6" y="213.4" width="22.5" height="22.0" fill="#000"/>
<rect x="481.5" y="213.4" width="22.5" height="22.0" fill="#000"/>
<rect x="503.4" y="213.4" width="22.5" height="22.0" fill="#000"/>
<rect x="525.3" y="213.4" width="22.5" height="22.0" fill="#000"/>
<rect x="547.2" y="213.4" width="22.5" height="22.0" fill="#000"/>
<rect x="569.1" y="213.4" width="22.5" height="22.0" fill="#000"/>
<rect x="591.0" y="213.4" width="22.5" height="22.0" fill="#000"/>
<rect x="612.9" y="213.4" width="22.5" height="22.0" fill="#000"/>
<rect x="634.8" y="213.4" width="22.5" height="22.0" fill="#000"/>
<rect x="656.7" y="213.4" width="22.5" height="22.0" fill="#000"/>
<rect x="-22.2" y="234.7" width="22.5" height="22.0" fill="rgb(0,0,152)"/>
<rect x="-0.3" y="234.7" width="22.5" height="22.0" fill="rgb(0,0,152)"/>
<rect x="21.6" y="234.7" width="22.5" height="22.0" fill="rgb(0,0,157)"/>
<rect x="43.5" y="234.7" width="22.5" height="22.0" fill="rgb(0,0,155)"/>
<rect x="65.4" y="234.7" width="22.5" height="22.0" fill="rgb(0,0,150)"/>
<rect x="87.3" y="234.7" width="22.5" height="22.0" fill="rgb(0,0,159)"/>
<rect x="109.2" y="234.7" width="22.5" height="22.0" fill="rgb(0,0,189)"/>
<rect x="131.1" y="234.7" width="22.5" height="22.0" fill="rgb(0,0,150)"/>
<rect x="153.0" y="234.7" width="22.5" height="22.0" fill="rgb(0,0,161)"/>
<rect x="174.9" y="234.7" width="22.5" height="22.0" fill="rgb(0,0,100)"/>
<rect x="196.8" y="234.7" width="22.5" height="22.0" fill="rgb(0,0,146)"/>
<rect x="218.7" y="234.7" width="22.5" height="22.0" fill="rgb(0,0,175)"/>
<rect x="240.6" y="234.7" width="22.5" height="22.0" fill="rgb(0,0,199)"/>
<rect x="262.5" y="234.7" width="22.5" height="22.0" fill="rgb(0,0,192)"/>
<rect x="284.4" y="234.7" width="22.5" height="22.0" fill="#000"/>
<rect x="306.3" y="234.7" width="22.5" height="22.0" fill="#000"/>
<rect x="328.2" y="234.7" width="22.5" height="22.0" fill="#000"/>
<rect x="350.1" y="234.7" width="22.5" height="22.0" fill="#000"/>
<rect x="372.0" y="234.7" width="22.5" height="22.0" fill="#000"/>
<rect x="393.9" y="234.7" width="22.5" height="22.0" fill="#000"/>
<rect x="415.8" y="234.7" width="22.5" height="22.0" fill="#000"/>
<rect x="437.7" y="234.7" width="22.5" height="22.0" fill="#000"/>
<rect x="459.6" y="234.7" width="22.5" height="22.0" fill="#000"/>
<rect x="481.5" y="234.7" width="22.5" height="22.0" fill="#000"/>
<rect x="503.4" y="234.7" width="22.5" height="22.0" fill="#000"/>
<rect x="525.3" y="234.7" width="22.5" height="22.0" fill="#000"/>
<rect x="547.2" y="234.7" width="22.5" height="22.0" fill="#000"/>
<rect x="569.1" y="234.7" width="22.5" height="22.0" fill="#000"/>
<rect x="591.0" y="234.7" width="22.5" height="22.0" fill="#000"/>
<rect x="612.9" y="234.7" width="22.5" height="22.0" fill="#000"/>
<rect x="634.8" y="234.7" width="22.5" height="22.0" fill="#000"/>
<rect x="656.7" y="234.7" width="22.5" height="22.0" fill="#000"/>
<rect x="-22.2" y="256.1" width="22.5" height="22.0" fill="rgb(0,0,162)"/>
<rect x="-0.3" y="256.1" width="22.5" height="22.0" fill="rgb(0,0,162)"/>
<rect x="21.6" y="256.1" width="22.5" height="22.0" fill="rgb(0,0,155)"/>
<rect x="43.5" y="256.1" width="22.5" height="22.0" fill="rgb(0,0,141)"/>
<rect x="65.4" y="256.1" width="22.5" height="22.0" fill="rgb(0,0,145)"/>
<rect x="87.3" y="256.1" width="22.5" height="22.0" fill="rgb(0,0,135)"/>
<rect x="109.2" y="256.1" width="22.5" height="22.0" fill="rgb(0,0,141)"/>
<rect x="131.1" y="256.1" width="22.5" height="22.0" fill="rgb(0,0,140)"/>
<rect x="153.0" y="256.1" width="22.5" height="22.0" fill="rgb(0,0,138)"/>
<rect x="174.9" y="256.1" width="22.5" height="22.0" fill="rgb(0,0,184)"/>
<rect x="196.8" y="256.1" width="22.5" height="22.0" fill="rgb(0,0,89)"/>
<rect x="218.7" y="256.1" width="22.5" height="22.0" fill="rgb(0,0,179)"/>
<rect x="240.6" y="256.1" width="22.5" height="22.0" fill="rgb(0,0,168)"/>
<rect x="262.5" y="256.1" width="22.5" height="22.0" fill="rgb(0,0,125)"/>
<rect x="284.4" y="256.1" width="22.5" height="22.0" fill="rgb(0,0,151)"/>
<rect x="306.3" y="256.1" width="22.5" height="22.0" fill="rgb(0,0,172)"/>
<rect x="328.2" y="256.1" width="22.5" height="22.0" fill="rgb(0,0,176)"/>
<rect x="350.1" y="256.1" width="22.5" height="22.0" fill="#000"/>
<rect x="372.0" y="256.1" width="22.5" height="22.0" fill="#000"/>
<rect x="393.9" y="256.1" width="22.5" height="22.0" fill="#000"/>
<rect x="415.8" y="256.1" width="22.5" height="22.0" fill="#000"/>
<rect x="437.7" y="256.1" width="22.5" height="22.0" fill="#000"/>
<rect x="459.6" y="256.1" width="22.5" height="22.0" fill="#000"/>
<rect x="481.5" y="256.1" width="22.5" height="22.0" fill="#000"/>
<rect x="503.4" y="256.1" width="22.5" height="22.0" fill="#000"/>
<rect x="525.3" y="256.1" width="22.5" height="22.0" fill="#000"/>
<rect x="547.2" y="256.1" width="22.5" height="22.0" fill="#000"/>
<rect x="569.1" y="256.1" width="22.5" height="22.0" fill="#000"/>
<rect x="591.0" y="256.1" width="22.5" height="22.0" fill="#000"/>
<rect x="612.9" y="256.1" width="22.5" height="22.0" fill="#000"/>
<rect x="634.8" y="256.1" width="22.5" height="22.0" fill="#000"/>
<rect x="656.7" y="256.1" width="22.5" height="22.0" fill="#000"/>
<rect x="-22.2" y="277.5" width="22.5" height="22.0" fill="rgb(0,0,163)"/>
<rect x="-0.3" y="277.5" width="22.5" height="22.0" fill="rgb(0,0,163)"/>
<rect x="21.6" y="277.5" width="22.5" height="22.0" fill="rgb(0,0,145)"/>
<rect x="43.5" y="277.5" width="22.5" height="22.0" fill="rgb(0,0,151)"/>
<rect x="65.4" y="277.5" width="22.5" height="22.0" fill="rgb(0,0,189)"/>
<rect x="87.3" y="277.5" width="22.5" height="22.0" fill="rgb(0,0,155)"/>
<rect x="109.2" y="277.5" width="22.5" height="22.0" fill="rgb(0,0,142)"/>
<rect x="131.1" y="277.5" width="22.5" height="22.0" fill="rgb(0,0,183)"/>
<rect x="153.0" y="277.5" width="22.5" height="22.0" fill="rgb(0,0,160)"/>
<rect x="174.9" y="277.5" width="22.5" height="22.0" fill="rgb(0,0,182)"/>
<rect x="196.8" y="277.5" width="22.5" height="22.0" fill="rgb(0,0,193)"/>
<rect x="218.7" y="277.5" width="22.5" height="22.0" fill="rgb(0,0,185)"/>
<rect x="240.6" y="277.5" width="22.5" height="22.0" fill="rgb(0,0,156)"/>
<rect x="262.5" y="277.5" width="22.5" height="22.0" fill="rgb(0,0,124)"/>
<rect x="284.4" y="277.5" width="22.5" height="22.0" fill="rgb(0,0,158)"/>
<rect x="306.3" y="277.5" width="22.5" height="22.0" fill="rgb(0,0,159)"/>
<rect x="328.2" y="277.5" width="22.5" height="22.0" fill="rgb(0,0,181)"/>
<rect x="350.1" y="277.5" width="22.5" height="22.0" fill="rgb(0,0,196)"/>
<rect x="372.0" y="277.5" width="22.5" height="22.0" fill="rgb(0,0,175)"/>
<rect x="393.9" y="277.5" width="22.5" height="22.0" fill="rgb(0,0,139)"/>
<rect x="415.8" y="277.5" width="22.5" height="22.0" fill="rgb(0,0,165)"/>
<rect x="437.7" y="277.5" width="22.5" height="22.0" fill="#000"/>
<rect x="459.6" y="277.5" width="22.5" height="22.0" fill="#000"/>
<rect x="481.5" y="277.5" width="22.5" height="22.0" fill="#000"/>
<rect x="503.4" y="277.5" width="22.5" height="22.0" fill="#000"/>
<rect x="525.3" y="277.5" width="22.5" height="22.0" fill="#000"/>
<rect x="547.2" y="277.5" width="22.5" height="22.0" fill="#000"/>
<rect x="569.1" y="277.5" width="22.5" height="22.0" fill="#000"/>
<rect x="591.0" y="277.5" width="22.5" height="22.0" fill="#000"/>
<rect x="612.9" y="277.5" width="22.5" height="22.0" fill="#000"/>
<rect x="634.8" y="277.5" width="22.5" height="22.0" fill="#000"/>
<rect x="656.7" y="277.5" width="22.5" height="22.0" fill="#000"/>
<rect x="-22.2" y="298.8" width="22.5" height="22.0" fill="rgb(0,0,100)"/>
<rect x="-0.3" y="298.8" width="22.5" height="22.0" fill="rgb(0,0,100)"/>
<rect x="21.6" y="298.8" width="22.5" height="22.0" fill="rgb(0,0,167)"/>
<rect x="43.5" y="298.8" width="22.5" height="22.0" fill="rgb(0,0,152)"/>
<rect x="65.4" y="298.8" width="22.5" height="22.0" fill="rgb(0,0,39)"/>
<rect x="87.3" y="298.8" width="22.5" height="22.0" fill="rgb(0,0,169)"/>
<rect x="109.2" y="298.8" width="22.5" height="22.0" fill="rgb(0,0,176)"/>
<rect x="131.1" y="298.8" width="22.5" height="22.0" fill="rgb(0,0,162)"/>
<rect x="153.0" y="298.8" width="22.5" height="22.0" fill="rgb(0,0,92)"/>
<rect x="174.9" y="298.8" width="22.5" height="22.0" fill="rgb(0,0,191)"/>
<rect x="196.8" y="298.8" width="22.5" height="22.0" fill="rgb(0,0,196)"/>
<rect x="218.7" y="298.8" width="22.5" height="22.0" fill="rgb(0,0,192)"/>
<rect x="240.6" y="298.8" width="22.5" height="22.0" fill="rgb(0,0,175)"/>
<rect x="262.5" y="298.8" width="22.5" height="22.0" fill="rgb(0,0,168)"/>
<rect x="284.4" y="298.8" width="22.5" height="22.0" fill="rgb(0,0,160)"/>
<rect x="306.3" y="298.8" width="22.5" height="22.0" fill="rgb(0,0,159)"/>
<rect x="328.2" y="298.8" width="22.5" height="22.0" fill="rgb(0,0,172)"/>
<rect x="350.1" y="298.8" width="22.5" height="22.0" fill="rgb(0,0,192)"/>
<rect x="372.0" y="298.8" width="22.5" height="22.0" fill="rgb(0,0,190)"/>
<rect x="393.9" y="298.8" width="22.5" height="22.0" fill="rgb(0,0,142)"/>
<rect x="415.8" y="298.8" width="22.5" height="22.0" fill="rgb(0,0,167)"/>
<rect x="437.7" y="298.8" width="22.5" height="22.0" fill="rgb(0,0,185)"/>
<rect x="459.6" y="298.8" width="22.5" height="22.0" fill="rgb(0,0,177)"/>
<rect x="481.5" y="298.8" width="22.5" height="22.0" fill="rgb(0,0,180)"/>
<rect x="503.4" y="298.8" width="22.5" height="22.0" fill="#000"/>
<rect x="525.3" y="298.8" width="22.5" height="22.0" fill="#000"/>
<rect x="547.2" y="298.8" width="22.5" height="22.0" fill="#000"/>
<rect x="569.1" y="298.8" width="22.5" height="22.0" fill="#000"/>
<rect x="591.0" y="298.8" width="22.5" height="22.0" fill="#000"/>
<rect x="612.9" y="298.8" width="22.5" height="22.0" fill="#000"/>
<rect x="634.8" y="298.8" width="22.5" height="22.0" fill="#000"/>
<rect x="656.7" y="298.8" width="22.5" height="22.0" fill="#000"/>
<rect x="-22.2" y="320.2" width="22.5" height="22.0" fill="rgb(0,0,188)"/>
<rect x="-0.3" y="320.2" width="22.5" height="22.0" fill="rgb(0,0,188)"/>
<rect x="21.6" y="320.2" width="22.5" height="22.0" fill="rgb(0,0,178)"/>
<rect x="43.5" y="320.2" width="22.5" height="22.0" fill="rgb(0,0,169)"/>
<rect x="65.4" y="320.2" width="22.5" height="22.0" fill="rgb(0,0,157)"/>
<rect x="87.3" y="320.2" width="22.5" height="22.0" fill="rgb(0,0,184)"/>
<rect x="109.2" y="320.2" width="22.5" height="22.0" fill="rgb(0,0,73)"/>
<rect x="131.1" y="320.2" width="22.5" height="22.0" fill="rgb(0,0,179)"/>
<rect x="153.0" y="320.2" width="22.5" height="22.0" fill="rgb(0,0,139)"/>
<rect x="174.9" y="320.2" width="22.5" height="22.0" fill="rgb(0,0,130)"/>
<rect x="196.8" y="320.2" width="22.5" height="22.0" fill="rgb(0,0,155)"/>
<rect x="218.7" y="320.2" width="22.5" height="22.0" fill="rgb(0,0,182)"/>
<rect x="240.6" y="320.2" width="22.5" height="22.0" fill="rgb(0,0,195)"/>
<rect x="262.5" y="320.2" width="22.5" height="22.0" fill="rgb(0,0,170)"/>
<rect x="284.4" y="320.2" width="22.5" height="22.0" fill="rgb(0,0,82)"/>
<rect x="306.3" y="320.2" width="22.5" height="22.0" fill="rgb(0,0,166)"/>
<rect x="328.2" y="320.2" width="22.5" height="22.0" fill="rgb(0,0,164)"/>
<rect x="350.1" y="320.2" width="22.5" height="22.0" fill="rgb(0,0,77)"/>
<rect x="372.0" y="320.2" width="22.5" height="22.0" fill="rgb(0,0,168)"/>
<rect x="393.9" y="320.2" width="22.5" height="22.0" fill="rgb(0,0,145)"/>
<rect x="415.8" y="320.2" width="22.5" height="22.0" fill="rgb(0,0,147)"/>
<rect x="437.7" y="320.2" width="22.5" height="22.0" fill="rgb(0,0,161)"/>
<rect x="459.6" y="320.2" width="22.5" height="22.0" fill="rgb(0,0,184)"/>
<rect x="481.5" y="320.2" width="22.5" height="22.0" fill="rgb(0,0,136)"/>
<rect x="503.4" y="320.2" width="22.5" height="22.0" fill="rgb(0,0,137)"/>
<rect x="525.3" y="320.2" width="22.5" height="22.0" fill="rgb(0,0,143)"/>
<rect x="547.2" y="320.2" width="22.5" height="22.0" fill="rgb(0,0,199)"/>
<rect x="569.1" y="320.2" width="22.5" height="22.0" fill="rgb(0,0,160)"/>
<rect x="591.0" y="320.2" width="22.5" height="22.0" fill="#000"/>
<rect x="612.9" y="320.2" width="22.5" height="22.0" fill="#000"/>
<rect x="634.8" y="320.2" width="22.5" height="22.0" fill="#000"/>
<rect x="656.7" y="320.2" width="22.5" height="22.0" fill="#000"/>
<rect x="-22.2" y="341.6" width="22.5" height="22.0" fill="rgb(0,0,154)"/>
<rect x="-0.3" y="341.6" width="22.5" height="22.0" fill="rgb(0,0,154)"/>
<rect x="21.6" y="341.6" width="22.5" height="22.0" fill="rgb(0,0,172)"/>
<rect x="43.5" y="341.6" width="22.5" height="22.0" fill="rgb(0,0,172)"/>
<rect x="65.4" y="341.6" width="22.5" height="22.0" fill="rgb(0,0,175)"/>
<rect x="87.3" y="341.6" width="22.5" height="22.0" fill="rgb(0,0,141)"/>
<rect x="109.2" y="341.6" width="22.5" height="22.0" fill="rgb(0,0,176)"/>
<rect x="131.1" y="341.6" width="22.5" height="22.0" fill="rgb(0,0,177)"/>
<rect x="153.0" y="341.6" width="22.5" height="22.0" fill="rgb(0,0,157)"/>
<rect x="174.9" y="341.6" width="22.5" height="22.0" fill="rgb(0,0,178)"/>
<rect x="196.8" y="341.6" width="22.5" height="22.0" fill="rgb(0,0,164)"/>
<rect x="218.7" y="341.6" width="22.5" height="22.0" fill="rgb(0,0,249)"/>
<rect x="240.6" y="341.6" width="22.5" height="22.0" fill="rgb(0,0,186)"/>
<rect x="262.5" y="341.6" width="22.5" height="22.0" fill="rgb(0,0,180)"/>
<rect x="284.4" y="341.6" width="22.5" height="22.0" fill="rgb(0,0,169)"/>
<rect x="306.3" y="341.6" width="22.5" height="22.0" fill="rgb(0,0,174)"/>
<rect x="328.2" y="341.6" width="22.5" height="22.0" fill="rgb(0,0,81)"/>
<rect x="350.1" y="341.6" width="22.5" height="22.0" fill="rgb(0,0,148)"/>
<rect x="372.0" y="341.6" width="22.5" height="22.0" fill="rgb(0,0,155)"/>
<rect x="393.9" y="341.6" width="22.5" height="22.0" fill="rgb(0,0,96)"/>
<rect x="415.8" y="341.6" width="22.5" height="22.0" fill="rgb(0,0,152)"/>
<rect x="437.7" y="341.6" width="22.5" height="22.0" fill="rgb(0,0,153)"/>
<rect x="459.6" y="341.6" width="22.5" height="22.0" fill="rgb(0,0,155)"/>
<rect x="481.5" y="341.6" width="22.5" height="22.0" fill="rgb(0,0,154)"/>
<rect x="503.4" y="341.6" width="22.5" height="22.0" fill="rgb(0,0,142)"/>
<rect x="525.3" y="341.6" width="22.5" height="22.0" fill="rgb(0,0,147)"/>
<rect x="547.2" y="341.6" width="22.5" height="22.0" fill="rgb(0,0,185)"/>
<rect x="569.1" y="341.6" width="22.5" height="22.0" fill="rgb(0,0,192)"/>
<rect x="591.0" y="341.6" width="22.5" height="22.0" fill="rgb(0,0,185)"/>
<rect x="612.9" y="341.6" width="22.5" height="22.0" fill="rgb(0,0,185)"/>
<rect x="634.8" y="341.6" width="22.5" height="22.0" fill="rgb(0,0,158)"/>
<rect x="656.7" y="341.6" width="22.5" height="22.0" fill="rgb(0,0,158)"/>
<rect x="-22.2" y="362.9" width="22.5" height="22.0" fill="rgb(0,0,148)"/>
<rect x="-0.3" y="362.9" width="22.5" height="22.0" fill="rgb(0,0,148)"/>
<rect x="21.6" y="362.9" width="22.5" height="22.0" fill="rgb(0,0,168)"/>
<rect x="43.5" y="362.9" width="22.5" height="22.0" fill="rgb(0,0,179)"/>
<rect x="65.4" y="362.9" width="22.5" height="22.0" fill="rgb(0,0,121)"/>
<rect x="87.3" y="362.9" width="22.5" height="22.0" fill="rgb(0,0,125)"/>
<rect x="109.2" y="362.9" width="22.5" height="22.0" fill="rgb(0,0,140)"/>
<rect x="131.1" y="362.9" width="22.5" height="22.0" fill="rgb(0,0,154)"/>
<rect x="153.0" y="362.9" width="22.5" height="22.0" fill="rgb(0,0,176)"/>
<rect x="174.9" y="362.9" width="22.5" height="22.0" fill="rgb(0,0,178)"/>
<rect x="196.8" y="362.9" width="22.5" height="22.0" fill="rgb(0,0,167)"/>
<rect x="218.7" y="362.9" width="22.5" height="22.0" fill="rgb(0,0,153)"/>
<rect x="240.6" y="362.9" width="22.5" height="22.0" fill="rgb(0,0,177)"/>
<rect x="262.5" y="362.9" width="22.5" height="22.0" fill="rgb(0,0,170)"/>
<rect x="284.4" y="362.9" width="22.5" height="22.0" fill="rgb(0,0,147)"/>
<rect x="306.3" y="362.9" width="22.5" height="22.0" fill="rgb(0,0,154)"/>
<rect x="328.2" y="362.9" width="22.5" height="22.0" fill="rgb(0,0,156)"/>
<rect x="350.1" y="362.9" width="22.5" height="22.0" fill="rgb(0,0,134)"/>
<rect x="372.0" y="362.9" width="22.5" height="22.0" fill="rgb(0,0,169)"/>
<rect x="393.9" y="362.9" width="22.5" height="22.0" fill="rgb(0,0,166)"/>
<rect x="415.8" y="362.9" width="22.5" height="22.0" fill="rgb(0,0,159)"/>
<rect x="437.7" y="362.9" width="22.5" height="22.0" fill="rgb(0,0,148)"/>
<rect x="459.6" y="362.9" width="22.5" height="22.0" fill="rgb(0,0,163)"/>
<rect x="481.5" y="362.9" width="22.5" height="22.0" fill="rgb(0,0,163)"/>
<rect x="503.4" y="362.9" width="22.5" height="22.0" fill="rgb(0,0,171)"/>
<rect x="525.3" y="362.9" width="22.5" height="22.0" fill="rgb(0,0,150)"/>
<rect x="547.2" y="362.9" width="22.5" height="22.0" fill="rgb(0,0,15)"/>
<rect x="569.1" y="362.9" width="22.5" height="22.0" fill="rgb(0,0,177)"/>
<rect x="591.0" y="362.9" width="22.5" height="22.0" fill="rgb(0,0,159)"/>
<rect x="612.9" y="362.9" width="22.5" height="22.0" fill="rgb(0,0,176)"/>
<rect x="634.8" y="362.9" width="22.5" height="22.0" fill="rgb(0,0,170)"/>
<rect x="656.7" y="362.9" width="22.5" height="22.0" fill="rgb(0,0,170)"/>
<rect x="-22.2" y="384.3" width="22.5" height="22.0" fill="rgb(0,0,189)"/>
<rect x="-0.3" y="384.3" width="22.5" height="22.0" fill="rgb(0,0,189)"/>
<rect x="21.6" y="384.3" width="22.5" height="22.0" fill="rgb(0,0,179)"/>
<rect x="43.5" y="384.3" width="22.5" height="22.0" fill="rgb(0,0,158)"/>
<rect x="65.4" y="384.3" width="22.5" height="22.0" fill="rgb(0,0,171)"/>
<rect x="87.3" y="384.3" width="22.5" height="22.0" fill="rgb(0,0,166)"/>
<rect x="109.2" y="384.3" width="22.5" height="22.0" fill="rgb(0,0,171)"/>
<rect x="131.1" y="384.3" width="22.5" height="22.0" fill="rgb(0,0,158)"/>
<rect x="153.0" y="384.3" width="22.5" height="22.0" fill="rgb(0,0,71)"/>
<rect x="174.9" y="384.3" width="22.5" height="22.0" fill="rgb(0,0,161)"/>
<rect x="196.8" y="384.3" width="22.5" height="22.0" fill="rgb(0,0,151)"/>
<rect x="218.7" y="384.3" width="22.5" height="22.0" fill="rgb(0,0,154)"/>
<rect x="240.6" y="384.3" width="22.5" height="22.0" fill="rgb(0,0,182)"/>
<rect x="262.5" y="384.3" width="22.5" height="22.0" fill="rgb(0,0,164)"/>
<rect x="284.4" y="384.3" width="22.5" height="22.0" fill="rgb(0,0,114)"/>
<rect x="306.3" y="384.3" width="22.5" height="22.0" fill="rgb(0,0,162)"/>
<rect x="328.2" y="384.3" width="22.5" height="22.0" fill="rgb(0,0,136)"/>
<rect x="350.1" y="384.3" width="22.5" height="22.0" fill="rgb(0,0,137)"/>
<rect x="372.0" y="384.3" width="22.5" height="22.0" fill="rgb(0,0,163)"/>
<rect x="393.9" y="384.3" width="22.5" height="22.0" fill="rgb(0,0,175)"/>
<rect x="415.8" y="384.3" width="22.5" height="22.0" fill="rgb(0,0,166)"/>
<rect x="437.7" y="384.3" width="22.5" height="22.0" fill="rgb(0,0,149)"/>
<rect x="459.6" y="384.3" width="22.5" height="22.0" fill="rgb(0,0,179)"/>
<rect x="481.5" y="384.3" width="22.5" height="22.0" fill="rgb(0,0,151)"/>
<rect x="503.4" y="384.3" width="22.5" height="22.0" fill="rgb(0,0,181)"/>
<rect x="525.3" y="384.3" width="22.5" height="22.0" fill="rgb(0,0,168)"/>
<rect x="547.2" y="384.3" width="22.5" height="22.0" fill="rgb(0,0,158)"/>
<rect x="569.1" y="384.3" width="22.5" height="22.0" fill="rgb(0,0,169)"/>
<rect x="591.0" y="384.3" width="22.5" height="22.0" fill="rgb(0,0,176)"/>
<rect x="612.9" y="384.3" width="22.5" height="22.0" fill="rgb(0,0,120)"/>
<rect x="634.8" y="384.3" width="22.5" height="22.0" fill="rgb(0,0,164)"/>
<rect x="656.7" y="384.3" width="22.5" height="22.0" fill="rgb(0,0,164)"/>
<rect x="-22.2" y="405.7" width="22.5" height="22.0" fill="rgb(0,0,172)"/>
<rect x="-0.3" y="405.7" width="22.5" height="22.0" fill="rgb(0,0,172)"/>
<rect x="21.6" y="405.7" width="22.5" height="22.0" fill="rgb(0,0,185)"/>
<rect x="43.5" y="405.7" width="22.5" height="22.0" fill="rgb(0,0,187)"/>
<rect x="65.4" y="405.7" width="22.5" height="22.0" fill="rgb(0,0,182)"/>
<rect x="87.3" y="405.7" width="22.5" height="22.0" fill="rgb(0,0,175)"/>
<rect x="109.2" y="405.7" width="22.5" height="22.0" fill="rgb(0,0,169)"/>
<rect x="131.1" y="405.7" width="22.5" height="22.0" fill="rgb(0,0,190)"/>
<rect x="153.0" y="405.7" width="22.5" height="22.0" fill="rgb(0,0,170)"/>
<rect x="174.9" y="405.7" width="22.5" height="22.0" fill="rgb(0,0,163)"/>
<rect x="196.8" y="405.7" width="22.5" height="22.0" fill="rgb(0,0,87)"/>
<rect x="218.7" y="405.7" width="22.5" height="22.0" fill="rgb(0,0,171)"/>
<rect x="240.6" y="405.7" width="22.5" height="22.0" fill="rgb(0,0,25)"/>
<rect x="262.5" y="405.7" width="22.5" height="22.0" fill="rgb(0,0,24)"/>
<rect x="284.4" y="405.7" width="22.5" height="22.0" fill="rgb(0,0,171)"/>
<rect x="306.3" y="405.7" width="22.5" height="22.0" fill="rgb(0,0,149)"/>
<rect x="328.2" y="405.7" width="22.5" height="22.0" fill="rgb(0,0,153)"/>
<rect x="350.1" y="405.7" width="22.5" height="22.0" fill="rgb(0,0,154)"/>
<rect x="372.0" y="405.7" width="22.5" height="22.0" fill="rgb(0,0,177)"/>
<rect x="393.9" y="405.7" width="22.5" height="22.0" fill="rgb(0,0,161)"/>
<rect x="415.8" y="405.7" width="22.5" height="22.0" fill="rgb(0,0,150)"/>
<rect x="437.7" y="405.7" width="22.5" height="22.0" fill="rgb(0,0,167)"/>
<rect x="459.6" y="405.7" width="22.5" height="22.0" fill="rgb(0,0,176)"/>
<rect x="481.5" y="405.7" width="22.5" height="22.0" fill="rgb(0,0,183)"/>
<rect x="503.4" y="405.7" width="22.5" height="22.0" fill="rgb(0,0,182)"/>
<rect x="525.3" y="405.7" width="22.5" height="22.0" fill="rgb(0,0,154)"/>
<rect x="547.2" y="405.7" width="22.5" height="22.0" fill="rgb(0,0,144)"/>
<rect x="569.1" y="405.7" width="22.5" height="22.0" fill="rgb(0,0,161)"/>
<rect x="591.0" y="405.7" width="22.5" height="22.0" fill="rgb(0,0,162)"/>
<rect x="612.9" y="405.7" width="22.5" height="22.0" fill="rgb(0,0,189)"/>
<rect x="634.8" y="405.7" width="22.5" height="22.0" fill="rgb(0,0,174)"/>
<rect x="656.7" y="405.7" width="22.5" height="22.0" fill="rgb(0,0,174)"/>
<rect x="-22.2" y="427.0" width="22.5" height="22.0" fill="rgb(0,0,174)"/>
<rect x="-0.3" y="427.0" width="22.5" height="22.0" fill="rgb(0,0,174)"/>
<rect x="21.6" y="427.0" width="22.5" height="22.0" fill="rgb(0,0,158)"/>
<rect x="43.5" y="427.0" width="22.5" height="22.0" fill="rgb(0,0,188)"/>
<rect x="65.4" y="427.0" width="22.5" height="22.0" fill="rgb(0,0,172)"/>
<rect x="87.3" y="427.0" width="22.5" height="22.0" fill="rgb(0,0,155)"/>
<rect x="109.2" y="427.0" width="22.5" height="22.0" fill="rgb(0,0,175)"/>
<rect x="131.1" y="427.0" width="22.5" height="22.0" fill="rgb(0,0,181)"/>
<rect x="153.0" y="427.0" width="22.5" height="22.0" fill="rgb(0,0,177)"/>
<rect x="174.9" y="427.0" width="22.5" height="22.0" fill="rgb(0,0,170)"/>
<rect x="196.8" y="427.0" width="22.5" height="22.0" fill="rgb(0,0,164)"/>
<rect x="218.7" y="427.0" width="22.5" height="22.0" fill="rgb(0,0,170)"/>
<rect x="240.6" y="427.0" width="22.5" height="22.0" fill="rgb(0,0,21)"/>
<rect x="262.5" y="427.0" width="22.5" height="22.0" fill="rgb(0,0,178)"/>
<rect x="284.4" y="427.0" width="22.5" height="22.0" fill="rgb(0,0,141)"/>
<rect x="306.3" y="427.0" width="22.5" height="22.0" fill="rgb(0,0,141)"/>
<rect x="328.2" y="427.0" width="22.5" height="22.0" fill="rgb(0,0,161)"/>
<rect x="350.1" y="427.0" width="22.5" height="22.0" fill="rgb(0,0,180)"/>
<rect x="372.0" y="427.0" width="22.5" height="22.0" fill="rgb(0,0,175)"/>
<rect x="393.9" y="427.0" width="22.5" height="22.0" fill="rgb(0,0,164)"/>
<rect x="415.8" y="427.0" width="22.5" height="22.0" fill="rgb(0,0,160)"/>
<rect x="437.7" y="427.0" width="22.5" height="22.0" fill="rgb(0,0,83)"/>
<rect x="459.6" y="427.0" width="22.5" height="22.0" fill="rgb(0,0,144)"/>
<rect x="481.5" y="427.0" width="22.5" height="22.0" fill="rgb(0,0,156)"/>
<rect x="503.4" y="427.0" width="22.5" height="22.0" fill="rgb(0,0,172)"/>
<rect x="525.3" y="427.0" width="22.5" height="22.0" fill="rgb(0,0,27)"/>
<rect x="547.2" y="427.0" width="22.5" height="22.0" fill="rgb(0,0,26)"/>
<rect x="569.1" y="427.0" width="22.5" height="22.0" fill="rgb(0,0,39)"/>
<rect x="591.0" y="427.0" width="22.5" height="22.0" fill="rgb(0,0,169)"/>
<rect x="612.9" y="427.0" width="22.5" height="22.0" fill="rgb(0,0,170)"/>
<rect x="634.8" y="427.0" width="22.5" height="22.0" fill="rgb(0,0,181)"/>
<rect x="656.7" y="427.0" width="22.5" height="22.0" fill="rgb(0,0,181)"/>
<rect x="-22.2" y="448.4" width="22.5" height="22.0" fill="rgb(0,0,177)"/>
<rect x="-0.3" y="448.4" width="22.5" height="22.0" fill="rgb(0,0,177)"/>
<rect x="21.6" y="448.4" width="22.5" height="22.0" fill="rgb(0,0,161)"/>
<rect x="43.5" y="448.4" width="22.5" height="22.0" fill="rgb(0,0,157)"/>
<rect x="65.4" y="448.4" width="22.5" height="22.0" fill="rgb(0,0,161)"/>
<rect x="87.3" y="448.4" width="22.5" height="22.0" fill="rgb(0,0,164)"/>
<rect x="109.2" y="448.4" width="22.5" height="22.0" fill="rgb(0,0,175)"/>
<rect x="131.1" y="448.4" width="22.5" height="22.0" fill="rgb(0,0,158)"/>
<rect x="153.0" y="448.4" width="22.5" height="22.0" fill="rgb(0,0,165)"/>
<rect x="174.9" y="448.4" width="22.5" height="22.0" fill="rgb(0,0,154)"/>
<rect x="196.8" y="448.4" width="22.5" height="22.0" fill="rgb(0,0,165)"/>
<rect x="218.7" y="448.4" width="22.5" height="22.0" fill="rgb(0,0,133)"/>
<rect x="240.6" y="448.4" width="22.5" height="22.0" fill="rgb(0,0,164)"/>
<rect x="262.5" y="448.4" width="22.5" height="22.0" fill="rgb(0,0,148)"/>
<rect x="284.4" y="448.4" width="22.5" height="22.0" fill="rgb(0,0,154)"/>
<rect x="306.3" y="448.4" width="22.5" height="22.0" fill="rgb(0,0,153)"/>
<rect x="328.2" y="448.4" width="22.5" height="22.0" fill="rgb(0,0,164)"/>
<rect x="350.1" y="448.4" width="22.5" height="22.0" fill="rgb(0,0,203)"/>
<rect x="372.0" y="448.4" width="22.5" height="22.0" fill="rgb(0,0,71)"/>
<rect x="393.9" y="448.4" width="22.5" height="22.0" fill="rgb(0,0,168)"/>
<rect x="415.8" y="448.4" width="22.5" height="22.0" fill="rgb(0,0,181)"/>
<rect x="437.7" y="448.4" width="22.5" height="22.0" fill="rgb(0,0,154)"/>
<rect x="459.6" y="448.4" width="22.5" height="22.0" fill="rgb(0,0,133)"/>
<rect x="481.5" y="448.4" width="22.5" height="22.0" fill="rgb(0,0,156)"/>
<rect x="503.4" y="448.4" width="22.5" height="22.0" fill="rgb(0,0,107)"/>
<rect x="525.3" y="448.4" width="22.5" height="22.0" fill="rgb(0,0,114)"/>
<rect x="547.2" y="448.4" width="22.5" height="22.0" fill="rgb(0,0,165)"/>
<rect x="569.1" y="448.4" width="22.5" height="22.0" fill="rgb(0,0,178)"/>
<rect x="591.0" y="448.4" width="22.5" height="22.0" fill="rgb(0,0,182)"/>
<rect x="612.9" y="448.4" width="22.5" height="22.0" fill="rgb(0,0,183)"/>
<rect x="634.8" y="448.4" width="22.5" height="22.0" fill="rgb(0,0,155)"/>
<rect x="656.7" y="448.4" width="22.5" height="22.0" fill="rgb(0,0,155)"/>
<rect x="-22.2" y="469.8" width="22.5" height="22.0" fill="rgb(0,0,91)"/>
<rect x="-0.3" y="469.8" width="22.5" height="22.0" fill="rgb(0,0,91)"/>
<rect x="21.6" y="469.8" width="22.5" height="22.0" fill="rgb(0,0,192)"/>
<rect x="43.5" y="469.8" width="22.5" height="22.0" fill="rgb(0,0,158)"/>
<rect x="65.4" y="469.8" width="22.5" height="22.0" fill="rgb(0,0,175)"/>
<rect x="87.3" y="469.8" width="22.5" height="22.0" fill="rgb(0,0,168)"/>
<rect x="109.2" y="469.8" width="22.5" height="22.0" fill="rgb(0,0,79)"/>
<rect x="131.1" y="469.8" width="22.5" height="22.0" fill="rgb(0,0,164)"/>
<rect x="153.0" y="469.8" width="22.5" height="22.0" fill="rgb(0,0,83)"/>
<rect x="174.9" y="469.8" width="22.5" height="22.0" fill="rgb(0,0,156)"/>
<rect x="196.8" y="469.8" width="22.5" height="22.0" fill="rgb(0,0,176)"/>
<rect x="218.7" y="469.8" width="22.5" height="22.0" fill="rgb(0,0,164)"/>
<rect x="240.6" y="469.8" width="22.5" height="22.0" fill="rgb(0,0,141)"/>
<rect x="262.5" y="469.8" width="22.5" height="22.0" fill="rgb(0,0,81)"/>
<rect x="284.4" y="469.8" width="22.5" height="22.0" fill="rgb(0,0,160)"/>
<rect x="306.3" y="469.8" width="22.5" height="22.0" fill="rgb(0,0,178)"/>
<rect x="328.2" y="469.8" width="22.5" height="22.0" fill="rgb(0,0,187)"/>
<rect x="350.1" y="469.8" width="22.5" height="22.0" fill="rgb(0,0,184)"/>
<rect x="372.0" y="469.8" width="22.5" height="22.0" fill="rgb(0,0,171)"/>
<rect x="393.9" y="469.8" width="22.5" height="22.0" fill="rgb(0,0,159)"/>
<rect x="415.8" y="469.8" width="22.5" height="22.0" fill="rgb(0,0,153)"/>
<rect x="437.7" y="469.8" width="22.5" height="22.0" fill="rgb(0,0,156)"/>
<rect x="459.6" y="469.8" width="22.5" height="22.0" fill="rgb(0,0,88)"/>
<rect x="481.5" y="469.8" width="22.5" height="22.0" fill="rgb(0,0,152)"/>
<rect x="503.4" y="469.8" width="22.5" height="22.0" fill="rgb(0,0,99)"/>
<rect x="525.3" y="469.8" width="22.5" height="22.0" fill="rgb(0,0,102)"/>
<rect x="547.2" y="469.8" width="22.5" height="22.0" fill="rgb(0,0,168)"/>
<rect x="569.1" y="469.8" width="22.5" height="22.0" fill="rgb(0,0,194)"/>
<rect x="591.0" y="469.8" width="22.5" height="22.0" fill="rgb(0,0,197)"/>
<rect x="612.9" y="469.8" width="22.5" height="22.0" fill="rgb(0,0,165)"/>
<rect x="634.8" y="469.8" width="22.5" height="22.0" fill="rgb(0,0,134)"/>
<rect x="656.7" y="469.8" width="22.5" height="22.0" fill="rgb(0,0,134)"/>
<rect x="-22.2" y="491.1" width="22.5" height="22.0" fill="rgb(0,0,177)"/>
<rect x="-0.3" y="491.1" width="22.5" height="22.0" fill="rgb(0,0,177)"/>
<rect x="21.6" y="491.1" width="22.5" height="22.0" fill="rgb(0,0,159)"/>
<rect x="43.5" y="491.1" width="22.5" height="22.0" fill="rgb(0,0,174)"/>
<rect x="65.4" y="491.1" width="22.5" height="22.0" fill="rgb(0,0,158)"/>
<rect x="87.3" y="491.1" width="22.5" height="22.0" fill="rgb(0,0,157)"/>
<rect x="109.2" y="491.1" width="22.5" height="22.0" fill="rgb(0,0,152)"/>
<rect x="131.1" y="491.1" width="22.5" height="22.0" fill="rgb(0,0,131)"/>
<rect x="153.0" y="491.1" width="22.5" height="22.0" fill="rgb(0,0,149)"/>
<rect x="174.9" y="491.1" width="22.5" height="22.0" fill="rgb(0,0,160)"/>
<rect x="196.8" y="491.1" width="22.5" height="22.0" fill="rgb(0,0,125)"/>
<rect x="218.7" y="491.1" width="22.5" height="22.0" fill="rgb(0,0,136)"/>
<rect x="240.6" y="491.1" width="22.5" height="22.0" fill="rgb(0,0,142)"/>
<rect x="262.5" y="491.1" width="22.5" height="22.0" fill="rgb(0,0,127)"/>
<rect x="284.4" y="491.1" width="22.5" height="22.0" fill="rgb(0,0,150)"/>
<rect x="306.3" y="491.1" width="22.5" height="22.0" fill="rgb(0,0,39)"/>
<rect x="328.2" y="491.1" width="22.5" height="22.0" fill="rgb(0,0,190)"/>
<rect x="350.1" y="491.1" width="22.5" height="22.0" fill="rgb(0,0,85)"/>
<rect x="372.0" y="491.1" width="22.5" height="22.0" fill="rgb(0,0,159)"/>
<rect x="393.9" y="491.1" width="22.5" height="22.0" fill="rgb(0,0,170)"/>
<rect x="415.8" y="491.1" width="22.5" height="22.0" fill="rgb(0,0,153)"/>
<rect x="437.7" y="491.1" width="22.5" height="22.0" fill="rgb(0,0,166)"/>
<rect x="459.6" y="491.1" width="22.5" height="22.0" fill="rgb(0,0,140)"/>
<rect x="481.5" y="491.1" width="22.5" height="22.0" fill="rgb(0,0,139)"/>
<rect x="503.4" y="491.1" width="22.5" height="22.0" fill="rgb(0,0,136)"/>
<rect x="525.3" y="491.1" width="22.5" height="22.0" fill="rgb(0,0,124)"/>
<rect x="547.2" y="491.1" width="22.5" height="22.0" fill="rgb(0,0,158)"/>
<rect x="569.1" y="491.1" width="22.5" height="22.0" fill="rgb(0,0,192)"/>
<rect x="591.0" y="491.1" width="22.5" height="22.0" fill="rgb(0,0,204)"/>
<rect x="612.9" y="491.1" width="22.5" height="22.0" fill="rgb(0,0,157)"/>
<rect x="634.8" y="491.1" width="22.5" height="22.0" fill="rgb(0,0,137)"/>
<rect x="656.7" y="491.1" width="22.5" height="22.0" fill="rgb(0,0,137)"/>
<rect x="-22.2" y="512.5" width="22.5" height="22.0" fill="rgb(0,0,163)"/>
<rect x="-0.3" y="512.5" width="22.5" height="22.0" fill="rgb(0,0,163)"/>
<rect x="21.6" y="512.5" width="22.5" height="22.0" fill="rgb(0,0,143)"/>
<rect x="43.5" y="512.5" width="22.5" height="22.0" fill="rgb(0,0,146)"/>
<rect x="65.4" y="512.5" width="22.5" height="22.0" fill="rgb(0,0,166)"/>
<rect x="87.3" y="512.5" width="22.5" height="22.0" fill="rgb(0,0,100)"/>
<rect x="109.2" y="512.5" width="22.5" height="22.0" fill="rgb(0,0,154)"/>
<rect x="131.1" y="512.5" width="22.5" height="22.0" fill="rgb(0,0,159)"/>
<rect x="153.0" y="512.5" width="22.5" height="22.0" fill="rgb(0,0,146)"/>
<rect x="174.9" y="512.5" width="22.5" height="22.0" fill="rgb(0,0,161)"/>
<rect x="196.8" y="512.5" width="22.5" height="22.0" fill="rgb(0,0,148)"/>
<rect x="218.7" y="512.5" width="22.5" height="22.0" fill="rgb(0,0,149)"/>
<rect x="240.6" y="512.5" width="22.5" height="22.0" fill="rgb(0,0,152)"/>
<rect x="262.5" y="512.5" width="22.5" height="22.0" fill="rgb(0,0,162)"/>
<rect x="284.4" y="512.5" width="22.5" height="22.0" fill="rgb(0,0,163)"/>
<rect x="306.3" y="512.5" width="22.5" height="22.0" fill="rgb(0,0,168)"/>
<rect x="328.2" y="512.5" width="22.5" height="22.0" fill="rgb(0,0,152)"/>
<rect x="350.1" y="512.5" width="22.5" height="22.0" fill="rgb(0,0,197)"/>
<rect x="372.0" y="512.5" width="22.5" height="22.0" fill="rgb(0,0,165)"/>
<rect x="393.9" y="512.5" width="22.5" height="22.0" fill="rgb(0,0,148)"/>
<rect x="415.8" y="512.5" width="22.5" height="22.0" fill="rgb(0,0,194)"/>
<rect x="437.7" y="512.5" width="22.5" height="22.0" fill="rgb(0,0,173)"/>
<rect x="459.6" y="512.5" width="22.5" height="22.0" fill="rgb(0,0,156)"/>
<rect x="481.5" y="512.5" width="22.5" height="22.0" fill="rgb(0,0,134)"/>
<rect x="503.4" y="512.5" width="22.5" height="22.0" fill="rgb(0,0,113)"/>
<rect x="525.3" y="512.5" width="22.5" height="22.0" fill="rgb(0,0,146)"/>
<rect x="547.2" y="512.5" width="22.5" height="22.0" fill="rgb(0,0,179)"/>
<rect x="569.1" y="512.5" width="22.5" height="22.0" fill="rgb(0,0,186)"/>
<rect x="591.0" y="512.5" width="22.5" height="22.0" fill="rgb(0,0,183)"/>
<rect x="612.9" y="512.5" width="22.5" height="22.0" fill="rgb(0,0,157)"/>
<rect x="634.8" y="512.5" width="22.5" height="22.0" fill="rgb(0,0,131)"/>
<rect x="656.7" y="512.5" width="22.5" height="22.0" fill="rgb(0,0,131)"/>
<rect x="-22.2" y="533.9" width="22.5" height="22.0" fill="rgb(0,0,185)"/>
<rect x="-0.3" y="533.9" width="22.5" height="22.0" fill="rgb(0,0,185)"/>
<rect x="21.6" y="533.9" width="22.5" height="22.0" fill="rgb(0,0,163)"/>
<rect x="43.5" y="533.9" width="22.5" height="22.0" fill="rgb(0,0,151)"/>
<rect x="65.4" y="533.9" width="22.5" height="22.0" fill="rgb(0,0,171)"/>
<rect x="87.3" y="533.9" width="22.5" height="22.0" fill="rgb(0,0,164)"/>
<rect x="109.2" y="533.9" width="22.5" height="22.0" fill="rgb(0,0,139)"/>
<rect x="131.1" y="533.9" width="22.5" height="22.0" fill="rgb(0,0,168)"/>
<rect x="153.0" y="533.9" width="22.5" height="22.0" fill="rgb(0,0,189)"/>
<rect x="174.9" y="533.9" width="22.5" height="22.0" fill="rgb(0,0,175)"/>
<rect x="196.8" y="533.9" width="22.5" height="22.0" fill="rgb(0,0,162)"/>
<rect x="218.7" y="533.9" width="22.5" height="22.0" fill="rgb(0,0,149)"/>
<rect x="240.6" y="533.9" width="22.5" height="22.0" fill="rgb(0,0,179)"/>
<rect x="262.5" y="533.9" width="22.5" height="22.0" fill="rgb(0,0,175)"/>
<rect x="284.4" y="533.9" width="22.5" height="22.0" fill="rgb(0,0,165)"/>
<rect x="306.3" y="533.9" width="22.5" height="22.0" fill="rgb(0,0,178)"/>
<rect x="328.2" y="533.9" width="22.5" height="22.0" fill="rgb(0,0,148)"/>
<rect x="350.1" y="533.9" width="22.5" height="22.0" fill="rgb(0,0,74)"/>
<rect x="372.0" y="533.9" width="22.5" height="22.0" fill="rgb(0,0,162)"/>
<rect x="393.9" y="533.9" width="22.5" height="22.0" fill="rgb(0,0,162)"/>
<rect x="415.8" y="533.9" width="22.5" height="22.0" fill="rgb(0,0,45)"/>
<rect x="437.7" y="533.9" width="22.5" height="22.0" fill="rgb(0,0,172)"/>
<rect x="459.6" y="533.9" width="22.5" height="22.0" fill="rgb(0,0,172)"/>
<rect x="481.5" y="533.9" width="22.5" height="22.0" fill="rgb(0,0,112)"/>
<rect x="503.4" y="533.9" width="22.5" height="22.0" fill="rgb(0,0,130)"/>
<rect x="525.3" y="533.9" width="22.5" height="22.0" fill="rgb(0,0,146)"/>
<rect x="547.2" y="533.9" width="22.5" height="22.0" fill="rgb(0,0,195)"/>
<rect x="569.1" y="533.9" width="22.5" height="22.0" fill="rgb(0,0,209)"/>
<rect x="591.0" y="533.9" width="22.5" height="22.0" fill="rgb(0,0,187)"/>
<rect x="612.9" y="533.9" width="22.5" height="22.0" fill="rgb(0,0,122)"/>
<rect x="634.8" y="533.9" width="22.5" height="22.0" fill="rgb(0,0,144)"/>
<rect x="656.7" y="533.9" width="22.5" height="22.0" fill="rgb(0,0,144)"/>
<rect x="-22.2" y="555.2" width="22.5" height="22.0" fill="rgb(0,0,201)"/>
<rect x="-0.3" y="555.2" width="22.5" height="22.0" fill="rgb(0,0,201)"/>
<rect x="21.6" y="555.2" width="22.5" height="22.0" fill="rgb(0,0,182)"/>
<rect x="43.5" y="555.2" width="22.5" height="22.0" fill="rgb(0,0,164)"/>
<rect x="65.4" y="555.2" width="22.5" height="22.0" fill="rgb(0,0,149)"/>
<rect x="87.3" y="555.2" width="22.5" height="22.0" fill="rgb(0,0,163)"/>
<rect x="109.2" y="555.2" width="22.5" height="22.0" fill="rgb(0,0,168)"/>
<rect x="131.1" y="555.2" width="22.5" height="22.0" fill="rgb(0,0,209)"/>
<rect x="153.0" y="555.2" width="22.5" height="22.0" fill="rgb(0,0,169)"/>
<rect x="174.9" y="555.2" width="22.5" height="22.0" fill="rgb(0,0,193)"/>
<rect x="196.8" y="555.2" width="22.5" height="22.0" fill="rgb(0,0,173)"/>
<rect x="218.7" y="555.2" width="22.5" height="22.0" fill="rgb(0,0,204)"/>
<rect x="240.6" y="555.2" width="22.5" height="22.0" fill="rgb(0,0,187)"/>
<rect x="262.5" y="555.2" width="22.5" height="22.0" fill="rgb(0,0,158)"/>
<rect x="284.4" y="555.2" width="22.5" height="22.0" fill="rgb(0,0,152)"/>
<rect x="306.3" y="555.2" width="22.5" height="22.0" fill="rgb(0,0,169)"/>
<rect x="328.2" y="555.2" width="22.5" height="22.0" fill="rgb(0,0,192)"/>
<rect x="350.1" y="555.2" width="22.5" height="22.0" fill="rgb(0,0,141)"/>
<rect x="372.0" y="555.2" width="22.5" height="22.0" fill="rgb(0,0,158)"/>
<rect x="393.9" y="555.2" width="22.5" height="22.0" fill="rgb(0,0,138)"/>
<rect x="415.8" y="555.2" width="22.5" height="22.0" fill="rgb(0,0,158)"/>
<rect x="437.7" y="555.2" width="22.5" height="22.0" fill="rgb(0,0,139)"/>
<rect x="459.6" y="555.2" width="22.5" height="22.0" fill="rgb(0,0,164)"/>
<rect x="481.5" y="555.2" width="22.5" height="22.0" fill="rgb(0,0,171)"/>
<rect x="503.4" y="555.2" width="22.5" height="22.0" fill="rgb(0,0,137)"/>
<rect x="525.3" y="555.2" width="22.5" height="22.0" fill="rgb(0,0,140)"/>
<rect x="547.2" y="555.2" width="22.5" height="22.0" fill="rgb(0,0,180)"/>
<rect x="569.1" y="555.2" width="22.5" height="22.0" fill="rgb(0,0,197)"/>
<rect x="591.0" y="555.2" width="22.5" height="22.0" fill="rgb(0,0,153)"/>
<rect x="612.9" y="555.2" width="22.5" height="22.0" fill="rgb(0,0,152)"/>
<rect x="634.8" y="555.2" width="22.5" height="22.0" fill="rgb(0,0,148)"/>
<rect x="656.7" y="555.2" width="22.5" height="22.0" fill="rgb(0,0,148)"/>
<rect x="-22.2" y="576.6" width="22.5" height="22.0" fill="rgb(0,0,187)"/>
<rect x="-0.3" y="576.6" width="22.5" height="22.0" fill="rgb(0,0,187)"/>
<rect x="21.6" y="576.6" width="22.5" height="22.0" fill="rgb(0,0,185)"/>
<rect x="43.5" y="576.6" width="22.5" height="22.0" fill="rgb(0,0,180)"/>
<rect x="65.4" y="576.6" width="22.5" height="22.0" fill="rgb(0,0,142)"/>
<rect x="87.3" y="576.6" width="22.5" height="22.0" fill="rgb(0,0,145)"/>
<rect x="109.2" y="576.6" width="22.5" height="22.0" fill="rgb(0,0,155)"/>
<rect x="131.1" y="576.6" width="22.5" height="22.0" fill="rgb(0,0,195)"/>
<rect x="153.0" y="576.6" width="22.5" height="22.0" fill="rgb(0,0,205)"/>
<rect x="174.9" y="576.6" width="22.5" height="22.0" fill="rgb(0,0,198)"/>
<rect x="196.8" y="576.6" width="22.5" height="22.0" fill="rgb(0,0,29)"/>
<rect x="218.7" y="576.6" width="22.5" height="22.0" fill="rgb(0,0,155)"/>
<rect x="240.6" y="576.6" width="22.5" height="22.0" fill="rgb(0,0,175)"/>
<rect x="262.5" y="576.6" width="22.5" height="22.0" fill="rgb(0,0,150)"/>
<rect x="284.4" y="576.6" width="22.5" height="22.0" fill="rgb(0,0,144)"/>
<rect x="306.3" y="576.6" width="22.5" height="22.0" fill="rgb(0,0,176)"/>
<rect x="328.2" y="576.6" width="22.5" height="22.0" fill="rgb(0,0,166)"/>
<rect x="350.1" y="576.6" width="22.5" height="22.0" fill="rgb(0,0,156)"/>
<rect x="372.0" y="576.6" width="22.5" height="22.0" fill="rgb(0,0,157)"/>
<rect x="393.9" y="576.6" width="22.5" height="22.0" fill="rgb(0,0,197)"/>
<rect x="415.8" y="576.6" width="22.5" height="22.0" fill="rgb(0,0,150)"/>
<rect x="437.7" y="576.6" width="22.5" height="22.0" fill="rgb(0,0,162)"/>
<rect x="459.6" y="576.6" width="22.5" height="22.0" fill="rgb(0,0,163)"/>
<rect x="481.5" y="576.6" width="22.5" height="22.0" fill="rgb(0,0,149)"/>
<rect x="503.4" y="576.6" width="22.5" height="22.0" fill="rgb(0,0,135)"/>
<rect x="525.3" y="576.6" width="22.5" height="22.0" fill="rgb(0,0,160)"/>
<rect x="547.2" y="576.6" width="22.5" height="22.0" fill="rgb(0,0,151)"/>
<rect x="569.1" y="576.6" width="22.5" height="22.0" fill="rgb(0,0,146)"/>
<rect x="591.0" y="576.6" width="22.5" height="22.0" fill="rgb(0,0,136)"/>
<rect x="612.9" y="576.6" width="22.5" height="22.0" fill="rgb(0,0,150)"/>
<rect x="634.8" y="576.6" width="22.5" height="22.0" fill="rgb(0,0,176)"/>
<rect x="656.7" y="576.6" width="22.5" height="22.0" fill="rgb(0,0,176)"/>
<rect x="-22.2" y="598.0" width="22.5" height="22.0" fill="rgb(0,0,162)"/>
<rect x="-0.3" y="598.0" width="22.5" height="22.0" fill="rgb(0,0,162)"/>
<rect x="21.6" y="598.0" width="22.5" height="22.0" fill="rgb(0,0,185)"/>
<rect x="43.5" y="598.0" width="22.5" height="22.0" fill="rgb(0,0,187)"/>
<rect x="65.4" y="598.0" width="22.5" height="22.0" fill="rgb(0,0,179)"/>
<rect x="87.3" y="598.0" width="22.5" height="22.0" fill="rgb(0,0,170)"/>
<rect x="109.2" y="598.0" width="22.5" height="22.0" fill="rgb(0,0,157)"/>
<rect x="131.1" y="598.0" width="22.5" height="22.0" fill="rgb(0,0,157)"/>
<rect x="153.0" y="598.0" width="22.5" height="22.0" fill="rgb(0,0,172)"/>
<rect x="174.9" y="598.0" width="22.5" height="22.0" fill="rgb(0,0,187)"/>
<rect x="196.8" y="598.0" width="22.5" height="22.0" fill="rgb(0,0,193)"/>
<rect x="218.7" y="598.0" width="22.5" height="22.0" fill="rgb(0,0,81)"/>
<rect x="240.6" y="598.0" width="22.5" height="22.0" fill="rgb(0,0,158)"/>
<rect x="262.5" y="598.0" width="22.5" height="22.0" fill="rgb(0,0,137)"/>
<rect x="284.4" y="598.0" width="22.5" height="22.0" fill="rgb(0,0,165)"/>
<rect x="306.3" y="598.0" width="22.5" height="22.0" fill="rgb(0,0,145)"/>
<rect x="328.2" y="598.0" width="22.5" height="22.0" fill="rgb(0,0,164)"/>
<rect x="350.1" y="598.0" width="22.5" height="22.0" fill="rgb(0,0,81)"/>
<rect x="372.0" y="598.0" width="22.5" height="22.0" fill="rgb(0,0,153)"/>
<rect x="393.9" y="598.0" width="22.5" height="22.0" fill="rgb(0,0,151)"/>
<rect x="415.8" y="598.0" width="22.5" height="22.0" fill="rgb(0,0,129)"/>
<rect x="437.7" y="598.0" width="22.5" height="22.0" fill="rgb(0,0,161)"/>
<rect x="459.6" y="598.0" width="22.5" height="22.0" fill="rgb(0,0,157)"/>
<rect x="481.5" y="598.0" width="22.5" height="22.0" fill="rgb(0,0,165)"/>
<rect x="503.4" y="598.0" width="22.5" height="22.0" fill="rgb(0,0,160)"/>
<rect x="525.3" y="598.0" width="22.5" height="22.0" fill="rgb(0,0,148)"/>
<rect x="547.2" y="598.0" width="22.5" height="22.0" fill="rgb(0,0,140)"/>
<rect x="569.1" y="598.0" width="22.5" height="22.0" fill="rgb(0,0,133)"/>
<rect x="591.0" y="598.0" width="22.5" height="22.0" fill="rgb(0,0,125)"/>
<rect x="612.9" y="598.0" width="22.5" height="22.0" fill="rgb(0,0,164)"/>
<rect x="634.8" y="598.0" width="22.5" height="22.0" fill="rgb(0,0,210)"/>
<rect x="656.7" y="598.0" width="22.5" height="22.0" fill="rgb(0,0,210)"/>
<rect x="-22.2" y="619.3" width="22.5" height="22.0" fill="rgb(0,0,181)"/>
<rect x="-0.3" y="619.3" width="22.5" height="22.0" fill="rgb(0,0,181)"/>
<rect x="21.6" y="619.3" width="22.5" height="22.0" fill="rgb(0,0,156)"/>
<rect x="43.5" y="619.3" width="22.5" height="22.0" fill="rgb(0,0,176)"/>
<rect x="65.4" y="619.3" width="22.5" height="22.0" fill="rgb(0,0,150)"/>
<rect x="87.3" y="619.3" width="22.5" height="22.0" fill="rgb(0,0,153)"/>
<rect x="109.2" y="619.3" width="22.5" height="22.0" fill="rgb(0,0,178)"/>
<rect x="131.1" y="619.3" width="22.5" height="22.0" fill="rgb(0,0,144)"/>
<rect x="153.0" y="619.3" width="22.5" height="22.0" fill="rgb(0,0,134)"/>
<rect x="174.9" y="619.3" width="22.5" height="22.0" fill="rgb(0,0,74)"/>
<rect x="196.8" y="619.3" width="22.5" height="22.0" fill="rgb(0,0,155)"/>
<rect x="218.7" y="619.3" width="22.5" height="22.0" fill="rgb(0,0,172)"/>
<rect x="240.6" y="619.3" width="22.5" height="22.0" fill="rgb(0,0,195)"/>
<rect x="262.5" y="619.3" width="22.5" height="22.0" fill="rgb(0,0,173)"/>
<rect x="284.4" y="619.3" width="22.5" height="22.0" fill="rgb(0,0,173)"/>
<rect x="306.3" y="619.3" width="22.5" height="22.0" fill="rgb(0,0,147)"/>
<rect x="328.2" y="619.3" width="22.5" height="22.0" fill="rgb(0,0,174)"/>
<rect x="350.1" y="619.3" width="22.5" height="22.0" fill="rgb(0,0,177)"/>
<rect x="372.0" y="619.3" width="22.5" height="22.0" fill="rgb(0,0,171)"/>
<rect x="393.9" y="619.3" width="22.5" height="22.0" fill="rgb(0,0,139)"/>
<rect x="415.8" y="619.3" width="22.5" height="22.0" fill="rgb(0,0,36)"/>
<rect x="437.7" y="619.3" width="22.5" height="22.0" fill="rgb(0,0,190)"/>
<rect x="459.6" y="619.3" width="22.5" height="22.0" fill="rgb(0,0,192)"/>
<rect x="481.5" y="619.3" width="22.5" height="22.0" fill="rgb(0,0,178)"/>
<rect x="503.4" y="619.3" width="22.5" height="22.0" fill="rgb(0,0,167)"/>
<rect x="525.3" y="619.3" width="22.5" height="22.0" fill="rgb(0,0,140)"/>
<rect x="547.2" y="619.3" width="22.5" height="22.0" fill="rgb(0,0,128)"/>
<rect x="569.1" y="619.3" width="22.5" height="22.0" fill="rgb(0,0,125)"/>
<rect x="591.0" y="619.3" width="22.5" height="22.0" fill="rgb(0,0,131)"/>
<rect x="612.9" y="619.3" width="22.5" height="22.0" fill="rgb(0,0,197)"/>
<rect x="634.8" y="619.3" width="22.5" height="22.0" fill="rgb(0,0,198)"/>
<rect x="656.7" y="619.3" width="22.5" height="22.0" fill="rgb(0,0,198)"/>
<rect x="-22.2" y="640.7" width="22.5" height="22.0" fill="rgb(0,0,181)"/>
<rect x="-0.3" y="640.7" width="22.5" height="22.0" fill="rgb(0,0,181)"/>
<rect x="21.6" y="640.7" width="22.5" height="22.0" fill="rgb(0,0,156)"/>
<rect x="43.5" y="640.7" width="22.5" height="22.0" fill="rgb(0,0,176)"/>
<rect x="65.4" y="640.7" width="22.5" height="22.0" fill="rgb(0,0,150)"/>
<rect x="87.3" y="640.7" width="22.5" height="22.0" fill="rgb(0,0,153)"/>
<rect x="109.2" y="640.7" width="22.5" height="22.0" fill="rgb(0,0,178)"/>
<rect x="131.1" y="640.7" width="22.5" height="22.0" fill="rgb(0,0,144)"/>
<rect x="153.0" y="640.7" width="22.5" height="22.0" fill="rgb(0,0,134)"/>
<rect x="174.9" y="640.7" width="22.5" height="22.0" fill="rgb(0,0,74)"/>
<rect x="196.8" y="640.7" width="22.5" height="22.0" fill="rgb(0,0,155)"/>
<rect x="218.7" y="640.7" width="22.5" height="22.0" fill="rgb(0,0,172)"/>
<rect x="240.6" y="640.7" width="22.5" height="22.0" fill="rgb(0,0,195)"/>
<rect x="262.5" y="640.7" width="22.5" height="22.0" fill="rgb(0,0,173)"/>
<rect x="284.4" y="640.7" width="22.5" height="22.0" fill="rgb(0,0,173)"/>
<rect x="306.3" y="640.7" width="22.5" height="22.0" fill="rgb(0,0,147)"/>
<rect x="328.2" y="640.7" width="22.5" height="22.0" fill="rgb(0,0,174)"/>
<rect x="350.1" y="640.7" width="22.5" height="22.0" fill="rgb(0,0,177)"/>
<rect x="372.0" y="640.7" width="22.5" height="22.0" fill="rgb(0,0,171)"/>
<rect x="393.9" y="640.7" width="22.5" height="22.0" fill="rgb(0,0,139)"/>
<rect x="415.8" y="640.7" width="22.5" height="22.0" fill="rgb(0,0,36)"/>
<rect x="437.7" y="640.7" width="22.5" height="22.0" fill="rgb(0,0,190)"/>
<rect x="459.6" y="640.7" width="22.5" height="22.0" fill="rgb(0,0,192)"/>
<rect x="481.5" y="640.7" width="22.5" height="22.0" fill="rgb(0,0,178)"/>
<rect x="503.4" y="640.7" width="22.5" height="22.0" fill="rgb(0,0,167)"/>
<rect x="525.3" y="640.7" width="22.5" height="22.0" fill="rgb(0,0,140)"/>
<rect x="547.2" y="640.7" width="22.5" height="22.0" fill="rgb(0,0,128)"/>
<rect x="569.1" y="640.7" width="22.5" height="22.0" fill="rgb(0,0,125)"/>
<rect x="591.0" y="640.7" width="22.5" height="22.0" fill="rgb(0,0,131)"/>
<rect x="612.9" y="640.7" width="22.5" height="22.0" fill="rgb(0,0,197)"/>
<rect x="634.8" y="640.7" width="22.5" height="22.0" fill="rgb(0,0,198)"/>
<rect x="656.7" y="640.7" width="22.5" height="22.0" fill="rgb(0,0,198)"/>
</g></svg>
<rect x="1641.75" y="857.75" width="51.25" height="51.25" fill="#fff" stroke="#444" stroke-width="3.5"/>
<text id="t_lab_e" x="1653.5" y="898.5" font-size="51.3" font-weight="bold" fill="#111"  textLength="31.2" lengthAdjust="spacingAndGlyphs">e</text>
<text id="t_wn_e" x="1656.0" y="998.6" font-size="44.9" font-weight="bold" fill="#f2f2f2"  textLength="211.1" lengthAdjust="spacingAndGlyphs">1580 cm<tspan dy="-16.2" font-size="27.9">−1</tspan></text>
<rect x="2151" y="1406" width="140" height="88.5" fill="#fff"/>
<rect x="2175" y="1414" width="96" height="19" fill="#000"/>
<text id="t_sb_e" x="2160.0" y="1476.0" font-size="44.2" font-weight="bold" fill="#000"  textLength="126.0" lengthAdjust="spacingAndGlyphs">10 μm</text>
<rect x="2319.5" y="858" width="4.5" height="643" fill="url(#cbR)"/>
<rect x="2324.0" y="858" width="6.8" height="643" fill="url(#cbG)"/>
<rect x="2330.8" y="858" width="3.8" height="643" fill="url(#cbB)"/>
<text id="t_cb_e0" x="2342.5" y="1496.0" font-size="34.3" font-weight="bold" fill="#222"  textLength="17.5" lengthAdjust="spacingAndGlyphs">0</text>
<text id="t_cb_e200" x="2342.5" y="1340.0" font-size="34.3" font-weight="bold" fill="#222"  textLength="54.1" lengthAdjust="spacingAndGlyphs">200</text>
<text id="t_cb_e400" x="2343.5" y="1184.0" font-size="34.3" font-weight="bold" fill="#222"  textLength="53.1" lengthAdjust="spacingAndGlyphs">400</text>
<text id="t_cb_e600" x="2342.5" y="1028.0" font-size="34.3" font-weight="bold" fill="#222"  textLength="54.1" lengthAdjust="spacingAndGlyphs">600</text>
<text id="t_cb_e800" x="2342.5" y="872.0" font-size="34.3" font-weight="bold" fill="#222"  textLength="54.1" lengthAdjust="spacingAndGlyphs">800</text>
</svg>
</body></html>
